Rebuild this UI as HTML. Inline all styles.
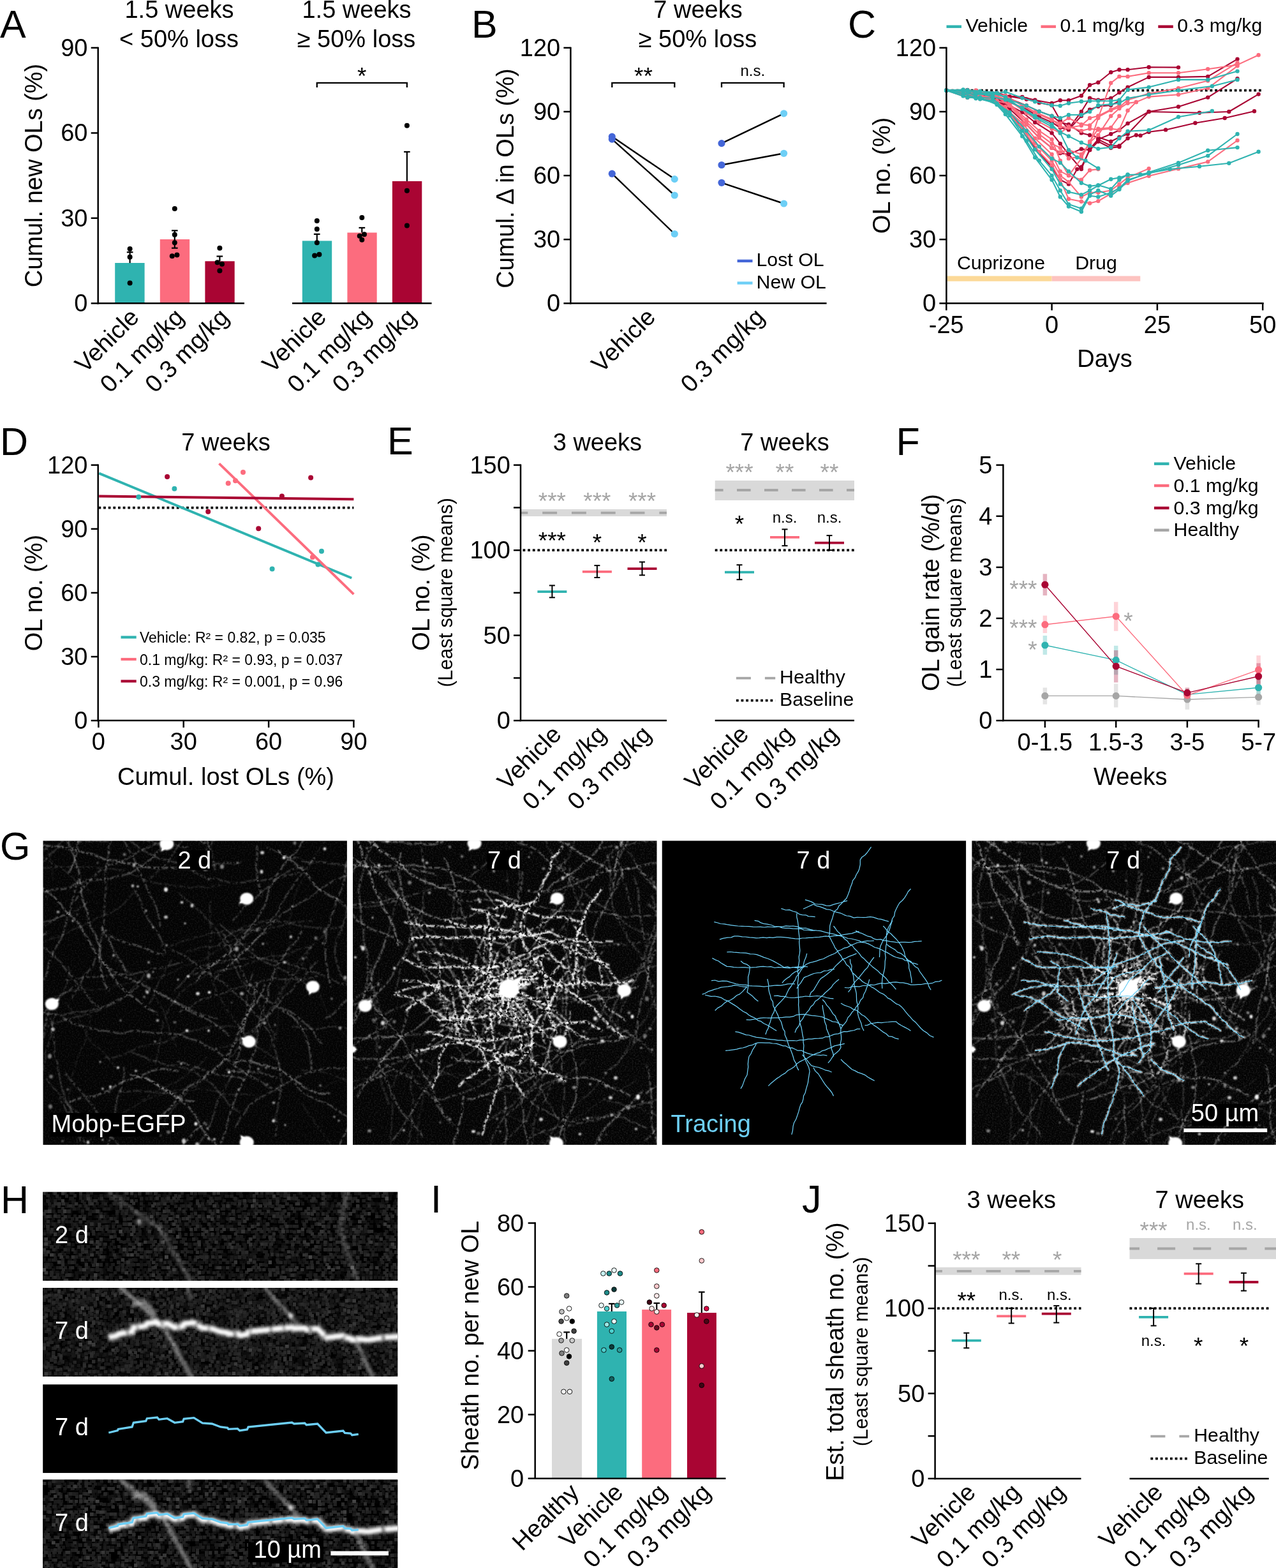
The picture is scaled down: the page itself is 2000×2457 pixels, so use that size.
<!DOCTYPE html>
<html><head><meta charset="utf-8"><title>Figure</title>
<style>
html,body{margin:0;padding:0;background:#fff;}
body{width:2000px;height:2457px;overflow:hidden;}
svg{display:block;font-family:"Liberation Sans",Arial,Helvetica,sans-serif;}
</style></head><body>
<svg width="2000" height="2457" viewBox="0 0 2000 2457">
<rect width="2000" height="2457" fill="#fff"/>
<text x="0.0" y="59.4" font-size="61" text-anchor="start" fill="#000" >A</text>
<rect x="180.2" y="412.0" width="46.4" height="63.3" fill="#2FB3B0" />
<rect x="250.8" y="375.0" width="46.4" height="100.3" fill="#FC6C7E" />
<rect x="321.4" y="409.3" width="46.3" height="66.0" fill="#A90533" />
<rect x="473.8" y="377.4" width="46.4" height="97.9" fill="#2FB3B0" />
<rect x="544.4" y="364.5" width="46.3" height="110.8" fill="#FC6C7E" />
<rect x="614.9" y="283.9" width="46.4" height="191.4" fill="#A90533" />
<line x1="153.7" y1="73.7" x2="153.7" y2="476.6" stroke="#000" stroke-width="2.5" />
<line x1="142.7" y1="74.9" x2="153.7" y2="74.9" stroke="#000" stroke-width="2.5" />
<text x="137.5" y="87.9" font-size="38" text-anchor="end" fill="#000" >90</text>
<line x1="142.7" y1="208.4" x2="153.7" y2="208.4" stroke="#000" stroke-width="2.5" />
<text x="137.5" y="221.4" font-size="38" text-anchor="end" fill="#000" >60</text>
<line x1="142.7" y1="341.8" x2="153.7" y2="341.8" stroke="#000" stroke-width="2.5" />
<text x="137.5" y="354.8" font-size="38" text-anchor="end" fill="#000" >30</text>
<line x1="142.7" y1="475.3" x2="153.7" y2="475.3" stroke="#000" stroke-width="2.5" />
<text x="137.5" y="488.3" font-size="38" text-anchor="end" fill="#000" >0</text>
<line x1="152.4" y1="475.3" x2="383.0" y2="475.3" stroke="#000" stroke-width="2.5" />
<line x1="458.0" y1="475.3" x2="676.6" y2="475.3" stroke="#000" stroke-width="2.5" />
<line x1="203.6" y1="395.2" x2="203.6" y2="412.1" stroke="#000" stroke-width="2.2" />
<line x1="198.8" y1="395.2" x2="208.5" y2="395.2" stroke="#000" stroke-width="2.2" />
<line x1="273.8" y1="361.3" x2="273.8" y2="388.7" stroke="#000" stroke-width="2.2" />
<line x1="269.0" y1="361.3" x2="278.6" y2="361.3" stroke="#000" stroke-width="2.2" />
<line x1="269.0" y1="388.7" x2="278.6" y2="388.7" stroke="#000" stroke-width="2.2" />
<line x1="344.4" y1="401.6" x2="344.4" y2="409.3" stroke="#000" stroke-width="2.2" />
<line x1="339.5" y1="401.6" x2="349.2" y2="401.6" stroke="#000" stroke-width="2.2" />
<line x1="496.8" y1="366.9" x2="496.8" y2="377.4" stroke="#000" stroke-width="2.2" />
<line x1="491.9" y1="366.9" x2="501.6" y2="366.9" stroke="#000" stroke-width="2.2" />
<line x1="567.3" y1="356.9" x2="567.3" y2="364.5" stroke="#000" stroke-width="2.2" />
<line x1="562.5" y1="356.9" x2="572.2" y2="356.9" stroke="#000" stroke-width="2.2" />
<line x1="637.9" y1="237.9" x2="637.9" y2="283.9" stroke="#000" stroke-width="2.2" />
<line x1="633.1" y1="237.9" x2="642.7" y2="237.9" stroke="#000" stroke-width="2.2" />
<circle cx="203.6" cy="389.9" r="4" fill="#000" />
<circle cx="203.6" cy="402.8" r="4" fill="#000" />
<circle cx="203.6" cy="443.5" r="4" fill="#000" />
<circle cx="273.8" cy="327.0" r="4" fill="#000" />
<circle cx="273.8" cy="367.7" r="4" fill="#000" />
<circle cx="273.8" cy="380.2" r="4" fill="#000" />
<circle cx="269.8" cy="401.2" r="4" fill="#000" />
<circle cx="277.4" cy="399.6" r="4" fill="#000" />
<circle cx="344.4" cy="388.7" r="4" fill="#000" />
<circle cx="340.7" cy="411.3" r="4" fill="#000" />
<circle cx="348.0" cy="413.7" r="4" fill="#000" />
<circle cx="344.4" cy="424.2" r="4" fill="#000" />
<circle cx="496.8" cy="346.0" r="4" fill="#000" />
<circle cx="496.8" cy="358.9" r="4" fill="#000" />
<circle cx="496.8" cy="380.2" r="4" fill="#000" />
<circle cx="493.1" cy="400.4" r="4" fill="#000" />
<circle cx="500.4" cy="398.8" r="4" fill="#000" />
<circle cx="567.3" cy="341.1" r="4" fill="#000" />
<circle cx="563.7" cy="369.8" r="4" fill="#000" />
<circle cx="571.0" cy="367.3" r="4" fill="#000" />
<circle cx="567.3" cy="375.8" r="4" fill="#000" />
<circle cx="637.9" cy="196.8" r="4" fill="#000" />
<circle cx="637.9" cy="298.8" r="4" fill="#000" />
<circle cx="637.9" cy="353.6" r="4" fill="#000" />
<polyline points="496.8,137.1 496.8,129.8 637.9,129.8 637.9,137.1" fill="none" stroke="#000" stroke-width="2.3" />
<text x="567.3" y="132.1" font-size="37" text-anchor="middle" fill="#000" >*</text>
<text x="281.0" y="27.6" font-size="38" text-anchor="middle" fill="#000" >1.5 weeks</text>
<text x="280.5" y="74.0" font-size="38" text-anchor="middle" fill="#000" >&lt; 50% loss</text>
<text x="559.0" y="27.6" font-size="38" text-anchor="middle" fill="#000" >1.5 weeks</text>
<text x="558.5" y="74.0" font-size="38" text-anchor="middle" fill="#000" >≥ 50% loss</text>
<text x="65.8" y="275.0" font-size="38" text-anchor="middle" fill="#000" transform="rotate(-90 65.8 275.0)" >Cumul. new OLs (%)</text>
<text x="219.9" y="499.3" font-size="38" text-anchor="end" fill="#000" transform="rotate(-45 219.9 499.3)" >Vehicle</text>
<text x="290.5" y="499.3" font-size="38" text-anchor="end" fill="#000" transform="rotate(-45 290.5 499.3)" >0.1 mg/kg</text>
<text x="361.0" y="499.3" font-size="38" text-anchor="end" fill="#000" transform="rotate(-45 361.0 499.3)" >0.3 mg/kg</text>
<text x="513.5" y="499.3" font-size="38" text-anchor="end" fill="#000" transform="rotate(-45 513.5 499.3)" >Vehicle</text>
<text x="584.0" y="499.3" font-size="38" text-anchor="end" fill="#000" transform="rotate(-45 584.0 499.3)" >0.1 mg/kg</text>
<text x="654.5" y="499.3" font-size="38" text-anchor="end" fill="#000" transform="rotate(-45 654.5 499.3)" >0.3 mg/kg</text>
<text x="739.0" y="59.4" font-size="61" text-anchor="start" fill="#000" >B</text>
<line x1="894.4" y1="73.7" x2="894.4" y2="476.6" stroke="#000" stroke-width="2.5" />
<line x1="883.4" y1="74.9" x2="894.4" y2="74.9" stroke="#000" stroke-width="2.5" />
<text x="878.2" y="87.9" font-size="38" text-anchor="end" fill="#000" >120</text>
<line x1="883.4" y1="175.0" x2="894.4" y2="175.0" stroke="#000" stroke-width="2.5" />
<text x="878.2" y="188.0" font-size="38" text-anchor="end" fill="#000" >90</text>
<line x1="883.4" y1="275.1" x2="894.4" y2="275.1" stroke="#000" stroke-width="2.5" />
<text x="878.2" y="288.1" font-size="38" text-anchor="end" fill="#000" >60</text>
<line x1="883.4" y1="375.2" x2="894.4" y2="375.2" stroke="#000" stroke-width="2.5" />
<text x="878.2" y="388.2" font-size="38" text-anchor="end" fill="#000" >30</text>
<line x1="883.4" y1="475.3" x2="894.4" y2="475.3" stroke="#000" stroke-width="2.5" />
<text x="878.2" y="488.3" font-size="38" text-anchor="end" fill="#000" >0</text>
<line x1="893.1" y1="475.3" x2="1295.6" y2="475.3" stroke="#000" stroke-width="2.5" />
<line x1="959.3" y1="214.1" x2="1057.3" y2="280.6" stroke="#000" stroke-width="2.4" />
<line x1="959.3" y1="218.1" x2="1057.3" y2="306.0" stroke="#000" stroke-width="2.4" />
<line x1="959.3" y1="272.2" x2="1057.3" y2="366.5" stroke="#000" stroke-width="2.4" />
<line x1="1131.0" y1="224.6" x2="1228.6" y2="177.8" stroke="#000" stroke-width="2.4" />
<line x1="1131.0" y1="258.5" x2="1228.6" y2="240.3" stroke="#000" stroke-width="2.4" />
<line x1="1131.0" y1="286.3" x2="1228.6" y2="319.0" stroke="#000" stroke-width="2.4" />
<circle cx="959.3" cy="214.1" r="5.6" fill="#4466D8" />
<circle cx="1057.3" cy="280.6" r="5.6" fill="#6DCFF6" />
<circle cx="959.3" cy="218.1" r="5.6" fill="#4466D8" />
<circle cx="1057.3" cy="306.0" r="5.6" fill="#6DCFF6" />
<circle cx="959.3" cy="272.2" r="5.6" fill="#4466D8" />
<circle cx="1057.3" cy="366.5" r="5.6" fill="#6DCFF6" />
<circle cx="1131.0" cy="224.6" r="5.6" fill="#4466D8" />
<circle cx="1228.6" cy="177.8" r="5.6" fill="#6DCFF6" />
<circle cx="1131.0" cy="258.5" r="5.6" fill="#4466D8" />
<circle cx="1228.6" cy="240.3" r="5.6" fill="#6DCFF6" />
<circle cx="1131.0" cy="286.3" r="5.6" fill="#4466D8" />
<circle cx="1228.6" cy="319.0" r="5.6" fill="#6DCFF6" />
<polyline points="959.3,137.1 959.3,129.8 1057.3,129.8 1057.3,137.1" fill="none" stroke="#000" stroke-width="2.3" />
<polyline points="1131.0,137.1 1131.0,129.8 1228.6,129.8 1228.6,137.1" fill="none" stroke="#000" stroke-width="2.3" />
<text x="1008.5" y="132.1" font-size="37" text-anchor="middle" fill="#000" >**</text>
<text x="1179.8" y="119.0" font-size="24" text-anchor="middle" fill="#000" >n.s.</text>
<text x="1094.0" y="27.6" font-size="38" text-anchor="middle" fill="#000" >7 weeks</text>
<text x="1093.5" y="74.0" font-size="38" text-anchor="middle" fill="#000" >≥ 50% loss</text>
<text x="805.2" y="279.5" font-size="38" text-anchor="middle" fill="#000" transform="rotate(-90 805.2 279.5)" >Cumul. Δ in OLs (%)</text>
<line x1="1155.6" y1="408.9" x2="1179.5" y2="408.9" stroke="#4466D8" stroke-width="4.4" />
<text x="1185.5" y="416.5" font-size="30.3" text-anchor="start" fill="#000" >Lost OL</text>
<line x1="1155.6" y1="443.5" x2="1179.5" y2="443.5" stroke="#6DCFF6" stroke-width="4.4" />
<text x="1185.5" y="451.5" font-size="30.3" text-anchor="start" fill="#000" >New OL</text>
<text x="1029.5" y="499.0" font-size="38" text-anchor="end" fill="#000" transform="rotate(-45 1029.5 499.0)" >Vehicle</text>
<text x="1200.5" y="499.0" font-size="38" text-anchor="end" fill="#000" transform="rotate(-45 1200.5 499.0)" >0.3 mg/kg</text>
<text x="1329.0" y="59.4" font-size="61" text-anchor="start" fill="#000" >C</text>
<rect x="1484.5" y="432.5" width="164.1" height="8.2" fill="#FCD998" />
<rect x="1648.6" y="432.5" width="138.7" height="8.2" fill="#FDC3C0" />
<text x="1569.0" y="422.2" font-size="30.3" text-anchor="middle" fill="#000" >Cuprizone</text>
<text x="1718.0" y="422.2" font-size="30.3" text-anchor="middle" fill="#000" >Drug</text>
<line x1="1483.4" y1="141.6" x2="1979.4" y2="141.6" stroke="#000" stroke-width="3.8" stroke-dasharray="3.8 3.85"/>
<polyline points="1483.3,141.6 1509.7,143.0 1529.6,147.5 1556.0,145.9 1575.9,150.2 1602.3,151.9 1622.2,156.7 1648.6,161.7 1661.8,157.3 1675.0,157.3 1694.9,150.0 1708.1,133.3 1721.3,129.3 1741.2,113.3 1754.4,109.3 1767.6,109.3 1800.7,105.3 1847.0,105.6" fill="none" stroke="#A90533" stroke-width="2.1" stroke-linejoin="round"/>
<g fill="#A90533"><circle cx="1483.3" cy="141.6" r="3.2"/><circle cx="1509.7" cy="143.0" r="3.2"/><circle cx="1529.6" cy="147.5" r="3.2"/><circle cx="1556.0" cy="145.9" r="3.2"/><circle cx="1575.9" cy="150.2" r="3.2"/><circle cx="1602.3" cy="151.9" r="3.2"/><circle cx="1622.2" cy="156.7" r="3.2"/><circle cx="1648.6" cy="161.7" r="3.2"/><circle cx="1661.8" cy="157.3" r="3.2"/><circle cx="1675.0" cy="157.3" r="3.2"/><circle cx="1694.9" cy="150.0" r="3.2"/><circle cx="1708.1" cy="133.3" r="3.2"/><circle cx="1721.3" cy="129.3" r="3.2"/><circle cx="1741.2" cy="113.3" r="3.2"/><circle cx="1754.4" cy="109.3" r="3.2"/><circle cx="1767.6" cy="109.3" r="3.2"/><circle cx="1800.7" cy="105.3" r="3.2"/><circle cx="1847.0" cy="105.6" r="3.2"/></g>
<polyline points="1483.3,141.6 1516.4,140.9 1536.2,146.9 1562.6,145.4 1582.5,151.2 1608.9,155.5 1628.8,160.9 1648.6,165.0 1661.8,188.3 1675.0,201.7 1694.9,175.0 1708.1,153.6 1721.3,156.6 1741.2,154.0 1754.4,145.0 1767.6,136.6 1800.7,120.9 1847.0,120.9 1893.2,119.9 1939.5,92.6" fill="none" stroke="#A90533" stroke-width="2.1" stroke-linejoin="round"/>
<g fill="#A90533"><circle cx="1483.3" cy="141.6" r="3.2"/><circle cx="1516.4" cy="140.9" r="3.2"/><circle cx="1536.2" cy="146.9" r="3.2"/><circle cx="1562.6" cy="145.4" r="3.2"/><circle cx="1582.5" cy="151.2" r="3.2"/><circle cx="1608.9" cy="155.5" r="3.2"/><circle cx="1628.8" cy="160.9" r="3.2"/><circle cx="1648.6" cy="165.0" r="3.2"/><circle cx="1661.8" cy="188.3" r="3.2"/><circle cx="1675.0" cy="201.7" r="3.2"/><circle cx="1694.9" cy="175.0" r="3.2"/><circle cx="1708.1" cy="153.6" r="3.2"/><circle cx="1721.3" cy="156.6" r="3.2"/><circle cx="1741.2" cy="154.0" r="3.2"/><circle cx="1754.4" cy="145.0" r="3.2"/><circle cx="1767.6" cy="136.6" r="3.2"/><circle cx="1800.7" cy="120.9" r="3.2"/><circle cx="1847.0" cy="120.9" r="3.2"/><circle cx="1893.2" cy="119.9" r="3.2"/><circle cx="1939.5" cy="92.6" r="3.2"/></g>
<polyline points="1483.3,141.6 1509.7,144.6 1529.6,150.1 1556.0,151.2 1575.9,161.6 1602.3,175.8 1622.2,191.7 1648.6,208.4 1661.8,225.1 1675.0,241.7 1694.9,265.1 1708.1,233.4 1721.3,218.4 1741.2,210.0 1754.4,204.0 1767.6,193.4 1800.7,175.0 1847.0,167.3 1893.2,152.6 1939.5,123.3" fill="none" stroke="#A90533" stroke-width="2.1" stroke-linejoin="round"/>
<g fill="#A90533"><circle cx="1483.3" cy="141.6" r="3.2"/><circle cx="1509.7" cy="144.6" r="3.2"/><circle cx="1529.6" cy="150.1" r="3.2"/><circle cx="1556.0" cy="151.2" r="3.2"/><circle cx="1575.9" cy="161.6" r="3.2"/><circle cx="1602.3" cy="175.8" r="3.2"/><circle cx="1622.2" cy="191.7" r="3.2"/><circle cx="1648.6" cy="208.4" r="3.2"/><circle cx="1661.8" cy="225.1" r="3.2"/><circle cx="1675.0" cy="241.7" r="3.2"/><circle cx="1694.9" cy="265.1" r="3.2"/><circle cx="1708.1" cy="233.4" r="3.2"/><circle cx="1721.3" cy="218.4" r="3.2"/><circle cx="1741.2" cy="210.0" r="3.2"/><circle cx="1754.4" cy="204.0" r="3.2"/><circle cx="1767.6" cy="193.4" r="3.2"/><circle cx="1800.7" cy="175.0" r="3.2"/><circle cx="1847.0" cy="167.3" r="3.2"/><circle cx="1893.2" cy="152.6" r="3.2"/><circle cx="1939.5" cy="123.3" r="3.2"/></g>
<polyline points="1483.3,141.6 1516.4,142.4 1536.2,146.6 1562.6,155.1 1582.5,170.4 1608.9,195.0 1628.8,215.9 1648.6,231.7 1661.8,240.1 1675.0,241.7 1694.9,233.4 1708.1,235.1 1721.3,218.4 1741.2,228.4 1754.4,228.4 1767.6,216.7 1780.8,211.7 1787.5,212.4 1800.7,206.7 1827.1,203.4 1873.4,192.7 1919.7,185.0 1966.0,174.3" fill="none" stroke="#A90533" stroke-width="2.1" stroke-linejoin="round"/>
<g fill="#A90533"><circle cx="1483.3" cy="141.6" r="3.2"/><circle cx="1516.4" cy="142.4" r="3.2"/><circle cx="1536.2" cy="146.6" r="3.2"/><circle cx="1562.6" cy="155.1" r="3.2"/><circle cx="1582.5" cy="170.4" r="3.2"/><circle cx="1608.9" cy="195.0" r="3.2"/><circle cx="1628.8" cy="215.9" r="3.2"/><circle cx="1648.6" cy="231.7" r="3.2"/><circle cx="1661.8" cy="240.1" r="3.2"/><circle cx="1675.0" cy="241.7" r="3.2"/><circle cx="1694.9" cy="233.4" r="3.2"/><circle cx="1708.1" cy="235.1" r="3.2"/><circle cx="1721.3" cy="218.4" r="3.2"/><circle cx="1741.2" cy="228.4" r="3.2"/><circle cx="1754.4" cy="228.4" r="3.2"/><circle cx="1767.6" cy="216.7" r="3.2"/><circle cx="1780.8" cy="211.7" r="3.2"/><circle cx="1787.5" cy="212.4" r="3.2"/><circle cx="1800.7" cy="206.7" r="3.2"/><circle cx="1827.1" cy="203.4" r="3.2"/><circle cx="1873.4" cy="192.7" r="3.2"/><circle cx="1919.7" cy="185.0" r="3.2"/><circle cx="1966.0" cy="174.3" r="3.2"/></g>
<polyline points="1483.3,141.6 1516.4,144.1 1536.2,146.5 1562.6,147.3 1582.5,154.6 1608.9,165.4 1628.8,174.6 1648.6,181.7 1661.8,191.7 1675.0,195.0 1694.9,208.4 1708.1,211.7 1721.3,215.0 1741.2,221.7 1754.4,215.0 1767.6,210.0 1800.7,175.0 1880.0,176.7 1926.3,175.0 1972.6,147.6" fill="none" stroke="#A90533" stroke-width="2.1" stroke-linejoin="round"/>
<g fill="#A90533"><circle cx="1483.3" cy="141.6" r="3.2"/><circle cx="1516.4" cy="144.1" r="3.2"/><circle cx="1536.2" cy="146.5" r="3.2"/><circle cx="1562.6" cy="147.3" r="3.2"/><circle cx="1582.5" cy="154.6" r="3.2"/><circle cx="1608.9" cy="165.4" r="3.2"/><circle cx="1628.8" cy="174.6" r="3.2"/><circle cx="1648.6" cy="181.7" r="3.2"/><circle cx="1661.8" cy="191.7" r="3.2"/><circle cx="1675.0" cy="195.0" r="3.2"/><circle cx="1694.9" cy="208.4" r="3.2"/><circle cx="1708.1" cy="211.7" r="3.2"/><circle cx="1721.3" cy="215.0" r="3.2"/><circle cx="1741.2" cy="221.7" r="3.2"/><circle cx="1754.4" cy="215.0" r="3.2"/><circle cx="1767.6" cy="210.0" r="3.2"/><circle cx="1800.7" cy="175.0" r="3.2"/><circle cx="1880.0" cy="176.7" r="3.2"/><circle cx="1926.3" cy="175.0" r="3.2"/><circle cx="1972.6" cy="147.6" r="3.2"/></g>
<polyline points="1483.3,141.6 1509.7,142.8 1529.6,146.7 1556.0,155.7 1575.9,165.8 1602.3,203.2 1622.2,231.8 1648.6,261.8 1661.8,281.8 1675.0,288.4 1688.3,265.1 1694.9,261.8 1708.1,235.1 1721.3,221.7 1741.2,231.7 1754.4,230.1" fill="none" stroke="#A90533" stroke-width="2.1" stroke-linejoin="round"/>
<g fill="#A90533"><circle cx="1483.3" cy="141.6" r="3.2"/><circle cx="1509.7" cy="142.8" r="3.2"/><circle cx="1529.6" cy="146.7" r="3.2"/><circle cx="1556.0" cy="155.7" r="3.2"/><circle cx="1575.9" cy="165.8" r="3.2"/><circle cx="1602.3" cy="203.2" r="3.2"/><circle cx="1622.2" cy="231.8" r="3.2"/><circle cx="1648.6" cy="261.8" r="3.2"/><circle cx="1661.8" cy="281.8" r="3.2"/><circle cx="1675.0" cy="288.4" r="3.2"/><circle cx="1688.3" cy="265.1" r="3.2"/><circle cx="1694.9" cy="261.8" r="3.2"/><circle cx="1708.1" cy="235.1" r="3.2"/><circle cx="1721.3" cy="221.7" r="3.2"/><circle cx="1741.2" cy="231.7" r="3.2"/><circle cx="1754.4" cy="230.1" r="3.2"/></g>
<polyline points="1483.3,141.6 1516.4,146.6 1536.2,149.5 1562.6,150.2 1582.5,160.3 1608.9,171.3 1628.8,182.9 1648.6,191.7 1661.8,200.0 1675.0,203.4 1694.9,181.7 1708.1,171.7 1721.3,166.7 1741.2,165.0 1754.4,158.3" fill="none" stroke="#A90533" stroke-width="2.1" stroke-linejoin="round"/>
<g fill="#A90533"><circle cx="1483.3" cy="141.6" r="3.2"/><circle cx="1516.4" cy="146.6" r="3.2"/><circle cx="1536.2" cy="149.5" r="3.2"/><circle cx="1562.6" cy="150.2" r="3.2"/><circle cx="1582.5" cy="160.3" r="3.2"/><circle cx="1608.9" cy="171.3" r="3.2"/><circle cx="1628.8" cy="182.9" r="3.2"/><circle cx="1648.6" cy="191.7" r="3.2"/><circle cx="1661.8" cy="200.0" r="3.2"/><circle cx="1675.0" cy="203.4" r="3.2"/><circle cx="1694.9" cy="181.7" r="3.2"/><circle cx="1708.1" cy="171.7" r="3.2"/><circle cx="1721.3" cy="166.7" r="3.2"/><circle cx="1741.2" cy="165.0" r="3.2"/><circle cx="1754.4" cy="158.3" r="3.2"/></g>
<polyline points="1483.3,141.6 1516.4,153.1 1536.2,151.0 1562.6,151.7 1582.5,165.8 1608.9,195.0 1628.8,215.9 1648.6,231.7 1661.8,238.4 1675.0,235.1 1694.9,241.7 1708.1,225.1 1721.3,185.0 1741.2,130.0 1754.4,119.9 1767.6,119.9 1800.7,114.3 1847.0,114.3 1893.2,108.3 1939.5,101.6 1972.6,86.2" fill="none" stroke="#FC6C7E" stroke-width="2.1" stroke-linejoin="round"/>
<g fill="#FC6C7E"><circle cx="1483.3" cy="141.6" r="3.2"/><circle cx="1516.4" cy="153.1" r="3.2"/><circle cx="1536.2" cy="151.0" r="3.2"/><circle cx="1562.6" cy="151.7" r="3.2"/><circle cx="1582.5" cy="165.8" r="3.2"/><circle cx="1608.9" cy="195.0" r="3.2"/><circle cx="1628.8" cy="215.9" r="3.2"/><circle cx="1648.6" cy="231.7" r="3.2"/><circle cx="1661.8" cy="238.4" r="3.2"/><circle cx="1675.0" cy="235.1" r="3.2"/><circle cx="1694.9" cy="241.7" r="3.2"/><circle cx="1708.1" cy="225.1" r="3.2"/><circle cx="1721.3" cy="185.0" r="3.2"/><circle cx="1741.2" cy="130.0" r="3.2"/><circle cx="1754.4" cy="119.9" r="3.2"/><circle cx="1767.6" cy="119.9" r="3.2"/><circle cx="1800.7" cy="114.3" r="3.2"/><circle cx="1847.0" cy="114.3" r="3.2"/><circle cx="1893.2" cy="108.3" r="3.2"/><circle cx="1939.5" cy="101.6" r="3.2"/><circle cx="1972.6" cy="86.2" r="3.2"/></g>
<polyline points="1483.3,141.6 1509.7,147.4 1529.6,144.5 1556.0,146.2 1575.9,149.8 1602.3,165.6 1622.2,176.7 1648.6,188.3 1661.8,193.4 1675.0,185.0 1694.9,195.0 1708.1,196.4 1721.3,183.3 1741.2,172.7 1754.4,168.3 1767.6,156.6 1800.7,146.6 1847.0,138.3 1893.2,126.6 1939.5,98.3" fill="none" stroke="#FC6C7E" stroke-width="2.1" stroke-linejoin="round"/>
<g fill="#FC6C7E"><circle cx="1483.3" cy="141.6" r="3.2"/><circle cx="1509.7" cy="147.4" r="3.2"/><circle cx="1529.6" cy="144.5" r="3.2"/><circle cx="1556.0" cy="146.2" r="3.2"/><circle cx="1575.9" cy="149.8" r="3.2"/><circle cx="1602.3" cy="165.6" r="3.2"/><circle cx="1622.2" cy="176.7" r="3.2"/><circle cx="1648.6" cy="188.3" r="3.2"/><circle cx="1661.8" cy="193.4" r="3.2"/><circle cx="1675.0" cy="185.0" r="3.2"/><circle cx="1694.9" cy="195.0" r="3.2"/><circle cx="1708.1" cy="196.4" r="3.2"/><circle cx="1721.3" cy="183.3" r="3.2"/><circle cx="1741.2" cy="172.7" r="3.2"/><circle cx="1754.4" cy="168.3" r="3.2"/><circle cx="1767.6" cy="156.6" r="3.2"/><circle cx="1800.7" cy="146.6" r="3.2"/><circle cx="1847.0" cy="138.3" r="3.2"/><circle cx="1893.2" cy="126.6" r="3.2"/><circle cx="1939.5" cy="98.3" r="3.2"/></g>
<polyline points="1483.3,141.6 1516.4,144.9 1536.2,151.3 1562.6,150.1 1582.5,158.2 1608.9,177.2 1628.8,191.1 1648.6,201.7 1661.8,208.4 1675.0,198.4 1694.9,205.0 1708.1,201.7 1721.3,203.4 1741.2,201.7 1754.4,203.4 1767.6,173.3 1780.8,160.0 1800.7,151.6 1847.0,148.3 1893.2,138.3 1939.5,103.3" fill="none" stroke="#FC6C7E" stroke-width="2.1" stroke-linejoin="round"/>
<g fill="#FC6C7E"><circle cx="1483.3" cy="141.6" r="3.2"/><circle cx="1516.4" cy="144.9" r="3.2"/><circle cx="1536.2" cy="151.3" r="3.2"/><circle cx="1562.6" cy="150.1" r="3.2"/><circle cx="1582.5" cy="158.2" r="3.2"/><circle cx="1608.9" cy="177.2" r="3.2"/><circle cx="1628.8" cy="191.1" r="3.2"/><circle cx="1648.6" cy="201.7" r="3.2"/><circle cx="1661.8" cy="208.4" r="3.2"/><circle cx="1675.0" cy="198.4" r="3.2"/><circle cx="1694.9" cy="205.0" r="3.2"/><circle cx="1708.1" cy="201.7" r="3.2"/><circle cx="1721.3" cy="203.4" r="3.2"/><circle cx="1741.2" cy="201.7" r="3.2"/><circle cx="1754.4" cy="203.4" r="3.2"/><circle cx="1767.6" cy="173.3" r="3.2"/><circle cx="1780.8" cy="160.0" r="3.2"/><circle cx="1800.7" cy="151.6" r="3.2"/><circle cx="1847.0" cy="148.3" r="3.2"/><circle cx="1893.2" cy="138.3" r="3.2"/><circle cx="1939.5" cy="103.3" r="3.2"/></g>
<polyline points="1483.3,141.6 1516.4,150.2 1536.2,155.1 1562.6,158.2 1582.5,178.4 1608.9,210.8 1628.8,237.9 1648.6,258.4 1661.8,281.8 1675.0,311.8 1694.9,315.8 1708.1,318.5 1721.3,315.1 1741.2,303.5 1754.4,293.5 1767.6,286.8 1800.7,275.8 1847.0,264.4 1893.2,253.4 1939.5,220.0" fill="none" stroke="#FC6C7E" stroke-width="2.1" stroke-linejoin="round"/>
<g fill="#FC6C7E"><circle cx="1483.3" cy="141.6" r="3.2"/><circle cx="1516.4" cy="150.2" r="3.2"/><circle cx="1536.2" cy="155.1" r="3.2"/><circle cx="1562.6" cy="158.2" r="3.2"/><circle cx="1582.5" cy="178.4" r="3.2"/><circle cx="1608.9" cy="210.8" r="3.2"/><circle cx="1628.8" cy="237.9" r="3.2"/><circle cx="1648.6" cy="258.4" r="3.2"/><circle cx="1661.8" cy="281.8" r="3.2"/><circle cx="1675.0" cy="311.8" r="3.2"/><circle cx="1694.9" cy="315.8" r="3.2"/><circle cx="1708.1" cy="318.5" r="3.2"/><circle cx="1721.3" cy="315.1" r="3.2"/><circle cx="1741.2" cy="303.5" r="3.2"/><circle cx="1754.4" cy="293.5" r="3.2"/><circle cx="1767.6" cy="286.8" r="3.2"/><circle cx="1800.7" cy="275.8" r="3.2"/><circle cx="1847.0" cy="264.4" r="3.2"/><circle cx="1893.2" cy="253.4" r="3.2"/><circle cx="1939.5" cy="220.0" r="3.2"/></g>
<polyline points="1483.3,141.6 1509.7,147.5 1529.6,147.9 1556.0,158.3 1575.9,167.3 1602.3,198.0 1622.2,224.3 1648.6,251.7 1661.8,275.1 1675.0,285.1 1694.9,308.5 1708.1,301.8 1721.3,301.8 1741.2,298.5 1754.4,288.4 1767.6,278.4 1800.7,264.1" fill="none" stroke="#FC6C7E" stroke-width="2.1" stroke-linejoin="round"/>
<g fill="#FC6C7E"><circle cx="1483.3" cy="141.6" r="3.2"/><circle cx="1509.7" cy="147.5" r="3.2"/><circle cx="1529.6" cy="147.9" r="3.2"/><circle cx="1556.0" cy="158.3" r="3.2"/><circle cx="1575.9" cy="167.3" r="3.2"/><circle cx="1602.3" cy="198.0" r="3.2"/><circle cx="1622.2" cy="224.3" r="3.2"/><circle cx="1648.6" cy="251.7" r="3.2"/><circle cx="1661.8" cy="275.1" r="3.2"/><circle cx="1675.0" cy="285.1" r="3.2"/><circle cx="1694.9" cy="308.5" r="3.2"/><circle cx="1708.1" cy="301.8" r="3.2"/><circle cx="1721.3" cy="301.8" r="3.2"/><circle cx="1741.2" cy="298.5" r="3.2"/><circle cx="1754.4" cy="288.4" r="3.2"/><circle cx="1767.6" cy="278.4" r="3.2"/><circle cx="1800.7" cy="264.1" r="3.2"/></g>
<polyline points="1483.3,141.6 1516.4,148.9 1536.2,149.3 1562.6,157.9 1582.5,162.8 1608.9,187.1 1628.8,204.9 1648.6,218.4 1661.8,251.7 1675.0,275.1 1694.9,281.8 1708.1,266.8 1721.3,265.1" fill="none" stroke="#FC6C7E" stroke-width="2.1" stroke-linejoin="round"/>
<g fill="#FC6C7E"><circle cx="1483.3" cy="141.6" r="3.2"/><circle cx="1516.4" cy="148.9" r="3.2"/><circle cx="1536.2" cy="149.3" r="3.2"/><circle cx="1562.6" cy="157.9" r="3.2"/><circle cx="1582.5" cy="162.8" r="3.2"/><circle cx="1608.9" cy="187.1" r="3.2"/><circle cx="1628.8" cy="204.9" r="3.2"/><circle cx="1648.6" cy="218.4" r="3.2"/><circle cx="1661.8" cy="251.7" r="3.2"/><circle cx="1675.0" cy="275.1" r="3.2"/><circle cx="1694.9" cy="281.8" r="3.2"/><circle cx="1708.1" cy="266.8" r="3.2"/><circle cx="1721.3" cy="265.1" r="3.2"/></g>
<polyline points="1483.3,141.6 1516.4,150.7 1536.2,151.4 1562.6,150.2 1582.5,164.0 1608.9,191.1 1628.8,210.4 1648.6,225.1 1661.8,231.7 1675.0,248.4 1694.9,245.1 1708.1,223.0 1721.3,211.7 1741.2,181.7 1754.4,170.0 1767.6,161.7 1780.8,160.0" fill="none" stroke="#FC6C7E" stroke-width="2.1" stroke-linejoin="round"/>
<g fill="#FC6C7E"><circle cx="1483.3" cy="141.6" r="3.2"/><circle cx="1516.4" cy="150.7" r="3.2"/><circle cx="1536.2" cy="151.4" r="3.2"/><circle cx="1562.6" cy="150.2" r="3.2"/><circle cx="1582.5" cy="164.0" r="3.2"/><circle cx="1608.9" cy="191.1" r="3.2"/><circle cx="1628.8" cy="210.4" r="3.2"/><circle cx="1648.6" cy="225.1" r="3.2"/><circle cx="1661.8" cy="231.7" r="3.2"/><circle cx="1675.0" cy="248.4" r="3.2"/><circle cx="1694.9" cy="245.1" r="3.2"/><circle cx="1708.1" cy="223.0" r="3.2"/><circle cx="1721.3" cy="211.7" r="3.2"/><circle cx="1741.2" cy="181.7" r="3.2"/><circle cx="1754.4" cy="170.0" r="3.2"/><circle cx="1767.6" cy="161.7" r="3.2"/><circle cx="1780.8" cy="160.0" r="3.2"/></g>
<polyline points="1483.3,141.6 1509.7,144.7 1529.6,141.4 1556.0,147.0 1575.9,149.8 1602.3,164.7 1622.2,175.4 1648.6,186.7 1661.8,198.4 1675.0,200.0 1694.9,196.7 1708.1,185.0 1721.3,181.7 1741.2,171.7 1754.4,165.0" fill="none" stroke="#FC6C7E" stroke-width="2.1" stroke-linejoin="round"/>
<g fill="#FC6C7E"><circle cx="1483.3" cy="141.6" r="3.2"/><circle cx="1509.7" cy="144.7" r="3.2"/><circle cx="1529.6" cy="141.4" r="3.2"/><circle cx="1556.0" cy="147.0" r="3.2"/><circle cx="1575.9" cy="149.8" r="3.2"/><circle cx="1602.3" cy="164.7" r="3.2"/><circle cx="1622.2" cy="175.4" r="3.2"/><circle cx="1648.6" cy="186.7" r="3.2"/><circle cx="1661.8" cy="198.4" r="3.2"/><circle cx="1675.0" cy="200.0" r="3.2"/><circle cx="1694.9" cy="196.7" r="3.2"/><circle cx="1708.1" cy="185.0" r="3.2"/><circle cx="1721.3" cy="181.7" r="3.2"/><circle cx="1741.2" cy="171.7" r="3.2"/><circle cx="1754.4" cy="165.0" r="3.2"/></g>
<polyline points="1483.3,141.6 1509.7,146.9 1529.6,145.2 1556.0,156.9 1575.9,170.1 1602.3,192.9 1622.2,216.7 1648.6,241.7 1661.8,268.4 1675.0,275.1 1694.9,248.4 1708.1,221.7 1721.3,201.7 1741.2,200.0 1754.4,181.7" fill="none" stroke="#FC6C7E" stroke-width="2.1" stroke-linejoin="round"/>
<g fill="#FC6C7E"><circle cx="1483.3" cy="141.6" r="3.2"/><circle cx="1509.7" cy="146.9" r="3.2"/><circle cx="1529.6" cy="145.2" r="3.2"/><circle cx="1556.0" cy="156.9" r="3.2"/><circle cx="1575.9" cy="170.1" r="3.2"/><circle cx="1602.3" cy="192.9" r="3.2"/><circle cx="1622.2" cy="216.7" r="3.2"/><circle cx="1648.6" cy="241.7" r="3.2"/><circle cx="1661.8" cy="268.4" r="3.2"/><circle cx="1675.0" cy="275.1" r="3.2"/><circle cx="1694.9" cy="248.4" r="3.2"/><circle cx="1708.1" cy="221.7" r="3.2"/><circle cx="1721.3" cy="201.7" r="3.2"/><circle cx="1741.2" cy="200.0" r="3.2"/><circle cx="1754.4" cy="181.7" r="3.2"/></g>
<polyline points="1483.3,141.6 1509.7,146.2 1529.6,147.7 1556.0,148.0 1575.9,143.7 1602.3,153.6 1622.2,159.2 1648.6,165.0 1661.8,165.7 1675.0,161.7 1694.9,159.0 1708.1,158.3 1721.3,158.3 1741.2,158.3 1754.4,156.6 1767.6,140.6 1800.7,136.6 1847.0,124.9 1893.2,124.9 1939.5,111.6" fill="none" stroke="#2FB3B0" stroke-width="2.1" stroke-linejoin="round"/>
<g fill="#2FB3B0"><circle cx="1483.3" cy="141.6" r="3.2"/><circle cx="1509.7" cy="146.2" r="3.2"/><circle cx="1529.6" cy="147.7" r="3.2"/><circle cx="1556.0" cy="148.0" r="3.2"/><circle cx="1575.9" cy="143.7" r="3.2"/><circle cx="1602.3" cy="153.6" r="3.2"/><circle cx="1622.2" cy="159.2" r="3.2"/><circle cx="1648.6" cy="165.0" r="3.2"/><circle cx="1661.8" cy="165.7" r="3.2"/><circle cx="1675.0" cy="161.7" r="3.2"/><circle cx="1694.9" cy="159.0" r="3.2"/><circle cx="1708.1" cy="158.3" r="3.2"/><circle cx="1721.3" cy="158.3" r="3.2"/><circle cx="1741.2" cy="158.3" r="3.2"/><circle cx="1754.4" cy="156.6" r="3.2"/><circle cx="1767.6" cy="140.6" r="3.2"/><circle cx="1800.7" cy="136.6" r="3.2"/><circle cx="1847.0" cy="124.9" r="3.2"/><circle cx="1893.2" cy="124.9" r="3.2"/><circle cx="1939.5" cy="111.6" r="3.2"/></g>
<polyline points="1483.3,141.6 1516.4,141.1 1536.2,142.9 1562.6,145.4 1582.5,156.8 1608.9,165.4 1628.8,174.6 1648.6,181.7 1661.8,185.0 1675.0,180.0 1694.9,180.0 1708.1,175.0 1721.3,165.0 1741.2,163.3 1754.4,161.7 1767.6,154.0 1800.7,148.3 1847.0,141.6 1899.9,135.0 1939.5,124.9" fill="none" stroke="#2FB3B0" stroke-width="2.1" stroke-linejoin="round"/>
<g fill="#2FB3B0"><circle cx="1483.3" cy="141.6" r="3.2"/><circle cx="1516.4" cy="141.1" r="3.2"/><circle cx="1536.2" cy="142.9" r="3.2"/><circle cx="1562.6" cy="145.4" r="3.2"/><circle cx="1582.5" cy="156.8" r="3.2"/><circle cx="1608.9" cy="165.4" r="3.2"/><circle cx="1628.8" cy="174.6" r="3.2"/><circle cx="1648.6" cy="181.7" r="3.2"/><circle cx="1661.8" cy="185.0" r="3.2"/><circle cx="1675.0" cy="180.0" r="3.2"/><circle cx="1694.9" cy="180.0" r="3.2"/><circle cx="1708.1" cy="175.0" r="3.2"/><circle cx="1721.3" cy="165.0" r="3.2"/><circle cx="1741.2" cy="163.3" r="3.2"/><circle cx="1754.4" cy="161.7" r="3.2"/><circle cx="1767.6" cy="154.0" r="3.2"/><circle cx="1800.7" cy="148.3" r="3.2"/><circle cx="1847.0" cy="141.6" r="3.2"/><circle cx="1899.9" cy="135.0" r="3.2"/><circle cx="1939.5" cy="124.9" r="3.2"/></g>
<polyline points="1483.3,141.6 1509.7,140.5 1529.6,145.7 1556.0,146.1 1575.9,152.2 1602.3,170.7 1622.2,184.2 1648.6,198.4 1661.8,206.7 1675.0,213.4 1694.9,223.4 1708.1,228.4 1721.3,233.1 1741.2,230.7 1754.4,216.7 1767.6,205.7 1800.7,204.0 1847.0,183.3 1899.9,174.0" fill="none" stroke="#2FB3B0" stroke-width="2.1" stroke-linejoin="round"/>
<g fill="#2FB3B0"><circle cx="1483.3" cy="141.6" r="3.2"/><circle cx="1509.7" cy="140.5" r="3.2"/><circle cx="1529.6" cy="145.7" r="3.2"/><circle cx="1556.0" cy="146.1" r="3.2"/><circle cx="1575.9" cy="152.2" r="3.2"/><circle cx="1602.3" cy="170.7" r="3.2"/><circle cx="1622.2" cy="184.2" r="3.2"/><circle cx="1648.6" cy="198.4" r="3.2"/><circle cx="1661.8" cy="206.7" r="3.2"/><circle cx="1675.0" cy="213.4" r="3.2"/><circle cx="1694.9" cy="223.4" r="3.2"/><circle cx="1708.1" cy="228.4" r="3.2"/><circle cx="1721.3" cy="233.1" r="3.2"/><circle cx="1741.2" cy="230.7" r="3.2"/><circle cx="1754.4" cy="216.7" r="3.2"/><circle cx="1767.6" cy="205.7" r="3.2"/><circle cx="1800.7" cy="204.0" r="3.2"/><circle cx="1847.0" cy="183.3" r="3.2"/><circle cx="1899.9" cy="174.0" r="3.2"/></g>
<polyline points="1483.3,141.6 1509.7,150.4 1529.6,154.2 1556.0,157.6 1575.9,179.0 1602.3,213.4 1622.2,246.8 1648.6,281.8 1661.8,308.5 1675.0,323.5 1694.9,331.8 1708.1,306.8 1721.3,308.5 1741.2,301.8 1754.4,295.1 1767.6,281.8 1800.7,271.8 1847.0,258.4 1893.2,244.1 1939.5,210.0" fill="none" stroke="#2FB3B0" stroke-width="2.1" stroke-linejoin="round"/>
<g fill="#2FB3B0"><circle cx="1483.3" cy="141.6" r="3.2"/><circle cx="1509.7" cy="150.4" r="3.2"/><circle cx="1529.6" cy="154.2" r="3.2"/><circle cx="1556.0" cy="157.6" r="3.2"/><circle cx="1575.9" cy="179.0" r="3.2"/><circle cx="1602.3" cy="213.4" r="3.2"/><circle cx="1622.2" cy="246.8" r="3.2"/><circle cx="1648.6" cy="281.8" r="3.2"/><circle cx="1661.8" cy="308.5" r="3.2"/><circle cx="1675.0" cy="323.5" r="3.2"/><circle cx="1694.9" cy="331.8" r="3.2"/><circle cx="1708.1" cy="306.8" r="3.2"/><circle cx="1721.3" cy="308.5" r="3.2"/><circle cx="1741.2" cy="301.8" r="3.2"/><circle cx="1754.4" cy="295.1" r="3.2"/><circle cx="1767.6" cy="281.8" r="3.2"/><circle cx="1800.7" cy="271.8" r="3.2"/><circle cx="1847.0" cy="258.4" r="3.2"/><circle cx="1893.2" cy="244.1" r="3.2"/><circle cx="1939.5" cy="210.0" r="3.2"/></g>
<polyline points="1483.3,141.6 1516.4,152.8 1536.2,152.6 1562.6,164.0 1582.5,180.9 1608.9,220.7 1628.8,251.6 1648.6,275.1 1661.8,298.5 1675.0,320.1 1694.9,326.8 1708.1,305.1 1721.3,298.5 1741.2,306.8 1754.4,296.8 1767.6,283.4 1800.7,270.1 1847.0,255.1 1893.2,235.7 1939.5,231.1" fill="none" stroke="#2FB3B0" stroke-width="2.1" stroke-linejoin="round"/>
<g fill="#2FB3B0"><circle cx="1483.3" cy="141.6" r="3.2"/><circle cx="1516.4" cy="152.8" r="3.2"/><circle cx="1536.2" cy="152.6" r="3.2"/><circle cx="1562.6" cy="164.0" r="3.2"/><circle cx="1582.5" cy="180.9" r="3.2"/><circle cx="1608.9" cy="220.7" r="3.2"/><circle cx="1628.8" cy="251.6" r="3.2"/><circle cx="1648.6" cy="275.1" r="3.2"/><circle cx="1661.8" cy="298.5" r="3.2"/><circle cx="1675.0" cy="320.1" r="3.2"/><circle cx="1694.9" cy="326.8" r="3.2"/><circle cx="1708.1" cy="305.1" r="3.2"/><circle cx="1721.3" cy="298.5" r="3.2"/><circle cx="1741.2" cy="306.8" r="3.2"/><circle cx="1754.4" cy="296.8" r="3.2"/><circle cx="1767.6" cy="283.4" r="3.2"/><circle cx="1800.7" cy="270.1" r="3.2"/><circle cx="1847.0" cy="255.1" r="3.2"/><circle cx="1893.2" cy="235.7" r="3.2"/><circle cx="1939.5" cy="231.1" r="3.2"/></g>
<polyline points="1483.3,141.6 1509.7,146.9 1529.6,152.7 1556.0,153.7 1575.9,173.7 1602.3,204.9 1622.2,234.3 1648.6,265.1 1661.8,288.4 1675.0,300.8 1694.9,305.1 1708.1,298.5 1721.3,290.8 1741.2,280.8 1754.4,278.4 1767.6,274.1 1787.5,273.4 1833.7,265.1 1880.0,260.8 1926.3,255.7 1972.6,237.7" fill="none" stroke="#2FB3B0" stroke-width="2.1" stroke-linejoin="round"/>
<g fill="#2FB3B0"><circle cx="1483.3" cy="141.6" r="3.2"/><circle cx="1509.7" cy="146.9" r="3.2"/><circle cx="1529.6" cy="152.7" r="3.2"/><circle cx="1556.0" cy="153.7" r="3.2"/><circle cx="1575.9" cy="173.7" r="3.2"/><circle cx="1602.3" cy="204.9" r="3.2"/><circle cx="1622.2" cy="234.3" r="3.2"/><circle cx="1648.6" cy="265.1" r="3.2"/><circle cx="1661.8" cy="288.4" r="3.2"/><circle cx="1675.0" cy="300.8" r="3.2"/><circle cx="1694.9" cy="305.1" r="3.2"/><circle cx="1708.1" cy="298.5" r="3.2"/><circle cx="1721.3" cy="290.8" r="3.2"/><circle cx="1741.2" cy="280.8" r="3.2"/><circle cx="1754.4" cy="278.4" r="3.2"/><circle cx="1767.6" cy="274.1" r="3.2"/><circle cx="1787.5" cy="273.4" r="3.2"/><circle cx="1833.7" cy="265.1" r="3.2"/><circle cx="1880.0" cy="260.8" r="3.2"/><circle cx="1926.3" cy="255.7" r="3.2"/><circle cx="1972.6" cy="237.7" r="3.2"/></g>
<polyline points="1483.3,141.6 1516.4,143.5 1536.2,155.2 1562.6,162.1 1582.5,176.0 1608.9,204.9 1628.8,229.6 1648.6,248.4 1661.8,255.1 1675.0,268.4 1694.9,286.8 1708.1,291.8 1721.3,290.1 1741.2,296.1 1754.4,281.8 1767.6,273.4" fill="none" stroke="#2FB3B0" stroke-width="2.1" stroke-linejoin="round"/>
<g fill="#2FB3B0"><circle cx="1483.3" cy="141.6" r="3.2"/><circle cx="1516.4" cy="143.5" r="3.2"/><circle cx="1536.2" cy="155.2" r="3.2"/><circle cx="1562.6" cy="162.1" r="3.2"/><circle cx="1582.5" cy="176.0" r="3.2"/><circle cx="1608.9" cy="204.9" r="3.2"/><circle cx="1628.8" cy="229.6" r="3.2"/><circle cx="1648.6" cy="248.4" r="3.2"/><circle cx="1661.8" cy="255.1" r="3.2"/><circle cx="1675.0" cy="268.4" r="3.2"/><circle cx="1694.9" cy="286.8" r="3.2"/><circle cx="1708.1" cy="291.8" r="3.2"/><circle cx="1721.3" cy="290.1" r="3.2"/><circle cx="1741.2" cy="296.1" r="3.2"/><circle cx="1754.4" cy="281.8" r="3.2"/><circle cx="1767.6" cy="273.4" r="3.2"/></g>
<polyline points="1483.3,141.6 1509.7,141.7 1529.6,145.1 1556.0,151.7 1575.9,156.2 1602.3,169.0 1622.2,181.7 1648.6,195.0 1661.8,208.4 1675.0,235.1 1688.3,246.7 1701.5,251.7 1721.3,263.8" fill="none" stroke="#2FB3B0" stroke-width="2.1" stroke-linejoin="round"/>
<g fill="#2FB3B0"><circle cx="1483.3" cy="141.6" r="3.2"/><circle cx="1509.7" cy="141.7" r="3.2"/><circle cx="1529.6" cy="145.1" r="3.2"/><circle cx="1556.0" cy="151.7" r="3.2"/><circle cx="1575.9" cy="156.2" r="3.2"/><circle cx="1602.3" cy="169.0" r="3.2"/><circle cx="1622.2" cy="181.7" r="3.2"/><circle cx="1648.6" cy="195.0" r="3.2"/><circle cx="1661.8" cy="208.4" r="3.2"/><circle cx="1675.0" cy="235.1" r="3.2"/><circle cx="1688.3" cy="246.7" r="3.2"/><circle cx="1701.5" cy="251.7" r="3.2"/><circle cx="1721.3" cy="263.8" r="3.2"/></g>
<line x1="1483.4" y1="73.7" x2="1483.4" y2="476.6" stroke="#000" stroke-width="2.5" />
<line x1="1472.4" y1="74.9" x2="1483.4" y2="74.9" stroke="#000" stroke-width="2.5" />
<text x="1467.2" y="87.9" font-size="38" text-anchor="end" fill="#000" >120</text>
<line x1="1472.4" y1="175.0" x2="1483.4" y2="175.0" stroke="#000" stroke-width="2.5" />
<text x="1467.2" y="188.0" font-size="38" text-anchor="end" fill="#000" >90</text>
<line x1="1472.4" y1="275.1" x2="1483.4" y2="275.1" stroke="#000" stroke-width="2.5" />
<text x="1467.2" y="288.1" font-size="38" text-anchor="end" fill="#000" >60</text>
<line x1="1472.4" y1="375.2" x2="1483.4" y2="375.2" stroke="#000" stroke-width="2.5" />
<text x="1467.2" y="388.2" font-size="38" text-anchor="end" fill="#000" >30</text>
<line x1="1472.4" y1="475.3" x2="1483.4" y2="475.3" stroke="#000" stroke-width="2.5" />
<text x="1467.2" y="488.3" font-size="38" text-anchor="end" fill="#000" >0</text>
<line x1="1482.2" y1="475.3" x2="1980.7" y2="475.3" stroke="#000" stroke-width="2.5" />
<line x1="1483.3" y1="475.3" x2="1483.3" y2="486.3" stroke="#000" stroke-width="2.5" />
<text x="1483.3" y="521.8" font-size="38" text-anchor="middle" fill="#000" >-25</text>
<line x1="1648.6" y1="475.3" x2="1648.6" y2="486.3" stroke="#000" stroke-width="2.5" />
<text x="1648.6" y="521.8" font-size="38" text-anchor="middle" fill="#000" >0</text>
<line x1="1813.9" y1="475.3" x2="1813.9" y2="486.3" stroke="#000" stroke-width="2.5" />
<text x="1813.9" y="521.8" font-size="38" text-anchor="middle" fill="#000" >25</text>
<line x1="1979.2" y1="475.3" x2="1979.2" y2="486.3" stroke="#000" stroke-width="2.5" />
<text x="1979.2" y="521.8" font-size="38" text-anchor="middle" fill="#000" >50</text>
<text x="1731.5" y="574.5" font-size="38" text-anchor="middle" fill="#000" >Days</text>
<text x="1394.9" y="275.0" font-size="38" text-anchor="middle" fill="#000" transform="rotate(-90 1394.9 275.0)" >OL no. (%)</text>
<line x1="1483.5" y1="41.7" x2="1507.0" y2="41.7" stroke="#2FB3B0" stroke-width="4.4" />
<text x="1513.5" y="49.6" font-size="30.3" text-anchor="start" fill="#000" >Vehicle</text>
<line x1="1631.5" y1="41.7" x2="1655.0" y2="41.7" stroke="#FC6C7E" stroke-width="4.4" />
<text x="1661.5" y="49.6" font-size="30.3" text-anchor="start" fill="#000" >0.1 mg/kg</text>
<line x1="1815.3" y1="41.7" x2="1838.8" y2="41.7" stroke="#A90533" stroke-width="4.4" />
<text x="1845.3" y="49.6" font-size="30.3" text-anchor="start" fill="#000" >0.3 mg/kg</text>
<text x="0.0" y="713.4" font-size="61" text-anchor="start" fill="#000" >D</text>
<line x1="154.4" y1="795.6" x2="554.4" y2="795.6" stroke="#000" stroke-width="3.8" stroke-dasharray="3.8 3.85"/>
<line x1="155.2" y1="741.6" x2="551.2" y2="905.7" stroke="#2FB3B0" stroke-width="3.9" />
<line x1="343.5" y1="726.3" x2="554.4" y2="931.1" stroke="#FC6C7E" stroke-width="3.9" />
<line x1="155.2" y1="777.5" x2="554.4" y2="782.3" stroke="#A90533" stroke-width="3.9" />
<circle cx="217.3" cy="778.7" r="4" fill="#2FB3B0" />
<circle cx="273.4" cy="765.8" r="4" fill="#2FB3B0" />
<circle cx="426.6" cy="891.6" r="4" fill="#2FB3B0" />
<circle cx="498.4" cy="884.4" r="4" fill="#2FB3B0" />
<circle cx="504.0" cy="863.8" r="4" fill="#2FB3B0" />
<circle cx="357.7" cy="757.3" r="4" fill="#FC6C7E" />
<circle cx="369.0" cy="753.3" r="4" fill="#FC6C7E" />
<circle cx="381.0" cy="740.0" r="4" fill="#FC6C7E" />
<circle cx="489.9" cy="873.1" r="4" fill="#FC6C7E" />
<circle cx="262.1" cy="746.9" r="4" fill="#A90533" />
<circle cx="326.2" cy="801.7" r="4" fill="#A90533" />
<circle cx="405.2" cy="828.3" r="4" fill="#A90533" />
<circle cx="441.9" cy="777.5" r="4" fill="#A90533" />
<circle cx="487.1" cy="748.5" r="4" fill="#A90533" />
<line x1="153.7" y1="727.5" x2="153.7" y2="1130.3" stroke="#000" stroke-width="2.5" />
<line x1="142.7" y1="728.7" x2="153.7" y2="728.7" stroke="#000" stroke-width="2.5" />
<text x="137.5" y="741.7" font-size="38" text-anchor="end" fill="#000" >120</text>
<line x1="142.7" y1="828.8" x2="153.7" y2="828.8" stroke="#000" stroke-width="2.5" />
<text x="137.5" y="841.8" font-size="38" text-anchor="end" fill="#000" >90</text>
<line x1="142.7" y1="928.9" x2="153.7" y2="928.9" stroke="#000" stroke-width="2.5" />
<text x="137.5" y="941.9" font-size="38" text-anchor="end" fill="#000" >60</text>
<line x1="142.7" y1="1029.0" x2="153.7" y2="1029.0" stroke="#000" stroke-width="2.5" />
<text x="137.5" y="1042.0" font-size="38" text-anchor="end" fill="#000" >30</text>
<line x1="142.7" y1="1129.1" x2="153.7" y2="1129.1" stroke="#000" stroke-width="2.5" />
<text x="137.5" y="1142.1" font-size="38" text-anchor="end" fill="#000" >0</text>
<line x1="152.4" y1="1129.1" x2="555.6" y2="1129.1" stroke="#000" stroke-width="2.5" />
<line x1="154.4" y1="1129.1" x2="154.4" y2="1140.1" stroke="#000" stroke-width="2.5" />
<text x="154.4" y="1175.1" font-size="38" text-anchor="middle" fill="#000" >0</text>
<line x1="287.7" y1="1129.1" x2="287.7" y2="1140.1" stroke="#000" stroke-width="2.5" />
<text x="287.7" y="1175.1" font-size="38" text-anchor="middle" fill="#000" >30</text>
<line x1="421.1" y1="1129.1" x2="421.1" y2="1140.1" stroke="#000" stroke-width="2.5" />
<text x="421.1" y="1175.1" font-size="38" text-anchor="middle" fill="#000" >60</text>
<line x1="554.4" y1="1129.1" x2="554.4" y2="1140.1" stroke="#000" stroke-width="2.5" />
<text x="554.4" y="1175.1" font-size="38" text-anchor="middle" fill="#000" >90</text>
<text x="354.0" y="705.5" font-size="38" text-anchor="middle" fill="#000" >7 weeks</text>
<text x="354.0" y="1229.5" font-size="38" text-anchor="middle" fill="#000" >Cumul. lost OLs (%)</text>
<text x="65.7" y="929.0" font-size="38" text-anchor="middle" fill="#000" transform="rotate(-90 65.7 929.0)" >OL no. (%)</text>
<line x1="189.5" y1="998.5" x2="213.7" y2="998.5" stroke="#2FB3B0" stroke-width="4.2" />
<text x="219.0" y="1007.3" font-size="23" text-anchor="start" fill="#000" >Vehicle: R² = 0.82, p = 0.035</text>
<line x1="189.5" y1="1033.0" x2="213.7" y2="1033.0" stroke="#FC6C7E" stroke-width="4.2" />
<text x="219.0" y="1041.8" font-size="23" text-anchor="start" fill="#000" >0.1 mg/kg: R² = 0.93, p = 0.037</text>
<line x1="189.5" y1="1067.4" x2="213.7" y2="1067.4" stroke="#A90533" stroke-width="4.2" />
<text x="219.0" y="1076.2" font-size="23" text-anchor="start" fill="#000" >0.3 mg/kg: R² = 0.001, p = 0.96</text>
<text x="607.0" y="711.5" font-size="61" text-anchor="start" fill="#000" >E</text>
<rect x="816.0" y="798.0" width="229.0" height="11.0" fill="#D9D9D9" />
<line x1="816.0" y1="803.6" x2="1045.0" y2="803.6" stroke="#A6A6A6" stroke-width="3.8" stroke-dasharray="22.9 22.9" stroke-dashoffset="11.6"/>
<rect x="1120.7" y="753.0" width="218.3" height="31.0" fill="#D9D9D9" />
<line x1="1120.7" y1="768.0" x2="1339.0" y2="768.0" stroke="#A6A6A6" stroke-width="3.8" stroke-dasharray="21.6 21.4" stroke-dashoffset="8.7"/>
<line x1="819.5" y1="862.2" x2="1045.0" y2="862.2" stroke="#000" stroke-width="3.8" stroke-dasharray="3.8 3.85"/>
<line x1="1120.7" y1="862.2" x2="1339.0" y2="862.2" stroke="#000" stroke-width="3.8" stroke-dasharray="3.8 3.85"/>
<line x1="842.4" y1="927.1" x2="888.4" y2="927.1" stroke="#2FB3B0" stroke-width="3.8" />
<line x1="865.4" y1="917.4" x2="865.4" y2="936.3" stroke="#000" stroke-width="2" />
<line x1="860.9" y1="917.4" x2="869.9" y2="917.4" stroke="#000" stroke-width="2" />
<line x1="860.9" y1="936.3" x2="869.9" y2="936.3" stroke="#000" stroke-width="2" />
<line x1="912.9" y1="895.8" x2="958.9" y2="895.8" stroke="#FC6C7E" stroke-width="3.8" />
<line x1="935.9" y1="886.1" x2="935.9" y2="905.0" stroke="#000" stroke-width="2" />
<line x1="931.4" y1="886.1" x2="940.4" y2="886.1" stroke="#000" stroke-width="2" />
<line x1="931.4" y1="905.0" x2="940.4" y2="905.0" stroke="#000" stroke-width="2" />
<line x1="983.5" y1="891.2" x2="1029.5" y2="891.2" stroke="#A90533" stroke-width="3.8" />
<line x1="1006.5" y1="880.6" x2="1006.5" y2="901.3" stroke="#000" stroke-width="2" />
<line x1="1002.0" y1="880.6" x2="1011.0" y2="880.6" stroke="#000" stroke-width="2" />
<line x1="1002.0" y1="901.3" x2="1011.0" y2="901.3" stroke="#000" stroke-width="2" />
<line x1="1136.0" y1="896.7" x2="1182.0" y2="896.7" stroke="#2FB3B0" stroke-width="3.8" />
<line x1="1159.0" y1="885.2" x2="1159.0" y2="908.2" stroke="#000" stroke-width="2" />
<line x1="1154.5" y1="885.2" x2="1163.5" y2="885.2" stroke="#000" stroke-width="2" />
<line x1="1154.5" y1="908.2" x2="1163.5" y2="908.2" stroke="#000" stroke-width="2" />
<line x1="1207.0" y1="841.8" x2="1253.0" y2="841.8" stroke="#FC6C7E" stroke-width="3.8" />
<line x1="1230.0" y1="829.4" x2="1230.0" y2="855.2" stroke="#000" stroke-width="2" />
<line x1="1225.5" y1="829.4" x2="1234.5" y2="829.4" stroke="#000" stroke-width="2" />
<line x1="1225.5" y1="855.2" x2="1234.5" y2="855.2" stroke="#000" stroke-width="2" />
<line x1="1277.0" y1="850.6" x2="1323.0" y2="850.6" stroke="#A90533" stroke-width="3.8" />
<line x1="1300.0" y1="839.1" x2="1300.0" y2="862.1" stroke="#000" stroke-width="2" />
<line x1="1295.5" y1="839.1" x2="1304.5" y2="839.1" stroke="#000" stroke-width="2" />
<line x1="1295.5" y1="862.1" x2="1304.5" y2="862.1" stroke="#000" stroke-width="2" />
<line x1="816.0" y1="727.5" x2="816.0" y2="1130.3" stroke="#000" stroke-width="2.5" />
<line x1="805.0" y1="728.7" x2="816.0" y2="728.7" stroke="#000" stroke-width="2.5" />
<text x="799.8" y="741.7" font-size="38" text-anchor="end" fill="#000" >150</text>
<line x1="805.0" y1="862.2" x2="816.0" y2="862.2" stroke="#000" stroke-width="2.5" />
<text x="799.8" y="875.2" font-size="38" text-anchor="end" fill="#000" >100</text>
<line x1="805.0" y1="995.6" x2="816.0" y2="995.6" stroke="#000" stroke-width="2.5" />
<text x="799.8" y="1008.6" font-size="38" text-anchor="end" fill="#000" >50</text>
<line x1="805.0" y1="1129.1" x2="816.0" y2="1129.1" stroke="#000" stroke-width="2.5" />
<text x="799.8" y="1142.1" font-size="38" text-anchor="end" fill="#000" >0</text>
<line x1="805.0" y1="795.4" x2="816.0" y2="795.4" stroke="#000" stroke-width="2.5" />
<line x1="805.0" y1="928.9" x2="816.0" y2="928.9" stroke="#000" stroke-width="2.5" />
<line x1="805.0" y1="1062.4" x2="816.0" y2="1062.4" stroke="#000" stroke-width="2.5" />
<line x1="814.8" y1="1129.1" x2="1045.0" y2="1129.1" stroke="#000" stroke-width="2.5" />
<line x1="1120.7" y1="1129.1" x2="1339.0" y2="1129.1" stroke="#000" stroke-width="2.5" />
<text x="865.4" y="798.2" font-size="37" text-anchor="middle" fill="#A6A6A6" >***</text>
<text x="935.9" y="798.2" font-size="37" text-anchor="middle" fill="#A6A6A6" >***</text>
<text x="1006.5" y="798.2" font-size="37" text-anchor="middle" fill="#A6A6A6" >***</text>
<text x="865.4" y="860.2" font-size="37" text-anchor="middle" fill="#000" >***</text>
<text x="935.9" y="862.7" font-size="37" text-anchor="middle" fill="#000" >*</text>
<text x="1006.5" y="862.7" font-size="37" text-anchor="middle" fill="#000" >*</text>
<text x="1159.0" y="752.7" font-size="37" text-anchor="middle" fill="#A6A6A6" >***</text>
<text x="1230.0" y="752.7" font-size="37" text-anchor="middle" fill="#A6A6A6" >**</text>
<text x="1300.0" y="752.7" font-size="37" text-anchor="middle" fill="#A6A6A6" >**</text>
<text x="1159.0" y="834.0" font-size="37" text-anchor="middle" fill="#000" >*</text>
<text x="1230.0" y="819.4" font-size="24" text-anchor="middle" fill="#000" >n.s.</text>
<text x="1300.0" y="819.4" font-size="24" text-anchor="middle" fill="#000" >n.s.</text>
<text x="936.4" y="705.5" font-size="38" text-anchor="middle" fill="#000" >3 weeks</text>
<text x="1230.0" y="705.5" font-size="38" text-anchor="middle" fill="#000" >7 weeks</text>
<text x="673.0" y="928.5" font-size="38" text-anchor="middle" fill="#000" transform="rotate(-90 673.0 928.5)" >OL no. (%)</text>
<text x="708.5" y="928.5" font-size="30.5" text-anchor="middle" fill="#000" transform="rotate(-90 708.5 928.5)" >(Least square means)</text>
<line x1="1153.9" y1="1062.6" x2="1215.2" y2="1062.6" stroke="#A6A6A6" stroke-width="3.8" stroke-dasharray="23 22"/>
<text x="1222.1" y="1070.8" font-size="30.3" text-anchor="start" fill="#000" >Healthy</text>
<line x1="1153.9" y1="1097.6" x2="1215.2" y2="1097.6" stroke="#000" stroke-width="3.8" stroke-dasharray="3.8 3.85"/>
<text x="1222.1" y="1105.8" font-size="30.3" text-anchor="start" fill="#000" >Baseline</text>
<text x="881.9" y="1153.1" font-size="38" text-anchor="end" fill="#000" transform="rotate(-45 881.9 1153.1)" >Vehicle</text>
<text x="952.4" y="1153.1" font-size="38" text-anchor="end" fill="#000" transform="rotate(-45 952.4 1153.1)" >0.1 mg/kg</text>
<text x="1023.0" y="1153.1" font-size="38" text-anchor="end" fill="#000" transform="rotate(-45 1023.0 1153.1)" >0.3 mg/kg</text>
<text x="1175.5" y="1153.1" font-size="38" text-anchor="end" fill="#000" transform="rotate(-45 1175.5 1153.1)" >Vehicle</text>
<text x="1246.5" y="1153.1" font-size="38" text-anchor="end" fill="#000" transform="rotate(-45 1246.5 1153.1)" >0.1 mg/kg</text>
<text x="1316.5" y="1153.1" font-size="38" text-anchor="end" fill="#000" transform="rotate(-45 1316.5 1153.1)" >0.3 mg/kg</text>
<text x="1404.5" y="713.4" font-size="61" text-anchor="start" fill="#000" >F</text>
<line x1="1637.9" y1="1077.5" x2="1637.9" y2="1103.7" stroke="#A6A6A6" stroke-width="6.5" stroke-opacity="0.3"/>
<line x1="1749.2" y1="1071.5" x2="1749.2" y2="1108.5" stroke="#A6A6A6" stroke-width="6.5" stroke-opacity="0.3"/>
<line x1="1860.9" y1="1081.5" x2="1860.9" y2="1111.8" stroke="#A6A6A6" stroke-width="6.5" stroke-opacity="0.3"/>
<line x1="1972.6" y1="1079.5" x2="1972.6" y2="1104.5" stroke="#A6A6A6" stroke-width="6.5" stroke-opacity="0.3"/>
<line x1="1637.9" y1="996.0" x2="1637.9" y2="1025.9" stroke="#2FB3B0" stroke-width="6.5" stroke-opacity="0.3"/>
<line x1="1749.2" y1="1011.8" x2="1749.2" y2="1057.3" stroke="#2FB3B0" stroke-width="6.5" stroke-opacity="0.3"/>
<line x1="1860.9" y1="1079.5" x2="1860.9" y2="1097.7" stroke="#2FB3B0" stroke-width="6.5" stroke-opacity="0.3"/>
<line x1="1972.6" y1="1063.4" x2="1972.6" y2="1091.6" stroke="#2FB3B0" stroke-width="6.5" stroke-opacity="0.3"/>
<line x1="1637.9" y1="964.6" x2="1637.9" y2="992.0" stroke="#FC6C7E" stroke-width="6.5" stroke-opacity="0.3"/>
<line x1="1749.2" y1="943.2" x2="1749.2" y2="988.8" stroke="#FC6C7E" stroke-width="6.5" stroke-opacity="0.3"/>
<line x1="1860.9" y1="1079.5" x2="1860.9" y2="1099.7" stroke="#FC6C7E" stroke-width="6.5" stroke-opacity="0.3"/>
<line x1="1972.6" y1="1027.1" x2="1972.6" y2="1071.5" stroke="#FC6C7E" stroke-width="6.5" stroke-opacity="0.3"/>
<line x1="1637.9" y1="899.3" x2="1637.9" y2="933.1" stroke="#A90533" stroke-width="6.5" stroke-opacity="0.3"/>
<line x1="1749.2" y1="1019.0" x2="1749.2" y2="1069.4" stroke="#A90533" stroke-width="6.5" stroke-opacity="0.3"/>
<line x1="1860.9" y1="1077.5" x2="1860.9" y2="1093.6" stroke="#A90533" stroke-width="6.5" stroke-opacity="0.3"/>
<line x1="1972.6" y1="1039.2" x2="1972.6" y2="1079.5" stroke="#A90533" stroke-width="6.5" stroke-opacity="0.3"/>
<polyline points="1637.9,1090.4 1749.2,1090.4 1860.9,1096.0 1972.6,1092.4" fill="none" stroke="#A6A6A6" stroke-width="1.4" />
<polyline points="1637.9,1011.0 1749.2,1034.4 1860.9,1088.4 1972.6,1077.5" fill="none" stroke="#2FB3B0" stroke-width="1.4" />
<polyline points="1637.9,978.7 1749.2,965.8 1860.9,1089.6 1972.6,1049.7" fill="none" stroke="#FC6C7E" stroke-width="1.4" />
<polyline points="1637.9,916.2 1749.2,1044.0 1860.9,1085.6 1972.6,1059.8" fill="none" stroke="#A90533" stroke-width="1.4" />
<circle cx="1637.9" cy="1090.4" r="5.6" fill="#A6A6A6" />
<circle cx="1749.2" cy="1090.4" r="5.6" fill="#A6A6A6" />
<circle cx="1860.9" cy="1096.0" r="5.6" fill="#A6A6A6" />
<circle cx="1972.6" cy="1092.4" r="5.6" fill="#A6A6A6" />
<circle cx="1637.9" cy="1011.0" r="5.6" fill="#2FB3B0" />
<circle cx="1749.2" cy="1034.4" r="5.6" fill="#2FB3B0" />
<circle cx="1860.9" cy="1088.4" r="5.6" fill="#2FB3B0" />
<circle cx="1972.6" cy="1077.5" r="5.6" fill="#2FB3B0" />
<circle cx="1637.9" cy="978.7" r="5.6" fill="#FC6C7E" />
<circle cx="1749.2" cy="965.8" r="5.6" fill="#FC6C7E" />
<circle cx="1860.9" cy="1089.6" r="5.6" fill="#FC6C7E" />
<circle cx="1972.6" cy="1049.7" r="5.6" fill="#FC6C7E" />
<circle cx="1637.9" cy="916.2" r="5.6" fill="#A90533" />
<circle cx="1749.2" cy="1044.0" r="5.6" fill="#A90533" />
<circle cx="1860.9" cy="1085.6" r="5.6" fill="#A90533" />
<circle cx="1972.6" cy="1059.8" r="5.6" fill="#A90533" />
<line x1="1572.4" y1="727.5" x2="1572.4" y2="1130.3" stroke="#000" stroke-width="2.5" />
<line x1="1561.4" y1="728.7" x2="1572.4" y2="728.7" stroke="#000" stroke-width="2.5" />
<text x="1555.4" y="741.7" font-size="38" text-anchor="end" fill="#000" >5</text>
<line x1="1561.4" y1="808.8" x2="1572.4" y2="808.8" stroke="#000" stroke-width="2.5" />
<text x="1555.4" y="821.8" font-size="38" text-anchor="end" fill="#000" >4</text>
<line x1="1561.4" y1="888.9" x2="1572.4" y2="888.9" stroke="#000" stroke-width="2.5" />
<text x="1555.4" y="901.9" font-size="38" text-anchor="end" fill="#000" >3</text>
<line x1="1561.4" y1="968.9" x2="1572.4" y2="968.9" stroke="#000" stroke-width="2.5" />
<text x="1555.4" y="981.9" font-size="38" text-anchor="end" fill="#000" >2</text>
<line x1="1561.4" y1="1049.0" x2="1572.4" y2="1049.0" stroke="#000" stroke-width="2.5" />
<text x="1555.4" y="1062.0" font-size="38" text-anchor="end" fill="#000" >1</text>
<line x1="1561.4" y1="1129.1" x2="1572.4" y2="1129.1" stroke="#000" stroke-width="2.5" />
<text x="1555.4" y="1142.1" font-size="38" text-anchor="end" fill="#000" >0</text>
<line x1="1571.2" y1="1129.1" x2="1973.8" y2="1129.1" stroke="#000" stroke-width="2.5" />
<line x1="1637.9" y1="1129.1" x2="1637.9" y2="1140.1" stroke="#000" stroke-width="2.5" />
<text x="1637.9" y="1176.1" font-size="38" text-anchor="middle" fill="#000" >0-1.5</text>
<line x1="1749.2" y1="1129.1" x2="1749.2" y2="1140.1" stroke="#000" stroke-width="2.5" />
<text x="1749.2" y="1176.1" font-size="38" text-anchor="middle" fill="#000" >1.5-3</text>
<line x1="1860.9" y1="1129.1" x2="1860.9" y2="1140.1" stroke="#000" stroke-width="2.5" />
<text x="1860.9" y="1176.1" font-size="38" text-anchor="middle" fill="#000" >3-5</text>
<line x1="1972.6" y1="1129.1" x2="1972.6" y2="1140.1" stroke="#000" stroke-width="2.5" />
<text x="1972.6" y="1176.1" font-size="38" text-anchor="middle" fill="#000" >5-7</text>
<text x="1771.8" y="1229.5" font-size="38" text-anchor="middle" fill="#000" >Weeks</text>
<text x="1471.8" y="928.5" font-size="38" text-anchor="middle" fill="#000" transform="rotate(-90 1471.8 928.5)" >OL gain rate (%/d)</text>
<text x="1507.0" y="928.5" font-size="30.5" text-anchor="middle" fill="#000" transform="rotate(-90 1507.0 928.5)" >(Least square means)</text>
<line x1="1809.0" y1="726.7" x2="1832.5" y2="726.7" stroke="#2FB3B0" stroke-width="4.4" />
<text x="1839.5" y="736.2" font-size="30.3" text-anchor="start" fill="#000" >Vehicle</text>
<line x1="1809.0" y1="761.0" x2="1832.5" y2="761.0" stroke="#FC6C7E" stroke-width="4.4" />
<text x="1839.5" y="770.5" font-size="30.3" text-anchor="start" fill="#000" >0.1 mg/kg</text>
<line x1="1809.0" y1="796.0" x2="1832.5" y2="796.0" stroke="#A90533" stroke-width="4.4" />
<text x="1839.5" y="805.5" font-size="30.3" text-anchor="start" fill="#000" >0.3 mg/kg</text>
<line x1="1809.0" y1="830.7" x2="1832.5" y2="830.7" stroke="#A6A6A6" stroke-width="4.4" />
<text x="1839.5" y="840.2" font-size="30.3" text-anchor="start" fill="#000" >Healthy</text>
<text x="1603.9" y="935.9" font-size="37" text-anchor="middle" fill="#A6A6A6" >***</text>
<text x="1603.9" y="997.4" font-size="37" text-anchor="middle" fill="#A6A6A6" >***</text>
<text x="1618.4" y="1030.5" font-size="37" text-anchor="middle" fill="#A6A6A6" >*</text>
<text x="1768.4" y="985.5" font-size="37" text-anchor="middle" fill="#A6A6A6" >*</text>
<text x="0.0" y="1347.0" font-size="61" text-anchor="start" fill="#000" >G</text>
<defs>
<clipPath id="gc0"><rect x="67.3" y="1317.3" width="476.6" height="476.6"/></clipPath>
<clipPath id="gc1"><rect x="552.9" y="1317.3" width="476.6" height="476.6"/></clipPath>
<clipPath id="gc2"><rect x="1037.5" y="1317.3" width="476.6" height="476.6"/></clipPath>
<clipPath id="gc3"><rect x="1523.2" y="1317.3" width="476.79999999999995" height="476.6"/></clipPath>
<filter id="nz" x="0" y="0" width="100%" height="100%" color-interpolation-filters="sRGB"><feTurbulence type="fractalNoise" baseFrequency="0.45" numOctaves="2" seed="3" result="t"/><feColorMatrix in="t" type="matrix" values="0 0 0 0 1  0 0 0 0 1  0 0 0 0 1  2.4 0 0 0 -1.0"/></filter>
<filter id="fil0" filterUnits="userSpaceOnUse" x="67.3" y="1317.3" width="476.6" height="476.6" color-interpolation-filters="sRGB"><feGaussianBlur in="SourceGraphic" stdDeviation="0.9" result="s"/><feTurbulence type="fractalNoise" baseFrequency="0.22" numOctaves="2" seed="5" result="n"/><feColorMatrix in="n" type="matrix" values="0 0 0 0 1  0 0 0 0 1  0 0 0 0 1  4.2 0 0 0 -1.35" result="m"/><feComposite in="s" in2="m" operator="in"/></filter>
<filter id="fil1" filterUnits="userSpaceOnUse" x="552.9" y="1317.3" width="476.6" height="476.6" color-interpolation-filters="sRGB"><feGaussianBlur in="SourceGraphic" stdDeviation="0.9" result="s"/><feTurbulence type="fractalNoise" baseFrequency="0.22" numOctaves="2" seed="6" result="n"/><feColorMatrix in="n" type="matrix" values="0 0 0 0 1  0 0 0 0 1  0 0 0 0 1  4.2 0 0 0 -1.35" result="m"/><feComposite in="s" in2="m" operator="in"/></filter>
<filter id="fil3" filterUnits="userSpaceOnUse" x="1523.2" y="1317.3" width="476.6" height="476.6" color-interpolation-filters="sRGB"><feGaussianBlur in="SourceGraphic" stdDeviation="0.9" result="s"/><feTurbulence type="fractalNoise" baseFrequency="0.22" numOctaves="2" seed="8" result="n"/><feColorMatrix in="n" type="matrix" values="0 0 0 0 1  0 0 0 0 1  0 0 0 0 1  4.2 0 0 0 -1.35" result="m"/><feComposite in="s" in2="m" operator="in"/></filter>
<filter id="b1" x="-5%" y="-5%" width="110%" height="110%"><feGaussianBlur stdDeviation="0.8"/></filter>
<filter id="b2" x="-40%" y="-40%" width="180%" height="180%"><feGaussianBlur stdDeviation="1.3"/></filter>
</defs>
<g clip-path="url(#gc0)">
<rect x="67.3" y="1317.3" width="478.6" height="476.6" fill="#030303" />
<rect x="67.3" y="1317.3" width="476.6" height="476.6" fill="#fff" filter="url(#nz)" opacity="0.08"/>
<g fill="none" stroke="#fff" stroke-linecap="round" stroke-linejoin="round" filter="url(#fil0)">
<path d="M281 1586l9 -5l9 -3l8 -7l9 -5l10 -2l8 -4l10 -2l9 -3l11 -4l9 -3l9 -2l11 -2l8 -4l10 -3l9 -2l10 -2l10 2l10 -1l10 0l11 2l9 -2l11 -3l9 -2" stroke-width="1.6" stroke-opacity="0.32" stroke-dasharray="9 2 4 2"/>
<path d="M107 1515l2 9l-3 10l-1 9l-6 10l-5 8l-4 10l-2 9l-1 10l-4 9l-1 11l-2 10l-2 10l-3 9l-4 10l1 9l-3 10l-1 9" stroke-width="2.3" stroke-opacity="0.17" stroke-dasharray="14 3 5 2"/>
<path d="M365 1442l7 -7l6 -8l6 -7l10 -6l7 -7l6 -6l9 -8l7 -5l8 -8l7 -5l8 -6l8 -5l11 -4l10 -1" stroke-width="2.0" stroke-opacity="0.29" stroke-dasharray="14 3 5 2"/>
<path d="M54 1335l8 4l9 6l8 6l7 5l11 5l8 6l7 6l7 8l9 6l7 5l9 7" stroke-width="1.7" stroke-opacity="0.16"/>
<path d="M349 1461l6 9l2 8l5 9l5 9l5 10l4 7l4 10l4 10l5 8l8 6l6 7l9 7l8 7l7 5l9 5l9 3l10 4l8 6l7 6l8 6l8 7l7 9l4 8l7 8" stroke-width="2.5" stroke-opacity="0.29"/>
<path d="M172 1499l9 6l5 8l8 6l10 5l7 6l8 8l8 7l7 5l6 8l6 8l4 8l6 9l4 11l2 8l3 10l3 8l5 10l3 11" stroke-width="1.5" stroke-opacity="0.14"/>
<path d="M81 1576l-9 3l-9 6l-9 2l-9 6l-7 4l-9 9l-6 7l-5 7l-7 9l-5 8l-5 8l-4 10l-4 9l-7 9l-5 6l-6 8l-8 6l-7 8l-6 8l-7 8l-8 7l-5 8l-8 7l-6 7l-6 8l-4 10l-5 8l-3 10l-6 9l-2 9l-4 9l-5 10l-5 8l-5 8l-5 8l-5 9l-8 7l-7 8l-9 5l-7 5" stroke-width="2.8" stroke-opacity="0.22" stroke-dasharray="14 3 5 2"/>
<path d="M406 1694l1 -10l2 -10l3 -10l4 -9l5 -9l5 -9l4 -8l3 -10l2 -11l0 -10l1 -9l1 -10l1 -9l0 -10l-1 -11l-3 -9l-1 -10l-1 -10l-2 -10l-2 -9l-3 -11" stroke-width="1.7" stroke-opacity="0.11" stroke-dasharray="9 2 4 2"/>
<path d="M75 1460l-9 6l-7 5l-10 5l-8 4l-11 4l-8 3l-10 3l-10 4l-8 3l-10 4l-9 4l-8 5l-9 5l-9 5l-9 5l-9 4l-8 5l-8 6l-7 8l-5 7l-6 9l-7 8l-3 10l-5 9l-5 8l-6 8l-5 8" stroke-width="2.7" stroke-opacity="0.33"/>
<path d="M268 1488l8 4l11 4l7 5l8 6l9 6l8 7l8 4l10 6l7 6l8 5l8 7l7 7l7 6l9 7l6 7l6 8l7 8l7 7l5 8l5 8l6 9l2 10l4 9l2 11l3 10l2 8l1 11l2 10l0 10l-1 9l-2 11l-2 8l-1 10l-3 10l2 10l-1 11l-1 9" stroke-width="2.3" stroke-opacity="0.24"/>
<path d="M209 1399l-7 8l-6 7l-7 7l-10 6l-8 5l-9 3l-10 3l-8 6l-9 3l-9 6l-9 2l-10 6l-8 3l-9 4l-10 3l-9 3l-8 6l-9 7l-7 7l-7 7l-8 7l-4 9l-7 8l-3 9l-6 8l-6 7l-6 10l-4 8" stroke-width="2.1" stroke-opacity="0.14" stroke-dasharray="9 2 4 2"/>
<path d="M415 1543l-3 10l-4 7l-5 10l-7 7l-6 9l-4 9l-3 9l-4 10l-1 9l-1 11l-2 9" stroke-width="2.1" stroke-opacity="0.40"/>
<path d="M224 1723l7 -5l10 -6l9 -5l8 -3l9 -5l10 -4l8 -5l8 -7l7 -7l9 -5l7 -6l8 -8" stroke-width="2.5" stroke-opacity="0.11"/>
<path d="M118 1544l-7 6l-10 6l-8 6l-6 6l-7 7l-7 7l-8 8l-7 7l-7 6l-8 7l-7 7l-9 5l-10 4l-7 5l-8 7l-6 7l-8 7l-8 6l-6 8" stroke-width="2.1" stroke-opacity="0.27"/>
<path d="M298 1811l5 -8l7 -8l6 -9l5 -7l5 -9l4 -10l3 -9l3 -9l3 -10l3 -10l5 -8l5 -8l5 -10l4 -7l6 -9l2 -11l2 -9l4 -10l3 -10l5 -8l8 -7l4 -8l7 -7l6 -10l9 -6l6 -5l6 -8l8 -8l5 -8l8 -7l7 -6l6 -9l8 -7l7 -7l5 -7l7 -8l7 -8" stroke-width="2.2" stroke-opacity="0.26"/>
<path d="M51 1600l-10 -1l-10 -2l-9 -1l-10 1l-11 -2l-10 0l-10 -2l-10 2l-8 0l-11 -1l-10 2l-11 1l-10 0l-9 -1l-9 -1l-10 1l-11 1l-10 0l-11 1l-9 2l-11 0l-8 1" stroke-width="2.6" stroke-opacity="0.33" stroke-dasharray="9 2 4 2"/>
<path d="M93 1721l6 9l4 8l6 9l7 7l5 8l4 9l3 10l4 8l7 10l3 8l4 9l3 10l2 9l1 10l2 11l2 9" stroke-width="2.7" stroke-opacity="0.22" stroke-dasharray="9 2 4 2"/>
<path d="M243 1323l-9 4l-9 4l-9 4l-9 6l-9 5l-8 4l-10 4l-10 1l-8 6l-9 6l-6 7l-7 6l-7 8l-6 8l-5 8l-4 9" stroke-width="2.2" stroke-opacity="0.31" stroke-dasharray="14 3 5 2"/>
<path d="M182 1672l-7 -7l-6 -8l-7 -8l-8 -7l-7 -5l-7 -8l-5 -9l-2 -8l-6 -11l-6 -8l-6 -7l-6 -8l-7 -7" stroke-width="1.5" stroke-opacity="0.17"/>
<path d="M516 1713l-10 1l-11 -2l-9 -4l-9 -4l-8 -7l-8 -5l-7 -6l-9 -5l-8 -6l-11 -2l-10 -4l-8 -1l-9 -3l-11 -3l-10 0l-10 2" stroke-width="3.0" stroke-opacity="0.38"/>
<path d="M171 1552l-5 -7l-5 -11l-2 -9l-1 -9l-1 -11l0 -10l0 -10l-4 -10l-3 -10l-5 -8l-5 -9l-2 -10l-1 -10l-4 -8l-3 -10l-3 -10l0 -9l-2 -10l0 -10l-3 -10l-4 -11l-1 -7l-5 -11l-4 -8l-3 -10l-3 -10" stroke-width="3.0" stroke-opacity="0.32"/>
<path d="M256 1765l3 -10l7 -9l5 -8l7 -8l5 -8l6 -6l7 -9l9 -4l8 -7l6 -6l7 -9l9 -6l6 -5l9 -7l8 -5l8 -6l6 -9l7 -7l6 -6l9 -6l7 -7l7 -7l5 -8l5 -9l4 -10l6 -8l6 -7l7 -9l3 -9l6 -9l7 -7l5 -7l7 -9l5 -8l5 -9l4 -9l2 -10" stroke-width="2.9" stroke-opacity="0.13"/>
<path d="M58 1387l9 5l8 6l8 6l8 8l5 6l7 10l7 6l7 6l7 8l5 9l5 9l5 7l5 10l4 7l6 9l7 8l6 7l6 10l5 8l5 7l7 8l7 7l8 6l9 6l7 5l9 8l8 4l9 6" stroke-width="2.7" stroke-opacity="0.38"/>
<path d="M99 1316l-7 7l-5 9l-9 7l-6 7l-8 7l-8 6l-5 7l-7 7l-6 9l-5 10l-5 7l-6 9l-6 7l-5 9l-6 8l-5 8l-8 8l-5 7l-7 8l-9 6l-8 4l-9 6l-9 5l-9 3l-8 5l-9 6l-9 3l-8 5l-9 7l-9 5l-10 3l-8 3l-9 5l-9 3l-10 3l-9 1l-11 3" stroke-width="3.0" stroke-opacity="0.17"/>
<path d="M304 1726l-11 -1l-8 -3l-9 -4l-9 -6l-9 -3l-9 -7l-6 -5l-9 -5l-11 -3l-10 -3l-9 -2" stroke-width="2.3" stroke-opacity="0.40"/>
<path d="M336 1535l6 -7l7 -7l10 -7l5 -6l8 -9l6 -6l9 -6l6 -7l7 -8l8 -6l9 -5" stroke-width="2.2" stroke-opacity="0.27"/>
<path d="M251 1452l-1 -10l-2 -10l-3 -10l-4 -9l-5 -9l-4 -9l-4 -9l-4 -9l-4 -9l-5 -9l-3 -9l-4 -9l-6 -9l-4 -8l-5 -9l-5 -8" stroke-width="1.9" stroke-opacity="0.35"/>
<path d="M124 1378l-4 9l-3 9l-2 10l-3 10l-2 10l-3 8l-3 10l-3 11l-2 9l-4 8l-6 10l-5 8l-3 8l-5 12l-1 8l-2 9l-5 10" stroke-width="2.2" stroke-opacity="0.34" stroke-dasharray="9 2 4 2"/>
<path d="M102 1681l5 7l7 8l7 8l7 7l6 8l6 8l6 6l6 10l6 8l4 9l3 10l5 8l8 7l6 7l6 10l6 6l7 8l9 5l8 7l7 7l8 6l8 3l8 6l9 4l10 3l11 4l8 5" stroke-width="2.6" stroke-opacity="0.26" stroke-dasharray="14 3 5 2"/>
<path d="M435 1660l-9 -4l-8 -6l-9 -6l-8 -5l-7 -8l-5 -7l-9 -7l-5 -9l-6 -7l-6 -9l-5 -6l-6 -10l-5 -9l-5 -7l-5 -11l-3 -9l-3 -10l-2 -9l-3 -9l0 -11l1 -9l2 -9l1 -10l2 -12l-2 -8l-1 -12l1 -8l-2 -11l3 -10" stroke-width="2.0" stroke-opacity="0.17"/>
<path d="M226 1305l2 -10l2 -10l3 -10l4 -8l2 -10l1 -11l2 -9l3 -9l3 -10l1 -11l-1 -8l-1 -10l2 -12l3 -9l3 -10l4 -8" stroke-width="1.4" stroke-opacity="0.35" stroke-dasharray="9 2 4 2"/>
<path d="M64 1790l-8 6l-7 6l-6 9l-5 9l-3 10l-5 9l-6 8l-7 6l-7 8l-5 9l-4 7l-4 9l-5 11" stroke-width="1.7" stroke-opacity="0.30"/>
<path d="M377 1351l-10 2l-11 -1l-9 1l-10 1l-10 3l-11 0l-8 -3l-11 1l-10 0l-9 -3l-11 -2l-8 -3l-10 -2l-9 -4l-9 -5l-8 -4l-9 -7l-8 -6l-7 -7l-9 -5l-6 -7l-7 -8l-5 -10l-6 -8l-8 -6l-7 -7l-8 -6l-8 -5l-10 -4l-8 -6l-8 -5l-7 -7l-7 -7l-9 -5l-8 -5l-10 -5l-8 -4l-9 -5" stroke-width="2.9" stroke-opacity="0.22"/>
<path d="M552 1380l-1 10l-1 10l-1 10l-2 9l-4 10l-1 9l-5 11l-1 8l-6 9l-3 11l-2 10l0 8l2 11l3 9l3 11l6 8l8 6" stroke-width="2.9" stroke-opacity="0.19"/>
<path d="M172 1466l9 5l9 3l10 5l9 1l10 3l10 3l9 5l9 3l9 2" stroke-width="2.6" stroke-opacity="0.32"/>
<path d="M186 1709l11 2l8 -1l10 -1l12 2l9 -1l9 2l10 1l11 0l10 0" stroke-width="1.7" stroke-opacity="0.29"/>
<path d="M487 1549l-8 -7l-6 -6l-9 -5l-8 -5l-10 -5l-9 -4l-9 -4l-9 -4l-10 -4l-7 -6l-8 -6l-7 -6l-8 -8l-7 -6l-7 -8l-8 -6l-8 -7l-7 -5" stroke-width="1.5" stroke-opacity="0.37" stroke-dasharray="14 3 5 2"/>
<path d="M74 1409l-4 -10l-5 -9l-4 -9l-5 -8l-5 -10l-4 -7l-3 -10l-5 -8l-2 -12l-5 -8" stroke-width="1.4" stroke-opacity="0.23"/>
<path d="M229 1689l9 6l8 4l8 5l9 5l9 7l7 5l9 7l7 6l7 8l6 8l4 9l5 10l6 8l5 8l9 6l6 8l7 7l6 7" stroke-width="2.8" stroke-opacity="0.36"/>
<path d="M295 1328l-10 -1l-9 -3l-11 1l-10 -2l-10 -1l-9 -4l-10 -1l-11 -3l-10 1l-10 -2l-10 0l-10 2l-8 3l-10 0l-11 0l-10 0l-9 1l-11 -2l-9 -1l-10 0l-10 -2l-9 -2l-11 -1l-9 -3l-11 0l-10 -1l-10 2l-10 0l-9 -1l-10 0" stroke-width="2.3" stroke-opacity="0.28"/>
<path d="M348 1387l-10 1l-10 2l-11 0l-9 0l-10 1l-10 -2l-9 0l-11 -2l-10 -2l-10 0l-9 -3l-10 -2l-8 -6l-10 -2l-9 -5l-9 -3l-9 -1l-12 -2l-8 1l-11 -2l-9 -1l-11 0l-11 0l-9 -1l-10 1l-10 0l-10 0l-9 1l-12 0l-8 0l-10 0l-10 -1l-11 2l-10 1l-8 3l-12 0l-9 2l-9 3" stroke-width="2.3" stroke-opacity="0.15" stroke-dasharray="9 2 4 2"/>
<path d="M259 1493l-3 -9l-2 -9l-5 -10l-6 -9l-5 -7l-6 -9l-5 -10l-4 -8l-2 -9l-5 -10l-5 -8" stroke-width="2.5" stroke-opacity="0.28" stroke-dasharray="14 3 5 2"/>
<path d="M511 1595l9 -4l7 -7l8 -9l6 -6l7 -7l9 -6l8 -6l7 -4l8 -7l8 -7l9 -6l8 -4l10 -3l8 -5l10 -5l8 -4l9 -3l9 -4l10 -4l10 -6l6 -5l10 -4l9 -4l9 -3l9 -5l9 -3l10 -4l10 -1l10 -3l11 -3l9 0l9 -3l10 -1l9 -4l11 -3l8 -4l9 -2l10 -4l11 -4l7 -3l9 -5" stroke-width="2.6" stroke-opacity="0.28" stroke-dasharray="9 2 4 2"/>
<path d="M383 1458l-9 5l-7 7l-7 7l-8 6l-8 5l-9 5l-8 5l-8 6l-10 2l-10 5l-9 2l-10 4l-8 7l-9 2l-10 4l-10 3l-9 1l-9 5l-11 -1l-10 2l-9 2l-11 2l-9 2l-9 4l-10 0l-11 2l-9 -2l-10 1l-10 1l-10 2l-9 5l-9 3l-10 4l-9 3l-10 1l-9 6l-9 3l-10 2l-9 4" stroke-width="2.1" stroke-opacity="0.10"/>
<path d="M457 1609l9 0l10 3l11 0l9 1l10 -2l10 -3l10 1l10 1l10 1l10 0l10 0l10 1l9 -4l11 -2l9 -2l10 -5l9 -3l9 0l9 -5l10 -4l9 -4l10 -5l7 -5" stroke-width="1.4" stroke-opacity="0.27"/>
<path d="M479 1494l3 9l4 9l2 9l4 10l3 9l4 11l3 8l4 10l3 9l4 9l5 8l7 10l6 6l7 7l6 7l7 8l10 6l8 3l9 6l8 5l8 7l7 8l5 8l7 6l7 9l5 8l6 6l6 9l5 10l5 8l6 6l8 8l9 5l9 5l8 4l10 3" stroke-width="1.4" stroke-opacity="0.13" stroke-dasharray="9 2 4 2"/>
<path d="M355 1676l9 2l11 2l9 -1l11 1l9 0l11 3l10 3l9 3" stroke-width="2.8" stroke-opacity="0.27" stroke-dasharray="14 3 5 2"/>
<path d="M293 1491l9 -2l10 -4l9 -2l11 1l9 -2l10 0l10 -1l10 -1l10 0l11 -1l9 0l11 0l10 0" stroke-width="1.8" stroke-opacity="0.17" stroke-dasharray="9 2 4 2"/>
<path d="M519 1546l-3 -10l-2 -8l-1 -11l-2 -9l-1 -11l0 -10l0 -9l1 -10l1 -11l4 -8l2 -10l4 -10l3 -8l2 -11l5 -10l4 -7l3 -11l2 -9l0 -11l2 -9l5 -10l6 -7l4 -9l3 -9l6 -10l3 -9l6 -7l6 -10l6 -8l8 -6" stroke-width="2.4" stroke-opacity="0.33" stroke-dasharray="14 3 5 2"/>
<path d="M377 1743l-8 -4l-8 -6l-6 -8l-7 -10l-6 -5l-7 -9l-8 -7l-8 -5l-8 -5l-8 -7l-10 -2l-9 -3l-10 -3l-10 1l-9 -3l-10 -5l-9 0l-10 -6l-9 -3l-9 -3" stroke-width="3.0" stroke-opacity="0.18" stroke-dasharray="9 2 4 2"/>
<path d="M472 1677l10 0l11 2l9 0l9 2l10 3l9 4l10 3l8 7l7 6l9 5l9 6" stroke-width="2.1" stroke-opacity="0.15" stroke-dasharray="14 3 5 2"/>
<path d="M112 1564l6 -9l5 -7l4 -9l5 -10l7 -8l7 -8l2 -8l5 -10l4 -10l1 -9l2 -10l0 -10l3 -10l1 -10l-1 -10l2 -10l-1 -11l2 -8l0 -11l-1 -10l0 -10l2 -10l2 -10l1 -10l0 -9l4 -9l3 -10l2 -10l-1 -10l1 -11l-2 -9l1 -10l1 -10l0 -11l-3 -10l3 -9l0 -10" stroke-width="2.4" stroke-opacity="0.26"/>
<path d="M399 1715l-9 0l-11 -1l-10 1l-10 0l-9 -1l-10 -4l-9 -1l-11 -2l-10 -1l-9 2l-11 -1l-9 1l-11 1l-10 2l-9 5l-8 2l-11 5l-8 3l-9 5l-8 5l-10 5l-7 4l-10 6l-6 6l-8 7l-7 7l-8 7l-8 7l-7 5l-10 4l-10 3l-7 6l-8 6l-9 7l-8 5l-10 3l-10 1l-9 2l-9 3" stroke-width="1.4" stroke-opacity="0.17"/>
<path d="M108 1367l5 -9l4 -8l2 -11l2 -10l1 -9l2 -9l4 -11l3 -8l5 -9l5 -9l6 -8l3 -8l4 -10l3 -9l4 -11l1 -9l2 -11l2 -9" stroke-width="2.8" stroke-opacity="0.33"/>
<path d="M452 1523l0 -10l-1 -10l2 -9l0 -11l1 -9l0 -12l0 -10l-1 -8l3 -11l1 -10l4 -10l1 -9l3 -10l5 -9l6 -9l4 -8l4 -9l5 -9l4 -8l5 -8l6 -10l7 -7l6 -9l6 -7l7 -7l8 -6l6 -10l4 -8" stroke-width="1.7" stroke-opacity="0.11" stroke-dasharray="9 2 4 2"/>
<path d="M102 1536l9 -2l11 0l9 -3l10 0l10 0l10 -1l10 -2l9 -1l10 -1l11 2l10 -2l10 -3l11 -1l7 -5l12 0l9 -2l9 -2l10 -4l8 -2" stroke-width="1.5" stroke-opacity="0.36"/>
<path d="M143 1587l-2 11l-1 9l-3 10l-2 9l-3 10l-5 9l-4 10l-3 8l-3 10l-3 10l-2 9l0 10l-3 10l-1 9l3 12l1 9l1 10l4 10l2 9l1 10l1 9l4 10l1 11l2 9l1 11l-1 9l-1 11l2 9l1 10l2 11l1 9l3 10l2 10l-1 9l-1 11l0 9l-1 10l2 9l-2 12l-2 10" stroke-width="1.9" stroke-opacity="0.12" stroke-dasharray="14 3 5 2"/>
<path d="M473 1728l5 8l5 9l6 7l6 10l7 8l5 7l6 9l5 7l3 10l2 11l1 9l3 10l3 9l6 9l6 8l4 10l6 7l4 9l2 10l4 9l4 8l4 11l5 10l3 9l1 9" stroke-width="2.0" stroke-opacity="0.12"/>
<path d="M254 1483l9 0l10 -2l10 -5l10 -3l10 -3l8 -2l11 -3l9 -2l10 -2l9 -2l11 -1l10 0l10 -1l10 0l10 1l9 -1l10 -2l10 -2l10 -2l10 -3l8 -3l11 0l9 -2l11 0" stroke-width="1.9" stroke-opacity="0.17"/>
<path d="M222 1539l-6 7l-9 8l-7 5l-10 5l-8 4l-9 5l-8 4l-10 3l-10 2l-10 3l-9 1l-10 0l-10 3l-11 2l-10 -2l-9 0l-9 -2l-11 -3l-10 -2l-10 -2l-8 -2l-11 -3l-9 -2l-10 -3l-8 -4l-9 -7l-9 -6l-8 -5l-7 -4l-9 -6l-10 -5" stroke-width="1.8" stroke-opacity="0.31" stroke-dasharray="9 2 4 2"/>
<path d="M410 1404l-2 -9l-3 -10l-2 -11l0 -8l-2 -11l2 -10l0 -10l0 -9" stroke-width="2.9" stroke-opacity="0.28"/>
<path d="M274 1553l6 -7l8 -8l6 -8l7 -6l7 -7l10 -3l9 -2l11 -4l10 0l9 -4l10 -1l9 0l10 -1l10 -2l11 1l9 2l10 1l10 3l9 0l10 4l10 3l9 3l9 4l10 2l9 3l9 5l9 3l10 6l9 2l10 2l9 5l8 3l11 3l10 2" stroke-width="2.6" stroke-opacity="0.22" stroke-dasharray="14 3 5 2"/>
<path d="M73 1690l5 8l6 7l8 8l6 7l6 9l6 6l9 6l8 6l10 3l7 6l10 4" stroke-width="1.6" stroke-opacity="0.29" stroke-dasharray="9 2 4 2"/>
<path d="M162 1509l7 6l9 6l8 5l10 5l9 3l9 5l8 4l9 3l9 5l9 6l8 4l9 5l8 5l10 5l8 6l9 5l9 4l9 3l9 5l9 6l8 6l8 6l6 7" stroke-width="1.9" stroke-opacity="0.38"/>
<path d="M79 1596l2 9l1 11l2 9l1 10l0 10l2 11l3 9l1 11l2 8l2 11l2 10l3 8l2 9l5 10l5 9l4 8l4 10l2 10l2 9l2 10" stroke-width="1.5" stroke-opacity="0.36"/>
<path d="M234 1573l5 -8l4 -8l2 -10l5 -10l6 -8l3 -10l7 -8l3 -9" stroke-width="1.7" stroke-opacity="0.20"/>
<path d="M52 1332l6 -8l5 -8l5 -8l5 -8l6 -8l8 -8l6 -8l5 -8l6 -9l5 -7l8 -7l6 -9l6 -10l2 -8l5 -10l3 -8l2 -10l1 -11l0 -9l0 -10l-2 -9l-2 -12l-2 -9l-1 -10l2 -10l1 -10l0 -10l2 -10" stroke-width="2.6" stroke-opacity="0.19"/>
<path d="M561 1666l2 -9l-2 -11l2 -9l0 -10l1 -11l5 -8l2 -9l5 -10l3 -9l4 -9l3 -11l2 -10l4 -9l0 -9l1 -11l1 -10l2 -10l3 -8l3 -11l0 -9" stroke-width="2.8" stroke-opacity="0.14"/>
<path d="M304 1527l10 -3l9 -3l8 -7l7 -7l9 -5l7 -6l10 -5l7 -7l6 -7l6 -9l8 -6l9 -6l10 -3l8 -6l7 -6l7 -7l5 -8l4 -10l5 -8l6 -10l5 -6l5 -8l6 -8l7 -9l6 -8l6 -8l6 -7" stroke-width="1.6" stroke-opacity="0.40" stroke-dasharray="14 3 5 2"/>
<path d="M404 1539l-3 10l-3 9l0 11l-5 9l-4 8l-6 9l-4 10l-4 9l-3 8l-2 9l-6 10l-4 9l-7 7l-6 9l-6 6l-7 7l-9 5l-8 6l-8 6l-11 5l-6 5l-7 9l-7 6l-6 8l-6 8l-8 7l-8 8l-6 5" stroke-width="3.0" stroke-opacity="0.33" stroke-dasharray="9 2 4 2"/>
<path d="M343 1310l-10 4l-10 1l-11 0l-8 -1l-11 1l-9 1l-12 -2l-8 0l-10 -3l-9 -4l-9 -4l-11 -3l-9 -4l-8 -7l-8 -5l-8 -6l-6 -9l-4 -8l-7 -8l-5 -9l-7 -7l-3 -10l-4 -8l-3 -11l-6 -7l-7 -8l-6 -6l-8 -8l-7 -8l-7 -6l-7 -7l-6 -7l-9 -7l-6 -6l-5 -10l-4 -8l-4 -10" stroke-width="1.7" stroke-opacity="0.29" stroke-dasharray="14 3 5 2"/>
<path d="M154 1577l-9 -6l-6 -8l-6 -8l-5 -8l-8 -7l-6 -9l-6 -6l-6 -7l-7 -10l-6 -6l-7 -7l-8 -7l-8 -5l-8 -7l-9 -3l-9 -5l-9 -4l-8 -7l-9 -4l-7 -6l-10 -6l-8 -4l-7 -8l-10 -5l-5 -7l-8 -6l-5 -8l-7 -9l-5 -8l-8 -8l-8 -6l-6 -6l-9 -7l-8 -7l-6 -8l-7 -7l-5 -9l-5 -7" stroke-width="2.2" stroke-opacity="0.29"/>
<path d="M397 1524l-4 10l-2 10l-2 9l-2 10l0 9l1 11l-3 9l-2 10l-1 11l-2 8" stroke-width="1.9" stroke-opacity="0.30" stroke-dasharray="14 3 5 2"/>
<path d="M81 1572l-3 8l-3 10l-3 10l-2 10l-1 9l-2 11l-3 9l-4 9l-4 9l-5 9l-6 8l-4 10l-4 7l-6 9l-8 8l-5 8l-7 8l-7 7l-8 7l-7 4l-10 6l-7 5l-9 6l-9 4l-8 6l-8 7l-8 5l-6 7l-7 8l-8 5l-7 9l-7 7l-7 7l-6 7l-8 7l-9 6l-9 4l-8 6l-9 5l-9 2" stroke-width="2.8" stroke-opacity="0.28" stroke-dasharray="14 3 5 2"/>
<path d="M194 1671l1 11l-2 10l-3 10l-1 8l-5 10l-2 10l-1 10l-3 9l0 11l-2 10l-1 8l-4 10l-4 10l-3 8l-3 11l-1 9l0 11l-2 9l1 10l0 10l3 11l1 9l3 10l-1 10l2 10l0 11l1 9l-3 10l1 10l-2 10l-1 9l-3 10l-3 10l-6 8" stroke-width="2.3" stroke-opacity="0.28"/>
<path d="M383 1692l-9 -4l-9 -1l-11 -1l-10 -1l-10 -4l-10 -2l-8 -4l-9 -3l-10 -3l-10 -4l-9 -2" stroke-width="2.0" stroke-opacity="0.32" stroke-dasharray="14 3 5 2"/>
<path d="M439 1709l-10 -3l-9 -3l-8 -6l-8 -4l-10 -6l-8 -5l-7 -5l-10 -7l-7 -5l-7 -6l-9 -7l-7 -6l-10 -4l-8 -4l-8 -6l-10 -3l-10 -3l-10 -4l-10 -2l-9 0l-10 -1l-10 0l-10 -1l-9 -1l-10 -2l-11 1l-9 3l-10 0l-11 -2l-9 -2l-11 0l-9 -3l-10 -2l-9 -3l-9 -2l-10 -5l-8 -5" stroke-width="2.7" stroke-opacity="0.29"/>
<path d="M109 1432l-9 2l-10 3l-9 7l-8 4l-10 5l-8 3l-9 4l-9 5l-8 5l-9 7l-8 5l-9 3l-10 6l-8 4l-10 4l-9 1l-10 3l-10 2l-10 1l-10 3l-9 3l-9 5l-9 4l-7 6l-8 8l-7 8l-3 9l-7 7l-4 9l-5 9l-6 8l-5 10l-4 8" stroke-width="2.5" stroke-opacity="0.19"/>
<path d="M487 1483l-10 2l-9 3l-10 4l-9 3l-9 3l-11 0l-11 2l-10 2l-9 4l-7 3l-11 4l-9 2l-10 3l-10 1l-9 2l-9 4l-11 3l-8 4l-9 7l-8 4l-8 7l-8 7l-5 7l-7 9l-5 8l-5 9l-4 9l-1 9l-2 9l-2 11l-2 11l-1 10l-3 9l-1 9" stroke-width="2.2" stroke-opacity="0.16"/>
<path d="M257 1321l-6 8l-7 9l-6 7l-8 6l-6 7l-9 4l-11 6l-8 3l-9 1l-11 4l-10 2l-8 0l-10 1l-12 0l-9 4l-9 2l-8 6l-10 2l-10 0l-10 2l-10 2l-11 0l-9 4l-9 2l-11 5" stroke-width="3.0" stroke-opacity="0.26"/>
<path d="M322 1321l-9 -2l-10 -5l-10 -2l-9 -3l-9 -1l-10 1l-12 0l-10 -3l-8 -3l-10 -4" stroke-width="3.0" stroke-opacity="0.31"/>
<path d="M198 1523l-4 -8l-5 -9l-6 -8l-5 -8l-4 -10l-4 -9l-6 -8l-4 -10" stroke-width="2.8" stroke-opacity="0.32"/>
<path d="M560 1527l3 9l6 10l2 9l4 9l6 8l3 10l4 9l4 9" stroke-width="2.8" stroke-opacity="0.33"/>
<path d="M308 1536l6 -7l8 -7l6 -7l10 -5l8 -7l7 -6l8 -6l6 -9l6 -7l7 -7l6 -8l7 -6l7 -10l5 -8l5 -9l5 -8l3 -10l2 -9l3 -10l6 -9l3 -8l7 -8l4 -8l8 -9l6 -7l7 -6l6 -9l5 -9l6 -7l7 -7l8 -8l6 -6l8 -8l7 -6l8 -5l8 -7l7 -7l7 -8" stroke-width="2.2" stroke-opacity="0.37"/>
<path d="M435 1333l9 6l7 6l8 5l8 7l7 6l7 6l6 9l6 9l8 7l8 5l9 5l10 4l7 6l8 7l6 7l9 4l10 5l8 5l10 4l9 2" stroke-width="2.8" stroke-opacity="0.37" stroke-dasharray="9 2 4 2"/>
<path d="M76 1330l-11 2l-8 2l-11 4l-9 2l-9 3l-11 1l-9 1l-9 1l-12 2l-9 3l-9 2l-11 2l-8 0l-12 1l-10 1l-9 3l-10 0l-9 1l-10 1l-10 1l-10 1l-10 0l-10 4l-9 4l-10 5l-7 2l-11 5l-8 3l-9 6" stroke-width="1.5" stroke-opacity="0.27" stroke-dasharray="9 2 4 2"/>
<path d="M269 1813l7 -7l8 -7l5 -8l7 -7l7 -9l7 -7l7 -6l8 -6" stroke-width="2.8" stroke-opacity="0.34" stroke-dasharray="9 2 4 2"/>
<path d="M377 1606l-11 2l-9 0l-10 1l-11 -2l-10 2l-9 3l-9 2l-11 2l-10 2l-8 5l-10 5l-8 4l-10 3l-11 2l-9 1l-9 2l-9 3l-9 5l-9 4l-9 3l-10 3l-11 -1" stroke-width="2.7" stroke-opacity="0.15" stroke-dasharray="9 2 4 2"/>
<path d="M344 1641l9 0l9 -4l9 -5l9 -7l7 -5l9 -7l7 -5l9 -8l6 -7l6 -7l6 -9l4 -9l3 -9l4 -9l5 -9l4 -8l5 -8l7 -10l5 -7l6 -9l7 -7l7 -7l6 -8l7 -6l9 -6" stroke-width="1.6" stroke-opacity="0.19" stroke-dasharray="14 3 5 2"/>
<path d="M433 1629l-3 -9l-6 -8l-3 -10l-5 -9l-5 -8l-5 -10l-5 -9l-6 -6l-7 -8l-4 -10l-7 -8l-4 -8l-4 -10l-6 -9l-2 -8l-5 -9l-2 -9l-8 -11l-3 -7l-6 -10l-6 -7l-7 -6l-6 -8l-9 -7l-6 -8l-9 -5l-7 -6l-6 -7" stroke-width="2.4" stroke-opacity="0.19" stroke-dasharray="14 3 5 2"/>
<path d="M369 1768l4 -9l4 -8l7 -8l5 -9l8 -7l8 -6l9 -4l9 -5l9 -5l7 -5l9 -4l9 -6l9 -4l10 -5l9 -2l10 -3l10 -3l10 -1l9 -1l10 2l10 -2l11 -2l8 0l10 -1l11 0l11 -2l8 -2l9 -5l11 -2l10 -4l8 -2" stroke-width="2.0" stroke-opacity="0.32"/>
<path d="M109 1727l10 -4l9 -3l9 -1l11 -1l9 -4l8 -3l9 -5l9 -6l9 -5l11 -3l7 -3l11 -3l9 -5l8 -3l10 -3l11 0l11 2l9 1" stroke-width="2.5" stroke-opacity="0.37"/>
<path d="M551 1538l-1 -9l-1 -10l1 -10l0 -11l0 -10l1 -10l2 -9l1 -11l2 -8l1 -11l2 -9l0 -11l1 -10l1 -10l2 -10l1 -10l2 -10l4 -9l1 -9l2 -11l1 -9l0 -10l1 -10l3 -9l0 -11l-1 -9l0 -11l0 -9l0 -11" stroke-width="2.9" stroke-opacity="0.21"/>
<path d="M488 1677l0 -10l-1 -9l-1 -10l-2 -11l-4 -9l-2 -10l-6 -8l-5 -8l-8 -8l-7 -6l-9 -4" stroke-width="2.6" stroke-opacity="0.33"/>
<path d="M235 1376l8 -6l7 -7l8 -7l6 -7l6 -9l5 -8l5 -9l6 -6l6 -9l6 -10l5 -8l3 -10l3 -8l2 -11l2 -9l1 -11l-1 -9l0 -10l-1 -10l0 -11l1 -9l2 -9l4 -11l2 -8l1 -10l2 -10l-1 -11" stroke-width="2.5" stroke-opacity="0.20" stroke-dasharray="9 2 4 2"/>
<path d="M462 1697l6 8l6 6l9 6l10 4l9 5l10 3l8 4l7 6l10 6l7 5l10 4l9 2l11 2l9 6l8 3l9 6l7 6" stroke-width="2.1" stroke-opacity="0.35"/>
<path d="M83 1379l-1 -11l1 -9l-3 -10l-3 -11l-4 -7l-7 -7l-6 -8l-6 -9l-4 -10l-4 -9l0 -10l-4 -8l0 -11l-4 -9l-4 -9l0 -11l-3 -9l-1 -10l-5 -10l-3 -9l-3 -8l-5 -10l-2 -10l0 -9l-1 -11l-1 -11l0 -9l-1 -9l-2 -11l-1 -9l0 -11l0 -10l-3 -9l0 -11l1 -9l-3 -10l-2 -9l-3 -11l-3 -9" stroke-width="1.6" stroke-opacity="0.10"/>
<path d="M340 1484l6 -7l7 -7l8 -6l10 -5l8 -5l9 -3l11 -2l8 -4l10 -2l11 1l10 0l10 0l8 3l11 3l10 1l9 2l11 1l9 0l10 2l10 -2l11 -2" stroke-width="2.3" stroke-opacity="0.19"/>
<path d="M340 1596l-10 -2l-10 -3l-8 -3l-9 -3l-10 -6l-8 -5l-9 -4l-9 -4l-9 -7l-8 -3l-11 -4l-10 -1" stroke-width="2.1" stroke-opacity="0.29"/>
<path d="M304 1365l4 -9l4 -8l7 -8l5 -9l6 -8l7 -8l7 -6l8 -7l9 -3l8 -7l8 -6l9 -4l9 -4l9 -5l9 -5l8 -3l10 -5l9 -5l9 -4l7 -4l10 -6l8 -4" stroke-width="2.9" stroke-opacity="0.24" stroke-dasharray="14 3 5 2"/>
<path d="M352 1521l6 -8l8 -7l7 -6l8 -7l7 -6l6 -8l9 -8l5 -6l7 -8l8 -7l7 -7l8 -7l7 -6l9 -5l9 -6l8 -5l8 -4l9 -5l8 -6l7 -7l9 -5l9 -6l9 -3l9 -5l8 -5l8 -6l9 -4l8 -5l10 -3l9 -3l10 -4l10 -4l8 -3l11 -5l9 -2l8 -5l10 -2l9 -5l10 -3" stroke-width="2.2" stroke-opacity="0.29"/>
<path d="M419 1328l9 5l8 2l10 5l10 4l9 0l9 5l10 2l11 0l10 0l8 1l12 2l9 1l10 2l9 2l11 0l9 2l10 0l11 0l10 -1l10 1l10 1l9 0l11 0l8 1l10 2l10 4l9 4l11 2l9 1l9 5l9 2l10 4l9 5l8 5l9 3" stroke-width="2.5" stroke-opacity="0.25"/>
<path d="M500 1710l7 -5l8 -6l10 -4l10 -3l10 -2l8 -5l9 -5l10 -4l7 -5l7 -8l8 -8l6 -7l5 -9l4 -8l4 -11l6 -7l8 -7l7 -7l4 -9" stroke-width="1.5" stroke-opacity="0.10" stroke-dasharray="9 2 4 2"/>
<path d="M475 1454l-4 9l-5 10l-6 7l-8 7l-5 8l-5 8l-7 8l-4 9l-4 9l-2 9l-5 10l1 11l-3 9l-4 9l-3 10l-3 10l-2 10l-1 9l-2 9l-1 11l-2 11l-5 8l-2 9l-2 11l-5 9l-4 9l-4 9l-5 8l-4 9l-3 10l-4 9l-2 10l-3 9l-2 10l-3 10l-4 9l-3 9l-1 11l-2 9" stroke-width="2.6" stroke-opacity="0.30"/>
<path d="M227 1525l-4 8l-7 8l-8 7l-5 7l-8 6l-7 7l-9 4l-11 5l-8 3l-9 5l-9 3l-11 3l-10 2l-8 3l-10 2l-11 3l-9 3l-8 4" stroke-width="2.6" stroke-opacity="0.17"/>
<path d="M337 1363l-1 -9l-3 -10l-2 -11l-5 -8l0 -11l-5 -10l-2 -9l-2 -10l-3 -8l-1 -11l-2 -9l-3 -10l-3 -10l-2 -10l-1 -10l-1 -9l-1 -11l1 -10l1 -10l2 -10l2 -8l5 -9l0 -11l3 -9l3 -11" stroke-width="2.3" stroke-opacity="0.32"/>
<path d="M68 1325l10 1l10 1l10 0l9 3l10 0l10 5l10 2l10 2l8 4l11 4l9 1l10 1l10 4l9 0l10 1l10 4l9 1l10 1l10 0l11 0l10 0l9 1" stroke-width="2.8" stroke-opacity="0.39" stroke-dasharray="9 2 4 2"/>
<path d="M136 1414l-7 6l-9 7l-9 3l-10 4l-9 3l-8 5l-11 2l-10 1l-9 4l-10 0l-10 2l-10 2l-9 2l-10 2l-9 5l-9 4l-10 3l-7 7l-9 5l-7 5l-10 6l-8 6l-8 4l-9 3l-10 5l-10 3l-8 5l-9 4l-9 5l-11 3l-7 5l-10 3l-9 4l-7 7l-8 7l-7 6l-10 5l-9 4l-9 5l-8 5" stroke-width="2.5" stroke-opacity="0.20"/>
<path d="M469 1367l-9 3l-10 2l-11 2l-8 2l-12 2l-9 2l-10 -1l-10 2l-10 2l-9 1l-10 -1l-9 -2l-10 -3l-10 -2l-10 -1l-10 -5l-8 -4l-8 -7" stroke-width="2.5" stroke-opacity="0.22" stroke-dasharray="9 2 4 2"/>
<path d="M556 1753l-5 8l-7 9l-4 8l-4 8l-5 10l-5 9l-2 10l-5 8l-4 8l-8 8l-6 6l-8 8l-9 5l-9 4" stroke-width="2.4" stroke-opacity="0.35" stroke-dasharray="14 3 5 2"/>
</g>
<g fill="#fff" filter="url(#b1)">
<ellipse cx="428" cy="1757" rx="1.6" ry="1.3" fill-opacity="0.92"/>
<ellipse cx="229" cy="1553" rx="1.3" ry="1.2" fill-opacity="0.65"/>
<ellipse cx="429" cy="1728" rx="2.4" ry="1.8" fill-opacity="0.69"/>
<ellipse cx="323" cy="1762" rx="2.0" ry="1.4" fill-opacity="0.44"/>
<ellipse cx="216" cy="1389" rx="2.0" ry="1.6" fill-opacity="0.81"/>
<ellipse cx="229" cy="1427" rx="1.3" ry="1.5" fill-opacity="0.88"/>
<ellipse cx="506" cy="1478" rx="1.3" ry="1.6" fill-opacity="0.59"/>
<ellipse cx="173" cy="1703" rx="2.0" ry="2.2" fill-opacity="0.90"/>
<ellipse cx="541" cy="1532" rx="2.4" ry="3.0" fill-opacity="0.57"/>
<ellipse cx="98" cy="1788" rx="2.0" ry="1.6" fill-opacity="0.39"/>
<ellipse cx="447" cy="1763" rx="1.3" ry="1.4" fill-opacity="0.83"/>
<ellipse cx="458" cy="1420" rx="1.3" ry="1.0" fill-opacity="0.92"/>
<ellipse cx="108" cy="1743" rx="1.6" ry="1.2" fill-opacity="0.37"/>
<ellipse cx="171" cy="1711" rx="1.6" ry="1.3" fill-opacity="0.46"/>
<ellipse cx="487" cy="1485" rx="1.3" ry="0.9" fill-opacity="0.63"/>
<ellipse cx="533" cy="1611" rx="2.0" ry="2.6" fill-opacity="0.58"/>
<ellipse cx="153" cy="1352" rx="1.3" ry="0.9" fill-opacity="0.62"/>
<ellipse cx="396" cy="1488" rx="1.6" ry="1.6" fill-opacity="0.38"/>
<ellipse cx="171" cy="1336" rx="1.3" ry="1.4" fill-opacity="0.45"/>
<ellipse cx="161" cy="1774" rx="1.3" ry="1.5" fill-opacity="0.72"/>
<ellipse cx="233" cy="1508" rx="2.0" ry="1.9" fill-opacity="0.57"/>
<ellipse cx="520" cy="1565" rx="1.6" ry="1.9" fill-opacity="0.46"/>
<ellipse cx="509" cy="1460" rx="2.4" ry="3.0" fill-opacity="0.40"/>
<ellipse cx="210" cy="1356" rx="2.4" ry="2.8" fill-opacity="0.60"/>
<ellipse cx="240" cy="1453" rx="1.3" ry="1.6" fill-opacity="0.79"/>
<ellipse cx="348" cy="1358" rx="3.0" ry="3.6" fill-opacity="0.52"/>
<ellipse cx="495" cy="1539" rx="1.3" ry="1.6" fill-opacity="0.42"/>
<ellipse cx="502" cy="1701" rx="1.6" ry="1.4" fill-opacity="0.68"/>
<ellipse cx="327" cy="1784" rx="2.0" ry="2.4" fill-opacity="0.40"/>
<ellipse cx="121" cy="1433" rx="1.3" ry="1.6" fill-opacity="0.37"/>
<ellipse cx="213" cy="1678" rx="2.0" ry="1.6" fill-opacity="0.86"/>
<ellipse cx="462" cy="1321" rx="2.4" ry="2.8" fill-opacity="0.44"/>
<ellipse cx="260" cy="1394" rx="3.0" ry="3.4" fill-opacity="0.91"/>
<ellipse cx="445" cy="1344" rx="2.4" ry="2.3" fill-opacity="0.99"/>
<ellipse cx="293" cy="1615" rx="2.4" ry="2.2" fill-opacity="0.91"/>
<ellipse cx="83" cy="1613" rx="3.0" ry="3.1" fill-opacity="0.64"/>
<ellipse cx="83" cy="1567" rx="3.0" ry="2.6" fill-opacity="0.37"/>
<ellipse cx="531" cy="1756" rx="1.6" ry="1.3" fill-opacity="0.75"/>
<ellipse cx="415" cy="1603" rx="2.4" ry="1.7" fill-opacity="0.65"/>
<ellipse cx="189" cy="1599" rx="1.6" ry="1.7" fill-opacity="0.52"/>
<ellipse cx="431" cy="1606" rx="1.3" ry="1.6" fill-opacity="0.64"/>
<ellipse cx="410" cy="1366" rx="2.4" ry="3.0" fill-opacity="0.82"/>
<ellipse cx="138" cy="1790" rx="2.0" ry="2.4" fill-opacity="0.85"/>
<ellipse cx="264" cy="1774" rx="3.0" ry="2.4" fill-opacity="0.40"/>
<ellipse cx="411" cy="1336" rx="3.0" ry="2.6" fill-opacity="0.82"/>
<ellipse cx="279" cy="1535" rx="1.3" ry="1.6" fill-opacity="0.87"/>
<ellipse cx="339" cy="1643" rx="1.3" ry="1.1" fill-opacity="0.63"/>
<ellipse cx="195" cy="1339" rx="2.4" ry="2.3" fill-opacity="0.44"/>
<ellipse cx="363" cy="1571" rx="1.3" ry="1.2" fill-opacity="0.41"/>
<ellipse cx="240" cy="1523" rx="1.3" ry="1.4" fill-opacity="0.61"/>
<ellipse cx="437" cy="1666" rx="1.3" ry="1.0" fill-opacity="0.64"/>
<ellipse cx="389" cy="1458" rx="1.3" ry="1.1" fill-opacity="0.51"/>
<ellipse cx="157" cy="1664" rx="1.3" ry="1.3" fill-opacity="0.91"/>
<ellipse cx="371" cy="1487" rx="3.0" ry="3.7" fill-opacity="0.59"/>
<ellipse cx="80" cy="1687" rx="3.0" ry="3.0" fill-opacity="0.42"/>
<ellipse cx="161" cy="1786" rx="1.3" ry="1.2" fill-opacity="0.85"/>
<ellipse cx="143" cy="1770" rx="1.3" ry="1.7" fill-opacity="0.35"/>
<ellipse cx="405" cy="1675" rx="1.6" ry="1.4" fill-opacity="0.76"/>
<ellipse cx="395" cy="1788" rx="1.6" ry="1.6" fill-opacity="0.71"/>
<ellipse cx="309" cy="1793" rx="3.0" ry="3.0" fill-opacity="0.68"/>
<ellipse cx="359" cy="1680" rx="2.0" ry="2.2" fill-opacity="0.98"/>
<ellipse cx="446" cy="1508" rx="2.4" ry="2.1" fill-opacity="0.79"/>
<ellipse cx="429" cy="1756" rx="2.4" ry="2.8" fill-opacity="0.67"/>
<ellipse cx="78" cy="1655" rx="3.0" ry="3.8" fill-opacity="0.51"/>
<ellipse cx="412" cy="1479" rx="1.6" ry="1.7" fill-opacity="0.70"/>
<ellipse cx="106" cy="1707" rx="2.0" ry="1.6" fill-opacity="0.44"/>
<ellipse cx="233" cy="1529" rx="3.0" ry="3.7" fill-opacity="0.64"/>
<ellipse cx="91" cy="1429" rx="2.4" ry="2.1" fill-opacity="0.64"/>
<ellipse cx="375" cy="1418" rx="1.3" ry="1.1" fill-opacity="0.39"/>
<ellipse cx="327" cy="1378" rx="1.3" ry="1.4" fill-opacity="0.49"/>
<ellipse cx="509" cy="1330" rx="2.4" ry="2.5" fill-opacity="0.85"/>
<ellipse cx="417" cy="1673" rx="1.6" ry="2.1" fill-opacity="0.52"/>
<ellipse cx="166" cy="1458" rx="1.3" ry="1.1" fill-opacity="0.74"/>
<ellipse cx="260" cy="1437" rx="3.0" ry="2.6" fill-opacity="0.73"/>
<ellipse cx="336" cy="1785" rx="2.0" ry="1.5" fill-opacity="0.92"/>
<ellipse cx="307" cy="1761" rx="2.4" ry="2.7" fill-opacity="0.96"/>
<ellipse cx="178" cy="1497" rx="1.6" ry="1.9" fill-opacity="0.77"/>
<ellipse cx="290" cy="1447" rx="1.6" ry="1.2" fill-opacity="0.88"/>
<ellipse cx="295" cy="1530" rx="2.4" ry="1.7" fill-opacity="0.93"/>
<ellipse cx="208" cy="1388" rx="2.4" ry="2.5" fill-opacity="0.67"/>
<ellipse cx="301" cy="1419" rx="2.4" ry="3.0" fill-opacity="0.77"/>
<ellipse cx="274" cy="1602" rx="2.4" ry="1.8" fill-opacity="0.43"/>
<ellipse cx="185" cy="1673" rx="2.0" ry="1.7" fill-opacity="0.99"/>
<ellipse cx="403" cy="1457" rx="2.4" ry="2.9" fill-opacity="0.35"/>
<ellipse cx="379" cy="1557" rx="3.0" ry="2.7" fill-opacity="0.59"/>
<ellipse cx="373" cy="1352" rx="1.3" ry="0.9" fill-opacity="0.90"/>
<ellipse cx="284" cy="1667" rx="1.3" ry="1.4" fill-opacity="0.98"/>
<ellipse cx="328" cy="1555" rx="2.4" ry="2.1" fill-opacity="0.98"/>
<ellipse cx="419" cy="1699" rx="1.3" ry="1.6" fill-opacity="0.53"/>
<ellipse cx="114" cy="1443" rx="1.3" ry="1.4" fill-opacity="0.97"/>
<ellipse cx="161" cy="1706" rx="1.6" ry="1.8" fill-opacity="0.88"/>
<ellipse cx="247" cy="1599" rx="2.4" ry="1.9" fill-opacity="0.66"/>
<ellipse cx="231" cy="1555" rx="2.4" ry="2.4" fill-opacity="0.71"/>
<ellipse cx="495" cy="1470" rx="2.4" ry="2.7" fill-opacity="0.43"/>
<ellipse cx="226" cy="1562" rx="2.0" ry="1.5" fill-opacity="0.50"/>
<ellipse cx="275" cy="1570" rx="1.6" ry="1.4" fill-opacity="0.61"/>
<ellipse cx="524" cy="1750" rx="1.6" ry="1.4" fill-opacity="0.68"/>
<ellipse cx="322" cy="1363" rx="3.0" ry="2.1" fill-opacity="0.42"/>
<ellipse cx="327" cy="1615" rx="1.6" ry="1.9" fill-opacity="0.98"/>
<ellipse cx="285" cy="1414" rx="2.4" ry="2.0" fill-opacity="0.81"/>
<ellipse cx="252" cy="1779" rx="1.3" ry="1.5" fill-opacity="0.37"/>
<ellipse cx="261" cy="1481" rx="1.6" ry="1.6" fill-opacity="0.69"/>
<ellipse cx="374" cy="1707" rx="1.6" ry="1.6" fill-opacity="0.61"/>
<ellipse cx="288" cy="1788" rx="3.0" ry="3.9" fill-opacity="0.77"/>
<ellipse cx="456" cy="1468" rx="2.0" ry="2.2" fill-opacity="0.79"/>
<ellipse cx="79" cy="1734" rx="3.0" ry="3.4" fill-opacity="0.44"/>
<ellipse cx="243" cy="1632" rx="1.6" ry="1.2" fill-opacity="0.72"/>
<ellipse cx="475" cy="1502" rx="2.0" ry="1.9" fill-opacity="0.51"/>
<ellipse cx="325" cy="1768" rx="1.6" ry="1.4" fill-opacity="0.64"/>
<ellipse cx="310" cy="1557" rx="3.0" ry="2.4" fill-opacity="0.87"/>
</g>
<g filter="url(#b2)" fill="#fff"><ellipse cx="261.3" cy="1322.3" rx="11.0" ry="10.0"/><path d="M255.5 1318.1L252.2 1334.8L267.1 1326.5Z"/></g>
<g fill="#fff"><ellipse cx="261.3" cy="1322.3" rx="8.5" ry="7.5"/><path d="M256.7 1318.9L253.6 1332.9L265.9 1325.7Z"/></g>
<g filter="url(#b2)" fill="#fff"><ellipse cx="386.7" cy="1408.3" rx="10.5" ry="9.5"/><path d="M383.2 1402.5L374.1 1415.9L390.2 1414.1Z"/></g>
<g fill="#fff"><ellipse cx="386.7" cy="1408.3" rx="8.0" ry="7.0"/><path d="M383.9 1403.7L376.0 1414.7L389.5 1412.9Z"/></g>
<g filter="url(#b2)" fill="#fff"><ellipse cx="490.3" cy="1546.3" rx="10.5" ry="9.5"/><path d="M484.2 1543.5L484.2 1559.6L496.4 1549.1Z"/></g>
<g fill="#fff"><ellipse cx="490.3" cy="1546.3" rx="8.0" ry="7.0"/><path d="M485.4 1544.1L485.1 1557.6L495.2 1548.5Z"/></g>
<g filter="url(#b2)" fill="#fff"><ellipse cx="81.3" cy="1573.3" rx="10.5" ry="9.5"/><path d="M85.1 1578.9L93.4 1565.0L77.5 1567.7Z"/></g>
<g fill="#fff"><ellipse cx="81.3" cy="1573.3" rx="8.0" ry="7.0"/><path d="M84.3 1577.8L91.6 1566.3L78.3 1568.8Z"/></g>
<g filter="url(#b2)" fill="#fff"><ellipse cx="390.3" cy="1632.3" rx="10.5" ry="9.5"/><path d="M393.3 1626.2L377.1 1625.8L387.3 1638.4Z"/></g>
<g fill="#fff"><ellipse cx="390.3" cy="1632.3" rx="8.0" ry="7.0"/><path d="M392.7 1627.5L379.1 1626.8L387.9 1637.1Z"/></g>
<g filter="url(#b2)" fill="#fff"><ellipse cx="386.7" cy="1790.3" rx="11.0" ry="10.0"/><path d="M392.1 1785.6L376.6 1778.6L381.3 1795.0Z"/></g>
<g fill="#fff"><ellipse cx="386.7" cy="1790.3" rx="8.5" ry="7.5"/><path d="M391.0 1786.6L378.1 1780.3L382.4 1794.0Z"/></g>
</g>
<g clip-path="url(#gc1)">
<rect x="552.9" y="1317.3" width="478.6" height="476.6" fill="#030303" />
<rect x="552.9" y="1317.3" width="476.6" height="476.6" fill="#fff" filter="url(#nz)" opacity="0.1"/>
<g fill="none" stroke="#fff" stroke-linecap="round" stroke-linejoin="round" filter="url(#fil1)">
<path d="M1011 1787l8 -6l6 -7l7 -8l5 -8l5 -9l4 -9l3 -9l4 -10l3 -10l2 -9" stroke-width="2.1" stroke-opacity="0.37"/>
<path d="M627 1390l-4 8l-1 11l-3 9l-2 11l-2 8l-3 11l-2 10l-2 8l-6 10l-1 10l-5 9l-4 9l-4 8l-4 10l0 11l-3 9l2 11l2 10l2 9l1 10l1 10l0 9l2 11l1 9l-1 11l-1 10l1 9l1 10l3 9l2 10l0 11l2 9l4 10l3 9l3 11" stroke-width="2.8" stroke-opacity="0.17" stroke-dasharray="9 2 4 2"/>
<path d="M728 1307l-10 2l-9 2l-9 5l-9 4l-11 3l-10 0l-8 0l-12 -1l-10 0l-9 -3l-11 0l-8 -1l-11 0l-9 -3l-11 -4l-7 -4l-9 -4l-9 -5l-10 -5l-9 -4l-10 0l-8 -5" stroke-width="2.9" stroke-opacity="0.37"/>
<path d="M808 1411l-9 -3l-10 -4l-8 -4l-12 -3l-9 -2l-9 1l-10 1l-12 0l-9 -1l-10 -1l-9 -3l-11 -1l-9 -5l-9 -2l-9 -4l-8 -4l-10 -5l-7 -7l-7 -7l-7 -6l-10 -7l-7 -5l-9 -6l-6 -5l-10 -7l-7 -5l-10 -5l-8 -4l-10 -3l-8 -4l-11 -2l-10 0l-10 -1" stroke-width="2.9" stroke-opacity="0.51"/>
<path d="M872 1365l7 -8l7 -7l6 -8l2 -10l4 -8l3 -11l2 -9l3 -10l4 -10l1 -8l0 -10l-3 -10l1 -10l-3 -10l-3 -9l-2 -11l-4 -9l-2 -9l-3 -10l-2 -10l-1 -10l0 -11l2 -9l0 -9" stroke-width="2.8" stroke-opacity="0.20"/>
<path d="M914 1537l0 -10l2 -9l1 -11l3 -10l3 -8l3 -10l3 -9l3 -11l2 -9l4 -9l5 -9l5 -9l4 -9l5 -9l4 -8l6 -8l3 -10l5 -9l4 -10" stroke-width="2.5" stroke-opacity="0.39"/>
<path d="M1021 1401l3 10l3 9l2 10l3 10l2 9l3 11l4 7l3 10l2 11l-2 10l1 10l-4 9l0 9" stroke-width="2.0" stroke-opacity="0.32"/>
<path d="M598 1304l-6 8l-6 8l-5 8l-5 10l-3 9l-1 11l-3 9l-3 10l-2 8l-2 10l1 10l1 10l2 11l-1 8l2 11l3 10l0 11l0 10l3 7l3 12l0 9l1 11l-1 8l0 11l-2 9l-1 10l-4 11l-5 9l-4 7l-2 11l-5 9l-2 9l-5 9l-2 10" stroke-width="2.9" stroke-opacity="0.30" stroke-dasharray="14 3 5 2"/>
<path d="M581 1562l2 10l5 8l8 9l7 5l5 8l6 8l8 9l7 7l5 7l3 9l6 9l5 10l5 8l7 8l4 8l7 8l5 8l4 11l2 9l6 8l4 8l3 10" stroke-width="2.0" stroke-opacity="0.45"/>
<path d="M570 1345l-6 7l-8 8l-5 9l-4 9l-4 9l-5 8l-4 10l-7 8l-4 8l-5 10l-5 6" stroke-width="1.7" stroke-opacity="0.48" stroke-dasharray="9 2 4 2"/>
<path d="M599 1547l-6 8l-8 7l-5 9l-8 5l-7 8l-9 4l-8 5l-9 3l-11 1l-11 3l-9 2l-9 2l-10 1l-10 3l-10 3l-10 2l-10 3l-7 4" stroke-width="2.6" stroke-opacity="0.14"/>
<path d="M1013 1669l4 9l1 11l1 10l1 9l1 10l0 10l1 11l-1 9l0 10l1 9l4 10l3 9l4 10l4 9l5 10l5 8l5 9l5 8l8 6l4 10l4 9l5 8l4 8l6 9l7 8l7 7l8 7" stroke-width="1.8" stroke-opacity="0.53" stroke-dasharray="14 3 5 2"/>
<path d="M1037 1644l6 -9l8 -6l8 -5l7 -6l7 -9l5 -8l5 -10l6 -7l7 -7l7 -9l7 -5l7 -6l9 -6l7 -6l9 -7l8 -5l9 -6l8 -5l8 -7l6 -7l9 -5" stroke-width="2.4" stroke-opacity="0.25"/>
<path d="M906 1378l-10 -4l-8 -4l-8 -6l-8 -7l-8 -4l-8 -7l-7 -7l-7 -6l-9 -6l-10 -3l-10 -3l-8 -6l-11 -2l-8 -4l-10 -3l-7 -6l-11 -4l-7 -4l-11 -3l-9 -2l-11 -1l-10 -3l-10 1l-10 2" stroke-width="1.9" stroke-opacity="0.48" stroke-dasharray="9 2 4 2"/>
<path d="M869 1618l-1 -10l0 -10l-3 -10l-2 -8l-3 -11l-5 -8l-7 -8l-5 -9l-5 -7l-7 -8l-8 -6l-7 -8l-8 -6l-8 -4l-10 -6l-8 -5l-10 -4l-10 -3" stroke-width="3.0" stroke-opacity="0.33"/>
<path d="M987 1717l-9 -5l-9 -5l-9 -2l-9 -5l-10 -5l-8 -4l-10 -2l-11 -1l-9 2l-10 -1l-10 -2l-10 -4l-9 -1l-10 0l-11 1l-9 0l-11 -2l-10 0l-10 -1" stroke-width="2.7" stroke-opacity="0.48" stroke-dasharray="9 2 4 2"/>
<path d="M998 1691l-9 7l-8 5l-9 5l-7 5l-10 4l-9 6l-7 5l-9 6l-7 5l-8 6l-9 5l-10 6l-7 8l-7 6l-8 5l-7 7l-8 5l-10 4l-8 6l-11 3l-9 2l-10 3l-8 4l-10 4l-10 0l-10 3l-9 1l-10 3l-11 0l-8 0l-11 0l-10 -3l-9 -2l-11 -1l-10 -3l-10 1l-9 2l-10 0l-10 -1" stroke-width="1.4" stroke-opacity="0.17"/>
<path d="M662 1567l6 7l5 9l7 8l7 7l8 8l7 4l9 5l9 4l10 4l11 1l9 2l10 1l10 1" stroke-width="2.8" stroke-opacity="0.48"/>
<path d="M561 1718l4 -9l6 -9l5 -6l7 -9l7 -9l5 -8l6 -7l7 -8l7 -8l6 -6l4 -10l4 -9l3 -9l3 -10l3 -9l2 -10l4 -9l5 -10" stroke-width="2.8" stroke-opacity="0.34" stroke-dasharray="9 2 4 2"/>
<path d="M740 1684l-4 -9l-4 -9l-6 -10l-3 -7l-8 -10l-3 -9l-5 -8l-3 -9l-3 -10l-3 -10l1 -9l1 -11l-2 -9l-1 -10l-1 -10l-2 -10" stroke-width="1.7" stroke-opacity="0.32" stroke-dasharray="14 3 5 2"/>
<path d="M1013 1713l8 -6l7 -5l10 -5l10 -2l9 -3l10 0l9 -1l11 0l10 -2l10 -1l10 -1l10 0l9 0" stroke-width="2.3" stroke-opacity="0.51" stroke-dasharray="14 3 5 2"/>
<path d="M832 1728l8 -7l7 -8l6 -7l8 -5l9 -7l9 -4l7 -5l9 -6l8 -6l8 -5l7 -8" stroke-width="2.0" stroke-opacity="0.20"/>
<path d="M539 1635l-8 5l-9 5l-7 6l-10 6l-7 6l-9 7l-5 8l-7 6l-7 9l-7 8l-8 4l-7 7l-8 8l-8 5l-8 6l-8 5l-10 3l-10 4l-9 1l-11 0l-10 -3l-8 -2l-10 -3l-9 -3l-10 -5l-9 -1l-11 -1l-8 -3l-9 -4" stroke-width="1.7" stroke-opacity="0.23"/>
<path d="M839 1671l-3 -9l-2 -10l-1 -10l-4 -10l-2 -10l-4 -8l-5 -10l-1 -9l-5 -9l-5 -8l-6 -10l-4 -7l-6 -10l-8 -7l-6 -7l-4 -10l-6 -7l-4 -10l-7 -7l-4 -10l-3 -9l-3 -10l-4 -7l-5 -10l-6 -8l-4 -10l-3 -9l-2 -10l-5 -10l-2 -10l-1 -8l-3 -10l-3 -10l-3 -9l-4 -10l-5 -8" stroke-width="2.0" stroke-opacity="0.49"/>
<path d="M628 1337l-2 10l-1 10l-1 9l3 10l1 10l2 10l2 10l4 8l5 10l5 9l5 7l4 9l6 8l8 7l5 9l7 8l4 9l6 6l6 11l6 8l4 9l5 8l6 9l6 7l6 7l6 9l4 9l5 8l7 8l5 9l4 9l4 8" stroke-width="2.9" stroke-opacity="0.40" stroke-dasharray="9 2 4 2"/>
<path d="M939 1330l10 -2l10 -2l9 0l11 -1l10 -2l10 -3l8 -1l10 -5l10 -3l8 -2l11 -1l10 -3l10 0l9 -3l10 -1l10 0l10 -1l10 -3l10 -3l11 -1l8 -1l10 0l10 -2l9 -6l11 -4l8 -3l10 -4l8 -3l10 -2l9 -1" stroke-width="1.6" stroke-opacity="0.42" stroke-dasharray="9 2 4 2"/>
<path d="M596 1335l-5 -9l-6 -9l-3 -9l-6 -8l-3 -10l-6 -7l-7 -8l-6 -8l-4 -10l-4 -8l-4 -10l-4 -9" stroke-width="2.7" stroke-opacity="0.39"/>
<path d="M651 1300l2 9l6 8l2 12l1 9l1 10l2 10l0 10l2 10l-1 10l-1 10l-2 9l0 11l-1 9l-1 10l-3 10l-6 9l-3 8l-3 10l-4 10l-4 10l-3 9l-5 8l-3 9l-2 11l-2 10l-3 9" stroke-width="1.7" stroke-opacity="0.28"/>
<path d="M837 1398l11 -2l8 1l10 -1l11 -2l10 -4l8 -3l10 -4l8 -3l11 -5l9 -2l9 -5l9 -3l10 -1l10 0l11 -3l9 0l9 -3l11 -3l9 -2l10 -1l10 -2l9 0l11 -3l9 0l9 -3l10 -3l10 -1l10 0l10 -2l10 -1l10 -2l9 -4l10 -6l8 -4l7 -7l6 -7l7 -8l5 -8l7 -8l6 -8" stroke-width="2.7" stroke-opacity="0.34" stroke-dasharray="9 2 4 2"/>
<path d="M1032 1590l-6 8l-5 9l-6 7l-7 8l-7 7l-7 6l-7 10l-6 5l-7 8l-6 9l-9 6l-7 7l-5 7l-6 8l-7 7l-6 7l-8 8l-8 5l-6 7l-8 7l-6 9l-8 8l-6 5l-8 7l-5 9l-4 9l-5 8l-7 8l-5 9" stroke-width="1.6" stroke-opacity="0.25" stroke-dasharray="14 3 5 2"/>
<path d="M797 1567l-7 5l-10 7l-9 3l-9 3l-10 -1l-11 1l-10 0l-9 -1l-10 3l-11 1" stroke-width="2.3" stroke-opacity="0.40"/>
<path d="M726 1571l2 -9l1 -11l0 -10l-2 -10l-1 -10l0 -10l-1 -10l0 -10l-4 -9l-4 -9l-2 -9l-2 -10l-3 -10l-1 -10l2 -9l0 -11l1 -10l1 -9" stroke-width="2.6" stroke-opacity="0.22" stroke-dasharray="9 2 4 2"/>
<path d="M1049 1686l1 -10l1 -9l2 -10l1 -9l2 -12l2 -8l4 -11l4 -10l3 -8l4 -9l6 -9l4 -8l6 -10l5 -9l4 -8l5 -8l5 -8l5 -10l3 -8l3 -11l5 -8l3 -10l3 -9l1 -11l1 -9" stroke-width="1.5" stroke-opacity="0.15"/>
<path d="M550 1423l-10 -2l-11 -1l-9 -1l-10 -3l-9 0l-11 1l-10 -1l-9 1l-11 -1l-10 0l-10 0l-10 -2l-10 0l-9 2l-10 2l-10 4l-9 4l-8 3l-9 4l-10 6l-7 8l-6 8l-7 8l-6 6l-6 10l-8 6l-6 6l-9 5l-10 3l-7 7l-6 8l-9 7l-7 7l-8 3l-9 7l-9 4l-10 4l-10 2l-8 5" stroke-width="1.5" stroke-opacity="0.38"/>
<path d="M616 1786l6 -8l7 -8l4 -7l5 -9l6 -9l5 -8l5 -10l5 -9l5 -7l6 -8l7 -10l5 -6l9 -6l6 -8l10 -4l9 -5l7 -5l8 -6l9 -6l8 -7l7 -7l6 -6l7 -9l5 -8l4 -8l7 -9" stroke-width="1.5" stroke-opacity="0.48" stroke-dasharray="14 3 5 2"/>
<path d="M607 1619l-2 -9l-2 -11l-4 -9l-5 -9l-2 -9l-3 -10l-3 -10l-4 -10l0 -8l-2 -11l1 -10" stroke-width="2.7" stroke-opacity="0.28"/>
<path d="M614 1596l-7 7l-7 8l-8 5l-10 4l-8 7l-9 3l-8 5l-8 6" stroke-width="1.6" stroke-opacity="0.44"/>
<path d="M883 1687l0 11l2 9l-1 11l0 9l-2 10l0 11l1 8l2 11l-1 10l2 10l0 9l1 11l-3 10l-1 10l-2 9l-4 9l-4 10" stroke-width="2.6" stroke-opacity="0.21" stroke-dasharray="14 3 5 2"/>
<path d="M849 1436l0 10l-3 9l1 11l-3 9l0 11l0 10l-3 9l2 10l-3 11l1 9l2 11l-1 10l-1 9l1 10l0 10l1 11l1 9l4 9l3 10l3 9l2 10l4 11l0 9l3 10l3 8" stroke-width="1.8" stroke-opacity="0.46"/>
<path d="M649 1633l-2 9l-3 11l-3 9l-5 8l-8 7l-6 7l-4 10l-2 9l-3 11l2 9l0 10l0 10l-1 11l0 10l-1 9l-1 10l1 10l2 10l2 10l2 10l5 10l3 8l3 9l5 9l2 10l6 9l4 9l4 9l6 7l5 9l7 8l5 9l6 9" stroke-width="2.1" stroke-opacity="0.16"/>
<path d="M884 1346l1 9l2 10l4 10l4 8l4 11l2 8l4 10l3 9l5 9l3 9l1 11l1 11l3 8l4 10l6 9l5 8l5 8l3 11l6 7l3 10l6 8" stroke-width="2.1" stroke-opacity="0.28"/>
<path d="M616 1674l-9 6l-8 5l-9 4l-8 4l-10 4l-10 4l-8 5l-9 5l-8 5l-7 7l-7 7l-7 8l-7 7l-6 8l-8 6l-8 6l-7 8l-5 7l-7 9l-6 7l-5 9l-6 8l-6 8l-8 7l-7 7l-8 6l-9 6l-7 5l-6 8" stroke-width="2.0" stroke-opacity="0.37" stroke-dasharray="9 2 4 2"/>
<path d="M780 1429l-4 -9l-5 -9l-7 -7l-5 -9l-8 -5l-8 -8l-9 -3l-9 -5l-9 -3l-9 -5l-10 -4l-10 -2l-8 0l-11 -1l-10 -1l-9 -3l-10 1l-10 0l-11 1l-10 0l-9 1l-11 0l-10 1l-10 -2l-9 -1l-11 -1" stroke-width="2.4" stroke-opacity="0.45" stroke-dasharray="9 2 4 2"/>
<path d="M1022 1373l2 10l4 9l2 10l1 9l-1 10l2 10l0 10l-1 11l-3 8l-2 11l-4 10l-2 8l-5 10l-4 10l-4 6l-6 9l-4 11l-6 7l-3 10l-3 9l-6 10l-4 9l-3 8l-3 9l-4 10l-2 9" stroke-width="1.6" stroke-opacity="0.31" stroke-dasharray="14 3 5 2"/>
<path d="M767 1349l-8 7l-6 5l-9 7l-7 6l-11 4l-8 5l-9 3l-11 1l-9 3l-9 2l-10 3l-10 3l-10 3l-9 3l-9 2l-9 2l-11 1l-10 3l-9 2l-12 0l-10 1l-8 2l-11 1l-10 -2l-10 -3l-9 -1l-10 -5l-8 -5l-10 -5" stroke-width="1.8" stroke-opacity="0.36" stroke-dasharray="14 3 5 2"/>
<path d="M879 1473l3 9l5 10l3 11l0 9l2 11l-2 8l2 10l-2 11l-2 9l0 10l-1 11l0 10l0 10l2 10l3 9l3 9l2 10l0 10l3 9l3 10l1 11l0 9l1 10l-2 10l0 10l-2 9l-5 10l-5 9l-4 8l-5 10l-3 8l-2 10l-1 9l-1 11l0 10l-1 11l0 10l0 8" stroke-width="1.8" stroke-opacity="0.49"/>
<path d="M581 1689l9 -5l6 -6l10 -7l9 -3l8 -4l11 -3l9 -5l10 -2l9 -3l8 -3" stroke-width="1.8" stroke-opacity="0.44"/>
<path d="M947 1723l9 3l10 1l11 4l10 3l10 0l8 3l10 6l9 2l9 6l7 4l8 7l6 7l6 9l4 10l4 9l7 8l6 9l5 7l3 10l6 9l6 9l5 6l5 10l9 6l6 4l10 7l8 4l9 5" stroke-width="2.3" stroke-opacity="0.21" stroke-dasharray="14 3 5 2"/>
<path d="M680 1502l11 1l8 3l10 4l9 1l10 5l11 1l8 5l11 1l9 3l10 2l9 3l10 2l11 1l9 3l9 2l10 3l9 3" stroke-width="1.9" stroke-opacity="0.15" stroke-dasharray="14 3 5 2"/>
<path d="M662 1781l-4 -8l-8 -8l-5 -9l-9 -6l-6 -7l-5 -8l-5 -9l-4 -11l-4 -8l-4 -9l-4 -9l-4 -9l-5 -9" stroke-width="2.4" stroke-opacity="0.33"/>
<path d="M853 1499l8 5l10 4l9 4l10 3l9 4l10 5l6 6l7 8l7 8l4 9l4 7l4 10l4 10l6 8l7 7l6 9l7 4l9 6l10 5l7 6l8 5l8 7l7 9l6 6" stroke-width="2.0" stroke-opacity="0.29"/>
<path d="M703 1583l7 8l6 6l5 8l4 9l6 9l7 9l7 5l8 8l8 6l9 4l9 5l8 4l7 6l8 6l8 7l8 6l6 8l7 8" stroke-width="2.2" stroke-opacity="0.24"/>
<path d="M993 1634l4 -10l1 -10l1 -8l1 -11l2 -9l1 -10l3 -11l3 -9l4 -10l2 -9l1 -9l0 -10l4 -11l3 -9l5 -9" stroke-width="2.5" stroke-opacity="0.35"/>
<path d="M585 1602l7 -7l9 -4l8 -5l9 -5l11 -3l8 -5l9 -5l8 -4l8 -6" stroke-width="2.1" stroke-opacity="0.30" stroke-dasharray="14 3 5 2"/>
<path d="M579 1345l6 8l8 7l6 6l7 8l7 8l6 9l3 8l7 8l3 10l6 8l2 10l3 10l1 9l1 11l3 9l1 10l4 10l4 9l2 9l5 9l4 9l6 10l5 8l4 9l5 8l9 6l6 8l7 6l6 9l7 7l6 8l7 8l6 7l6 7l6 9l7 7" stroke-width="1.7" stroke-opacity="0.48"/>
<path d="M819 1329l-3 9l-1 11l0 9l-1 10l1 10l-3 10l0 10l-1 11l-1 11l0 8l1 11l0 9l-2 10l0 10l-1 9l-2 12l0 9l-1 11l-1 9l-2 10l-1 11" stroke-width="2.0" stroke-opacity="0.28" stroke-dasharray="9 2 4 2"/>
<path d="M536 1422l10 1l11 -1l10 -1l9 0l9 -1l11 -2l10 -3l10 -2l8 -3" stroke-width="1.9" stroke-opacity="0.25"/>
<path d="M956 1365l-8 -6l-8 -5l-9 -4l-9 -6l-10 -5l-7 -5l-10 -6l-6 -5l-10 -4l-8 -6l-9 -5l-9 -4" stroke-width="2.9" stroke-opacity="0.46" stroke-dasharray="14 3 5 2"/>
<path d="M800 1672l2 10l6 8l4 10l2 9l3 10l1 10l2 10l1 10l-1 9l2 12l3 9l2 10l1 9l4 11l2 9l1 8l3 10l2 10l1 10l-2 11l0 9l0 10l-1 10l-3 11l2 9l0 9l0 12l2 9l-1 11l1 10l1 9l2 10l2 9l3 10l2 10l1 10l4 10" stroke-width="1.7" stroke-opacity="0.48" stroke-dasharray="9 2 4 2"/>
<path d="M811 1442l8 7l8 6l8 4l8 7l10 5l8 2l9 4l10 0l11 1l9 2l10 0l11 1l11 0l9 1l10 -1l9 -1l10 -2l11 3l10 -3l10 -1l9 -3l9 -3l9 -3l11 -4l9 -4l9 -5l9 -2l11 -1l9 -2" stroke-width="1.9" stroke-opacity="0.26" stroke-dasharray="14 3 5 2"/>
<path d="M796 1606l9 -6l8 -5l9 -3l10 -5l8 -6l8 -4l9 -7l7 -7l6 -8l6 -6l7 -9l8 -7l7 -6l8 -6l9 -3l8 -7l9 -5l6 -7l7 -8" stroke-width="2.0" stroke-opacity="0.34"/>
<path d="M826 1415l0 11l-2 8l-1 12l0 9l-1 10l0 9l0 11l0 10l2 9l-1 11l-1 10l-1 9l-1 11l-2 9l3 9l2 11l3 10l2 9" stroke-width="2.4" stroke-opacity="0.22"/>
<path d="M951 1339l3 9l2 11l1 9l0 11l-1 10l1 8l1 10l1 11l5 10l2 9l5 7l6 10l4 9l4 10l6 7l7 8l6 8l3 8l3 11l4 8l3 10l3 9l0 10l3 12l3 9l3 9l4 10l2 9l5 8l2 10l3 9l6 10l5 8l6 9l4 7l3 11l2 9l3 9l2 11" stroke-width="2.6" stroke-opacity="0.26"/>
<path d="M962 1361l4 -10l5 -8l4 -9l5 -9l5 -9l2 -9l3 -11l1 -9l1 -9l2 -12l0 -9l1 -9l-1 -11l0 -9l0 -11l-1 -9l2 -10l-2 -10l-3 -11l1 -10l-1 -9l1 -11l-4 -10l-1 -8l-2 -10l-2 -11l-3 -9l-4 -10l-2 -10l-5 -8l-6 -8l-9 -6l-7 -9l-5 -5l-9 -6l-7 -8l-10 -4l-9 -5l-7 -6l-8 -6" stroke-width="2.7" stroke-opacity="0.31"/>
<path d="M630 1480l-7 -7l-8 -5l-11 -4l-9 -4l-9 -2l-8 -4l-9 -7l-9 -4l-6 -8l-7 -8l-6 -7l-8 -6l-8 -7l-8 -6l-6 -7l-6 -8l-9 -8l-6 -6l-7 -8l-5 -8l-4 -10l-4 -8l-5 -9l-1 -10l-5 -10l-2 -9l0 -10l-1 -11l1 -10l-1 -9" stroke-width="2.7" stroke-opacity="0.35"/>
<path d="M755 1812l-10 -1l-9 -1l-10 -1l-11 0l-9 -2l-10 0l-10 1l-11 0l-9 0l-10 1l-11 3l-10 2l-9 0l-9 0l-11 2l-10 2l-10 0l-10 2l-9 3l-10 4l-7 5l-10 3l-9 3l-10 5l-9 4l-8 5l-10 3l-9 5" stroke-width="1.6" stroke-opacity="0.24"/>
<path d="M819 1367l0 10l-2 10l-1 9l-3 11l-1 9l-2 10l0 11l-3 8l-1 11l-1 10l-5 8l0 11l-3 10l1 8l-2 11l2 11l2 10l2 9l3 9l-1 11l0 10l-2 9l0 10l-4 11l2 9l-3 10l-1 9l-3 9l-1 11l-1 11l-1 8l-1 10l-2 12l-2 8" stroke-width="2.9" stroke-opacity="0.33" stroke-dasharray="9 2 4 2"/>
<path d="M1037 1679l3 10l2 10l-2 9l0 11l-1 10l2 9l-1 10l3 10l0 10l1 11l2 9l5 9l6 8l3 10l5 9l6 8l6 8l6 8l8 7l6 5l8 8l7 8l4 9l4 7l6 10l4 10l2 9l2 11l2 8l0 11l1 10l1 10l2 8l-2 11" stroke-width="2.7" stroke-opacity="0.50"/>
<path d="M1007 1710l-7 7l-7 8l-6 6l-9 6l-7 9l-6 6l-7 6l-9 9l-5 7l-6 9l-3 8l-4 9l-6 9l-5 9l-7 5l-7 9l-5 9l-5 8l-2 11l-3 10l-3 8l1 12l-3 9l-2 9l-3 10l-6 7l-7 8l-7 8l-8 4l-10 4l-7 7l-8 5l-7 7l-7 7l-7 8l-6 7l-8 8" stroke-width="2.6" stroke-opacity="0.40"/>
<path d="M749 1656l1 -10l2 -9l3 -11l2 -10l1 -9l3 -10l-1 -9l1 -12l0 -8l-1 -11l-1 -10l0 -10l-1 -10l0 -10l1 -10l2 -9l1 -9l2 -10l5 -10l5 -9l4 -9l5 -7l5 -10l4 -10l3 -9l1 -9l1 -10" stroke-width="1.9" stroke-opacity="0.42"/>
<path d="M967 1310l5 8l8 9l5 7l6 8l5 9l4 9l8 8l4 8l8 8l6 6l8 7l6 8l6 7l6 9l8 7l7 5l9 6l7 7l5 8l4 9l4 10l2 10l2 11l3 8l4 9l6 9l4 8l2 10l2 11l2 10l1 10l5 9l4 9" stroke-width="2.0" stroke-opacity="0.37"/>
<path d="M536 1542l-10 -6l-6 -5l-8 -8l-9 -6l-7 -6l-4 -9l-8 -6l-7 -8l-7 -6l-9 -6l-8 -5l-10 -5l-9 -3l-10 -3l-9 0l-10 -2l-11 -3l-7 -5l-10 -5l-6 -7l-8 -5l-7 -7l-9 -7l-8 -5l-9 -7l-6 -7l-9 -7l-6 -6l-8 -8l-8 -3l-10 -5l-7 -6" stroke-width="1.6" stroke-opacity="0.17"/>
<path d="M554 1305l5 8l4 10l4 10l1 8l5 11l4 8l4 10l2 10l2 9l5 9l4 9l4 9l4 9l6 8l4 9l5 10l2 9l2 9l3 11" stroke-width="2.7" stroke-opacity="0.53" stroke-dasharray="9 2 4 2"/>
<path d="M1023 1310l10 0l10 1l9 2l11 1l9 0l10 1l11 3l9 1l10 2l10 0l10 0l11 0l9 -3l10 -2l10 1l10 0l9 -1l10 -1" stroke-width="1.9" stroke-opacity="0.38"/>
<path d="M624 1625l-10 -1l-10 1l-10 -1l-10 2l-10 1l-8 0l-11 0l-9 3l-12 0l-8 1l-11 3l-9 1l-11 2l-10 -2l-9 2l-10 3l-9 5l-10 -1l-11 1l-10 0l-9 1l-10 1l-9 1l-10 2l-10 0l-11 1l-9 -1l-10 -1l-11 -2l-9 -1l-10 -1l-10 -2l-9 -3l-10 -3l-9 -5l-9 -5l-9 -1l-11 -2l-9 -2l-9 -3" stroke-width="2.5" stroke-opacity="0.36"/>
<path d="M774 1566l-8 6l-8 5l-9 7l-7 7l-8 6l-7 5l-8 6l-8 6l-7 7l-9 8l-8 5l-8 5l-9 5l-9 2l-9 5l-11 2l-9 4l-10 0l-9 2l-11 0l-9 1l-10 -1l-10 0l-10 1l-11 -4l-8 -2l-9 -5l-10 -3l-10 -2l-10 -4l-8 1l-11 1l-11 1l-10 3l-9 3l-9 3l-11 0l-9 1l-11 0l-9 -2l-10 -1" stroke-width="2.4" stroke-opacity="0.38"/>
<path d="M682 1656l-5 8l-1 10l-5 11l-2 8l-3 10l-1 10l-2 11l-2 9l-2 9l-3 10l0 10l-2 10l0 10l0 9l-3 11l-2 10l-2 9l-4 9l-3 10l-1 9l-3 11l-4 9l-2 10l-2 10l1 8l2 11l2 11l1 10" stroke-width="1.5" stroke-opacity="0.17" stroke-dasharray="14 3 5 2"/>
<path d="M1002 1367l10 4l7 5l8 7l9 7l7 7l4 8l7 8l5 8l7 8l4 9l7 8l4 9l4 8l3 10l4 10l0 9l1 11l2 9l-3 10l-3 10" stroke-width="2.0" stroke-opacity="0.33"/>
<path d="M786 1573l7 -8l5 -8l7 -8l7 -7l8 -7l7 -6l6 -9l6 -7l7 -8l6 -6l8 -8l5 -9l5 -9l4 -8l6 -8l5 -8l7 -9l5 -8l5 -9l4 -8l4 -9l5 -10l6 -9l6 -7l6 -8l4 -9l7 -7l7 -8l4 -7l6 -9l8 -6l7 -8l8 -7l6 -7l6 -8l6 -8l6 -9l6 -7l8 -8" stroke-width="1.6" stroke-opacity="0.46" stroke-dasharray="14 3 5 2"/>
<path d="M648 1495l6 7l7 8l6 8l8 7l8 6l9 5l9 5l8 3l10 4l9 4l9 5l9 2l9 5l10 2l10 2l10 2l10 -1l11 -1l10 2l9 -2l10 -3l9 -2l11 -1l9 1l10 2l11 -1l9 -1l9 3l10 1l10 0l11 -1l9 -2l11 0l10 -2l8 -4l11 -2l8 -6l8 -4" stroke-width="2.8" stroke-opacity="0.47"/>
<path d="M777 1805l5 -9l9 -6l6 -7l8 -7l6 -7l8 -7l6 -8l5 -9l2 -9l5 -9l4 -9l5 -10l3 -8l1 -11l3 -10l2 -10l3 -8l2 -10l2 -10l2 -9l2 -12l3 -8l3 -10l1 -9l-1 -10l1 -10l0 -10l3 -10l3 -10l4 -9l0 -9l1 -11l4 -9l0 -10l0 -10l1 -11l-2 -10l0 -9l4 -10l0 -11" stroke-width="2.0" stroke-opacity="0.23" stroke-dasharray="14 3 5 2"/>
<path d="M1013 1482l-3 -10l-2 -10l-2 -10l-1 -9l-1 -10l-2 -10l-1 -9l0 -10l-1 -10l-3 -10l-4 -10" stroke-width="2.5" stroke-opacity="0.27"/>
<path d="M822 1717l-10 -3l-10 -2l-9 0l-9 -4l-10 -3l-9 -4l-10 -5l-9 -3l-9 -5l-9 -2l-10 -3l-9 0l-11 -1l-10 4l-10 0l-10 1l-9 0l-11 -1l-9 -3l-11 0l-9 2l-10 0l-11 2l-9 2l-11 2l-9 0l-9 2l-11 2l-9 3l-10 1l-10 0l-10 -2l-10 -1l-10 -1l-9 1l-10 -2l-9 2l-12 -2" stroke-width="2.0" stroke-opacity="0.15" stroke-dasharray="9 2 4 2"/>
<path d="M576 1369l10 -2l10 -1l10 0l9 -2l10 -3l10 1l10 -1l9 3l11 2l10 2l9 3" stroke-width="2.4" stroke-opacity="0.36"/>
<path d="M848 1608l-11 1l-9 0l-9 0l-10 -1l-11 -1l-11 -2l-8 -2l-10 -5l-8 -5l-8 -6l-9 -6" stroke-width="2.3" stroke-opacity="0.48" stroke-dasharray="14 3 5 2"/>
<path d="M878 1541l1 9l2 10l1 10l0 10l0 10l-3 10l0 10l0 10l0 10l-1 10l1 9l1 10l1 10l-1 10l-2 9l-4 11" stroke-width="2.0" stroke-opacity="0.32" stroke-dasharray="14 3 5 2"/>
<path d="M1015 1543l0 -10l0 -10l1 -10l1 -9l1 -10l4 -9l4 -11l3 -9l4 -9l6 -9l4 -8l7 -7l8 -5" stroke-width="1.4" stroke-opacity="0.49"/>
<path d="M579 1628l11 0l9 0l10 -2l10 -3l11 0l8 -1l11 -1l10 0l9 0l10 -3l11 -3l9 -1l9 -4l8 -6l9 -5l8 -8l8 -5l8 -6l7 -7l8 -6l7 -7l8 -8l6 -4l8 -8l6 -7l7 -8l6 -8l5 -8l8 -8l6 -8l5 -7l5 -11l5 -9l4 -6" stroke-width="2.4" stroke-opacity="0.25" stroke-dasharray="9 2 4 2"/>
<path d="M798 1393l-2 -11l-1 -9l0 -10l0 -11l0 -8l-1 -11l-1 -10l1 -11l0 -9l0 -9l0 -11l-4 -10l-4 -8l-5 -9l-5 -8l-8 -7l-6 -7l-9 -7l-8 -6l-8 -5l-8 -5l-7 -8l-4 -9l-7 -8l-6 -8l-5 -9l-7 -6" stroke-width="1.6" stroke-opacity="0.14" stroke-dasharray="9 2 4 2"/>
<path d="M1005 1795l-8 5l-7 6l-9 8l-5 7l-8 6l-7 8l-6 7l-5 10l-5 8l-5 10l-5 6l-7 10l-3 9l-4 10l-4 8l-3 9l-3 9l-5 10l-3 9l-2 9l-1 12l-1 9l-2 10l-1 10l-1 10l0 9l-4 11l-3 9l-1 10l-2 10" stroke-width="2.8" stroke-opacity="0.18"/>
<path d="M1036 1436l-10 -2l-10 1l-10 1l-9 -1l-11 2l-10 0l-10 -4l-9 -1l-9 -2l-11 -1l-10 0l-10 -2l-10 0l-11 0l-9 0l-10 1l-9 -2l-10 -2l-10 -3l-10 -2l-10 -2l-9 -2l-11 -1l-10 0l-8 -2l-12 -1l-9 0l-10 -2l-9 1l-11 2l-9 0l-11 -2l-9 -4l-8 -6" stroke-width="1.6" stroke-opacity="0.50" stroke-dasharray="9 2 4 2"/>
<path d="M596 1664l6 -7l5 -9l7 -8l8 -6l7 -8l8 -6l9 -4l7 -6l8 -5l8 -7l7 -7l9 -7l9 -4l8 -4l7 -6l8 -7l8 -6l7 -7l7 -9" stroke-width="2.3" stroke-opacity="0.43"/>
<path d="M837 1686l-7 -7l-9 -7l-8 -6l-9 -3l-8 -4l-9 -7l-8 -5l-8 -5l-8 -7l-8 -6l-6 -8l-6 -8l-3 -10l-4 -9l-5 -9l-3 -9l-1 -11l-1 -9l-4 -10l-4 -9l-5 -10l-6 -8l-4 -7l-9 -7l-5 -8l-6 -7l-8 -6l-7 -8l-7 -8l-5 -7l-6 -10l-5 -7l-5 -10" stroke-width="2.4" stroke-opacity="0.25"/>
<path d="M694 1524l4 -10l3 -9l5 -9l3 -9l2 -9l2 -10l2 -11l0 -9l2 -10l1 -11l2 -9l1 -9l1 -11" stroke-width="2.0" stroke-opacity="0.20" stroke-dasharray="9 2 4 2"/>
<path d="M808 1474l-10 3l-7 6l-9 7l-8 5l-6 7l-8 7l-6 6l-10 6l-6 7l-9 7l-6 7l-6 8l-8 8l-7 5l-8 6l-10 6" stroke-width="1.5" stroke-opacity="0.47" stroke-dasharray="14 3 5 2"/>
<path d="M648 1559l10 3l9 2l12 1l9 1l10 4l9 2l9 2l10 3l9 2l9 5l10 2l9 6" stroke-width="2.7" stroke-opacity="0.18" stroke-dasharray="14 3 5 2"/>
<path d="M878 1689l-10 4l-10 3l-7 4l-9 4l-10 6l-7 6l-6 7l-6 8l-9 8l-7 5l-8 8l-5 8l-5 9l-5 8l-4 10l-1 8" stroke-width="1.6" stroke-opacity="0.37"/>
<path d="M1014 1768l-9 -4l-9 -4l-10 -4l-8 -5l-10 -1l-10 -1l-10 2l-11 0l-9 0l-10 3l-10 1l-9 3l-11 -3l-10 -3l-8 -3l-9 -5l-9 -5l-8 -4l-9 -5l-8 -9l-7 -6l-6 -7l-7 -8l-6 -8l-8 -7l-8 -5l-9 -5l-7 -4l-10 -4" stroke-width="1.6" stroke-opacity="0.41" stroke-dasharray="9 2 4 2"/>
<path d="M646 1678l-1 11l-1 9l0 11l4 10l-1 9l-1 10l-1 11l2 9l-3 11l-2 8l0 10l-5 9l-2 10l1 12l-2 8l-2 11l0 9l0 10l4 10l2 10l4 10" stroke-width="1.4" stroke-opacity="0.29"/>
<path d="M956 1602l4 -9l3 -9l5 -8l7 -8l6 -9l7 -7l4 -9l5 -8l4 -10l5 -8l6 -10l5 -6l7 -8l6 -7l5 -9l4 -9l6 -10" stroke-width="1.4" stroke-opacity="0.20"/>
<path d="M973 1314l10 0l11 1l9 2l9 2l10 0l10 1l10 4l8 4l11 4l8 3l9 6l7 5l8 7l10 5l8 3l8 6l10 6l7 5l8 6l10 7l6 5l8 7l6 9l5 7l4 10l4 10l3 8l2 11l-1 10l2 10l-1 10l0 9l2 10l-2 10l-1 10l-3 10" stroke-width="1.7" stroke-opacity="0.25"/>
<path d="M954 1677l8 -6l8 -7l5 -8l6 -9l4 -9l4 -9l4 -9l6 -8l7 -8l6 -8l5 -8l3 -9l4 -9l4 -9l5 -9" stroke-width="2.2" stroke-opacity="0.19"/>
<path d="M712 1764l-7 -6l-7 -7l-6 -9l-6 -8l-5 -9l-6 -7l-7 -8l-7 -5l-7 -8l-7 -6l-10 -5l-9 -5l-9 -4l-9 -6l-7 -5" stroke-width="2.4" stroke-opacity="0.31"/>
<path d="M952 1610l4 -10l3 -10l2 -9l3 -9l5 -9l5 -8l7 -7l5 -10l7 -7l5 -9l6 -8l5 -9l2 -10l2 -9l6 -10l1 -9l5 -10l2 -9l5 -8l6 -10l3 -8l6 -8l5 -10" stroke-width="2.6" stroke-opacity="0.26"/>
<path d="M1036 1720l-9 4l-9 3l-10 2l-10 3l-10 3l-9 2l-9 6l-10 3l-9 2l-8 4l-10 4l-10 0l-10 3l-11 2l-10 3l-8 1l-10 1l-11 4l-9 1l-10 5l-8 3l-9 5" stroke-width="2.6" stroke-opacity="0.24"/>
<path d="M852 1309l4 10l4 9l4 8l6 8l6 9l5 8l8 8l6 7l8 7l5 7l7 8l8 7l7 6l8 6l9 5l10 6l6 5l7 6l9 7l8 5l9 5l8 4l10 3l10 5l9 2l10 2l10 -1l11 -2l9 0" stroke-width="2.5" stroke-opacity="0.23"/>
<path d="M644 1651l9 6l10 4l7 3l9 6l9 6l9 3l8 5l11 4l9 4l7 6l9 6l7 6l7 7l9 5l8 6l7 7l7 6l9 5l8 5l11 5l8 2l9 6l9 5l8 4l10 4l10 5l7 5l8 7l9 4l6 7l10 6l8 5l9 6l8 3l10 4l10 5l8 4l9 3l9 2" stroke-width="1.5" stroke-opacity="0.17" stroke-dasharray="14 3 5 2"/>
<path d="M877 1756l-6 -8l-5 -9l-5 -9l-6 -8l-3 -10l-6 -7l-8 -6l-6 -9l-9 -6" stroke-width="1.9" stroke-opacity="0.32" stroke-dasharray="9 2 4 2"/>
<path d="M1039 1750l-1 9l-2 11l-3 8l-2 10l-3 11l-3 9l-3 9l-5 8l-5 10l-4 8l0 11l-1 10" stroke-width="2.9" stroke-opacity="0.33" stroke-dasharray="9 2 4 2"/>
<path d="M767 1755l7 -5l10 -7l8 -4l10 -6l6 -7l7 -7l7 -6l8 -6l8 -7l6 -8l8 -6l6 -8l8 -8l7 -6l7 -7l7 -8l6 -6l8 -7l7 -7l7 -7l7 -6l7 -9l6 -6l7 -9l3 -9l3 -10l5 -9l2 -10l2 -9" stroke-width="2.4" stroke-opacity="0.22"/>
<path d="M1045 1368l8 -2l11 -2l10 -1l11 1l9 -2l10 -1l11 -1l9 -3l9 -5l9 -3l10 -1l10 -3l9 -4l9 -4l8 -6l7 -7l7 -8l8 -7l7 -5l6 -9l6 -8l4 -9l4 -9" stroke-width="2.6" stroke-opacity="0.51"/>
<path d="M542 1299l6 -7l6 -8l9 -7l5 -7l9 -7l8 -6l8 -4l7 -7l7 -8l10 -3l8 -4l10 -6l9 -5" stroke-width="2.1" stroke-opacity="0.29" stroke-dasharray="14 3 5 2"/>
<path d="M533 1660l2 -11l3 -8l2 -10l3 -9l5 -10l7 -7l3 -9l5 -9l5 -9l0 -10l4 -10l4 -8l3 -9l4 -11l2 -9l4 -9l5 -9l3 -9l4 -10l3 -9l4 -10" stroke-width="1.9" stroke-opacity="0.38"/>
<path d="M984 1614l-10 5l-9 0l-10 6l-10 1l-10 1l-9 1l-10 3l-10 2l-9 4l-9 2l-10 3l-9 4l-10 2l-10 4l-9 2l-10 4l-8 5l-9 5l-9 3l-9 5l-10 2l-8 6l-8 6l-8 6l-8 4l-9 6l-10 3l-10 4l-9 3l-9 2l-10 4l-10 1l-9 2" stroke-width="2.2" stroke-opacity="0.34" stroke-dasharray="9 2 4 2"/>
<path d="M598 1535l-6 6l-8 7l-9 5l-9 5l-8 5l-6 7l-7 8l-7 7l-7 8l-7 7l-10 5l-7 8" stroke-width="1.8" stroke-opacity="0.47" stroke-dasharray="14 3 5 2"/>
<path d="M954 1303l-7 7l-3 9l-5 9l-6 8l-7 8l-8 6l-8 8l-7 6l-8 5l-9 5l-9 5l-9 4l-7 8l-6 7" stroke-width="2.9" stroke-opacity="0.39" stroke-dasharray="9 2 4 2"/>
<path d="M665 1422l-6 8l-5 9l-4 8l-3 10l-3 10l-3 10l-3 9l-3 10l-7 9l-5 7l-5 8l-3 9l-7 10l-5 6l-9 8l-8 7l-7 5l-9 3l-10 5l-10 2l-7 4l-11 2l-10 3l-10 1l-10 6l-7 3" stroke-width="2.0" stroke-opacity="0.42" stroke-dasharray="14 3 5 2"/>
<path d="M833 1803l1 -10l0 -11l1 -9l1 -11l3 -9l2 -8l4 -10l7 -8l5 -9l3 -9l5 -8l6 -10l7 -8l3 -8l3 -9" stroke-width="2.6" stroke-opacity="0.19"/>
<path d="M659 1475l5 8l6 9l5 8l7 8l8 6l5 8l7 8l8 7l6 9l4 8l5 9l6 8l4 8l3 11l4 8" stroke-width="1.5" stroke-opacity="0.28"/>
<path d="M705 1491l-6 -7l-7 -8l-7 -9l-5 -7l-9 -5l-6 -9l-7 -6l-7 -8l-8 -5l-10 -5l-7 -5l-9 -5l-10 -4l-8 -6l-9 -4" stroke-width="2.6" stroke-opacity="0.17"/>
<path d="M961 1390l1 -11l3 -9l-1 -10l2 -10l1 -10l3 -9l4 -10l3 -10l3 -9l1 -9l6 -9l3 -10l6 -9l4 -8l2 -10l3 -9l3 -10l2 -9l1 -11l3 -9l0 -10l3 -10l5 -9l5 -10l3 -9l5 -8l5 -8l7 -9" stroke-width="2.4" stroke-opacity="0.48" stroke-dasharray="14 3 5 2"/>
<path d="M856 1642l-10 -3l-9 -1l-11 -2l-9 -3l-10 -1l-9 -6l-9 -3l-9 -5l-8 -4l-9 -4l-10 -5l-9 -1l-10 -6l-9 -3l-9 -5l-9 0l-12 -2l-9 -2l-10 0l-10 0" stroke-width="2.8" stroke-opacity="0.34"/>
<path d="M791 1715l1 10l0 9l0 12l1 8l0 10l2 10l-2 11l-1 10" stroke-width="2.1" stroke-opacity="0.40" stroke-dasharray="9 2 4 2"/>
<path d="M843 1434l-9 -2l-11 -3l-8 -5l-9 -3l-12 -1l-8 0l-12 1l-9 2l-8 6l-10 2l-10 4l-8 3l-10 1l-10 1l-11 2l-10 -3l-9 -2l-10 -4l-9 -5l-9 -4l-9 -4l-8 -7l-8 -5l-5 -8l-6 -7l-7 -10l-6 -7l-7 -7l-9 -5l-9 -5l-9 -3l-7 -6l-9 -6l-7 -5l-11 -5l-10 -3l-8 -4l-10 -3l-8 -4l-10 -6" stroke-width="2.7" stroke-opacity="0.46"/>
<path d="M883 1573l10 -2l8 -3l11 -3l9 -3l9 -3l11 -4l8 -5l8 -5l7 -6l11 -3l8 -5l10 -4l9 -2l10 -5l8 -4l10 -3l7 -6l8 -7l6 -7l9 -7l5 -8l9 -6l8 -7l8 -5l7 -4l10 -6l9 -3l11 -5l8 -1l10 -4l10 -1l9 -2" stroke-width="1.5" stroke-opacity="0.43"/>
<path d="M1016 1417l8 6l9 6l8 5l8 4l10 3l10 1l10 2l11 0l9 0l11 -1l9 -1l10 -2l10 0l10 -5l9 -2l9 -2l12 0l9 -2l9 -2l10 -4l8 -3l10 -5l10 -3l8 -5" stroke-width="2.8" stroke-opacity="0.40"/>
<path d="M727 1717l-2 9l0 11l-1 9l-3 11l-3 9l-1 10l-5 9l-2 11l-2 10l-4 7l-6 9l-5 8l-6 9l-6 9l-6 6l-7 8l-6 8l-7 6l-7 8l-8 6l-7 7l-9 5l-8 4l-8 7l-9 7l-8 3l-10 6l-8 3l-10 3l-10 -1l-10 -2l-11 1l-10 1l-9 1l-11 1l-8 0l-10 3l-11 4l-7 6l-10 4" stroke-width="2.3" stroke-opacity="0.52" stroke-dasharray="14 3 5 2"/>
<path d="M733 1722l9 0l10 -4l11 -3l9 -3l10 -5l8 -4l11 -2l8 -2l10 -3l9 -5l7 -4l10 -7l7 -7l6 -6l9 -8l7 -6l8 -4l11 -3l10 -3l9 -5l10 -1l9 -2l11 -1l8 -2l10 0l10 -2l11 -4l8 -4" stroke-width="2.0" stroke-opacity="0.52"/>
<path d="M893 1360l0 10l-1 9l-3 11l-5 9l-5 7l-6 10l-3 9l-6 8l-5 7l-5 10l-6 9l-5 8l-4 9l-5 9l-2 8l-4 10l0 11l-1 11l-4 9l-1 9l0 10l-2 11l-1 10l-3 8l-2 10l-2 10l-5 9l-3 10l-1 9l-3 11l-4 9" stroke-width="1.8" stroke-opacity="0.33" stroke-dasharray="9 2 4 2"/>
<path d="M969 1351l5 9l2 10l1 10l4 8l2 10l3 11l2 9l2 11" stroke-width="1.7" stroke-opacity="0.42" stroke-dasharray="14 3 5 2"/>
<path d="M881 1327l-3 5l-3 4l-4 4l-5 3l-2 4l0 8l-2 7l-1 4l-3 5l-3 5l-3 4l-1 5l-3 6l-1 5l-2 5l-3 7l-3 3l-5 6l-4 2l-2 6l-5 3l-2 7l-1 5l-3 6l-1 5l0 6l0 4l-1 6l2 4l2 4l3 6l2 4l4 4l3 5l3 5l2 4l4 3l2 6l4 3l3 5l3 4l4 4l3 4l4 2l4 4l5 3l5 2l5 4l4 2l4 3l4 3l6 3l4 3l3 3l4 2l5 4l4 3l4 2l4 3l4 3l3 4l4 6l3 2l4 5l5 4l3 4l5 5l4 4l5 3l5 5l6 2" stroke-width="3.3" stroke-opacity="0.95"/>
<path d="M943 1393l-4 4l-2 4l-4 6l-3 4l-5 4l-2 4l-3 6l-2 4l-1 6l-3 5l-1 4l-3 6l-2 4l-3 6l0 5l-1 7l1 5l-1 6l0 5l-1 6l1 7l-1 5l0 6l-1 6l-1 6l-2 5l-1 6l0 7l0 7" stroke-width="3.5" stroke-opacity="0.95"/>
<path d="M635 1445l5 1l5 1l6 1l4 1l6 1l5 0l6 1l6 0l5 0l6 1l7 0l5 1l6 -1l6 1l5 -1l6 0l5 1l7 -1l6 0l5 -1l6 0l6 0l5 1l5 2l6 1l4 0l6 1l5 2l6 0l6 1l5 1l4 1l6 2l5 1l6 1l5 2l6 1l5 2l6 1l6 1l6 2l4 3l6 0l5 2l5 2l4 3l5 2l5 2l5 3l4 1l5 3l6 3l4 2l5 1l5 1l4 3l6 1l5 3l4 1l5 2" stroke-width="3.2" stroke-opacity="0.95"/>
<path d="M643 1472l6 -2l7 -1l5 0l5 -2l6 0l7 1l4 0l7 1l5 0l6 1l5 0l5 -1l6 1l4 -1l6 0l6 -1l6 0l5 1l7 0l5 1l6 1l5 0l6 -1l5 0l5 -1l5 0l6 -1l6 0l5 0l5 -1l6 1l7 -2l4 0l6 -1l6 -1l6 -1l6 0l5 -2l6 -1" stroke-width="3.5" stroke-opacity="0.95"/>
<path d="M698 1442l6 1l4 3l4 1l6 1l6 1l5 3l7 0l5 2l6 0l6 0l5 1l6 0l7 0l4 2l7 0l4 1l7 0" stroke-width="2.8" stroke-opacity="0.95"/>
<path d="M740 1424l7 2l6 0l6 2l5 1l4 4l5 1l5 0l5 2l4 0l6 1" stroke-width="3.3" stroke-opacity="0.95"/>
<path d="M777 1410l5 1l6 2l5 3l5 1l6 0l7 2l5 0l6 -2l5 -1l6 -2l6 -1l4 -2" stroke-width="2.9" stroke-opacity="0.95"/>
<path d="M774 1424l5 -2l5 -2l6 -3l6 3l5 1l5 2l5 2l6 1l5 2l5 1l6 2l5 2l4 2l6 1l6 2l5 -1l6 0l4 1l4 -1l7 0l4 0l8 3l4 0l7 3l5 1" stroke-width="3.3" stroke-opacity="0.95"/>
<path d="M655 1492l5 -1l5 1l4 0l6 1l5 0l5 0l6 2l5 0l5 1l6 2l6 2l6 2l5 2l4 2l6 3l6 4l4 3l6 -1l5 2l5 -1l5 -1l5 0l6 1" stroke-width="2.6" stroke-opacity="0.95"/>
<path d="M632 1501l4 3l6 2l3 3l5 2l5 3l5 1l6 1l6 0l6 0l6 0l5 0l5 0l7 0l6 -1l5 -1l6 1l5 0l7 2l5 -1l6 0l6 1l6 0l5 -1l7 1l5 -2l7 -1l5 1" stroke-width="3.2" stroke-opacity="0.95"/>
<path d="M676 1506l4 3l6 2l5 4l-1 6l-1 5l-1 5l0 6l0 6l0 5l-1 7l3 3l5 3l4 4l5 4" stroke-width="2.7" stroke-opacity="0.95"/>
<path d="M630 1537l6 -1l6 2l6 -1l7 0l4 2l5 1l5 2l5 1l6 0l5 0l4 2l5 0l7 0l5 0l7 1l5 -1l5 0l7 -1l4 0l5 0l7 -1l4 -1l6 -1l5 1" stroke-width="2.7" stroke-opacity="0.95"/>
<path d="M616 1558l5 -2l4 -2l6 -2l4 -2l5 -1l5 -2l6 0l5 -1l6 -1l4 -1l6 0l4 1l6 1l5 0" stroke-width="2.6" stroke-opacity="0.95"/>
<path d="M620 1559l6 1l4 1l6 0l4 1l6 1l5 4l5 1l6 4l4 3l4 2l5 4l6 4l4 2l4 4l5 2l4 2l5 4l5 1l4 4l6 2l5 3l5 4l5 2" stroke-width="2.8" stroke-opacity="0.95"/>
<path d="M636 1584l4 -4l6 -4l4 -3l5 -4l5 -2l5 -3l5 -4l5 -2l4 -4l3 -3l5 -5" stroke-width="3.1" stroke-opacity="0.95"/>
<path d="M764 1431l0 6l2 6l0 5l1 6l0 5l1 6l0 6l0 5l1 7l0 6l0 5l-1 5l0 7l-1 6l-1 5l0 6l1 5l0 6l-1 6l0 7l1 5l-1 5l1 7l0 5l0 6l0 5l1 6l0 7l1 5l1 7l1 5l1 6l1 5l1 6l0 6l1 5l0 5l0 7l1 6l2 6l3 5l2 5l1 7" stroke-width="3.0" stroke-opacity="0.95"/>
<path d="M784 1679l0 5l-1 6l-1 7l-2 5l-1 5l-2 6l-2 4l-1 5l-1 5l-3 4l-1 5l-2 6l-2 6l-2 6l-3 5l-1 6l-1 7l-2 6" stroke-width="2.7" stroke-opacity="0.95"/>
<path d="M718 1534l1 5l1 5l0 5l1 6l2 6l1 4l3 5l0 6l3 5l3 6l2 4l2 5l3 5l1 6l2 5l3 4l0 5l2 6l2 5l1 6l3 6l3 6l2 6l1 5l3 6l2 5l2 5" stroke-width="3.3" stroke-opacity="0.95"/>
<path d="M685 1598l6 0l5 -1l6 -1l4 -1l6 0l6 0l5 0l6 0l7 0l6 -1l5 0l7 0l5 -1l5 -3l5 0l7 -1l5 1l7 1l4 1l7 1l6 1l4 2l6 2l5 3l7 0l4 4l5 2" stroke-width="3.5" stroke-opacity="0.95"/>
<path d="M668 1617l5 0l6 2l6 3l4 0l6 2l6 1l6 1l5 1l6 1l7 1l4 0l6 1l5 0l7 1l5 0l7 0l5 0l5 -1l7 0l6 -2l6 0l4 -1l7 0l6 0l4 -3l5 1l5 -3l4 -1l6 -1l4 -2l5 -2l5 1l5 -2l6 0l5 -3l5 0" stroke-width="3.6" stroke-opacity="0.95"/>
<path d="M653 1646l4 0l7 -1l6 -1l5 -1l5 -1l5 -2l4 -1l5 -1l6 -3l4 -1l5 0l6 0l6 0l5 1l7 0l4 2l6 2l3 0l6 3l5 0l4 2l5 2l6 0l3 2l5 2l5 2l5 1l5 0l7 1l4 -1l6 1" stroke-width="3.5" stroke-opacity="0.95"/>
<path d="M701 1635l-3 5l-3 5l-3 6l-3 5l-1 5l0 6l0 5l-1 7l0 5l-4 6l-2 5l-2 6l-3 5" stroke-width="2.7" stroke-opacity="0.95"/>
<path d="M720 1702l3 -4l4 -4l5 -4l5 -2l4 -4l5 -2l4 -5l5 -2l5 -4l4 -4l5 -3l6 -3l5 -2l5 -4l5 -2l6 -3l4 -1l4 -2l5 -2l5 -2l5 -2l4 -2l6 -1l6 -2l4 -1" stroke-width="3.5" stroke-opacity="0.95"/>
<path d="M790 1673l3 5l5 4l4 6l3 5l3 5l3 4l5 6l3 4l3 5" stroke-width="2.6" stroke-opacity="0.95"/>
<path d="M773 1653l3 3l5 5l2 4l4 5l6 2l6 0l4 2l6 3l5 1l5 2" stroke-width="2.6" stroke-opacity="0.95"/>
<path d="M813 1666l4 -5l2 -3l4 -5l4 -3l4 -4l2 -5l0 -5l1 -7l0 -6l-1 -6l0 -5l-1 -5l-2 -5l-4 -5l-1 -5l-4 -3l-3 -6l-4 -5l-3 -3l-3 -5l-3 -4" stroke-width="3.5" stroke-opacity="0.95"/>
<path d="M833 1612l3 -4l4 -4l2 -4l2 -5l4 -4l3 -5l4 -4l3 -5l4 -4l2 -6l4 -4l1 -5l3 -5l1 -4l3 -6l1 -4l1 -4" stroke-width="3.1" stroke-opacity="0.95"/>
<path d="M848 1503l0 5l2 6l0 6l1 4l2 5l1 6l0 5l1 5l2 7l1 5l0 6l0 6l2 6l0 6l-1 5l2 6l1 5l3 6l2 6l2 6" stroke-width="3.5" stroke-opacity="0.95"/>
<path d="M839 1548l7 0l5 -2l6 0l5 0l6 -2l7 0l4 -1l6 0l6 -1l6 -1l6 0l5 -1l7 -1l5 0l6 1l5 0l7 1l5 2l6 0l6 0l5 -1l5 -1l7 0l5 -1l5 -2l5 0l5 -2" stroke-width="3.5" stroke-opacity="0.95"/>
<path d="M871 1607l4 -1l5 -2l5 -1l6 -1l6 1l5 -1l6 0l6 -1l6 0l4 3l4 3l5 3l6 2l4 3" stroke-width="3.4" stroke-opacity="0.95"/>
<path d="M833 1572l6 3l4 1l5 3l4 2l6 2l4 3l4 4l4 2l5 4l3 4l3 4l4 3l5 3l5 3l4 4l5 3l4 4l6 0l5 3l5 1" stroke-width="2.7" stroke-opacity="0.95"/>
<path d="M728 1560l6 0l5 1l5 0l7 2l4 0l6 0l6 0l6 -1l5 -1l7 1l6 -1l5 -1l5 1l6 1l5 2l5 0l5 1" stroke-width="3.1" stroke-opacity="0.95"/>
<path d="M761 1618l3 -6l4 -5l1 -5l4 -5l3 -5l3 -5l4 -4l3 -6l4 -3l3 -5l4 -3l4 -3l5 -4l2 -3l5 -4l5 -5l3 -4l4 -4l6 -4" stroke-width="2.8" stroke-opacity="0.95"/>
<path d="M741 1540l4 -4l3 -3l5 -3l4 -4l4 -3l6 -2l4 -4l4 -3l5 -3l4 -2l6 -2l5 -1l5 -2l6 -2l4 -2l6 -2l4 -2l5 -3l4 -3l4 -2l5 -2l6 -2l4 -2l7 -3l4 -2l5 0l5 -2l6 -1l4 1l6 -1" stroke-width="3.0" stroke-opacity="0.95"/>
<path d="M784 1560l3 -5l3 -3l4 -6l3 -5l2 -4l3 -4l4 -2l5 -4l4 -3l4 -3l3 -4l4 -4l3 -3l4 -4l3 -3l5 -2l5 -2l6 -2l6 -3" stroke-width="3.0" stroke-opacity="0.95"/>
<path d="M764 1549l3 -5l3 -4l3 -3l3 -5l5 -2l5 -3l5 -1l5 -2l6 0l5 -3l5 0l6 -2l5 0" stroke-width="3.4" stroke-opacity="0.95"/>
<path d="M822 1451l3 4l3 4l4 4l3 4l4 4l5 4l2 4l6 3l2 4l5 4l3 4l4 5l4 4l4 4l4 3l4 4l4 4l6 4l3 3l5 4l4 4l4 5l4 4l4 3l4 5" stroke-width="3.2" stroke-opacity="0.95"/>
<path d="M856 1458l5 3l5 1l5 3l4 2l6 1l4 3l5 1l6 0l4 2l5 0l6 1l5 1l7 1l4 -1l7 0l5 1l5 -1l5 -1l5 0l6 0" stroke-width="2.6" stroke-opacity="0.95"/>
<path d="M885 1500l-4 6l-3 5l-3 5l-4 4l-4 5l-2 3l-4 6l-5 3l-2 4l-4 5l-1 4l-4 5" stroke-width="2.9" stroke-opacity="0.95"/>
<path d="M905 1480l4 3l5 3l4 2l4 4l5 2l4 3l4 4l4 4l4 2l3 4l4 4l4 2l2 5l4 4l2 4l4 5l4 6l1 5l4 5" stroke-width="2.9" stroke-opacity="0.95"/>
<path d="M900 1451l3 3l4 6l4 3l4 3l5 5l5 6l3 6l3 5l2 4l1 5l1 4l3 6l2 5l0 5l2 7l1 5l1 6l0 5" stroke-width="2.7" stroke-opacity="0.95"/>
<path d="M894 1500l0 -6l0 -6l1 -5l2 -5l3 -5l2 -3l3 -5l3 -5l2 -6l2 -6l2 -6" stroke-width="2.9" stroke-opacity="0.95"/>
<path d="M805 1575l0 5l1 7l1 5l0 6l1 4l3 5l0 5l2 5l2 5l1 5l1 6l1 6l1 5l2 6l1 6" stroke-width="3.4" stroke-opacity="0.95"/>
<path d="M833 1660l5 4l4 4l4 3l5 5l5 2l4 2l6 2l5 2l5 4l5 3l5 3" stroke-width="3.3" stroke-opacity="0.95"/>
<path d="M780 1494l-1 6l-3 5l-1 7l-2 5l-3 4l-3 6l-3 3l-2 5l-3 5l-3 5l-4 5l-3 5l-2 5l-3 4l-4 5l-3 3l-4 4l-3 5l-1 5l-3 5l-2 4l-1 6l-2 5l-2 6l-2 3l-2 6" stroke-width="3.2" stroke-opacity="0.95"/>
<path d="M760 1581l8 1l8 1l9 1l7 -1l8 3l7 3l6 6l6 4l6 6l8 2" stroke-width="2.2" stroke-opacity="0.7"/>
<path d="M759 1450l1 8l0 8l-1 8l2 7l-2 9l-1 8l2 7" stroke-width="2.2" stroke-opacity="0.7"/>
<path d="M832 1635l0 9l-2 7l0 8l2 8l2 7l3 8l3 7" stroke-width="2.2" stroke-opacity="0.7"/>
<path d="M895 1511l-5 7l-3 7l-5 7l-2 7l-4 8l-4 6l-4 6l-3 8l-2 8l-2 7" stroke-width="2.2" stroke-opacity="0.7"/>
<path d="M907 1571l-1 -8l0 -8l0 -8l2 -8l-1 -8l-1 -8l0 -8l0 -8l-2 -8l0 -8l0 -9l2 -7" stroke-width="2.2" stroke-opacity="0.7"/>
<path d="M748 1533l-2 -7l1 -9l-2 -9l1 -7l1 -8l4 -7l3 -8l3 -6" stroke-width="2.2" stroke-opacity="0.7"/>
<path d="M763 1663l-8 0l-8 1l-7 0l-8 -2l-9 0l-8 -2l-7 -3" stroke-width="2.2" stroke-opacity="0.7"/>
<path d="M774 1476l8 2l8 1l7 4l6 6l6 7l4 5l2 8l6 6l5 6l8 4l8 1" stroke-width="2.2" stroke-opacity="0.7"/>
<path d="M790 1569l-1 -7l-1 -8l-1 -8l-1 -8l-2 -7l-2 -8l-4 -7l-4 -8l-3 -7l-1 -8l0 -8l1 -8l-1 -8" stroke-width="2.2" stroke-opacity="0.7"/>
<path d="M826 1511l-4 7l-4 7l0 8l-2 8l-3 8l-4 7l-3 7l-4 7l-3 7l-6 7l-5 5l-6 6" stroke-width="2.2" stroke-opacity="0.7"/>
<path d="M818 1536l-1 -8l-1 -7l-3 -9l-2 -7l-1 -7" stroke-width="2.2" stroke-opacity="0.7"/>
<path d="M766 1546l1 7l1 9l3 7l3 7l5 6l4 8l3 7l6 5" stroke-width="2.2" stroke-opacity="0.7"/>
<path d="M868 1568l5 -7l4 -6l6 -6l5 -5l7 -6l6 -4l4 -6l4 -8l4 -7" stroke-width="2.2" stroke-opacity="0.7"/>
<path d="M863 1596l5 7l3 7l2 8l-3 8l1 8" stroke-width="2.2" stroke-opacity="0.7"/>
<path d="M864 1621l-1 7l0 9l-3 7l-2 9l-2 7l-4 6l-3 9l-3 7" stroke-width="2.2" stroke-opacity="0.7"/>
<path d="M687 1541l2 8l0 7l2 10l3 5l2 8l5 7l4 7l3 8l5 6l4 6l3 8l1 8l2 8" stroke-width="2.2" stroke-opacity="0.7"/>
<path d="M713 1590l-7 6l-4 7l-4 6l-5 6l-6 5l-6 7l-4 6l-6 5" stroke-width="2.2" stroke-opacity="0.7"/>
<path d="M894 1585l-1 7l0 8l-2 8l-3 8l-2 8l-1 8" stroke-width="2.2" stroke-opacity="0.7"/>
<path d="M786 1566l6 5l7 5l6 6l7 3l6 6l6 5l7 4l6 4l7 5l6 6l6 5l3 7" stroke-width="2.2" stroke-opacity="0.7"/>
<path d="M724 1516l2 8l4 7l2 7l5 7l6 5l4 7l6 5l6 6l4 6" stroke-width="2.2" stroke-opacity="0.7"/>
<path d="M711 1569l1 9l2 6l2 8l1 9l-2 7l2 8" stroke-width="2.2" stroke-opacity="0.7"/>
<path d="M891 1602l-1 7l-4 7l-2 8l-4 8l-2 8l-4 7" stroke-width="2.2" stroke-opacity="0.7"/>
<path d="M818 1563l-2 8l-5 6l-2 7l-1 9l0 8l-3 7l-4 8l-3 7l-5 7l-5 6l-5 6l-3 7" stroke-width="2.2" stroke-opacity="0.7"/>
<path d="M707 1618l2 -7l2 -9l1 -7l1 -9l-1 -8l-2 -7l0 -8l-3 -7l-2 -8l-5 -7l-6 -6" stroke-width="2.2" stroke-opacity="0.7"/>
<path d="M813 1554l-3 -8l1 -8l-3 -8l-3 -7l-2 -7l-1 -9l0 -7l0 -8" stroke-width="2.2" stroke-opacity="0.7"/>
<path d="M761 1484l6 -6l6 -5l6 -3l8 -5l7 -4l6 -4l5 -7" stroke-width="2.2" stroke-opacity="0.7"/>
<path d="M780 1569l4 -7l6 -4l7 -6l7 -4l5 -5l7 -3l6 -6l4 -8l5 -6l4 -6l4 -7l5 -7" stroke-width="2.2" stroke-opacity="0.7"/>
<path d="M730 1556l7 2l8 1l8 1l8 -2l8 -2l8 0l7 -2l9 -3l7 -2l8 -1" stroke-width="2.2" stroke-opacity="0.7"/>
<path d="M789 1532l3 -7l2 -8l2 -8l0 -7l2 -9l-2 -7l-2 -9l-4 -6l-4 -7l-3 -7l-1 -9l-5 -6l-7 -5" stroke-width="2.2" stroke-opacity="0.7"/>
<path d="M802 1474l7 -3l7 -6l7 -2l7 -4l6 -5l9 -2l5 -5l8 -4l6 -6l6 -5l6 -4l4 -6l4 -8" stroke-width="2.2" stroke-opacity="0.7"/>
<path d="M798 1580l3 7l1 8l3 8l4 6l3 8l3 8l0 7l2 8l1 8" stroke-width="2.2" stroke-opacity="0.7"/>
<path d="M826 1563l7 3l7 3l9 4l7 3l6 3l7 5l7 4l5 5l6 6l4 8" stroke-width="2.2" stroke-opacity="0.7"/>
<path d="M850 1617l-5 -7l-3 -7l-5 -5l-5 -8l-4 -6l-7 -6l-6 -4l-7 -3l-7 -5l-4 -7l-5 -5l-7 -7l-5 -5" stroke-width="2.2" stroke-opacity="0.7"/>
<path d="M916 1530l3 7l7 7l4 7l6 4l4 7l5 6l4 8l6 6l6 4l7 4l6 4l6 5" stroke-width="2.2" stroke-opacity="0.7"/>
<path d="M784 1588l-7 0l-9 0l-7 3l-9 2l-7 3l-7 2l-9 0l-7 1l-9 2l-8 1l-6 4l-9 2" stroke-width="2.2" stroke-opacity="0.7"/>
<path d="M811 1565l-4 -7l-6 -7l-3 -6l-1 -9l-1 -8l-3 -7" stroke-width="2.2" stroke-opacity="0.7"/>
<path d="M871 1576l-7 4l-6 6l-4 7l-2 7l-2 8l0 9l1 7l1 8" stroke-width="2.2" stroke-opacity="0.7"/>
<path d="M754 1520l-7 4l-5 7l-3 8l-4 6l0 9l1 7l0 8l1 8l0 9l-2 8l-4 7l-1 7" stroke-width="2.2" stroke-opacity="0.7"/>
<path d="M843 1492l-6 4l-8 4l-7 3l-8 4l-5 3l-7 7l-6 3l-7 5" stroke-width="2.2" stroke-opacity="0.7"/>
<path d="M771 1525l8 -1l7 -1l9 -3l7 -4l8 -2l7 -2" stroke-width="2.2" stroke-opacity="0.7"/>
<path d="M798 1549l8 -2l7 -2l8 -1l8 -2l7 -3" stroke-width="3.4" stroke-opacity="1"/>
<path d="M798 1549l7 4l8 2l7 2l7 4l8 4l7 2l7 4l8 3l8 2" stroke-width="3.4" stroke-opacity="1"/>
<path d="M798 1549l4 7l5 6l7 5l6 5l5 7l3 7l4 7l3 7" stroke-width="3.4" stroke-opacity="1"/>
<path d="M798 1549l0 8l0 8l-1 8l-1 8l-2 8l-1 8" stroke-width="3.4" stroke-opacity="1"/>
<path d="M798 1549l-2 8l-3 7l-4 8l-3 7l-1 8l-2 8l0 8" stroke-width="3.4" stroke-opacity="1"/>
<path d="M798 1549l-5 7l-4 6l-5 7l-6 5l-6 6" stroke-width="3.4" stroke-opacity="1"/>
<path d="M798 1549l-7 4l-7 3l-8 2l-8 1l-8 2l-7 4l-7 4" stroke-width="3.4" stroke-opacity="1"/>
<path d="M798 1549l-8 0l-8 -1l-8 1l-8 -1l-8 2" stroke-width="3.4" stroke-opacity="1"/>
<path d="M798 1549l-6 -5l-6 -5l-7 -4l-7 -4l-7 -3l-7 -4l-7 -5l-7 -4l-7 -3" stroke-width="3.4" stroke-opacity="1"/>
<path d="M798 1549l-7 -4l-7 -4l-7 -4l-6 -5" stroke-width="3.4" stroke-opacity="1"/>
<path d="M798 1549l-2 -7l-1 -8l-1 -8l-2 -8l-3 -7" stroke-width="3.4" stroke-opacity="1"/>
<path d="M798 1549l2 -7l3 -8l4 -7" stroke-width="3.4" stroke-opacity="1"/>
<path d="M798 1549l6 -5l7 -4l7 -4l7 -2l8 -4l6 -4l7 -4" stroke-width="3.4" stroke-opacity="1"/>
<path d="M798 1549l8 -2l7 -3l7 -4l7 -3l8 -3l8 -1" stroke-width="3.4" stroke-opacity="1"/>
</g>
<g fill="#fff" filter="url(#b1)">
<ellipse cx="737" cy="1420" rx="1.3" ry="1.4" fill-opacity="0.35"/>
<ellipse cx="644" cy="1447" rx="1.6" ry="1.5" fill-opacity="0.98"/>
<ellipse cx="933" cy="1596" rx="3.0" ry="3.3" fill-opacity="0.87"/>
<ellipse cx="774" cy="1607" rx="1.6" ry="1.2" fill-opacity="0.59"/>
<ellipse cx="843" cy="1607" rx="1.3" ry="1.6" fill-opacity="0.40"/>
<ellipse cx="829" cy="1343" rx="1.3" ry="1.2" fill-opacity="0.83"/>
<ellipse cx="701" cy="1750" rx="1.3" ry="1.3" fill-opacity="0.45"/>
<ellipse cx="960" cy="1343" rx="1.3" ry="1.5" fill-opacity="0.58"/>
<ellipse cx="750" cy="1776" rx="3.0" ry="2.2" fill-opacity="0.40"/>
<ellipse cx="774" cy="1365" rx="2.0" ry="2.2" fill-opacity="0.53"/>
<ellipse cx="705" cy="1754" rx="2.0" ry="2.3" fill-opacity="0.55"/>
<ellipse cx="825" cy="1757" rx="1.3" ry="1.1" fill-opacity="0.70"/>
<ellipse cx="744" cy="1359" rx="2.0" ry="2.4" fill-opacity="0.50"/>
<ellipse cx="986" cy="1587" rx="2.4" ry="2.2" fill-opacity="0.54"/>
<ellipse cx="958" cy="1540" rx="1.3" ry="1.7" fill-opacity="0.93"/>
<ellipse cx="852" cy="1361" rx="2.4" ry="2.1" fill-opacity="0.51"/>
<ellipse cx="991" cy="1593" rx="2.4" ry="2.9" fill-opacity="0.97"/>
<ellipse cx="854" cy="1591" rx="1.3" ry="1.1" fill-opacity="0.62"/>
<ellipse cx="593" cy="1543" rx="1.6" ry="2.0" fill-opacity="0.58"/>
<ellipse cx="669" cy="1352" rx="2.4" ry="1.8" fill-opacity="0.76"/>
<ellipse cx="579" cy="1623" rx="1.3" ry="1.3" fill-opacity="0.78"/>
<ellipse cx="969" cy="1480" rx="1.6" ry="1.4" fill-opacity="0.80"/>
<ellipse cx="848" cy="1754" rx="3.0" ry="2.7" fill-opacity="0.81"/>
<ellipse cx="595" cy="1641" rx="2.4" ry="2.3" fill-opacity="0.36"/>
<ellipse cx="633" cy="1771" rx="1.6" ry="1.7" fill-opacity="0.91"/>
<ellipse cx="690" cy="1589" rx="3.0" ry="2.1" fill-opacity="0.79"/>
<ellipse cx="900" cy="1704" rx="3.0" ry="2.4" fill-opacity="0.53"/>
<ellipse cx="732" cy="1502" rx="1.6" ry="2.0" fill-opacity="0.53"/>
<ellipse cx="940" cy="1786" rx="1.6" ry="1.9" fill-opacity="0.60"/>
<ellipse cx="673" cy="1399" rx="2.4" ry="2.0" fill-opacity="0.62"/>
<ellipse cx="950" cy="1778" rx="1.3" ry="1.4" fill-opacity="0.36"/>
<ellipse cx="959" cy="1747" rx="2.4" ry="2.2" fill-opacity="0.61"/>
<ellipse cx="594" cy="1356" rx="2.0" ry="2.4" fill-opacity="0.94"/>
<ellipse cx="619" cy="1381" rx="1.6" ry="1.3" fill-opacity="0.57"/>
<ellipse cx="925" cy="1699" rx="1.6" ry="1.4" fill-opacity="0.93"/>
<ellipse cx="666" cy="1557" rx="3.0" ry="3.8" fill-opacity="0.80"/>
<ellipse cx="892" cy="1322" rx="1.3" ry="1.1" fill-opacity="0.81"/>
<ellipse cx="821" cy="1483" rx="2.0" ry="1.8" fill-opacity="0.96"/>
<ellipse cx="767" cy="1685" rx="1.3" ry="1.2" fill-opacity="0.66"/>
<ellipse cx="652" cy="1481" rx="2.0" ry="2.6" fill-opacity="0.77"/>
<ellipse cx="585" cy="1598" rx="2.4" ry="2.3" fill-opacity="0.37"/>
<ellipse cx="557" cy="1500" rx="2.0" ry="1.5" fill-opacity="0.98"/>
<ellipse cx="779" cy="1753" rx="1.6" ry="1.9" fill-opacity="0.52"/>
<ellipse cx="701" cy="1580" rx="2.4" ry="1.8" fill-opacity="0.95"/>
<ellipse cx="705" cy="1327" rx="2.0" ry="2.0" fill-opacity="0.52"/>
<ellipse cx="916" cy="1519" rx="2.0" ry="1.5" fill-opacity="0.94"/>
<ellipse cx="691" cy="1480" rx="2.4" ry="2.2" fill-opacity="0.46"/>
<ellipse cx="915" cy="1616" rx="1.6" ry="1.3" fill-opacity="0.84"/>
<ellipse cx="860" cy="1502" rx="1.6" ry="1.7" fill-opacity="0.95"/>
<ellipse cx="618" cy="1601" rx="2.4" ry="2.6" fill-opacity="0.41"/>
<ellipse cx="944" cy="1631" rx="3.0" ry="2.3" fill-opacity="0.88"/>
<ellipse cx="912" cy="1571" rx="1.3" ry="1.6" fill-opacity="0.56"/>
<ellipse cx="897" cy="1443" rx="1.6" ry="1.4" fill-opacity="0.95"/>
<ellipse cx="787" cy="1537" rx="2.4" ry="2.8" fill-opacity="0.73"/>
<ellipse cx="825" cy="1629" rx="1.3" ry="1.0" fill-opacity="0.86"/>
<ellipse cx="686" cy="1319" rx="1.6" ry="1.4" fill-opacity="0.60"/>
<ellipse cx="579" cy="1772" rx="3.0" ry="2.4" fill-opacity="0.49"/>
<ellipse cx="808" cy="1591" rx="2.0" ry="1.5" fill-opacity="0.43"/>
<ellipse cx="1022" cy="1645" rx="1.6" ry="1.4" fill-opacity="0.78"/>
<ellipse cx="566" cy="1483" rx="1.6" ry="1.7" fill-opacity="0.71"/>
<ellipse cx="574" cy="1673" rx="1.6" ry="1.3" fill-opacity="0.39"/>
<ellipse cx="982" cy="1542" rx="3.0" ry="3.2" fill-opacity="0.79"/>
<ellipse cx="928" cy="1501" rx="2.4" ry="2.3" fill-opacity="0.96"/>
<ellipse cx="600" cy="1603" rx="3.0" ry="3.6" fill-opacity="0.81"/>
<ellipse cx="607" cy="1318" rx="3.0" ry="2.7" fill-opacity="0.60"/>
<ellipse cx="823" cy="1547" rx="3.0" ry="3.5" fill-opacity="0.56"/>
<ellipse cx="801" cy="1705" rx="1.6" ry="1.6" fill-opacity="0.73"/>
<ellipse cx="985" cy="1736" rx="2.4" ry="2.7" fill-opacity="0.55"/>
<ellipse cx="690" cy="1759" rx="1.3" ry="1.4" fill-opacity="0.55"/>
<ellipse cx="1005" cy="1642" rx="1.6" ry="1.1" fill-opacity="0.98"/>
<ellipse cx="968" cy="1612" rx="2.4" ry="2.0" fill-opacity="0.80"/>
<ellipse cx="752" cy="1413" rx="2.0" ry="1.9" fill-opacity="0.86"/>
<ellipse cx="793" cy="1736" rx="1.6" ry="1.4" fill-opacity="0.40"/>
<ellipse cx="950" cy="1702" rx="2.4" ry="2.4" fill-opacity="0.48"/>
<ellipse cx="569" cy="1486" rx="3.0" ry="3.7" fill-opacity="0.84"/>
<ellipse cx="953" cy="1610" rx="2.4" ry="2.1" fill-opacity="0.42"/>
<ellipse cx="766" cy="1466" rx="2.0" ry="2.0" fill-opacity="0.46"/>
<ellipse cx="814" cy="1339" rx="2.0" ry="1.5" fill-opacity="0.93"/>
<ellipse cx="957" cy="1720" rx="3.0" ry="2.5" fill-opacity="0.82"/>
<ellipse cx="913" cy="1417" rx="2.4" ry="1.7" fill-opacity="0.39"/>
<ellipse cx="997" cy="1769" rx="2.4" ry="2.0" fill-opacity="0.69"/>
<ellipse cx="939" cy="1417" rx="1.3" ry="1.1" fill-opacity="0.62"/>
<ellipse cx="743" cy="1469" rx="3.0" ry="2.8" fill-opacity="0.39"/>
<ellipse cx="828" cy="1710" rx="1.3" ry="0.9" fill-opacity="0.72"/>
<ellipse cx="619" cy="1517" rx="1.3" ry="1.5" fill-opacity="0.91"/>
<ellipse cx="887" cy="1555" rx="2.4" ry="2.0" fill-opacity="0.82"/>
<ellipse cx="1007" cy="1726" rx="1.3" ry="1.3" fill-opacity="0.82"/>
<ellipse cx="869" cy="1409" rx="1.3" ry="1.3" fill-opacity="0.84"/>
<ellipse cx="819" cy="1602" rx="2.4" ry="1.8" fill-opacity="0.54"/>
<ellipse cx="795" cy="1380" rx="1.3" ry="1.1" fill-opacity="0.65"/>
<ellipse cx="866" cy="1457" rx="2.0" ry="2.5" fill-opacity="0.68"/>
<ellipse cx="584" cy="1438" rx="1.3" ry="1.4" fill-opacity="0.88"/>
<ellipse cx="1000" cy="1719" rx="3.0" ry="3.9" fill-opacity="0.97"/>
<ellipse cx="949" cy="1681" rx="1.6" ry="1.3" fill-opacity="0.74"/>
<ellipse cx="807" cy="1445" rx="1.6" ry="2.0" fill-opacity="0.92"/>
<ellipse cx="965" cy="1689" rx="3.0" ry="2.7" fill-opacity="0.81"/>
<ellipse cx="660" cy="1663" rx="2.0" ry="2.2" fill-opacity="0.55"/>
<ellipse cx="882" cy="1376" rx="2.4" ry="3.1" fill-opacity="0.70"/>
<ellipse cx="878" cy="1693" rx="3.0" ry="2.3" fill-opacity="0.55"/>
<ellipse cx="582" cy="1570" rx="1.6" ry="1.5" fill-opacity="0.92"/>
<ellipse cx="750" cy="1409" rx="2.0" ry="2.1" fill-opacity="0.74"/>
<ellipse cx="642" cy="1383" rx="3.0" ry="3.0" fill-opacity="0.47"/>
<ellipse cx="759" cy="1514" rx="1.3" ry="1.1" fill-opacity="0.55"/>
<ellipse cx="1023" cy="1545" rx="1.6" ry="1.7" fill-opacity="0.56"/>
<ellipse cx="985" cy="1361" rx="1.6" ry="1.6" fill-opacity="0.79"/>
<ellipse cx="789" cy="1688" rx="1.3" ry="1.5" fill-opacity="0.64"/>
<ellipse cx="818" cy="1318" rx="1.3" ry="1.3" fill-opacity="0.78"/>
<ellipse cx="1014" cy="1565" rx="3.0" ry="3.7" fill-opacity="0.42"/>
<ellipse cx="688" cy="1508" rx="3.0" ry="2.5" fill-opacity="0.44"/>
<ellipse cx="709" cy="1495" rx="1.3" ry="1.0" fill-opacity="0.82"/>
<ellipse cx="735" cy="1662" rx="1.3" ry="1.4" fill-opacity="0.43"/>
<ellipse cx="804" cy="1651" rx="3.0" ry="3.3" fill-opacity="0.78"/>
<ellipse cx="967" cy="1328" rx="2.4" ry="2.1" fill-opacity="0.46"/>
<ellipse cx="618" cy="1517" rx="2.0" ry="2.1" fill-opacity="0.87"/>
<ellipse cx="1019" cy="1612" rx="2.4" ry="1.9" fill-opacity="0.49"/>
<ellipse cx="575" cy="1329" rx="1.3" ry="1.2" fill-opacity="0.70"/>
<ellipse cx="833" cy="1336" rx="1.6" ry="1.8" fill-opacity="0.36"/>
<ellipse cx="921" cy="1752" rx="2.0" ry="1.6" fill-opacity="0.92"/>
<ellipse cx="1011" cy="1623" rx="3.0" ry="2.8" fill-opacity="0.43"/>
<ellipse cx="724" cy="1342" rx="2.0" ry="1.9" fill-opacity="0.55"/>
<ellipse cx="1026" cy="1390" rx="2.0" ry="2.1" fill-opacity="0.53"/>
<ellipse cx="909" cy="1777" rx="2.4" ry="1.9" fill-opacity="0.78"/>
<ellipse cx="663" cy="1348" rx="1.6" ry="1.9" fill-opacity="0.76"/>
<ellipse cx="784" cy="1773" rx="1.3" ry="1.1" fill-opacity="0.93"/>
<ellipse cx="742" cy="1773" rx="3.0" ry="2.2" fill-opacity="0.89"/>
<ellipse cx="972" cy="1626" rx="1.6" ry="1.4" fill-opacity="0.90"/>
<ellipse cx="1017" cy="1728" rx="1.3" ry="1.1" fill-opacity="0.81"/>
<ellipse cx="690" cy="1550" rx="1.6" ry="1.7" fill-opacity="0.52"/>
<ellipse cx="829" cy="1396" rx="1.6" ry="1.2" fill-opacity="0.81"/>
<ellipse cx="1010" cy="1626" rx="1.3" ry="1.4" fill-opacity="0.55"/>
</g>
<g filter="url(#b2)" fill="#fff"><ellipse cx="797.9" cy="1549.3" rx="15.5" ry="14.5"/><path d="M805.1 1557.0L820.1 1528.6L790.7 1541.6Z"/></g>
<g fill="#fff"><ellipse cx="797.9" cy="1549.3" rx="13.0" ry="12.0"/><path d="M803.6 1555.4L816.8 1531.7L792.2 1543.2Z"/></g>
<g filter="url(#b2)" fill="#fff"><ellipse cx="797.9" cy="1549.3" rx="14.5" ry="13.5"/><path d="M792.9 1540.9L778.7 1560.8L802.9 1557.7Z"/></g>
<g fill="#fff"><ellipse cx="797.9" cy="1549.3" rx="12.0" ry="11.0"/><path d="M793.9 1542.6L781.6 1559.1L801.9 1556.0Z"/></g>
<g filter="url(#b2)" fill="#fff"><ellipse cx="743.6" cy="1321.3" rx="11.0" ry="10.0"/><path d="M737.8 1317.1L734.5 1333.8L749.4 1325.5Z"/></g>
<g fill="#fff"><ellipse cx="743.6" cy="1321.3" rx="8.5" ry="7.5"/><path d="M739.0 1317.9L735.9 1331.9L748.2 1324.7Z"/></g>
<g filter="url(#b2)" fill="#fff"><ellipse cx="873.2" cy="1407.9" rx="10.5" ry="9.5"/><path d="M869.7 1402.1L860.6 1415.5L876.7 1413.7Z"/></g>
<g fill="#fff"><ellipse cx="873.2" cy="1407.9" rx="8.0" ry="7.0"/><path d="M870.4 1403.3L862.5 1414.3L876.0 1412.5Z"/></g>
<g filter="url(#b2)" fill="#fff"><ellipse cx="978.4" cy="1551.9" rx="11.0" ry="10.0"/><path d="M971.7 1549.6L973.4 1566.6L985.1 1554.2Z"/></g>
<g fill="#fff"><ellipse cx="978.4" cy="1551.9" rx="8.5" ry="7.5"/><path d="M973.0 1550.1L974.1 1564.4L983.8 1553.7Z"/></g>
<g filter="url(#b2)" fill="#fff"><ellipse cx="572.3" cy="1576.3" rx="10.5" ry="9.5"/><path d="M577.1 1581.0L582.5 1565.8L567.5 1571.6Z"/></g>
<g fill="#fff"><ellipse cx="572.3" cy="1576.3" rx="8.0" ry="7.0"/><path d="M576.2 1580.1L581.0 1567.4L568.4 1572.5Z"/></g>
<g filter="url(#b2)" fill="#fff"><ellipse cx="877.6" cy="1632.3" rx="11.0" ry="10.0"/><path d="M880.8 1625.9L863.7 1625.4L874.4 1638.7Z"/></g>
<g fill="#fff"><ellipse cx="877.6" cy="1632.3" rx="8.5" ry="7.5"/><path d="M880.1 1627.2L865.8 1626.5L875.1 1637.4Z"/></g>
<g filter="url(#b2)" fill="#fff"><ellipse cx="871.9" cy="1791.8" rx="11.0" ry="10.0"/><path d="M877.3 1787.1L861.8 1780.1L866.5 1796.5Z"/></g>
<g fill="#fff"><ellipse cx="871.9" cy="1791.8" rx="8.5" ry="7.5"/><path d="M876.2 1788.1L863.3 1781.8L867.6 1795.5Z"/></g>
<g filter="url(#b2)" fill="#fff"><ellipse cx="551.9" cy="1644.3" rx="6.5" ry="5.5"/><path d="M551.9 1648.0L560.0 1644.3L551.9 1640.5Z"/></g>
<g fill="#fff"><ellipse cx="551.9" cy="1644.3" rx="4.0" ry="3.0"/><path d="M551.9 1647.3L558.8 1644.3L551.9 1641.3Z"/></g>
</g>
<g clip-path="url(#gc2)">
<rect x="1037.5" y="1317.3" width="478.6" height="476.6" fill="#000" />
<g fill="none" stroke="#6DCFF6" stroke-width="1.25" stroke-linejoin="round">
<path d="M1365.5 1327.2l-3.2 4.4l-3.1 4.4l-3.6 4.0l-4.7 3.2l-2.6 4.1l0.0 7.5l-1.5 6.9l-1.6 4.0l-3.0 4.8l-2.2 5.2l-3.3 4.0l-1.4 5.1l-2.6 6.5l-1.2 4.4l-2.1 5.7l-2.7 6.4l-3.6 3.4l-4.8 5.4l-3.4 2.8l-2.3 5.2l-4.7 3.4l-2.1 6.6l-1.4 5.2l-2.4 6.3l-1.3 4.9l-0.1 6.1l-0.1 4.1l-1.2 5.7l2.4 3.9l2.2 4.4l3.0 5.5l2.1 4.7l3.2 3.9l2.9 4.9l3.5 4.3l2.0 4.3l3.5 3.6l2.6 5.1l4.3 3.2l3.0 5.5l2.2 3.9l4.0 3.7l3.7 3.9l3.5 2.0l4.6 4.6l4.4 2.5l4.8 2.4l5.4 3.7l3.6 1.8l4.9 3.6l3.8 2.9l5.4 2.4l4.6 3.5l2.8 3.1l4.2 1.7l5.0 4.0l3.6 2.9l4.5 1.7l4.1 3.3l3.1 3.4l3.0 4.0l4.6 5.5l2.5 2.4l4.0 4.8l5.2 4.4l3.3 3.8l4.7 5.4l4.1 3.7l5.2 3.2l4.6 4.3l6.1 2.6 M1427.5 1392.8l-4.2 4.5l-1.9 3.7l-3.6 5.9l-3.5 4.1l-4.3 3.8l-2.7 4.5l-2.8 5.7l-1.9 4.3l-0.9 5.8l-3.0 4.4l-1.3 5.0l-3.1 5.5l-2.2 4.3l-2.1 5.4l-0.5 5.1l-0.4 7.3l0.7 5.1l-1.2 5.5l-0.3 5.5l-1.0 5.6l0.9 6.9l-1.0 5.6l-0.1 5.2l-0.5 6.1l-1.3 5.9l-1.6 5.7l-0.9 5.4l-0.4 7.1l0.4 7.3 M1119.3 1444.7l5.7 1.3l4.3 1.5l5.8 0.3l4.0 0.9l6.1 0.9l5.3 0.7l6.2 0.7l6.1 0.3l5.2 0.2l6.0 0.1l6.2 0.7l5.1 0.2l6.7 -0.1l5.9 0.6l4.9 -0.6l5.8 0.1l5.1 0.3l7.2 -0.9l5.3 0.2l5.8 -1.2l5.9 0.5l5.2 -0.4l5.7 0.9l5.3 1.7l5.3 0.9l4.3 0.0l6.1 1.9l4.9 1.1l5.9 0.7l5.6 0.4l5.0 1.6l4.6 1.1l5.8 1.3l5.2 1.0l5.8 1.8l5.4 1.5l6.0 1.6l5.1 2.0l5.3 0.5l6.3 1.5l6.1 1.6l4.1 2.5l5.3 0.5l5.2 2.0l4.7 2.4l4.9 3.0l4.6 1.1l5.4 2.2l4.8 2.8l4.0 1.5l5.2 3.2l5.4 3.1l4.0 1.6l5.2 1.4l5.4 1.0l3.5 2.6l5.9 0.9l4.9 3.0l4.5 0.8l5.2 1.8 M1127.9 1472.1l5.3 -1.7l7.1 -1.2l5.7 -0.3l5.0 -2.0l5.9 0.0l6.5 0.9l4.7 0.2l6.8 0.8l4.5 0.4l6.1 0.6l4.6 -0.1l5.9 -0.8l5.9 0.7l3.9 -0.8l5.7 0.5l5.7 -1.0l6.3 0.0l4.8 0.3l7.1 0.8l5.0 0.8l5.9 0.7l5.5 0.3l5.8 -1.2l5.3 -0.2l5.0 -0.4l4.9 -0.1l5.7 -0.8l5.8 -0.1l4.9 -0.7l4.9 -0.9l6.6 0.8l6.5 -1.2l4.2 0.0l6.6 -1.0l5.6 -1.0l6.3 -1.0l5.4 -0.7l5.6 -2.1l5.9 -0.9 M1182.6 1442.4l5.7 0.9l4.1 2.6l4.6 1.4l5.8 0.8l6.1 1.4l5.0 2.0l6.9 0.3l5.1 2.1l5.7 0.5l5.8 -0.1l5.1 0.8l6.4 0.2l6.3 -0.2l4.7 2.0l6.8 0.3l4.4 0.7l6.6 0.1 M1224.4 1423.7l7.1 2.3l5.8 -0.3l5.8 2.3l5.4 1.4l4.5 3.2l4.5 1.1l5.5 0.1l4.2 2.1l4.8 0.2l5.7 0.5 M1261.9 1409.8l5.1 1.6l5.6 2.0l5.1 3.1l5.1 0.5l5.6 0.1l6.7 2.0l5.6 0.2l6.2 -2.2l4.7 -1.3l5.7 -1.3l6.1 -1.8l4.7 -1.4 M1259.0 1424.2l4.5 -2.0l5.4 -2.5l5.9 -2.7l5.3 2.6l5.4 1.3l4.7 1.7l5.3 2.2l5.7 0.7l5.3 2.5l4.8 1.4l6.2 1.4l5.2 2.5l4.2 1.7l5.3 0.7l6.0 2.4l5.3 -0.8l5.7 0.2l4.2 0.2l4.7 -0.4l6.0 -0.7l5.0 0.8l7.3 2.4l4.5 0.5l7.1 2.4l4.9 1.1 M1139.4 1491.9l5.7 -0.4l4.7 0.6l4.3 0.2l5.5 0.5l5.4 0.3l4.8 0.2l6.0 1.5l5.1 0.2l4.6 0.7l6.4 2.2l5.3 2.2l6.0 1.9l5.4 2.3l4.3 2.1l5.2 2.8l6.3 3.7l4.3 2.9l5.8 -0.9l4.7 1.6l5.6 -0.8l5.0 -0.6l4.7 0.1l5.9 0.6 M1116.4 1501.4l4.4 2.4l5.5 2.2l3.5 2.8l4.4 2.6l5.2 3.0l5.3 0.2l5.4 1.1l6.4 0.3l6.3 -0.1l5.4 -0.1l5.8 0.7l5.1 -0.7l6.1 -0.1l6.5 -1.0l4.8 -0.4l6.3 0.7l5.3 -0.4l6.1 1.9l5.6 -0.8l6.0 0.3l5.8 0.7l6.2 0.1l4.7 -1.1l6.7 0.9l5.7 -1.2l6.4 -1.0l4.9 0.6 M1161.0 1505.8l4.1 3.5l5.4 1.8l4.9 3.9l-0.6 6.5l-0.8 4.4l-1.4 5.1l0.0 6.4l0.2 5.8l-0.4 5.0l-1.3 6.5l3.9 2.8l4.6 3.6l4.0 4.2l4.8 3.8 M1115.0 1536.6l5.7 -0.6l5.7 1.9l6.3 -0.7l6.7 0.2l4.7 1.5l4.2 1.1l5.5 1.8l4.4 0.8l6.5 0.8l4.9 0.0l4.4 1.2l4.9 0.3l6.6 0.2l5.6 0.3l6.4 0.7l5.3 -0.6l5.1 -0.6l6.3 -0.8l4.1 -0.3l5.4 0.3l6.7 -1.3l4.1 -0.9l5.7 -0.4l5.8 0.3 M1100.6 1558.2l4.7 -1.7l4.6 -2.8l5.7 -1.9l4.0 -1.4l5.4 -1.4l5.0 -1.8l5.3 -0.7l5.8 -0.6l5.4 -0.8l4.5 -1.3l5.5 0.7l4.4 1.0l5.5 0.8l4.7 -0.2 M1104.9 1559.0l5.6 1.3l4.3 1.0l5.4 -0.3l4.6 0.9l6.0 1.5l4.6 3.2l5.1 1.7l5.9 3.8l4.6 2.8l3.7 2.3l4.8 3.8l5.9 4.2l4.2 1.9l4.4 3.6l4.5 2.4l4.4 1.9l5.1 4.1l4.9 1.3l4.2 3.3l5.0 2.3l5.4 3.3l5.5 3.5l4.2 2.4 M1120.7 1583.5l4.0 -3.9l6.1 -3.4l3.8 -3.6l4.8 -3.5l5.6 -2.1l4.6 -2.8l5.1 -4.4l4.9 -2.2l4.4 -4.0l2.5 -2.8l4.6 -4.7 M1248.9 1430.9l-0.1 5.9l1.5 6.3l0.6 4.5l0.9 6.3l-0.1 5.2l0.8 6.1l0.6 5.5l-0.4 5.8l0.5 6.2l0.6 6.4l-0.5 5.3l-1.1 4.9l0.5 6.4l-0.9 5.8l-1.1 5.2l-0.2 6.7l1.1 4.9l-0.4 5.9l-0.9 6.1l0.7 6.4l0.1 5.7l-0.1 4.3l0.5 6.8l0.3 5.6l-0.3 5.6l0.5 5.1l0.3 6.4l0.6 6.3l0.3 5.4l1.0 6.6l1.9 5.7l0.9 5.3l0.9 6.0l1.1 5.2l0.0 5.9l0.9 5.7l-0.4 4.9l-0.1 6.3l1.0 6.0l2.3 6.2l2.4 5.0l2.6 5.7l1.4 6.2 M1269.1 1678.6l-0.8 5.0l-1.1 6.8l-0.8 6.2l-1.6 5.6l-1.5 5.2l-1.2 5.1l-2.6 4.8l-0.4 4.4l-1.5 5.5l-2.7 4.0l-1.7 5.2l-1.4 5.5l-2.2 6.5l-1.9 5.3l-3.1 5.5l-1.5 5.5l-0.7 7.1l-1.6 6.1 M1202.8 1534.0l1.1 4.9l1.0 4.9l-0.3 5.3l1.1 5.6l1.9 5.9l0.9 4.7l2.9 4.5l0.4 5.8l2.5 5.0l2.9 5.9l2.2 4.4l1.7 5.3l3.2 4.8l1.6 5.6l1.3 5.3l2.9 4.5l0.1 5.0l2.7 6.1l1.6 5.0l1.6 5.2l2.9 6.6l2.3 5.9l1.8 5.3l1.4 5.4l3.6 6.2l1.2 5.3l2.5 4.7 M1169.7 1597.9l5.8 0.3l4.7 -0.9l6.7 -0.9l4.2 -1.0l5.6 -0.6l6.1 0.2l5.1 0.0l5.7 -0.1l6.9 -0.2l5.9 -0.4l5.2 -0.7l6.5 0.0l5.3 -0.9l4.8 -2.4l5.7 -0.7l6.5 -0.3l5.5 0.8l6.4 1.3l4.6 0.3l6.6 0.8l5.7 1.1l4.6 2.3l5.8 2.3l5.4 2.7l6.1 0.6l5.0 3.3l4.8 1.8 M1152.4 1616.6l5.1 0.8l5.8 1.9l6.0 2.4l4.8 0.3l5.7 1.8l5.7 1.5l6.3 0.8l4.9 0.7l6.1 1.4l6.4 0.6l4.3 0.4l6.1 1.0l5.5 -0.1l6.5 0.9l5.0 -0.3l7.4 -0.2l4.7 0.5l5.2 -1.4l6.5 0.0l6.3 -1.5l5.7 0.1l4.4 -0.8l6.6 -0.3l5.8 -0.4l4.8 -2.2l4.3 0.2l5.2 -2.4l4.2 -1.7l6.3 -0.7l4.0 -1.8l5.1 -1.8l4.8 0.4l5.1 -1.3l5.9 -0.9l4.6 -2.1l4.8 -0.1 M1137.1 1646.3l4.8 -0.4l6.3 -0.8l6.4 -0.9l5.0 -1.6l4.6 -0.6l5.5 -1.6l3.7 -1.7l5.3 -1.0l5.8 -2.8l3.9 -1.0l5.6 -0.1l5.9 0.3l6.1 0.0l4.9 0.9l6.3 0.4l4.0 1.2l6.3 2.3l3.6 -0.1l5.9 3.2l4.4 -0.1l4.6 2.1l4.3 2.2l6.1 -0.2l3.4 2.2l5.0 2.0l5.0 1.5l5.0 0.9l4.8 0.4l6.9 0.7l3.8 -0.7l6.1 1.1 M1185.5 1635.4l-2.6 4.8l-3.4 5.2l-2.5 5.9l-3.0 4.2l-1.0 5.9l-0.6 5.7l0.3 5.0l-1.0 6.8l-0.6 5.4l-3.4 5.9l-1.8 4.9l-2.1 6.0l-2.8 4.8 M1204.3 1701.6l3.5 -3.5l4.3 -3.6l4.8 -4.1l4.3 -2.7l4.7 -3.4l4.8 -2.7l4.1 -4.1l5.3 -2.8l5.0 -3.3l3.8 -4.4l4.8 -3.4l6.3 -3.1l4.4 -1.7l5.3 -3.5l5.1 -2.7l5.6 -2.2l4.1 -1.0l4.1 -2.8l5.4 -1.5l4.3 -2.1l5.3 -1.9l4.3 -2.2l5.5 -1.3l6.2 -1.2l4.2 -1.0 M1274.8 1672.8l3.2 5.6l4.5 4.1l3.7 5.7l3.0 4.8l3.3 5.1l3.2 4.2l4.6 5.2l3.5 4.5l2.7 5.4 M1257.5 1652.6l3.0 3.6l4.7 5.2l2.3 3.4l4.4 5.1l5.9 1.7l5.4 0.9l4.7 1.8l5.6 2.5l5.0 1.0l5.1 2.2 M1297.9 1665.6l4.1 -4.8l1.8 -3.0l3.4 -5.2l4.0 -3.1l4.2 -3.9l2.6 -4.5l-0.8 -5.5l1.4 -6.7l-0.1 -5.5l-0.8 -6.2l0.3 -4.9l-1.7 -5.0l-1.9 -5.1l-3.5 -5.5l-1.5 -4.5l-3.8 -3.6l-3.5 -5.8l-3.1 -4.4l-3.2 -3.3l-3.0 -5.1l-3.6 -3.8 M1318.0 1612.3l2.2 -4.3l3.9 -4.4l2.7 -3.5l2.1 -5.5l3.5 -3.8l2.9 -4.4l4.2 -4.5l3.0 -4.9l3.7 -3.8l2.6 -5.9l3.8 -3.9l1.2 -5.1l2.8 -5.0l1.3 -4.1l2.2 -5.7l1.4 -4.4l1.2 -4.5 M1332.4 1502.9l0.3 5.5l2.3 5.2l-0.5 6.0l1.6 4.6l1.5 4.6l0.6 5.8l0.7 5.4l0.3 5.3l2.0 6.4l1.1 5.1l0.2 6.6l0.2 5.1l1.8 6.9l0.4 5.2l-0.8 5.6l1.3 6.0l1.6 4.9l2.8 6.2l1.4 6.2l2.8 5.7 M1323.8 1547.5l6.5 0.5l4.9 -1.9l6.3 -0.4l5.3 0.4l5.8 -1.6l6.6 -0.1l4.8 -1.3l6.0 0.4l5.6 -1.7l5.7 -1.1l5.9 0.7l5.5 -1.1l6.7 -1.2l5.0 -0.2l6.3 0.9l4.6 0.0l7.2 1.6l4.9 1.7l5.8 0.1l5.9 -0.6l5.3 -0.1l5.7 -1.1l6.6 -0.3l5.3 -0.8l4.2 -2.0l5.8 -0.5l4.4 -1.8 M1355.5 1606.6l4.3 -0.2l5.1 -2.6l4.9 -0.6l5.8 -1.0l6.0 0.4l4.9 -0.6l5.7 -0.5l6.0 -0.7l6.2 0.0l3.8 3.3l4.8 2.9l5.0 2.6l5.1 2.7l4.4 2.9 M1318.0 1572.0l5.5 3.2l3.7 1.3l5.9 2.0l4.0 2.9l5.8 1.9l3.9 3.1l4.1 3.8l4.0 2.0l4.2 3.9l3.7 4.0l3.1 3.7l4.0 2.8l4.9 3.1l4.7 3.8l4.6 3.6l4.7 2.7l4.1 4.0l5.3 0.6l5.8 2.8l4.7 1.0 M1212.9 1560.5l6.1 -0.4l5.0 1.3l4.8 0.0l7.0 1.6l4.2 0.5l6.0 -0.1l6.0 -0.7l5.8 -0.8l5.1 -0.9l6.4 0.6l6.0 -0.6l5.3 -0.5l5.0 0.5l5.8 1.0l4.9 1.5l4.9 0.8l5.3 0.5 M1246.0 1618.1l2.1 -5.6l4.3 -5.4l1.5 -5.4l4.1 -5.1l2.4 -4.4l3.4 -4.8l4.1 -4.5l2.9 -5.4l4.0 -3.3l2.9 -5.1l4.3 -2.8l4.0 -3.7l4.4 -3.6l2.6 -3.0l4.9 -4.2l5.2 -4.8l2.6 -4.1l4.4 -4.3l5.0 -4.0 M1225.9 1540.3l3.2 -3.9l3.9 -3.1l4.6 -2.9l4.2 -4.5l4.2 -2.9l5.4 -2.1l4.2 -4.1l4.1 -2.5l4.6 -3.6l4.8 -2.1l5.1 -1.2l5.6 -1.6l5.1 -1.9l5.6 -1.4l4.5 -2.5l5.1 -2.5l4.4 -1.8l5.0 -2.2l3.8 -3.3l4.7 -1.7l4.9 -2.8l5.8 -1.4l4.3 -2.7l6.4 -2.6l4.5 -2.0l4.5 -0.4l5.7 -1.4l5.0 -0.9l4.9 0.2l5.9 -0.4 M1269.1 1560.5l2.1 -5.5l3.7 -2.9l3.4 -5.8l3.0 -5.0l2.2 -3.9l3.2 -4.2l3.6 -2.3l5.1 -3.6l4.0 -3.4l4.0 -3.1l3.1 -3.5l3.7 -4.2l3.4 -3.1l4.3 -4.0l3.0 -3.1l5.0 -1.6l5.0 -2.7l5.7 -1.9l5.9 -2.5 M1248.9 1549.0l3.0 -5.1l3.2 -3.8l2.1 -3.5l3.2 -4.9l5.6 -2.2l4.8 -2.1l4.8 -1.9l5.0 -1.0l5.7 -0.4l5.5 -2.8l5.2 -0.3l5.4 -1.8l5.5 -0.5 M1306.5 1451.0l3.1 4.0l3.0 4.4l3.8 3.3l3.2 4.1l4.2 4.4l4.6 3.5l2.3 3.9l5.4 3.4l2.8 4.0l4.4 4.3l3.5 3.9l3.3 4.7l4.5 3.7l4.2 4.4l3.4 2.9l4.8 4.5l3.9 3.2l5.3 4.0l3.5 3.6l4.6 3.6l4.6 4.4l3.3 4.5l4.4 3.9l3.7 3.8l4.1 5.0 M1341.1 1458.2l4.7 2.9l4.5 1.2l5.3 2.6l4.1 1.9l5.8 1.4l4.4 3.0l4.3 1.2l6.5 -0.5l3.5 1.7l5.8 0.5l5.4 1.2l5.3 0.6l6.6 1.1l4.7 -0.7l6.4 0.0l5.6 0.3l4.9 -0.3l4.6 -1.0l5.6 -0.1l5.6 -0.6 M1369.9 1500.0l-4.3 5.7l-3.2 4.9l-2.5 5.3l-4.4 4.3l-3.8 4.9l-2.5 3.0l-4.1 5.4l-4.0 3.9l-3.0 4.0l-3.4 4.5l-1.5 4.3l-3.7 4.5 M1390.0 1479.8l3.9 3.1l4.7 2.9l4.3 2.3l3.6 3.8l5.4 1.9l4.0 3.3l3.9 3.5l3.8 4.0l4.4 2.2l3.0 4.0l3.5 3.9l4.5 2.6l2.0 4.3l3.3 4.4l2.5 3.7l3.7 4.9l3.8 6.0l1.5 5.0l3.3 5.7 M1384.3 1451.0l3.2 3.4l4.3 5.6l4.2 2.7l3.6 3.8l4.8 4.7l5.2 6.2l3.5 5.3l2.6 5.4l1.7 3.8l0.8 4.8l1.8 4.6l3.1 5.4l1.5 4.8l0.0 5.4l2.3 6.8l0.7 5.5l1.2 5.5l0.1 5.6 M1378.5 1500.0l0.3 -5.6l0.3 -6.8l0.8 -4.9l2.1 -4.4l2.3 -5.0l2.7 -3.8l3.0 -4.1l3.0 -5.8l1.9 -5.3l1.8 -6.5l2.0 -5.4 M1289.2 1574.9l0.5 5.4l1.2 6.7l1.0 4.8l0.2 6.1l0.8 3.9l2.2 5.2l0.4 5.0l1.9 4.6l2.2 5.5l1.1 4.6l0.8 6.2l1.0 6.1l1.0 5.2l2.2 6.0l0.8 5.3 M1318.0 1659.8l4.3 4.7l4.6 3.6l3.3 3.1l5.1 4.5l5.0 2.2l4.4 2.5l5.4 1.7l5.4 2.2l5.1 3.7l4.7 2.6l5.4 2.9 M1264.7 1494.2l-1.6 6.1l-2.3 5.1l-1.5 6.3l-1.8 5.6l-2.6 3.9l-3.2 5.4l-3.4 3.8l-1.5 4.4l-3.7 5.5l-2.8 4.7l-3.8 5.0l-2.6 5.3l-2.3 5.2l-2.7 3.3l-4.5 5.1l-2.9 2.8l-4.2 4.5l-3.0 4.4l-1.1 5.0l-2.9 5.1l-1.4 4.4l-1.5 6.1l-2.1 4.7l-1.3 5.8l-2.1 3.4l-2.0 5.9"/>
</g>
</g>
<g clip-path="url(#gc3)">
<rect x="1523.2" y="1317.3" width="478.6" height="476.6" fill="#030303" />
<rect x="1523.2" y="1317.3" width="476.6" height="476.6" fill="#fff" filter="url(#nz)" opacity="0.1"/>
<g fill="none" stroke="#fff" stroke-linecap="round" stroke-linejoin="round" filter="url(#fil3)">
<path d="M1981 1787l8 -6l6 -7l7 -8l6 -8l5 -9l3 -9l3 -9l4 -10l4 -10l1 -9" stroke-width="2.1" stroke-opacity="0.37"/>
<path d="M1597 1390l-4 8l-1 11l-3 9l-2 11l-2 8l-2 11l-3 10l-2 8l-6 10l-1 10l-4 9l-5 9l-4 8l-4 10l0 11l-2 9l1 11l2 10l2 9l2 10l1 10l-1 9l2 11l1 9l-1 11l-1 10l1 9l2 10l2 9l2 10l0 11l3 9l4 10l2 9l3 11" stroke-width="2.8" stroke-opacity="0.17" stroke-dasharray="9 2 4 2"/>
<path d="M1698 1307l-10 2l-8 2l-9 5l-10 4l-10 3l-11 0l-8 0l-12 -1l-10 0l-9 -3l-10 0l-9 -1l-10 0l-10 -3l-11 -4l-7 -4l-9 -4l-9 -5l-9 -5l-10 -4l-10 0l-8 -5" stroke-width="2.9" stroke-opacity="0.37"/>
<path d="M1778 1411l-9 -3l-10 -4l-8 -4l-11 -3l-10 -2l-9 1l-10 1l-11 0l-9 -1l-11 -1l-8 -3l-11 -1l-9 -5l-10 -2l-9 -4l-8 -4l-10 -5l-7 -7l-7 -7l-7 -6l-9 -7l-8 -5l-8 -6l-7 -5l-9 -7l-8 -5l-10 -5l-7 -4l-11 -3l-8 -4l-11 -2l-10 0l-9 -1" stroke-width="2.9" stroke-opacity="0.51"/>
<path d="M1843 1365l6 -8l7 -7l6 -8l3 -10l3 -8l4 -11l1 -9l3 -10l4 -10l2 -8l-1 -10l-2 -10l0 -10l-3 -10l-3 -9l-2 -11l-3 -9l-3 -9l-2 -10l-3 -10l-1 -10l1 -11l2 -9l0 -9" stroke-width="2.8" stroke-opacity="0.20"/>
<path d="M1885 1537l0 -10l1 -9l2 -11l2 -10l4 -8l2 -10l3 -9l3 -11l2 -9l4 -9l6 -9l4 -9l4 -9l5 -9l4 -8l6 -8l3 -10l6 -9l3 -10" stroke-width="2.5" stroke-opacity="0.39"/>
<path d="M1992 1401l3 10l2 9l2 10l4 10l2 9l2 11l4 7l3 10l2 11l-2 10l1 10l-4 9l1 9" stroke-width="2.0" stroke-opacity="0.32"/>
<path d="M1568 1304l-6 8l-6 8l-5 8l-5 10l-2 9l-2 11l-3 9l-2 10l-3 8l-1 10l0 10l1 10l3 11l-2 8l2 11l3 10l0 11l0 10l4 7l3 12l-1 9l1 11l-1 8l1 11l-2 9l-2 10l-4 11l-5 9l-4 7l-2 11l-4 9l-3 9l-5 9l-1 10" stroke-width="2.9" stroke-opacity="0.30" stroke-dasharray="14 3 5 2"/>
<path d="M1551 1562l3 10l5 8l7 9l7 5l6 8l6 8l7 9l7 7l6 7l3 9l5 9l6 10l5 8l6 8l5 8l6 8l6 8l3 11l3 9l5 8l4 8l4 10" stroke-width="2.0" stroke-opacity="0.45"/>
<path d="M1540 1345l-6 7l-7 8l-5 9l-5 9l-4 9l-5 8l-4 10l-6 8l-4 8l-6 10l-5 6" stroke-width="1.7" stroke-opacity="0.48" stroke-dasharray="9 2 4 2"/>
<path d="M1569 1547l-5 8l-8 7l-6 9l-7 5l-8 8l-9 4l-8 5l-9 3l-11 1l-10 3l-10 2l-8 2l-11 1l-10 3l-10 3l-10 2l-9 3l-8 4" stroke-width="2.6" stroke-opacity="0.14"/>
<path d="M1983 1669l4 9l1 11l1 10l1 9l1 10l0 10l1 11l-1 9l0 10l1 9l4 10l3 9l4 10l5 9l5 10l4 8l6 9l4 8l8 6l5 10l3 9l5 8l4 8l7 9l6 8l8 7l7 7" stroke-width="1.8" stroke-opacity="0.53" stroke-dasharray="14 3 5 2"/>
<path d="M2007 1644l7 -9l7 -6l8 -5l7 -6l7 -9l6 -8l5 -10l6 -7l6 -7l7 -9l8 -5l6 -6l10 -6l6 -6l10 -7l7 -5l9 -6l8 -5l8 -7l7 -7l8 -5" stroke-width="2.4" stroke-opacity="0.25"/>
<path d="M1876 1378l-10 -4l-8 -4l-8 -6l-8 -7l-7 -4l-9 -7l-7 -7l-7 -6l-9 -6l-10 -3l-9 -3l-9 -6l-11 -2l-8 -4l-10 -3l-7 -6l-10 -4l-8 -4l-11 -3l-9 -2l-10 -1l-10 -3l-11 1l-9 2" stroke-width="1.9" stroke-opacity="0.48" stroke-dasharray="9 2 4 2"/>
<path d="M1839 1618l-1 -10l0 -10l-3 -10l-2 -8l-3 -11l-5 -8l-6 -8l-6 -9l-5 -7l-7 -8l-8 -6l-7 -8l-8 -6l-8 -4l-10 -6l-8 -5l-10 -4l-9 -3" stroke-width="3.0" stroke-opacity="0.33"/>
<path d="M1957 1717l-8 -5l-10 -5l-9 -2l-8 -5l-10 -5l-8 -4l-11 -2l-11 -1l-8 2l-10 -1l-10 -2l-11 -4l-9 -1l-10 0l-11 1l-8 0l-11 -2l-10 0l-10 -1" stroke-width="2.7" stroke-opacity="0.48" stroke-dasharray="9 2 4 2"/>
<path d="M1968 1691l-8 7l-9 5l-9 5l-7 5l-10 4l-9 6l-7 5l-9 6l-7 5l-8 6l-9 5l-9 6l-8 8l-7 6l-7 5l-7 7l-9 5l-10 4l-8 6l-11 3l-9 2l-10 3l-8 4l-9 4l-10 0l-11 3l-9 1l-10 3l-10 0l-9 0l-11 0l-10 -3l-9 -2l-10 -1l-11 -3l-10 1l-8 2l-11 0l-9 -1" stroke-width="1.4" stroke-opacity="0.17"/>
<path d="M1632 1567l7 7l5 9l6 8l7 7l8 8l8 4l8 5l9 4l10 4l11 1l10 2l10 1l10 1" stroke-width="2.8" stroke-opacity="0.48"/>
<path d="M1531 1718l4 -9l6 -9l6 -6l7 -9l6 -9l6 -8l5 -7l7 -8l8 -8l5 -6l4 -10l4 -9l3 -9l3 -10l3 -9l3 -10l4 -9l4 -10" stroke-width="2.8" stroke-opacity="0.34" stroke-dasharray="9 2 4 2"/>
<path d="M1710 1684l-4 -9l-4 -9l-5 -10l-4 -7l-7 -10l-4 -9l-5 -8l-3 -9l-3 -10l-3 -10l1 -9l1 -11l-2 -9l0 -10l-2 -10l-2 -10" stroke-width="1.7" stroke-opacity="0.32" stroke-dasharray="14 3 5 2"/>
<path d="M1983 1713l8 -6l7 -5l11 -5l9 -2l10 -3l9 0l10 -1l10 0l11 -2l10 -1l9 -1l10 0l9 0" stroke-width="2.3" stroke-opacity="0.51" stroke-dasharray="14 3 5 2"/>
<path d="M1803 1728l7 -7l7 -8l6 -7l9 -5l8 -7l10 -4l6 -5l9 -6l8 -6l8 -5l7 -8" stroke-width="2.0" stroke-opacity="0.20"/>
<path d="M1509 1635l-8 5l-9 5l-7 6l-10 6l-7 6l-9 7l-5 8l-7 6l-7 9l-6 8l-8 4l-8 7l-8 8l-8 5l-8 6l-8 5l-10 3l-10 4l-9 1l-11 0l-10 -3l-8 -2l-10 -3l-9 -3l-10 -5l-9 -1l-11 -1l-8 -3l-9 -4" stroke-width="1.7" stroke-opacity="0.23"/>
<path d="M1809 1671l-3 -9l-1 -10l-2 -10l-3 -10l-3 -10l-3 -8l-5 -10l-2 -9l-5 -9l-4 -8l-6 -10l-5 -7l-6 -10l-7 -7l-7 -7l-4 -10l-6 -7l-3 -10l-7 -7l-4 -10l-3 -9l-4 -10l-4 -7l-5 -10l-5 -8l-5 -10l-2 -9l-3 -10l-4 -10l-2 -10l-2 -8l-3 -10l-3 -10l-3 -9l-3 -10l-6 -8" stroke-width="2.0" stroke-opacity="0.49"/>
<path d="M1598 1337l-1 10l-2 10l0 9l2 10l1 10l2 10l3 10l3 8l5 10l5 9l6 7l3 9l6 8l8 7l6 9l6 8l5 9l6 6l6 11l5 8l4 9l5 8l6 9l7 7l5 7l6 9l4 9l5 8l8 8l4 9l4 9l4 8" stroke-width="2.9" stroke-opacity="0.40" stroke-dasharray="9 2 4 2"/>
<path d="M1910 1330l10 -2l9 -2l10 0l11 -1l9 -2l10 -3l8 -1l11 -5l9 -3l9 -2l10 -1l11 -3l9 0l9 -3l11 -1l10 0l10 -1l9 -3l10 -3l11 -1l8 -1l11 0l10 -2l8 -6l11 -4l8 -3l11 -4l7 -3l10 -2l10 -1" stroke-width="1.6" stroke-opacity="0.42" stroke-dasharray="9 2 4 2"/>
<path d="M1566 1335l-5 -9l-5 -9l-4 -9l-5 -8l-3 -10l-7 -7l-7 -8l-5 -8l-5 -10l-4 -8l-4 -10l-4 -9" stroke-width="2.7" stroke-opacity="0.39"/>
<path d="M1621 1300l3 9l5 8l2 12l1 9l1 10l2 10l0 10l2 10l-1 10l-1 10l-1 9l-1 11l-1 9l-1 10l-3 10l-6 9l-3 8l-2 10l-5 10l-3 10l-3 9l-6 8l-3 9l-1 11l-3 10l-3 9" stroke-width="1.7" stroke-opacity="0.28"/>
<path d="M1808 1398l10 -2l9 1l10 -1l10 -2l10 -4l8 -3l11 -4l8 -3l11 -5l9 -2l8 -5l9 -3l10 -1l11 0l10 -3l9 0l10 -3l10 -3l9 -2l10 -1l10 -2l9 0l11 -3l10 0l9 -3l10 -3l10 -1l10 0l10 -2l9 -1l11 -2l9 -4l9 -6l9 -4l7 -7l6 -7l7 -8l4 -8l7 -8l7 -8" stroke-width="2.7" stroke-opacity="0.34" stroke-dasharray="9 2 4 2"/>
<path d="M2003 1590l-7 8l-5 9l-6 7l-7 8l-7 7l-7 6l-6 10l-6 5l-8 8l-5 9l-9 6l-7 7l-5 7l-7 8l-6 7l-7 7l-8 8l-8 5l-6 7l-8 7l-6 9l-7 8l-7 5l-8 7l-5 9l-4 9l-4 8l-7 8l-6 9" stroke-width="1.6" stroke-opacity="0.25" stroke-dasharray="14 3 5 2"/>
<path d="M1767 1567l-7 5l-10 7l-9 3l-9 3l-10 -1l-11 1l-9 0l-10 -1l-10 3l-10 1" stroke-width="2.3" stroke-opacity="0.40"/>
<path d="M1696 1571l3 -9l0 -11l0 -10l-1 -10l-1 -10l-1 -10l-1 -10l0 -10l-3 -9l-4 -9l-3 -9l-1 -10l-4 -10l0 -10l1 -9l1 -11l0 -10l1 -9" stroke-width="2.6" stroke-opacity="0.22" stroke-dasharray="9 2 4 2"/>
<path d="M2020 1686l0 -10l1 -9l3 -10l1 -9l1 -12l2 -8l4 -11l4 -10l4 -8l4 -9l6 -9l3 -8l6 -10l5 -9l5 -8l4 -8l5 -8l5 -10l3 -8l3 -11l6 -8l2 -10l3 -9l1 -11l1 -9" stroke-width="1.5" stroke-opacity="0.15"/>
<path d="M1520 1423l-10 -2l-11 -1l-8 -1l-11 -3l-9 0l-11 1l-9 -1l-10 1l-11 -1l-10 0l-10 0l-10 -2l-9 0l-9 2l-11 2l-9 4l-10 4l-8 3l-9 4l-10 6l-6 8l-7 8l-7 8l-5 6l-6 10l-8 6l-7 6l-9 5l-9 3l-8 7l-6 8l-8 7l-8 7l-8 3l-9 7l-9 4l-10 4l-9 2l-9 5" stroke-width="1.5" stroke-opacity="0.38"/>
<path d="M1587 1786l5 -8l7 -8l4 -7l5 -9l6 -9l6 -8l4 -10l5 -9l6 -7l6 -8l7 -10l5 -6l8 -6l6 -8l10 -4l9 -5l7 -5l8 -6l9 -6l8 -7l7 -7l7 -6l6 -9l5 -8l4 -8l8 -9" stroke-width="1.5" stroke-opacity="0.48" stroke-dasharray="14 3 5 2"/>
<path d="M1578 1619l-3 -9l-2 -11l-3 -9l-5 -9l-3 -9l-3 -10l-2 -10l-4 -10l-1 -8l-2 -11l1 -10" stroke-width="2.7" stroke-opacity="0.28"/>
<path d="M1585 1596l-8 7l-7 8l-8 5l-9 4l-8 7l-10 3l-8 5l-7 6" stroke-width="1.6" stroke-opacity="0.44"/>
<path d="M1853 1687l0 11l2 9l-1 11l1 9l-3 10l0 11l2 8l1 11l0 10l1 10l0 9l1 11l-3 10l-1 10l-2 9l-4 9l-4 10" stroke-width="2.6" stroke-opacity="0.21" stroke-dasharray="14 3 5 2"/>
<path d="M1819 1436l0 10l-3 9l1 11l-2 9l0 11l-1 10l-2 9l1 10l-2 11l1 9l1 11l-1 10l0 9l0 10l0 10l1 11l1 9l4 9l3 10l3 9l2 10l4 11l1 9l2 10l3 8" stroke-width="1.8" stroke-opacity="0.46"/>
<path d="M1619 1633l-1 9l-3 11l-4 9l-4 8l-8 7l-6 7l-4 10l-2 9l-3 11l1 9l0 10l1 10l-2 11l1 10l-1 9l-1 10l0 10l2 10l2 10l3 10l4 10l3 8l4 9l4 9l2 10l6 9l4 9l5 9l6 7l4 9l7 8l5 9l6 9" stroke-width="2.1" stroke-opacity="0.16"/>
<path d="M1854 1346l2 9l1 10l4 10l4 8l5 11l1 8l5 10l2 9l5 9l4 9l1 11l0 11l3 8l4 10l7 9l4 8l5 8l3 11l7 7l2 10l6 8" stroke-width="2.1" stroke-opacity="0.28"/>
<path d="M1586 1674l-8 6l-9 5l-9 4l-8 4l-10 4l-10 4l-8 5l-9 5l-8 5l-7 7l-7 7l-7 8l-6 7l-6 8l-8 6l-8 6l-7 8l-6 7l-6 9l-7 7l-4 9l-7 8l-6 8l-8 7l-6 7l-8 6l-10 6l-6 5l-7 8" stroke-width="2.0" stroke-opacity="0.37" stroke-dasharray="9 2 4 2"/>
<path d="M1751 1429l-5 -9l-4 -9l-7 -7l-5 -9l-8 -5l-9 -8l-8 -3l-10 -5l-9 -3l-8 -5l-11 -4l-10 -2l-8 0l-11 -1l-10 -1l-9 -3l-10 1l-10 0l-10 1l-11 0l-8 1l-12 0l-9 1l-11 -2l-9 -1l-11 -1" stroke-width="2.4" stroke-opacity="0.45" stroke-dasharray="9 2 4 2"/>
<path d="M1992 1373l2 10l4 9l2 10l1 9l0 10l1 10l0 10l-1 11l-3 8l-2 11l-4 10l-2 8l-4 10l-5 10l-4 6l-6 9l-3 11l-6 7l-4 10l-3 9l-6 10l-3 9l-4 8l-3 9l-4 10l-2 9" stroke-width="1.6" stroke-opacity="0.31" stroke-dasharray="14 3 5 2"/>
<path d="M1737 1349l-8 7l-6 5l-9 7l-7 6l-10 4l-9 5l-9 3l-10 1l-10 3l-9 2l-10 3l-10 3l-9 3l-10 3l-9 2l-9 2l-11 1l-10 3l-9 2l-11 0l-10 1l-9 2l-10 1l-11 -2l-10 -3l-9 -1l-10 -5l-8 -5l-9 -5" stroke-width="1.8" stroke-opacity="0.36" stroke-dasharray="14 3 5 2"/>
<path d="M1850 1473l2 9l6 10l2 11l0 9l3 11l-2 8l1 10l-1 11l-2 9l-1 10l0 11l-1 10l1 10l1 10l3 9l4 9l2 10l0 10l2 9l3 10l2 11l-1 9l1 10l-1 10l-1 10l-2 9l-5 10l-5 9l-3 8l-6 10l-3 8l-1 10l-2 9l0 11l-1 10l0 11l0 10l-1 8" stroke-width="1.8" stroke-opacity="0.49"/>
<path d="M1552 1689l8 -5l7 -6l9 -7l9 -3l9 -4l10 -3l10 -5l9 -2l10 -3l8 -3" stroke-width="1.8" stroke-opacity="0.44"/>
<path d="M1918 1723l9 3l10 1l11 4l9 3l10 0l8 3l10 6l9 2l9 6l8 4l7 7l7 7l5 9l4 10l5 9l6 8l6 9l6 7l3 10l5 9l6 9l5 6l5 10l9 6l7 4l9 7l8 4l9 5" stroke-width="2.3" stroke-opacity="0.21" stroke-dasharray="14 3 5 2"/>
<path d="M1651 1502l10 1l9 3l9 4l10 1l9 5l11 1l8 5l11 1l9 3l10 2l9 3l10 2l11 1l9 3l9 2l11 3l8 3" stroke-width="1.9" stroke-opacity="0.15" stroke-dasharray="14 3 5 2"/>
<path d="M1632 1781l-4 -8l-7 -8l-6 -9l-8 -6l-7 -7l-5 -8l-4 -9l-4 -11l-5 -8l-4 -9l-4 -9l-4 -9l-5 -9" stroke-width="2.4" stroke-opacity="0.33"/>
<path d="M1824 1499l7 5l10 4l10 4l9 3l10 4l9 5l6 6l7 8l7 8l5 9l3 7l4 10l4 10l6 8l7 7l6 9l7 4l9 6l10 5l8 6l7 5l8 7l7 9l7 6" stroke-width="2.0" stroke-opacity="0.29"/>
<path d="M1673 1583l7 8l7 6l5 8l3 9l7 9l7 9l7 5l8 8l8 6l9 4l8 5l8 4l8 6l8 6l8 7l8 6l6 8l6 8" stroke-width="2.2" stroke-opacity="0.24"/>
<path d="M1963 1634l4 -10l2 -10l0 -8l1 -11l2 -9l1 -10l3 -11l3 -9l4 -10l2 -9l1 -9l1 -10l3 -11l3 -9l5 -9" stroke-width="2.5" stroke-opacity="0.35"/>
<path d="M1555 1602l7 -7l9 -4l9 -5l9 -5l10 -3l8 -5l9 -5l8 -4l8 -6" stroke-width="2.1" stroke-opacity="0.30" stroke-dasharray="14 3 5 2"/>
<path d="M1550 1345l5 8l8 7l7 6l6 8l7 8l6 9l3 8l7 8l3 10l6 8l3 10l2 10l2 9l1 11l3 9l0 10l4 10l4 9l2 9l5 9l4 9l6 10l5 8l4 9l6 8l8 6l6 8l8 6l5 9l7 7l6 8l7 8l6 7l7 7l6 9l6 7" stroke-width="1.7" stroke-opacity="0.48"/>
<path d="M1789 1329l-3 9l0 11l0 9l-1 10l0 10l-3 10l0 10l-1 11l0 11l0 8l0 11l0 9l-1 10l0 10l-2 9l-2 12l0 9l-1 11l-1 9l-1 10l-2 11" stroke-width="2.0" stroke-opacity="0.28" stroke-dasharray="9 2 4 2"/>
<path d="M1507 1422l9 1l11 -1l10 -1l10 0l9 -1l10 -2l10 -3l10 -2l9 -3" stroke-width="1.9" stroke-opacity="0.25"/>
<path d="M1927 1365l-9 -6l-7 -5l-10 -4l-9 -6l-9 -5l-7 -5l-10 -6l-7 -5l-10 -4l-8 -6l-9 -5l-9 -4" stroke-width="2.9" stroke-opacity="0.46" stroke-dasharray="14 3 5 2"/>
<path d="M1770 1672l2 10l6 8l4 10l2 9l4 10l0 10l2 10l2 10l-2 9l2 12l3 9l2 10l2 9l3 11l2 9l1 8l3 10l3 10l0 10l-2 11l1 9l0 10l-2 10l-2 11l1 9l0 9l1 12l1 9l-1 11l2 10l0 9l2 10l3 9l2 10l2 10l1 10l4 10" stroke-width="1.7" stroke-opacity="0.48" stroke-dasharray="9 2 4 2"/>
<path d="M1781 1442l8 7l8 6l8 4l9 7l9 5l8 2l10 4l9 0l11 1l10 2l10 0l10 1l11 0l9 1l11 -1l8 -1l10 -2l12 3l9 -3l10 -1l9 -3l9 -3l10 -3l10 -4l10 -4l9 -5l9 -2l10 -1l9 -2" stroke-width="1.9" stroke-opacity="0.26" stroke-dasharray="14 3 5 2"/>
<path d="M1766 1606l10 -6l7 -5l10 -3l9 -5l8 -6l8 -4l9 -7l7 -7l6 -8l6 -6l7 -9l8 -7l7 -6l8 -6l9 -3l8 -7l9 -5l6 -7l7 -8" stroke-width="2.0" stroke-opacity="0.34"/>
<path d="M1796 1415l0 11l-2 8l0 12l0 9l-1 10l0 9l-1 11l0 10l2 9l-1 11l0 10l-2 9l-1 11l-2 9l3 9l2 11l3 10l2 9" stroke-width="2.4" stroke-opacity="0.22"/>
<path d="M1922 1339l2 9l2 11l2 9l-1 11l-1 10l1 8l1 10l2 11l4 10l2 9l6 7l5 10l5 9l4 10l5 7l7 8l6 8l3 8l3 11l5 8l3 10l2 9l0 10l3 12l3 9l4 9l4 10l2 9l4 8l2 10l3 9l6 10l5 8l6 9l5 7l2 11l3 9l2 9l2 11" stroke-width="2.6" stroke-opacity="0.26"/>
<path d="M1932 1361l4 -10l5 -8l4 -9l5 -9l6 -9l2 -9l2 -11l1 -9l2 -9l1 -12l0 -9l2 -9l-1 -11l-1 -9l1 -11l-2 -9l2 -10l-2 -10l-2 -11l0 -10l-1 -9l1 -11l-4 -10l-1 -8l-1 -10l-2 -11l-4 -9l-4 -10l-2 -10l-5 -8l-6 -8l-9 -6l-6 -9l-6 -5l-9 -6l-7 -8l-10 -4l-9 -5l-7 -6l-8 -6" stroke-width="2.7" stroke-opacity="0.31"/>
<path d="M1600 1480l-7 -7l-8 -5l-11 -4l-9 -4l-8 -2l-9 -4l-9 -7l-8 -4l-7 -8l-7 -8l-6 -7l-8 -6l-8 -7l-7 -6l-7 -7l-6 -8l-8 -8l-6 -6l-7 -8l-6 -8l-4 -10l-3 -8l-5 -9l-2 -10l-5 -10l-1 -9l-1 -10l-1 -11l2 -10l-1 -9" stroke-width="2.7" stroke-opacity="0.35"/>
<path d="M1726 1812l-10 -1l-10 -1l-10 -1l-11 0l-9 -2l-10 0l-9 1l-12 0l-9 0l-9 1l-11 3l-10 2l-10 0l-9 0l-11 2l-9 2l-10 0l-11 2l-8 3l-11 4l-7 5l-10 3l-9 3l-10 5l-9 4l-8 5l-9 3l-10 5" stroke-width="1.6" stroke-opacity="0.24"/>
<path d="M1789 1367l0 10l-2 10l-1 9l-3 11l0 9l-2 10l-1 11l-3 8l0 11l-2 10l-4 8l-1 11l-3 10l1 8l-2 11l2 11l2 10l3 9l3 9l-1 11l-1 10l-1 9l-1 10l-3 11l1 9l-2 10l-2 9l-2 9l-2 11l-1 11l-1 8l0 10l-3 12l-2 8" stroke-width="2.9" stroke-opacity="0.33" stroke-dasharray="9 2 4 2"/>
<path d="M2008 1679l2 10l2 10l-2 9l0 11l-1 10l2 9l-1 10l3 10l0 10l1 11l2 9l5 9l6 8l3 10l5 9l6 8l6 8l7 8l7 7l6 5l8 8l7 8l4 9l5 7l5 10l4 10l3 9l2 11l2 8l-1 11l1 10l1 10l2 8l-2 11" stroke-width="2.7" stroke-opacity="0.50"/>
<path d="M1977 1710l-7 7l-7 8l-6 6l-9 6l-6 9l-6 6l-8 6l-9 9l-5 7l-6 9l-3 8l-4 9l-6 9l-5 9l-7 5l-6 9l-6 9l-4 8l-3 11l-3 10l-2 8l1 12l-3 9l-3 9l-3 10l-6 7l-7 8l-7 8l-8 4l-9 4l-8 7l-8 5l-7 7l-7 7l-7 8l-6 7l-8 8" stroke-width="2.6" stroke-opacity="0.40"/>
<path d="M1719 1656l1 -10l2 -9l3 -11l2 -10l2 -9l3 -10l-1 -9l0 -12l0 -8l-1 -11l-1 -10l1 -10l-1 -10l0 -10l0 -10l2 -9l2 -9l1 -10l5 -10l5 -9l4 -9l6 -7l5 -10l3 -10l3 -9l1 -9l1 -10" stroke-width="1.9" stroke-opacity="0.42"/>
<path d="M1937 1310l6 8l7 9l5 7l6 8l6 9l4 9l7 8l4 8l8 8l6 6l8 7l7 8l5 7l6 9l9 7l7 5l9 6l6 7l6 8l4 9l4 10l2 10l1 11l4 8l3 9l6 9l5 8l1 10l2 11l3 10l1 10l5 9l3 9" stroke-width="2.0" stroke-opacity="0.37"/>
<path d="M1506 1542l-9 -6l-7 -5l-7 -8l-10 -6l-6 -6l-5 -9l-8 -6l-7 -8l-7 -6l-8 -6l-9 -5l-10 -5l-9 -3l-9 -3l-10 0l-9 -2l-11 -3l-8 -5l-9 -5l-7 -7l-7 -5l-8 -7l-8 -7l-9 -5l-9 -7l-6 -7l-9 -7l-6 -6l-8 -8l-8 -3l-10 -5l-7 -6" stroke-width="1.6" stroke-opacity="0.17"/>
<path d="M1525 1305l4 8l4 10l4 10l1 8l5 11l5 8l3 10l3 10l1 9l5 9l4 9l4 9l4 9l6 8l4 9l5 10l3 9l1 9l4 11" stroke-width="2.7" stroke-opacity="0.53" stroke-dasharray="9 2 4 2"/>
<path d="M1994 1310l9 0l11 1l9 2l11 1l8 0l11 1l10 3l9 1l11 2l9 0l10 0l11 0l9 -3l10 -2l11 1l9 0l9 -1l11 -1" stroke-width="1.9" stroke-opacity="0.38"/>
<path d="M1595 1625l-11 -1l-10 1l-10 -1l-10 2l-10 1l-8 0l-11 0l-9 3l-11 0l-9 1l-10 3l-10 1l-10 2l-11 -2l-9 2l-9 3l-10 5l-9 -1l-12 1l-10 0l-9 1l-10 1l-9 1l-10 2l-10 0l-11 1l-9 -1l-10 -1l-11 -2l-8 -1l-11 -1l-10 -2l-9 -3l-10 -3l-8 -5l-9 -5l-10 -1l-11 -2l-9 -2l-9 -3" stroke-width="2.5" stroke-opacity="0.36"/>
<path d="M1745 1566l-9 6l-8 5l-8 7l-8 7l-8 6l-7 5l-7 6l-9 6l-7 7l-8 8l-8 5l-9 5l-8 5l-10 2l-8 5l-12 2l-9 4l-10 0l-9 2l-11 0l-9 1l-9 -1l-11 0l-10 1l-10 -4l-8 -2l-10 -5l-10 -3l-10 -2l-9 -4l-9 1l-11 1l-10 1l-10 3l-10 3l-9 3l-10 0l-10 1l-11 0l-8 -2l-10 -1" stroke-width="2.4" stroke-opacity="0.38"/>
<path d="M1652 1656l-5 8l-1 10l-5 11l-2 8l-2 10l-2 10l-2 11l-2 9l-1 9l-3 10l-1 10l-1 10l0 10l-1 9l-2 11l-2 10l-3 9l-3 9l-3 10l-2 9l-3 11l-3 9l-3 10l-1 10l1 8l1 11l3 11l1 10" stroke-width="1.5" stroke-opacity="0.17" stroke-dasharray="14 3 5 2"/>
<path d="M1972 1367l10 4l7 5l8 7l9 7l7 7l4 8l7 8l5 8l7 8l4 9l7 8l4 9l5 8l3 10l3 10l0 9l1 11l2 9l-3 10l-3 10" stroke-width="2.0" stroke-opacity="0.33"/>
<path d="M1757 1573l6 -8l6 -8l6 -8l8 -7l7 -7l7 -6l6 -9l6 -7l8 -8l5 -6l8 -8l6 -9l4 -9l4 -8l6 -8l5 -8l8 -9l4 -8l5 -9l4 -8l4 -9l5 -10l7 -9l5 -7l6 -8l4 -9l7 -7l7 -8l4 -7l6 -9l8 -6l7 -8l8 -7l6 -7l7 -8l5 -8l7 -9l6 -7l7 -8" stroke-width="1.6" stroke-opacity="0.46" stroke-dasharray="14 3 5 2"/>
<path d="M1618 1495l7 7l7 8l5 8l8 7l8 6l9 5l9 5l9 3l10 4l8 4l9 5l9 2l10 5l9 2l10 2l11 2l10 -1l10 -1l10 2l9 -2l11 -3l8 -2l11 -1l9 1l11 2l10 -1l9 -1l9 3l11 1l9 0l12 -1l8 -2l11 0l10 -2l8 -4l11 -2l9 -6l8 -4" stroke-width="2.8" stroke-opacity="0.47"/>
<path d="M1747 1805l6 -9l8 -6l6 -7l8 -7l6 -7l9 -7l5 -8l5 -9l3 -9l5 -9l3 -9l5 -10l3 -8l2 -11l2 -10l2 -10l3 -8l2 -10l3 -10l1 -9l2 -12l4 -8l2 -10l1 -9l-1 -10l1 -10l0 -10l4 -10l2 -10l4 -9l0 -9l2 -11l4 -9l0 -10l-1 -10l1 -11l-1 -10l0 -9l3 -10l0 -11" stroke-width="2.0" stroke-opacity="0.23" stroke-dasharray="14 3 5 2"/>
<path d="M1983 1482l-3 -10l-2 -10l-2 -10l-1 -9l-1 -10l-2 -10l-1 -9l1 -10l-2 -10l-3 -10l-4 -10" stroke-width="2.5" stroke-opacity="0.27"/>
<path d="M1792 1717l-9 -3l-11 -2l-8 0l-10 -4l-10 -3l-9 -4l-9 -5l-9 -3l-9 -5l-10 -2l-9 -3l-10 0l-11 -1l-9 4l-10 0l-11 1l-9 0l-11 -1l-8 -3l-11 0l-10 2l-9 0l-12 2l-9 2l-10 2l-9 0l-10 2l-10 2l-10 3l-10 1l-10 0l-10 -2l-10 -1l-10 -1l-8 1l-11 -2l-9 2l-11 -2" stroke-width="2.0" stroke-opacity="0.15" stroke-dasharray="9 2 4 2"/>
<path d="M1546 1369l11 -2l9 -1l10 0l9 -2l11 -3l9 1l10 -1l9 3l11 2l10 2l9 3" stroke-width="2.4" stroke-opacity="0.36"/>
<path d="M1818 1608l-11 1l-9 0l-9 0l-10 -1l-11 -1l-11 -2l-8 -2l-10 -5l-8 -5l-8 -6l-9 -6" stroke-width="2.3" stroke-opacity="0.48" stroke-dasharray="14 3 5 2"/>
<path d="M1848 1541l2 9l1 10l1 10l0 10l0 10l-2 10l0 10l-1 10l0 10l-1 10l1 9l1 10l2 10l-1 10l-3 9l-4 11" stroke-width="2.0" stroke-opacity="0.32" stroke-dasharray="14 3 5 2"/>
<path d="M1985 1543l0 -10l1 -10l1 -10l1 -9l1 -10l3 -9l4 -11l3 -9l4 -9l6 -9l5 -8l7 -7l7 -5" stroke-width="1.4" stroke-opacity="0.49"/>
<path d="M1550 1628l10 0l9 0l10 -2l10 -3l11 0l8 -1l11 -1l11 0l8 0l10 -3l11 -3l10 -1l8 -4l8 -6l10 -5l8 -8l7 -5l8 -6l7 -7l8 -6l7 -7l8 -8l6 -4l8 -8l6 -7l8 -8l5 -8l5 -8l8 -8l6 -8l5 -7l5 -11l6 -9l4 -6" stroke-width="2.4" stroke-opacity="0.25" stroke-dasharray="9 2 4 2"/>
<path d="M1768 1393l-2 -11l-1 -9l1 -10l-1 -11l0 -8l-1 -11l-1 -10l1 -11l0 -9l0 -9l0 -11l-4 -10l-4 -8l-5 -9l-5 -8l-8 -7l-6 -7l-8 -7l-9 -6l-8 -5l-7 -5l-8 -8l-4 -9l-6 -8l-6 -8l-5 -9l-8 -6" stroke-width="1.6" stroke-opacity="0.14" stroke-dasharray="9 2 4 2"/>
<path d="M1975 1795l-8 5l-7 6l-9 8l-5 7l-8 6l-7 8l-5 7l-6 10l-5 8l-4 10l-6 6l-6 10l-4 9l-4 10l-4 8l-2 9l-4 9l-5 10l-3 9l-2 9l-1 12l-1 9l-2 10l-1 10l0 10l-1 9l-4 11l-2 9l-2 10l-2 10" stroke-width="2.8" stroke-opacity="0.18"/>
<path d="M2007 1436l-10 -2l-11 1l-10 1l-9 -1l-11 2l-9 0l-11 -4l-8 -1l-10 -2l-11 -1l-10 0l-9 -2l-11 0l-10 0l-10 0l-10 1l-9 -2l-10 -2l-10 -3l-10 -2l-10 -2l-9 -2l-11 -1l-9 0l-9 -2l-11 -1l-9 0l-11 -2l-9 1l-11 2l-9 0l-11 -2l-9 -4l-8 -6" stroke-width="1.6" stroke-opacity="0.50" stroke-dasharray="9 2 4 2"/>
<path d="M1566 1664l6 -7l5 -9l7 -8l9 -6l6 -8l8 -6l9 -4l7 -6l8 -5l9 -7l7 -7l9 -7l8 -4l8 -4l8 -6l8 -7l7 -6l8 -7l6 -9" stroke-width="2.3" stroke-opacity="0.43"/>
<path d="M1807 1686l-6 -7l-10 -7l-7 -6l-10 -3l-8 -4l-9 -7l-8 -5l-8 -5l-8 -7l-8 -6l-6 -8l-6 -8l-3 -10l-4 -9l-5 -9l-2 -9l-1 -11l-2 -9l-4 -10l-3 -9l-5 -10l-6 -8l-5 -7l-9 -7l-5 -8l-6 -7l-7 -6l-7 -8l-8 -8l-5 -7l-5 -10l-6 -7l-5 -10" stroke-width="2.4" stroke-opacity="0.25"/>
<path d="M1664 1524l4 -10l3 -9l5 -9l3 -9l3 -9l1 -10l3 -11l-1 -9l2 -10l1 -11l2 -9l1 -9l1 -11" stroke-width="2.0" stroke-opacity="0.20" stroke-dasharray="9 2 4 2"/>
<path d="M1778 1474l-9 3l-8 6l-9 7l-8 5l-5 7l-8 7l-7 6l-9 6l-7 7l-9 7l-6 7l-6 8l-8 8l-7 5l-8 6l-9 6" stroke-width="1.5" stroke-opacity="0.47" stroke-dasharray="14 3 5 2"/>
<path d="M1619 1559l9 3l10 2l11 1l10 1l10 4l8 2l10 2l10 3l9 2l8 5l10 2l9 6" stroke-width="2.7" stroke-opacity="0.18" stroke-dasharray="14 3 5 2"/>
<path d="M1848 1689l-10 4l-9 3l-8 4l-9 4l-9 6l-8 6l-6 7l-6 8l-8 8l-7 5l-9 8l-5 8l-5 9l-5 8l-3 10l-2 8" stroke-width="1.6" stroke-opacity="0.37"/>
<path d="M1984 1768l-9 -4l-9 -4l-10 -4l-8 -5l-10 -1l-10 -1l-10 2l-11 0l-8 0l-11 3l-9 1l-10 3l-10 -3l-11 -3l-7 -3l-10 -5l-8 -5l-9 -4l-9 -5l-7 -9l-8 -6l-5 -7l-8 -8l-6 -8l-8 -7l-7 -5l-10 -5l-7 -4l-10 -4" stroke-width="1.6" stroke-opacity="0.41" stroke-dasharray="9 2 4 2"/>
<path d="M1617 1678l-1 11l-2 9l0 11l4 10l-1 9l-1 10l-1 11l2 9l-3 11l-2 8l0 10l-4 9l-2 10l0 12l-2 8l-2 11l0 9l0 10l4 10l2 10l4 10" stroke-width="1.4" stroke-opacity="0.29"/>
<path d="M1926 1602l4 -9l3 -9l6 -8l6 -8l6 -9l8 -7l3 -9l6 -8l3 -10l5 -8l6 -10l5 -6l7 -8l6 -7l5 -9l4 -9l6 -10" stroke-width="1.4" stroke-opacity="0.20"/>
<path d="M1943 1314l10 0l11 1l10 2l9 2l10 0l9 1l10 4l9 4l10 4l9 3l8 6l8 5l8 7l10 5l8 3l7 6l11 6l6 5l8 6l10 7l7 5l7 7l6 9l5 7l4 10l5 10l2 8l2 11l-1 10l2 10l-1 10l1 9l1 10l-1 10l-1 10l-4 10" stroke-width="1.7" stroke-opacity="0.25"/>
<path d="M1924 1677l9 -6l7 -7l5 -8l6 -9l5 -9l3 -9l4 -9l6 -8l7 -8l6 -8l6 -8l3 -9l4 -9l4 -9l5 -9" stroke-width="2.2" stroke-opacity="0.19"/>
<path d="M1683 1764l-8 -6l-7 -7l-5 -9l-7 -8l-5 -9l-6 -7l-6 -8l-7 -5l-7 -8l-8 -6l-10 -5l-9 -5l-9 -4l-8 -6l-8 -5" stroke-width="2.4" stroke-opacity="0.31"/>
<path d="M1923 1610l3 -10l3 -10l2 -9l3 -9l5 -9l6 -8l6 -7l5 -10l7 -7l5 -9l6 -8l5 -9l2 -10l2 -9l6 -10l1 -9l5 -10l2 -9l5 -8l6 -10l4 -8l5 -8l5 -10" stroke-width="2.6" stroke-opacity="0.26"/>
<path d="M2006 1720l-8 4l-10 3l-10 2l-9 3l-10 3l-10 2l-9 6l-10 3l-9 2l-8 4l-10 4l-9 0l-11 3l-11 2l-9 3l-9 1l-9 1l-11 4l-9 1l-10 5l-9 3l-8 5" stroke-width="2.6" stroke-opacity="0.24"/>
<path d="M1823 1309l3 10l4 9l5 8l5 8l6 9l5 8l9 8l5 7l8 7l5 7l7 8l8 7l7 6l9 6l8 5l10 6l6 5l7 6l10 7l7 5l9 5l8 4l10 3l11 5l9 2l9 2l10 -1l11 -2l9 0" stroke-width="2.5" stroke-opacity="0.23"/>
<path d="M1615 1651l8 6l10 4l8 3l9 6l8 6l9 3l9 5l10 4l9 4l7 6l9 6l7 6l8 7l8 5l8 6l7 7l7 6l9 5l8 5l11 5l8 2l9 6l9 5l9 4l9 4l10 5l8 5l8 7l8 4l6 7l10 6l9 5l8 6l8 3l10 4l10 5l8 4l9 3l9 2" stroke-width="1.5" stroke-opacity="0.17" stroke-dasharray="14 3 5 2"/>
<path d="M1847 1756l-5 -8l-6 -9l-5 -9l-6 -8l-3 -10l-6 -7l-8 -6l-6 -9l-9 -6" stroke-width="1.9" stroke-opacity="0.32" stroke-dasharray="9 2 4 2"/>
<path d="M2009 1750l-1 9l-2 11l-2 8l-3 10l-3 11l-3 9l-3 9l-5 8l-5 10l-3 8l-1 11l0 10" stroke-width="2.9" stroke-opacity="0.33" stroke-dasharray="9 2 4 2"/>
<path d="M1738 1755l7 -5l10 -7l7 -4l10 -6l7 -7l7 -7l6 -6l9 -6l7 -7l6 -8l8 -6l7 -8l7 -8l7 -6l7 -7l7 -8l6 -6l8 -7l7 -7l8 -7l6 -6l8 -9l6 -6l6 -9l3 -9l4 -10l5 -9l2 -10l1 -9" stroke-width="2.4" stroke-opacity="0.22"/>
<path d="M2015 1368l9 -2l10 -2l10 -1l11 1l9 -2l11 -1l10 -1l9 -3l9 -5l9 -3l10 -1l10 -3l10 -4l8 -4l8 -6l8 -7l6 -8l8 -7l7 -5l7 -9l5 -8l5 -9l3 -9" stroke-width="2.6" stroke-opacity="0.51"/>
<path d="M1512 1299l6 -7l7 -8l8 -7l5 -7l9 -7l9 -6l7 -4l7 -7l7 -8l11 -3l8 -4l9 -6l9 -5" stroke-width="2.1" stroke-opacity="0.29" stroke-dasharray="14 3 5 2"/>
<path d="M1504 1660l1 -11l3 -8l3 -10l2 -9l5 -10l7 -7l4 -9l5 -9l4 -9l0 -10l4 -10l4 -8l3 -9l4 -11l2 -9l5 -9l5 -9l2 -9l4 -10l3 -9l4 -10" stroke-width="1.9" stroke-opacity="0.38"/>
<path d="M1954 1614l-10 5l-8 0l-10 6l-10 1l-10 1l-10 1l-10 3l-9 2l-10 4l-9 2l-10 3l-9 4l-10 2l-10 4l-9 2l-9 4l-9 5l-9 5l-8 3l-9 5l-11 2l-7 6l-9 6l-8 6l-8 4l-9 6l-9 3l-11 4l-9 3l-9 2l-10 4l-10 1l-9 2" stroke-width="2.2" stroke-opacity="0.34" stroke-dasharray="9 2 4 2"/>
<path d="M1569 1535l-7 6l-8 7l-9 5l-9 5l-8 5l-6 7l-7 8l-7 7l-6 8l-8 7l-10 5l-7 8" stroke-width="1.8" stroke-opacity="0.47" stroke-dasharray="14 3 5 2"/>
<path d="M1924 1303l-6 7l-4 9l-4 9l-7 8l-7 8l-7 6l-9 8l-7 6l-7 5l-10 5l-9 5l-9 4l-6 8l-7 7" stroke-width="2.9" stroke-opacity="0.39" stroke-dasharray="9 2 4 2"/>
<path d="M1635 1422l-6 8l-5 9l-4 8l-3 10l-2 10l-4 10l-3 9l-2 10l-7 9l-6 7l-4 8l-4 9l-7 10l-5 6l-9 8l-7 7l-8 5l-9 3l-9 5l-10 2l-8 4l-11 2l-10 3l-10 1l-9 6l-7 3" stroke-width="2.0" stroke-opacity="0.42" stroke-dasharray="14 3 5 2"/>
<path d="M1803 1803l1 -10l0 -11l1 -9l1 -11l3 -9l3 -8l3 -10l7 -8l6 -9l2 -9l5 -8l6 -10l7 -8l3 -8l3 -9" stroke-width="2.6" stroke-opacity="0.19"/>
<path d="M1630 1475l4 8l6 9l5 8l7 8l8 6l6 8l6 8l8 7l6 9l4 8l5 9l6 8l4 8l3 11l4 8" stroke-width="1.5" stroke-opacity="0.28"/>
<path d="M1675 1491l-6 -7l-7 -8l-6 -9l-6 -7l-9 -5l-5 -9l-7 -6l-8 -8l-8 -5l-9 -5l-7 -5l-10 -5l-9 -4l-9 -6l-9 -4" stroke-width="2.6" stroke-opacity="0.17"/>
<path d="M1931 1390l1 -11l3 -9l-1 -10l2 -10l1 -10l3 -9l4 -10l3 -10l3 -9l2 -9l5 -9l3 -10l6 -9l4 -8l3 -10l3 -9l2 -10l2 -9l2 -11l2 -9l1 -10l2 -10l5 -9l5 -10l4 -9l5 -8l4 -8l7 -9" stroke-width="2.4" stroke-opacity="0.48" stroke-dasharray="14 3 5 2"/>
<path d="M1826 1642l-10 -3l-9 -1l-11 -2l-9 -3l-9 -1l-9 -6l-10 -3l-9 -5l-8 -4l-9 -4l-10 -5l-9 -1l-10 -6l-8 -3l-9 -5l-10 0l-11 -2l-9 -2l-11 0l-10 0" stroke-width="2.8" stroke-opacity="0.34"/>
<path d="M1761 1715l1 10l1 9l-1 12l1 8l1 10l1 10l-2 11l-1 10" stroke-width="2.1" stroke-opacity="0.40" stroke-dasharray="9 2 4 2"/>
<path d="M1814 1434l-10 -2l-10 -3l-8 -5l-10 -3l-11 -1l-9 0l-11 1l-9 2l-9 6l-9 2l-11 4l-8 3l-10 1l-10 1l-10 2l-10 -3l-10 -2l-10 -4l-9 -5l-9 -4l-9 -4l-8 -7l-7 -5l-5 -8l-6 -7l-8 -10l-6 -7l-6 -7l-9 -5l-10 -5l-9 -3l-7 -6l-8 -6l-8 -5l-11 -5l-9 -3l-9 -4l-10 -3l-7 -4l-10 -6" stroke-width="2.7" stroke-opacity="0.46"/>
<path d="M1853 1573l10 -2l9 -3l10 -3l9 -3l10 -3l10 -4l8 -5l8 -5l8 -6l10 -3l9 -5l9 -4l9 -2l10 -5l9 -4l10 -3l7 -6l8 -7l6 -7l9 -7l4 -8l9 -6l9 -7l7 -5l8 -4l9 -6l10 -3l10 -5l8 -1l10 -4l10 -1l9 -2" stroke-width="1.5" stroke-opacity="0.43"/>
<path d="M1987 1417l7 6l10 6l8 5l8 4l10 3l10 1l9 2l11 0l9 0l11 -1l9 -1l10 -2l10 0l10 -5l9 -2l10 -2l11 0l10 -2l8 -2l10 -4l9 -3l10 -5l9 -3l9 -5" stroke-width="2.8" stroke-opacity="0.40"/>
<path d="M1698 1717l-2 9l0 11l-1 9l-3 11l-4 9l-1 10l-4 9l-3 11l-2 10l-4 7l-6 9l-5 8l-6 9l-6 9l-6 6l-7 8l-6 8l-7 6l-7 8l-7 6l-7 7l-10 5l-8 4l-8 7l-9 7l-8 3l-9 6l-9 3l-10 3l-9 -1l-11 -2l-10 1l-10 1l-10 1l-10 1l-9 0l-10 3l-10 4l-8 6l-9 4" stroke-width="2.3" stroke-opacity="0.52" stroke-dasharray="14 3 5 2"/>
<path d="M1704 1722l9 0l9 -4l11 -3l9 -3l10 -5l8 -4l11 -2l9 -2l9 -3l9 -5l8 -4l9 -7l7 -7l7 -6l8 -8l8 -6l8 -4l10 -3l10 -3l9 -5l10 -1l9 -2l11 -1l8 -2l10 0l11 -2l10 -4l9 -4" stroke-width="2.0" stroke-opacity="0.52"/>
<path d="M1863 1360l0 10l-1 9l-2 11l-6 9l-5 7l-6 10l-2 9l-6 8l-6 7l-5 10l-6 9l-5 8l-4 9l-5 9l-1 8l-4 10l-1 11l-1 11l-3 9l-1 9l-1 10l-2 11l0 10l-3 8l-2 10l-3 10l-5 9l-2 10l-1 9l-3 11l-4 9" stroke-width="1.8" stroke-opacity="0.33" stroke-dasharray="9 2 4 2"/>
<path d="M1939 1351l5 9l3 10l0 10l4 8l3 10l2 11l2 9l3 11" stroke-width="1.7" stroke-opacity="0.42" stroke-dasharray="14 3 5 2"/>
<path d="M1851 1327l-3 5l-3 4l-4 4l-4 3l-3 4l0 8l-1 7l-2 4l-3 5l-2 5l-4 4l-1 5l-3 6l-1 5l-2 5l-3 7l-3 3l-5 6l-3 2l-3 6l-4 3l-3 7l-1 5l-2 6l-2 5l0 6l0 4l-1 6l2 4l3 4l3 6l2 4l3 4l3 5l3 5l2 4l4 3l2 6l5 3l3 5l2 4l4 4l4 4l3 2l5 4l4 3l5 2l5 4l4 2l5 3l4 3l5 3l5 3l2 3l5 2l5 4l3 3l5 2l4 3l3 3l3 4l4 6l3 2l4 5l5 4l4 4l4 5l4 4l6 3l4 5l6 2" stroke-width="3.3" stroke-opacity="0.95"/>
<path d="M1913 1393l-4 4l-2 4l-3 6l-4 4l-4 4l-3 4l-3 6l-2 4l-1 6l-3 5l-1 4l-3 6l-2 4l-2 6l-1 5l0 7l0 5l-1 6l0 5l-1 6l1 7l-1 5l0 6l-1 6l-1 6l-2 5l0 6l-1 7l1 7" stroke-width="3.5" stroke-opacity="0.95"/>
<path d="M1605 1445l6 1l4 1l6 1l4 1l6 1l5 0l6 1l6 0l6 0l6 1l6 0l5 1l7 -1l6 1l5 -1l5 0l5 1l8 -1l5 0l6 -1l6 0l5 0l5 1l6 2l5 1l4 0l6 1l5 2l6 0l6 1l5 1l5 1l5 2l5 1l6 1l6 2l6 1l5 2l5 1l6 1l7 2l4 3l5 0l5 2l5 2l5 3l4 2l6 2l4 3l4 1l6 3l5 3l4 2l5 1l6 1l3 3l6 1l5 3l5 1l5 2" stroke-width="3.2" stroke-opacity="0.95"/>
<path d="M1614 1472l5 -2l7 -1l6 0l5 -2l6 0l6 1l5 0l7 1l4 0l6 1l5 0l6 -1l6 1l3 -1l6 0l6 -1l6 0l5 1l7 0l5 1l6 1l5 0l6 -1l6 0l5 -1l5 0l5 -1l6 0l5 0l5 -1l6 1l7 -2l4 0l7 -1l5 -1l7 -1l5 0l6 -2l6 -1" stroke-width="3.5" stroke-opacity="0.95"/>
<path d="M1668 1442l6 1l4 3l5 1l6 1l6 1l5 3l7 0l5 2l5 0l6 0l5 1l7 0l6 0l5 2l6 0l5 1l6 0" stroke-width="2.8" stroke-opacity="0.95"/>
<path d="M1710 1424l7 2l6 0l6 2l5 1l5 4l4 1l6 0l4 2l5 0l5 1" stroke-width="3.3" stroke-opacity="0.95"/>
<path d="M1748 1410l5 1l5 2l5 3l5 1l6 0l7 2l5 0l7 -2l4 -1l6 -2l6 -1l5 -2" stroke-width="2.9" stroke-opacity="0.95"/>
<path d="M1745 1424l4 -2l6 -2l6 -3l5 3l5 1l5 2l5 2l6 1l5 2l5 1l6 2l5 2l5 2l5 1l6 2l5 -1l6 0l4 1l5 -1l6 0l5 0l7 3l5 0l7 3l5 1" stroke-width="3.3" stroke-opacity="0.95"/>
<path d="M1625 1492l6 -1l4 1l5 0l5 1l6 0l4 0l6 2l6 0l4 1l7 2l5 2l6 2l5 2l5 2l5 3l6 4l4 3l6 -1l5 2l5 -1l5 -1l5 0l6 1" stroke-width="2.6" stroke-opacity="0.95"/>
<path d="M1602 1501l4 3l6 2l3 3l5 2l5 3l5 1l6 1l6 0l7 0l5 0l6 0l5 0l6 0l6 -1l5 -1l7 1l5 0l6 2l6 -1l5 0l6 1l6 0l5 -1l7 1l6 -2l6 -1l5 1" stroke-width="3.2" stroke-opacity="0.95"/>
<path d="M1647 1506l4 3l5 2l5 4l0 6l-1 5l-2 5l0 6l1 6l-1 5l-1 7l4 3l4 3l4 4l5 4" stroke-width="2.7" stroke-opacity="0.95"/>
<path d="M1601 1537l5 -1l6 2l6 -1l7 0l5 2l4 1l6 2l4 1l6 0l5 0l5 2l5 0l6 0l6 0l6 1l6 -1l5 0l6 -1l4 0l5 0l7 -1l4 -1l6 -1l6 1" stroke-width="2.7" stroke-opacity="0.95"/>
<path d="M1586 1558l5 -2l5 -2l5 -2l4 -2l6 -1l5 -2l5 0l6 -1l5 -1l5 -1l5 0l5 1l5 1l5 0" stroke-width="2.6" stroke-opacity="0.95"/>
<path d="M1591 1559l5 1l5 1l5 0l5 1l6 1l4 4l5 1l6 4l5 3l3 2l5 4l6 4l4 2l5 4l4 2l5 2l5 4l5 1l4 4l5 2l5 3l6 4l4 2" stroke-width="2.8" stroke-opacity="0.95"/>
<path d="M1606 1584l4 -4l7 -4l3 -3l5 -4l6 -2l4 -3l5 -4l5 -2l5 -4l2 -3l5 -5" stroke-width="3.1" stroke-opacity="0.95"/>
<path d="M1735 1431l-1 6l2 6l1 5l0 6l0 5l1 6l1 6l-1 5l1 7l0 6l0 5l-1 5l0 7l-1 6l-1 5l0 6l1 5l0 6l-1 6l1 7l0 5l0 5l0 7l0 5l0 6l1 5l0 6l1 7l0 5l1 7l2 5l1 6l1 5l1 6l0 6l1 5l-1 5l0 7l1 6l2 6l3 5l2 5l2 7" stroke-width="3.0" stroke-opacity="0.95"/>
<path d="M1755 1679l-1 5l-1 6l-1 7l-2 5l-1 5l-1 6l-3 4l0 5l-2 5l-2 4l-2 5l-2 6l-2 6l-2 6l-3 5l-1 6l-1 7l-1 6" stroke-width="2.7" stroke-opacity="0.95"/>
<path d="M1689 1534l1 5l1 5l-1 5l1 6l2 6l1 4l3 5l1 6l2 5l3 6l2 4l2 5l3 5l2 6l1 5l3 4l0 5l3 6l1 5l2 6l3 6l2 6l2 6l1 5l4 6l1 5l2 5" stroke-width="3.3" stroke-opacity="0.95"/>
<path d="M1655 1598l6 0l5 -1l7 -1l4 -1l5 0l7 0l5 0l5 0l7 0l6 -1l5 0l7 0l5 -1l5 -3l6 0l6 -1l6 1l6 1l5 1l6 1l6 1l5 2l5 2l6 3l6 0l5 4l5 2" stroke-width="3.5" stroke-opacity="0.95"/>
<path d="M1638 1617l5 0l6 2l6 3l5 0l5 2l6 1l7 1l4 1l7 1l6 1l4 0l6 1l6 0l6 1l5 0l8 0l4 0l6 -1l6 0l6 -2l6 0l5 -1l6 0l6 0l5 -3l4 1l5 -3l4 -1l7 -1l4 -2l5 -2l5 1l5 -2l6 0l4 -3l5 0" stroke-width="3.6" stroke-opacity="0.95"/>
<path d="M1623 1646l5 0l6 -1l6 -1l5 -1l5 -1l5 -2l4 -1l5 -1l6 -3l4 -1l6 0l6 0l6 0l5 1l6 0l4 2l6 2l4 0l6 3l4 0l5 2l4 2l6 0l4 2l4 2l5 2l6 1l4 0l7 1l4 -1l6 1" stroke-width="3.5" stroke-opacity="0.95"/>
<path d="M1671 1635l-2 5l-4 5l-2 6l-3 5l-1 5l-1 6l0 5l-1 7l0 5l-4 6l-1 5l-3 6l-2 5" stroke-width="2.7" stroke-opacity="0.95"/>
<path d="M1690 1702l3 -4l5 -4l5 -4l4 -2l5 -4l4 -2l5 -5l5 -2l5 -4l4 -4l4 -3l7 -3l4 -2l5 -4l6 -2l5 -3l4 -1l4 -2l6 -2l4 -2l5 -2l5 -2l5 -1l6 -2l4 -1" stroke-width="3.5" stroke-opacity="0.95"/>
<path d="M1761 1673l3 5l4 4l4 6l3 5l3 5l3 4l5 6l3 4l3 5" stroke-width="2.6" stroke-opacity="0.95"/>
<path d="M1743 1653l3 3l5 5l2 4l5 5l5 2l6 0l5 2l5 3l5 1l5 2" stroke-width="2.6" stroke-opacity="0.95"/>
<path d="M1784 1666l4 -5l1 -3l4 -5l4 -3l4 -4l3 -5l-1 -5l1 -7l0 -6l-1 -6l1 -5l-2 -5l-2 -5l-3 -5l-2 -5l-4 -3l-3 -6l-3 -5l-3 -3l-3 -5l-4 -4" stroke-width="3.5" stroke-opacity="0.95"/>
<path d="M1804 1612l2 -4l4 -4l2 -4l3 -5l3 -4l3 -5l4 -4l3 -5l4 -4l2 -6l4 -4l2 -5l2 -5l2 -4l2 -6l1 -4l1 -4" stroke-width="3.1" stroke-opacity="0.95"/>
<path d="M1818 1503l0 5l3 6l-1 6l2 4l1 5l1 6l1 5l0 5l2 7l1 5l0 6l0 6l2 6l1 6l-1 5l1 6l2 5l3 6l1 6l3 6" stroke-width="3.5" stroke-opacity="0.95"/>
<path d="M1809 1548l7 0l5 -2l6 0l6 0l5 -2l7 0l5 -1l6 0l5 -1l6 -1l6 0l5 -1l7 -1l5 0l6 1l5 0l7 1l5 2l6 0l6 0l5 -1l6 -1l6 0l6 -1l4 -2l6 0l4 -2" stroke-width="3.5" stroke-opacity="0.95"/>
<path d="M1841 1607l4 -1l6 -2l5 -1l5 -1l6 1l5 -1l6 0l6 -1l6 0l4 3l5 3l5 3l5 2l4 3" stroke-width="3.4" stroke-opacity="0.95"/>
<path d="M1804 1572l5 3l4 1l6 3l4 2l6 2l4 3l4 4l4 2l4 4l4 4l3 4l4 3l4 3l5 3l5 4l5 3l4 4l5 0l6 3l4 1" stroke-width="2.7" stroke-opacity="0.95"/>
<path d="M1699 1560l6 0l5 1l4 0l8 2l4 0l6 0l6 0l5 -1l6 -1l6 1l6 -1l5 -1l5 1l6 1l5 2l5 0l5 1" stroke-width="3.1" stroke-opacity="0.95"/>
<path d="M1732 1618l2 -6l4 -5l2 -5l4 -5l2 -5l3 -5l5 -4l3 -6l3 -3l3 -5l5 -3l4 -3l4 -4l3 -3l5 -4l5 -5l2 -4l5 -4l5 -4" stroke-width="2.8" stroke-opacity="0.95"/>
<path d="M1712 1540l3 -4l4 -3l4 -3l4 -4l5 -3l5 -2l4 -4l4 -3l5 -3l5 -2l5 -2l5 -1l6 -2l5 -2l5 -2l5 -2l4 -2l5 -3l4 -3l5 -2l5 -2l5 -2l5 -2l6 -3l5 -2l4 0l6 -2l5 -1l5 1l6 -1" stroke-width="3.0" stroke-opacity="0.95"/>
<path d="M1755 1560l2 -5l4 -3l3 -6l3 -5l2 -4l3 -4l4 -2l5 -4l4 -3l4 -3l3 -4l4 -4l3 -3l5 -4l3 -3l5 -2l5 -2l5 -2l6 -3" stroke-width="3.0" stroke-opacity="0.95"/>
<path d="M1735 1549l3 -5l3 -4l2 -3l3 -5l6 -2l5 -3l4 -1l5 -2l6 0l5 -3l6 0l5 -2l6 0" stroke-width="3.4" stroke-opacity="0.95"/>
<path d="M1792 1451l3 4l3 4l4 4l3 4l4 4l5 4l2 4l6 3l3 4l4 4l4 4l3 5l4 4l5 4l3 3l5 4l4 4l5 4l3 3l5 4l5 4l3 5l4 4l4 3l4 5" stroke-width="3.2" stroke-opacity="0.95"/>
<path d="M1827 1458l4 3l5 1l5 3l4 2l6 1l5 3l4 1l6 0l4 2l6 0l5 1l5 1l7 1l5 -1l6 0l6 1l5 -1l4 -1l6 0l5 0" stroke-width="2.6" stroke-opacity="0.95"/>
<path d="M1856 1500l-5 6l-3 5l-2 5l-5 4l-4 5l-2 3l-4 6l-4 3l-3 4l-4 5l-1 4l-4 5" stroke-width="2.9" stroke-opacity="0.95"/>
<path d="M1876 1480l4 3l4 3l5 2l3 4l6 2l4 3l3 4l4 4l5 2l3 4l3 4l5 2l2 5l3 4l3 4l3 5l4 6l1 5l4 5" stroke-width="2.9" stroke-opacity="0.95"/>
<path d="M1870 1451l3 3l4 6l5 3l3 3l5 5l5 6l4 6l2 5l2 4l1 5l2 4l3 6l1 5l0 5l3 7l0 5l1 6l1 5" stroke-width="2.7" stroke-opacity="0.95"/>
<path d="M1864 1500l0 -6l1 -6l1 -5l2 -5l2 -5l3 -3l3 -5l3 -5l2 -6l1 -6l2 -6" stroke-width="2.9" stroke-opacity="0.95"/>
<path d="M1775 1575l0 5l2 7l1 5l0 6l1 4l2 5l0 5l2 5l2 5l1 5l1 6l1 6l1 5l2 6l1 6" stroke-width="3.4" stroke-opacity="0.95"/>
<path d="M1804 1660l4 4l5 4l3 3l5 5l5 2l4 2l6 2l5 2l5 4l5 3l5 3" stroke-width="3.3" stroke-opacity="0.95"/>
<path d="M1750 1494l-1 6l-3 5l-1 7l-2 5l-2 4l-4 6l-3 3l-2 5l-3 5l-3 5l-4 5l-2 5l-3 5l-2 4l-5 5l-3 3l-4 4l-3 5l-1 5l-3 5l-1 4l-2 6l-2 5l-1 6l-2 3l-2 6" stroke-width="3.2" stroke-opacity="0.95"/>
<path d="M1731 1581l8 1l8 1l8 1l7 -1l9 3l6 3l6 6l6 4l7 6l7 2" stroke-width="2.2" stroke-opacity="0.7"/>
<path d="M1730 1450l1 8l-1 8l-1 8l2 7l-2 9l0 8l1 7" stroke-width="2.2" stroke-opacity="0.7"/>
<path d="M1802 1635l0 9l-1 7l-1 8l2 8l2 7l3 8l4 7" stroke-width="2.2" stroke-opacity="0.7"/>
<path d="M1865 1511l-5 7l-3 7l-5 7l-2 7l-4 8l-4 6l-4 6l-3 8l-2 8l-2 7" stroke-width="2.2" stroke-opacity="0.7"/>
<path d="M1877 1571l-1 -8l0 -8l0 -8l2 -8l-1 -8l-1 -8l0 -8l0 -8l-1 -8l-1 -8l1 -9l1 -7" stroke-width="2.2" stroke-opacity="0.7"/>
<path d="M1718 1533l-1 -7l0 -9l-2 -9l1 -7l1 -8l5 -7l2 -8l3 -6" stroke-width="2.2" stroke-opacity="0.7"/>
<path d="M1734 1663l-9 0l-8 1l-6 0l-9 -2l-8 0l-9 -2l-7 -3" stroke-width="2.2" stroke-opacity="0.7"/>
<path d="M1745 1476l8 2l7 1l8 4l5 6l6 7l4 5l3 8l5 6l5 6l8 4l8 1" stroke-width="2.2" stroke-opacity="0.7"/>
<path d="M1761 1569l-2 -7l-1 -8l0 -8l-2 -8l-1 -7l-3 -8l-4 -7l-4 -8l-3 -7l-1 -8l0 -8l1 -8l0 -8" stroke-width="2.2" stroke-opacity="0.7"/>
<path d="M1796 1511l-3 7l-4 7l-1 8l-2 8l-3 8l-3 7l-4 7l-4 7l-3 7l-6 7l-4 5l-7 6" stroke-width="2.2" stroke-opacity="0.7"/>
<path d="M1788 1536l-1 -8l-1 -7l-3 -9l-2 -7l-1 -7" stroke-width="2.2" stroke-opacity="0.7"/>
<path d="M1737 1546l0 7l1 9l3 7l3 7l5 6l4 8l4 7l6 5" stroke-width="2.2" stroke-opacity="0.7"/>
<path d="M1838 1568l5 -7l5 -6l5 -6l5 -5l7 -6l7 -4l3 -6l4 -8l4 -7" stroke-width="2.2" stroke-opacity="0.7"/>
<path d="M1833 1596l5 7l3 7l2 8l-2 8l0 8" stroke-width="2.2" stroke-opacity="0.7"/>
<path d="M1834 1621l-1 7l1 9l-4 7l-1 9l-2 7l-4 6l-3 9l-4 7" stroke-width="2.2" stroke-opacity="0.7"/>
<path d="M1657 1541l2 8l0 7l2 10l3 5l2 8l5 7l4 7l4 8l5 6l4 6l2 8l1 8l2 8" stroke-width="2.2" stroke-opacity="0.7"/>
<path d="M1683 1590l-6 6l-5 7l-3 6l-6 6l-6 5l-5 7l-5 6l-6 5" stroke-width="2.2" stroke-opacity="0.7"/>
<path d="M1864 1585l0 7l0 8l-3 8l-3 8l-2 8l-1 8" stroke-width="2.2" stroke-opacity="0.7"/>
<path d="M1757 1566l5 5l8 5l5 6l8 3l5 6l7 5l6 4l6 4l7 5l6 6l6 5l3 7" stroke-width="2.2" stroke-opacity="0.7"/>
<path d="M1694 1516l2 8l4 7l2 7l5 7l7 5l4 7l5 5l6 6l5 6" stroke-width="2.2" stroke-opacity="0.7"/>
<path d="M1681 1569l2 9l2 6l2 8l0 9l-1 7l1 8" stroke-width="2.2" stroke-opacity="0.7"/>
<path d="M1861 1602l-1 7l-4 7l-2 8l-4 8l-1 8l-4 7" stroke-width="2.2" stroke-opacity="0.7"/>
<path d="M1788 1563l-2 8l-4 6l-3 7l-1 9l0 8l-3 7l-3 8l-4 7l-5 7l-5 6l-4 6l-4 7" stroke-width="2.2" stroke-opacity="0.7"/>
<path d="M1677 1618l2 -7l3 -9l0 -7l1 -9l-1 -8l-1 -7l-1 -8l-2 -7l-3 -8l-5 -7l-6 -6" stroke-width="2.2" stroke-opacity="0.7"/>
<path d="M1784 1554l-3 -8l0 -8l-2 -8l-4 -7l-1 -7l-1 -9l-1 -7l0 -8" stroke-width="2.2" stroke-opacity="0.7"/>
<path d="M1731 1484l6 -6l6 -5l7 -3l7 -5l7 -4l6 -4l5 -7" stroke-width="2.2" stroke-opacity="0.7"/>
<path d="M1750 1569l5 -7l5 -4l7 -6l7 -4l6 -5l6 -3l6 -6l5 -8l5 -6l3 -6l4 -7l5 -7" stroke-width="2.2" stroke-opacity="0.7"/>
<path d="M1700 1556l8 2l8 1l7 1l8 -2l9 -2l7 0l8 -2l8 -3l8 -2l8 -1" stroke-width="2.2" stroke-opacity="0.7"/>
<path d="M1759 1532l3 -7l2 -8l3 -8l-1 -7l2 -9l-1 -7l-3 -9l-4 -6l-4 -7l-3 -7l-1 -9l-5 -6l-7 -5" stroke-width="2.2" stroke-opacity="0.7"/>
<path d="M1773 1474l7 -3l6 -6l7 -2l7 -4l7 -5l8 -2l5 -5l8 -4l6 -6l6 -5l7 -4l4 -6l3 -8" stroke-width="2.2" stroke-opacity="0.7"/>
<path d="M1768 1580l4 7l0 8l3 8l5 6l3 8l2 8l0 7l2 8l1 8" stroke-width="2.2" stroke-opacity="0.7"/>
<path d="M1796 1563l7 3l8 3l8 4l7 3l6 3l7 5l8 4l5 5l6 6l4 8" stroke-width="2.2" stroke-opacity="0.7"/>
<path d="M1820 1617l-5 -7l-3 -7l-4 -5l-5 -8l-5 -6l-6 -6l-6 -4l-7 -3l-7 -5l-5 -7l-5 -5l-6 -7l-6 -5" stroke-width="2.2" stroke-opacity="0.7"/>
<path d="M1886 1530l3 7l7 7l4 7l6 4l4 7l5 6l4 8l6 6l7 4l6 4l7 4l6 5" stroke-width="2.2" stroke-opacity="0.7"/>
<path d="M1754 1588l-7 0l-9 0l-7 3l-9 2l-7 3l-7 2l-8 0l-8 1l-8 2l-8 1l-7 4l-9 2" stroke-width="2.2" stroke-opacity="0.7"/>
<path d="M1781 1565l-3 -7l-6 -7l-3 -6l-2 -9l-1 -8l-3 -7" stroke-width="2.2" stroke-opacity="0.7"/>
<path d="M1841 1576l-7 4l-6 6l-4 7l-2 7l-1 8l0 9l1 7l1 8" stroke-width="2.2" stroke-opacity="0.7"/>
<path d="M1724 1520l-7 4l-5 7l-3 8l-3 6l0 9l1 7l0 8l1 8l0 9l-3 8l-3 7l-2 7" stroke-width="2.2" stroke-opacity="0.7"/>
<path d="M1814 1492l-7 4l-8 4l-6 3l-8 4l-6 3l-6 7l-6 3l-7 5" stroke-width="2.2" stroke-opacity="0.7"/>
<path d="M1741 1525l8 -1l8 -1l8 -3l8 -4l7 -2l7 -2" stroke-width="2.2" stroke-opacity="0.7"/>
<path d="M1768 1549l8 -2l7 -2l8 -1l8 -2l8 -3" stroke-width="3.4" stroke-opacity="1"/>
<path d="M1768 1549l7 4l8 2l8 2l7 4l7 4l7 2l8 4l7 3l8 2" stroke-width="3.4" stroke-opacity="1"/>
<path d="M1768 1549l5 7l5 6l6 5l6 5l5 7l4 7l3 7l3 7" stroke-width="3.4" stroke-opacity="1"/>
<path d="M1768 1549l0 8l1 8l-2 8l0 8l-2 8l-2 8" stroke-width="3.4" stroke-opacity="1"/>
<path d="M1768 1549l-2 8l-3 7l-3 8l-3 7l-1 8l-2 8l0 8" stroke-width="3.4" stroke-opacity="1"/>
<path d="M1768 1549l-5 7l-4 6l-5 7l-6 5l-5 6" stroke-width="3.4" stroke-opacity="1"/>
<path d="M1768 1549l-7 4l-7 3l-8 2l-8 1l-8 2l-7 4l-7 4" stroke-width="3.4" stroke-opacity="1"/>
<path d="M1768 1549l-8 0l-8 -1l-8 1l-8 -1l-8 2" stroke-width="3.4" stroke-opacity="1"/>
<path d="M1768 1549l-6 -5l-6 -5l-7 -4l-7 -4l-7 -3l-7 -4l-7 -5l-7 -4l-7 -3" stroke-width="3.4" stroke-opacity="1"/>
<path d="M1768 1549l-6 -4l-7 -4l-7 -4l-7 -5" stroke-width="3.4" stroke-opacity="1"/>
<path d="M1768 1549l-2 -7l-1 -8l-1 -8l-2 -8l-3 -7" stroke-width="3.4" stroke-opacity="1"/>
<path d="M1768 1549l3 -7l2 -8l4 -7" stroke-width="3.4" stroke-opacity="1"/>
<path d="M1768 1549l6 -5l7 -4l7 -4l8 -2l7 -4l7 -4l7 -4" stroke-width="3.4" stroke-opacity="1"/>
<path d="M1768 1549l8 -2l7 -3l7 -4l7 -3l8 -3l8 -1" stroke-width="3.4" stroke-opacity="1"/>
</g>
<g fill="#fff" filter="url(#b1)">
<ellipse cx="1707" cy="1420" rx="1.3" ry="1.4" fill-opacity="0.35"/>
<ellipse cx="1614" cy="1447" rx="1.6" ry="1.5" fill-opacity="0.98"/>
<ellipse cx="1903" cy="1596" rx="3.0" ry="3.3" fill-opacity="0.87"/>
<ellipse cx="1744" cy="1607" rx="1.6" ry="1.2" fill-opacity="0.59"/>
<ellipse cx="1813" cy="1607" rx="1.3" ry="1.6" fill-opacity="0.40"/>
<ellipse cx="1800" cy="1343" rx="1.3" ry="1.2" fill-opacity="0.83"/>
<ellipse cx="1671" cy="1750" rx="1.3" ry="1.3" fill-opacity="0.45"/>
<ellipse cx="1931" cy="1343" rx="1.3" ry="1.5" fill-opacity="0.58"/>
<ellipse cx="1721" cy="1776" rx="3.0" ry="2.2" fill-opacity="0.40"/>
<ellipse cx="1745" cy="1365" rx="2.0" ry="2.2" fill-opacity="0.53"/>
<ellipse cx="1675" cy="1754" rx="2.0" ry="2.3" fill-opacity="0.55"/>
<ellipse cx="1795" cy="1757" rx="1.3" ry="1.1" fill-opacity="0.70"/>
<ellipse cx="1715" cy="1359" rx="2.0" ry="2.4" fill-opacity="0.50"/>
<ellipse cx="1956" cy="1587" rx="2.4" ry="2.2" fill-opacity="0.54"/>
<ellipse cx="1928" cy="1540" rx="1.3" ry="1.7" fill-opacity="0.93"/>
<ellipse cx="1823" cy="1361" rx="2.4" ry="2.1" fill-opacity="0.51"/>
<ellipse cx="1961" cy="1593" rx="2.4" ry="2.9" fill-opacity="0.97"/>
<ellipse cx="1824" cy="1591" rx="1.3" ry="1.1" fill-opacity="0.62"/>
<ellipse cx="1563" cy="1543" rx="1.6" ry="2.0" fill-opacity="0.58"/>
<ellipse cx="1640" cy="1352" rx="2.4" ry="1.8" fill-opacity="0.76"/>
<ellipse cx="1549" cy="1623" rx="1.3" ry="1.3" fill-opacity="0.78"/>
<ellipse cx="1940" cy="1480" rx="1.6" ry="1.4" fill-opacity="0.80"/>
<ellipse cx="1819" cy="1754" rx="3.0" ry="2.7" fill-opacity="0.81"/>
<ellipse cx="1566" cy="1641" rx="2.4" ry="2.3" fill-opacity="0.36"/>
<ellipse cx="1603" cy="1771" rx="1.6" ry="1.7" fill-opacity="0.91"/>
<ellipse cx="1660" cy="1589" rx="3.0" ry="2.1" fill-opacity="0.79"/>
<ellipse cx="1870" cy="1704" rx="3.0" ry="2.4" fill-opacity="0.53"/>
<ellipse cx="1703" cy="1502" rx="1.6" ry="2.0" fill-opacity="0.53"/>
<ellipse cx="1910" cy="1786" rx="1.6" ry="1.9" fill-opacity="0.60"/>
<ellipse cx="1643" cy="1399" rx="2.4" ry="2.0" fill-opacity="0.62"/>
<ellipse cx="1920" cy="1778" rx="1.3" ry="1.4" fill-opacity="0.36"/>
<ellipse cx="1929" cy="1747" rx="2.4" ry="2.2" fill-opacity="0.61"/>
<ellipse cx="1564" cy="1356" rx="2.0" ry="2.4" fill-opacity="0.94"/>
<ellipse cx="1590" cy="1381" rx="1.6" ry="1.3" fill-opacity="0.57"/>
<ellipse cx="1895" cy="1699" rx="1.6" ry="1.4" fill-opacity="0.93"/>
<ellipse cx="1636" cy="1557" rx="3.0" ry="3.8" fill-opacity="0.80"/>
<ellipse cx="1862" cy="1322" rx="1.3" ry="1.1" fill-opacity="0.81"/>
<ellipse cx="1791" cy="1483" rx="2.0" ry="1.8" fill-opacity="0.96"/>
<ellipse cx="1737" cy="1685" rx="1.3" ry="1.2" fill-opacity="0.66"/>
<ellipse cx="1622" cy="1481" rx="2.0" ry="2.6" fill-opacity="0.77"/>
<ellipse cx="1555" cy="1598" rx="2.4" ry="2.3" fill-opacity="0.37"/>
<ellipse cx="1527" cy="1500" rx="2.0" ry="1.5" fill-opacity="0.98"/>
<ellipse cx="1749" cy="1753" rx="1.6" ry="1.9" fill-opacity="0.52"/>
<ellipse cx="1672" cy="1580" rx="2.4" ry="1.8" fill-opacity="0.95"/>
<ellipse cx="1676" cy="1327" rx="2.0" ry="2.0" fill-opacity="0.52"/>
<ellipse cx="1886" cy="1519" rx="2.0" ry="1.5" fill-opacity="0.94"/>
<ellipse cx="1661" cy="1480" rx="2.4" ry="2.2" fill-opacity="0.46"/>
<ellipse cx="1886" cy="1616" rx="1.6" ry="1.3" fill-opacity="0.84"/>
<ellipse cx="1830" cy="1502" rx="1.6" ry="1.7" fill-opacity="0.95"/>
<ellipse cx="1588" cy="1601" rx="2.4" ry="2.6" fill-opacity="0.41"/>
<ellipse cx="1915" cy="1631" rx="3.0" ry="2.3" fill-opacity="0.88"/>
<ellipse cx="1882" cy="1571" rx="1.3" ry="1.6" fill-opacity="0.56"/>
<ellipse cx="1867" cy="1443" rx="1.6" ry="1.4" fill-opacity="0.95"/>
<ellipse cx="1758" cy="1537" rx="2.4" ry="2.8" fill-opacity="0.73"/>
<ellipse cx="1795" cy="1629" rx="1.3" ry="1.0" fill-opacity="0.86"/>
<ellipse cx="1657" cy="1319" rx="1.6" ry="1.4" fill-opacity="0.60"/>
<ellipse cx="1549" cy="1772" rx="3.0" ry="2.4" fill-opacity="0.49"/>
<ellipse cx="1778" cy="1591" rx="2.0" ry="1.5" fill-opacity="0.43"/>
<ellipse cx="1992" cy="1645" rx="1.6" ry="1.4" fill-opacity="0.78"/>
<ellipse cx="1536" cy="1483" rx="1.6" ry="1.7" fill-opacity="0.71"/>
<ellipse cx="1544" cy="1673" rx="1.6" ry="1.3" fill-opacity="0.39"/>
<ellipse cx="1953" cy="1542" rx="3.0" ry="3.2" fill-opacity="0.79"/>
<ellipse cx="1898" cy="1501" rx="2.4" ry="2.3" fill-opacity="0.96"/>
<ellipse cx="1571" cy="1603" rx="3.0" ry="3.6" fill-opacity="0.81"/>
<ellipse cx="1577" cy="1318" rx="3.0" ry="2.7" fill-opacity="0.60"/>
<ellipse cx="1793" cy="1547" rx="3.0" ry="3.5" fill-opacity="0.56"/>
<ellipse cx="1771" cy="1705" rx="1.6" ry="1.6" fill-opacity="0.73"/>
<ellipse cx="1955" cy="1736" rx="2.4" ry="2.7" fill-opacity="0.55"/>
<ellipse cx="1661" cy="1759" rx="1.3" ry="1.4" fill-opacity="0.55"/>
<ellipse cx="1975" cy="1642" rx="1.6" ry="1.1" fill-opacity="0.98"/>
<ellipse cx="1938" cy="1612" rx="2.4" ry="2.0" fill-opacity="0.80"/>
<ellipse cx="1722" cy="1413" rx="2.0" ry="1.9" fill-opacity="0.86"/>
<ellipse cx="1764" cy="1736" rx="1.6" ry="1.4" fill-opacity="0.40"/>
<ellipse cx="1920" cy="1702" rx="2.4" ry="2.4" fill-opacity="0.48"/>
<ellipse cx="1539" cy="1486" rx="3.0" ry="3.7" fill-opacity="0.84"/>
<ellipse cx="1923" cy="1610" rx="2.4" ry="2.1" fill-opacity="0.42"/>
<ellipse cx="1736" cy="1466" rx="2.0" ry="2.0" fill-opacity="0.46"/>
<ellipse cx="1784" cy="1339" rx="2.0" ry="1.5" fill-opacity="0.93"/>
<ellipse cx="1927" cy="1720" rx="3.0" ry="2.5" fill-opacity="0.82"/>
<ellipse cx="1884" cy="1417" rx="2.4" ry="1.7" fill-opacity="0.39"/>
<ellipse cx="1968" cy="1769" rx="2.4" ry="2.0" fill-opacity="0.69"/>
<ellipse cx="1910" cy="1417" rx="1.3" ry="1.1" fill-opacity="0.62"/>
<ellipse cx="1713" cy="1469" rx="3.0" ry="2.8" fill-opacity="0.39"/>
<ellipse cx="1798" cy="1710" rx="1.3" ry="0.9" fill-opacity="0.72"/>
<ellipse cx="1589" cy="1517" rx="1.3" ry="1.5" fill-opacity="0.91"/>
<ellipse cx="1857" cy="1555" rx="2.4" ry="2.0" fill-opacity="0.82"/>
<ellipse cx="1978" cy="1726" rx="1.3" ry="1.3" fill-opacity="0.82"/>
<ellipse cx="1839" cy="1409" rx="1.3" ry="1.3" fill-opacity="0.84"/>
<ellipse cx="1789" cy="1602" rx="2.4" ry="1.8" fill-opacity="0.54"/>
<ellipse cx="1765" cy="1380" rx="1.3" ry="1.1" fill-opacity="0.65"/>
<ellipse cx="1836" cy="1457" rx="2.0" ry="2.5" fill-opacity="0.68"/>
<ellipse cx="1554" cy="1438" rx="1.3" ry="1.4" fill-opacity="0.88"/>
<ellipse cx="1970" cy="1719" rx="3.0" ry="3.9" fill-opacity="0.97"/>
<ellipse cx="1920" cy="1681" rx="1.6" ry="1.3" fill-opacity="0.74"/>
<ellipse cx="1777" cy="1445" rx="1.6" ry="2.0" fill-opacity="0.92"/>
<ellipse cx="1936" cy="1689" rx="3.0" ry="2.7" fill-opacity="0.81"/>
<ellipse cx="1630" cy="1663" rx="2.0" ry="2.2" fill-opacity="0.55"/>
<ellipse cx="1852" cy="1376" rx="2.4" ry="3.1" fill-opacity="0.70"/>
<ellipse cx="1848" cy="1693" rx="3.0" ry="2.3" fill-opacity="0.55"/>
<ellipse cx="1553" cy="1570" rx="1.6" ry="1.5" fill-opacity="0.92"/>
<ellipse cx="1720" cy="1409" rx="2.0" ry="2.1" fill-opacity="0.74"/>
<ellipse cx="1613" cy="1383" rx="3.0" ry="3.0" fill-opacity="0.47"/>
<ellipse cx="1729" cy="1514" rx="1.3" ry="1.1" fill-opacity="0.55"/>
<ellipse cx="1993" cy="1545" rx="1.6" ry="1.7" fill-opacity="0.56"/>
<ellipse cx="1955" cy="1361" rx="1.6" ry="1.6" fill-opacity="0.79"/>
<ellipse cx="1760" cy="1688" rx="1.3" ry="1.5" fill-opacity="0.64"/>
<ellipse cx="1788" cy="1318" rx="1.3" ry="1.3" fill-opacity="0.78"/>
<ellipse cx="1984" cy="1565" rx="3.0" ry="3.7" fill-opacity="0.42"/>
<ellipse cx="1658" cy="1508" rx="3.0" ry="2.5" fill-opacity="0.44"/>
<ellipse cx="1679" cy="1495" rx="1.3" ry="1.0" fill-opacity="0.82"/>
<ellipse cx="1706" cy="1662" rx="1.3" ry="1.4" fill-opacity="0.43"/>
<ellipse cx="1775" cy="1651" rx="3.0" ry="3.3" fill-opacity="0.78"/>
<ellipse cx="1937" cy="1328" rx="2.4" ry="2.1" fill-opacity="0.46"/>
<ellipse cx="1588" cy="1517" rx="2.0" ry="2.1" fill-opacity="0.87"/>
<ellipse cx="1989" cy="1612" rx="2.4" ry="1.9" fill-opacity="0.49"/>
<ellipse cx="1545" cy="1329" rx="1.3" ry="1.2" fill-opacity="0.70"/>
<ellipse cx="1803" cy="1336" rx="1.6" ry="1.8" fill-opacity="0.36"/>
<ellipse cx="1891" cy="1752" rx="2.0" ry="1.6" fill-opacity="0.92"/>
<ellipse cx="1981" cy="1623" rx="3.0" ry="2.8" fill-opacity="0.43"/>
<ellipse cx="1695" cy="1342" rx="2.0" ry="1.9" fill-opacity="0.55"/>
<ellipse cx="1997" cy="1390" rx="2.0" ry="2.1" fill-opacity="0.53"/>
<ellipse cx="1880" cy="1777" rx="2.4" ry="1.9" fill-opacity="0.78"/>
<ellipse cx="1633" cy="1348" rx="1.6" ry="1.9" fill-opacity="0.76"/>
<ellipse cx="1754" cy="1773" rx="1.3" ry="1.1" fill-opacity="0.93"/>
<ellipse cx="1712" cy="1773" rx="3.0" ry="2.2" fill-opacity="0.89"/>
<ellipse cx="1943" cy="1626" rx="1.6" ry="1.4" fill-opacity="0.90"/>
<ellipse cx="1987" cy="1728" rx="1.3" ry="1.1" fill-opacity="0.81"/>
<ellipse cx="1660" cy="1550" rx="1.6" ry="1.7" fill-opacity="0.52"/>
<ellipse cx="1799" cy="1396" rx="1.6" ry="1.2" fill-opacity="0.81"/>
<ellipse cx="1980" cy="1626" rx="1.3" ry="1.4" fill-opacity="0.55"/>
</g>
<g filter="url(#b2)" fill="#fff"><ellipse cx="1768.2" cy="1549.3" rx="15.5" ry="14.5"/><path d="M1775.4 1557.0L1790.4 1528.6L1761.0 1541.6Z"/></g>
<g fill="#fff"><ellipse cx="1768.2" cy="1549.3" rx="13.0" ry="12.0"/><path d="M1773.9 1555.4L1787.1 1531.7L1762.5 1543.2Z"/></g>
<g filter="url(#b2)" fill="#fff"><ellipse cx="1768.2" cy="1549.3" rx="14.5" ry="13.5"/><path d="M1763.2 1540.9L1749.0 1560.8L1773.2 1557.7Z"/></g>
<g fill="#fff"><ellipse cx="1768.2" cy="1549.3" rx="12.0" ry="11.0"/><path d="M1764.2 1542.6L1751.9 1559.1L1772.2 1556.0Z"/></g>
<g filter="url(#b2)" fill="#fff"><ellipse cx="1713.9" cy="1321.3" rx="11.0" ry="10.0"/><path d="M1708.1 1317.1L1704.8 1333.8L1719.7 1325.5Z"/></g>
<g fill="#fff"><ellipse cx="1713.9" cy="1321.3" rx="8.5" ry="7.5"/><path d="M1709.3 1317.9L1706.2 1331.9L1718.5 1324.7Z"/></g>
<g filter="url(#b2)" fill="#fff"><ellipse cx="1843.5" cy="1407.9" rx="10.5" ry="9.5"/><path d="M1840.0 1402.1L1830.9 1415.5L1847.0 1413.7Z"/></g>
<g fill="#fff"><ellipse cx="1843.5" cy="1407.9" rx="8.0" ry="7.0"/><path d="M1840.7 1403.3L1832.8 1414.3L1846.3 1412.5Z"/></g>
<g filter="url(#b2)" fill="#fff"><ellipse cx="1948.7" cy="1551.9" rx="11.0" ry="10.0"/><path d="M1942.0 1549.6L1943.7 1566.6L1955.4 1554.2Z"/></g>
<g fill="#fff"><ellipse cx="1948.7" cy="1551.9" rx="8.5" ry="7.5"/><path d="M1943.3 1550.1L1944.4 1564.4L1954.1 1553.7Z"/></g>
<g filter="url(#b2)" fill="#fff"><ellipse cx="1542.6" cy="1576.3" rx="10.5" ry="9.5"/><path d="M1547.4 1581.0L1552.8 1565.8L1537.8 1571.6Z"/></g>
<g fill="#fff"><ellipse cx="1542.6" cy="1576.3" rx="8.0" ry="7.0"/><path d="M1546.5 1580.1L1551.3 1567.4L1538.7 1572.5Z"/></g>
<g filter="url(#b2)" fill="#fff"><ellipse cx="1847.9" cy="1632.3" rx="11.0" ry="10.0"/><path d="M1851.1 1625.9L1834.0 1625.4L1844.7 1638.7Z"/></g>
<g fill="#fff"><ellipse cx="1847.9" cy="1632.3" rx="8.5" ry="7.5"/><path d="M1850.4 1627.2L1836.1 1626.5L1845.4 1637.4Z"/></g>
<g filter="url(#b2)" fill="#fff"><ellipse cx="1842.2" cy="1791.8" rx="11.0" ry="10.0"/><path d="M1847.6 1787.1L1832.1 1780.1L1836.8 1796.5Z"/></g>
<g fill="#fff"><ellipse cx="1842.2" cy="1791.8" rx="8.5" ry="7.5"/><path d="M1846.5 1788.1L1833.6 1781.8L1837.9 1795.5Z"/></g>
<g filter="url(#b2)" fill="#fff"><ellipse cx="1522.2" cy="1644.3" rx="6.5" ry="5.5"/><path d="M1522.2 1648.0L1530.4 1644.3L1522.2 1640.5Z"/></g>
<g fill="#fff"><ellipse cx="1522.2" cy="1644.3" rx="4.0" ry="3.0"/><path d="M1522.2 1647.3L1529.1 1644.3L1522.2 1641.3Z"/></g>
<g fill="none" stroke="#6DCFF6" stroke-width="1.25" stroke-linejoin="round">
<path d="M1851.2 1327.2l-3.2 4.4l-3.1 4.4l-3.6 4.0l-4.7 3.2l-2.6 4.1l0.0 7.5l-1.5 6.9l-1.6 4.0l-3.0 4.8l-2.2 5.2l-3.3 4.0l-1.4 5.1l-2.6 6.5l-1.2 4.4l-2.1 5.7l-2.7 6.4l-3.6 3.4l-4.8 5.4l-3.4 2.8l-2.3 5.2l-4.7 3.4l-2.1 6.6l-1.4 5.2l-2.4 6.3l-1.3 4.9l-0.1 6.1l-0.1 4.1l-1.2 5.7l2.4 3.9l2.2 4.4l3.0 5.5l2.1 4.7l3.2 3.9l2.9 4.9l3.5 4.3l2.0 4.3l3.5 3.6l2.6 5.1l4.3 3.2l3.0 5.5l2.2 3.9l4.0 3.7l3.7 3.9l3.5 2.0l4.6 4.6l4.4 2.5l4.8 2.4l5.4 3.7l3.6 1.8l4.9 3.6l3.8 2.9l5.4 2.4l4.6 3.5l2.8 3.1l4.2 1.7l5.0 4.0l3.6 2.9l4.5 1.7l4.1 3.3l3.1 3.4l3.0 4.0l4.6 5.5l2.5 2.4l4.0 4.8l5.2 4.4l3.3 3.8l4.7 5.4l4.1 3.7l5.2 3.2l4.6 4.3l6.1 2.6 M1913.2 1392.8l-4.2 4.5l-1.9 3.7l-3.6 5.9l-3.5 4.1l-4.3 3.8l-2.7 4.5l-2.8 5.7l-1.9 4.3l-0.9 5.8l-3.0 4.4l-1.3 5.0l-3.1 5.5l-2.2 4.3l-2.1 5.4l-0.5 5.1l-0.4 7.3l0.7 5.1l-1.2 5.5l-0.3 5.5l-1.0 5.6l0.9 6.9l-1.0 5.6l-0.1 5.2l-0.5 6.1l-1.3 5.9l-1.6 5.7l-0.9 5.4l-0.4 7.1l0.4 7.3 M1605.0 1444.7l5.7 1.3l4.3 1.5l5.8 0.3l4.0 0.9l6.1 0.9l5.3 0.7l6.2 0.7l6.1 0.3l5.2 0.2l6.0 0.1l6.2 0.7l5.1 0.2l6.7 -0.1l5.9 0.6l4.9 -0.6l5.8 0.1l5.1 0.3l7.2 -0.9l5.3 0.2l5.8 -1.2l5.9 0.5l5.2 -0.4l5.7 0.9l5.3 1.7l5.3 0.9l4.3 0.0l6.1 1.9l4.9 1.1l5.9 0.7l5.6 0.4l5.0 1.6l4.6 1.1l5.8 1.3l5.2 1.0l5.8 1.8l5.4 1.5l6.0 1.6l5.1 2.0l5.3 0.5l6.3 1.5l6.1 1.6l4.1 2.5l5.3 0.5l5.2 2.0l4.7 2.4l4.9 3.0l4.6 1.1l5.4 2.2l4.8 2.8l4.0 1.5l5.2 3.2l5.4 3.1l4.0 1.6l5.2 1.4l5.4 1.0l3.5 2.6l5.9 0.9l4.9 3.0l4.5 0.8l5.2 1.8 M1613.6 1472.1l5.3 -1.7l7.1 -1.2l5.7 -0.3l5.0 -2.0l5.9 0.0l6.5 0.9l4.7 0.2l6.8 0.8l4.5 0.4l6.1 0.6l4.6 -0.1l5.9 -0.8l5.9 0.7l3.9 -0.8l5.7 0.5l5.7 -1.0l6.3 0.0l4.8 0.3l7.1 0.8l5.0 0.8l5.9 0.7l5.5 0.3l5.8 -1.2l5.3 -0.2l5.0 -0.4l4.9 -0.1l5.7 -0.8l5.8 -0.1l4.9 -0.7l4.9 -0.9l6.6 0.8l6.5 -1.2l4.2 0.0l6.6 -1.0l5.6 -1.0l6.3 -1.0l5.4 -0.7l5.6 -2.1l5.9 -0.9 M1668.3 1442.4l5.7 0.9l4.1 2.6l4.6 1.4l5.8 0.8l6.1 1.4l5.0 2.0l6.9 0.3l5.1 2.1l5.7 0.5l5.8 -0.1l5.1 0.8l6.4 0.2l6.3 -0.2l4.7 2.0l6.8 0.3l4.4 0.7l6.6 0.1 M1710.1 1423.7l7.1 2.3l5.8 -0.3l5.8 2.3l5.4 1.4l4.5 3.2l4.5 1.1l5.5 0.1l4.2 2.1l4.8 0.2l5.7 0.5 M1747.6 1409.8l5.1 1.6l5.6 2.0l5.1 3.1l5.1 0.5l5.6 0.1l6.7 2.0l5.6 0.2l6.2 -2.2l4.7 -1.3l5.7 -1.3l6.1 -1.8l4.7 -1.4 M1744.7 1424.2l4.5 -2.0l5.4 -2.5l5.9 -2.7l5.3 2.6l5.4 1.3l4.7 1.7l5.3 2.2l5.7 0.7l5.3 2.5l4.8 1.4l6.2 1.4l5.2 2.5l4.2 1.7l5.3 0.7l6.0 2.4l5.3 -0.8l5.7 0.2l4.2 0.2l4.7 -0.4l6.0 -0.7l5.0 0.8l7.3 2.4l4.5 0.5l7.1 2.4l4.9 1.1 M1625.1 1491.9l5.7 -0.4l4.7 0.6l4.3 0.2l5.5 0.5l5.4 0.3l4.8 0.2l6.0 1.5l5.1 0.2l4.6 0.7l6.4 2.2l5.3 2.2l6.0 1.9l5.4 2.3l4.3 2.1l5.2 2.8l6.3 3.7l4.3 2.9l5.8 -0.9l4.7 1.6l5.6 -0.8l5.0 -0.6l4.7 0.1l5.9 0.6 M1602.1 1501.4l4.4 2.4l5.5 2.2l3.5 2.8l4.4 2.6l5.2 3.0l5.3 0.2l5.4 1.1l6.4 0.3l6.3 -0.1l5.4 -0.1l5.8 0.7l5.1 -0.7l6.1 -0.1l6.5 -1.0l4.8 -0.4l6.3 0.7l5.3 -0.4l6.1 1.9l5.6 -0.8l6.0 0.3l5.8 0.7l6.2 0.1l4.7 -1.1l6.7 0.9l5.7 -1.2l6.4 -1.0l4.9 0.6 M1646.7 1505.8l4.1 3.5l5.4 1.8l4.9 3.9l-0.6 6.5l-0.8 4.4l-1.4 5.1l0.0 6.4l0.2 5.8l-0.4 5.0l-1.3 6.5l3.9 2.8l4.6 3.6l4.0 4.2l4.8 3.8 M1600.7 1536.6l5.7 -0.6l5.7 1.9l6.3 -0.7l6.7 0.2l4.7 1.5l4.2 1.1l5.5 1.8l4.4 0.8l6.5 0.8l4.9 0.0l4.4 1.2l4.9 0.3l6.6 0.2l5.6 0.3l6.4 0.7l5.3 -0.6l5.1 -0.6l6.3 -0.8l4.1 -0.3l5.4 0.3l6.7 -1.3l4.1 -0.9l5.7 -0.4l5.8 0.3 M1586.3 1558.2l4.7 -1.7l4.6 -2.8l5.7 -1.9l4.0 -1.4l5.4 -1.4l5.0 -1.8l5.3 -0.7l5.8 -0.6l5.4 -0.8l4.5 -1.3l5.5 0.7l4.4 1.0l5.5 0.8l4.7 -0.2 M1590.6 1559.0l5.6 1.3l4.3 1.0l5.4 -0.3l4.6 0.9l6.0 1.5l4.6 3.2l5.1 1.7l5.9 3.8l4.6 2.8l3.7 2.3l4.8 3.8l5.9 4.2l4.2 1.9l4.4 3.6l4.5 2.4l4.4 1.9l5.1 4.1l4.9 1.3l4.2 3.3l5.0 2.3l5.4 3.3l5.5 3.5l4.2 2.4 M1606.4 1583.5l4.0 -3.9l6.1 -3.4l3.8 -3.6l4.8 -3.5l5.6 -2.1l4.6 -2.8l5.1 -4.4l4.9 -2.2l4.4 -4.0l2.5 -2.8l4.6 -4.7 M1734.6 1430.9l-0.1 5.9l1.5 6.3l0.6 4.5l0.9 6.3l-0.1 5.2l0.8 6.1l0.6 5.5l-0.4 5.8l0.5 6.2l0.6 6.4l-0.5 5.3l-1.1 4.9l0.5 6.4l-0.9 5.8l-1.1 5.2l-0.2 6.7l1.1 4.9l-0.4 5.9l-0.9 6.1l0.7 6.4l0.1 5.7l-0.1 4.3l0.5 6.8l0.3 5.6l-0.3 5.6l0.5 5.1l0.3 6.4l0.6 6.3l0.3 5.4l1.0 6.6l1.9 5.7l0.9 5.3l0.9 6.0l1.1 5.2l0.0 5.9l0.9 5.7l-0.4 4.9l-0.1 6.3l1.0 6.0l2.3 6.2l2.4 5.0l2.6 5.7l1.4 6.2 M1754.8 1678.6l-0.8 5.0l-1.1 6.8l-0.8 6.2l-1.6 5.6l-1.5 5.2l-1.2 5.1l-2.6 4.8l-0.4 4.4l-1.5 5.5l-2.7 4.0l-1.7 5.2l-1.4 5.5l-2.2 6.5l-1.9 5.3l-3.1 5.5l-1.5 5.5l-0.7 7.1l-1.6 6.1 M1688.5 1534.0l1.1 4.9l1.0 4.9l-0.3 5.3l1.1 5.6l1.9 5.9l0.9 4.7l2.9 4.5l0.4 5.8l2.5 5.0l2.9 5.9l2.2 4.4l1.7 5.3l3.2 4.8l1.6 5.6l1.3 5.3l2.9 4.5l0.1 5.0l2.7 6.1l1.6 5.0l1.6 5.2l2.9 6.6l2.3 5.9l1.8 5.3l1.4 5.4l3.6 6.2l1.2 5.3l2.5 4.7 M1655.4 1597.9l5.8 0.3l4.7 -0.9l6.7 -0.9l4.2 -1.0l5.6 -0.6l6.1 0.2l5.1 0.0l5.7 -0.1l6.9 -0.2l5.9 -0.4l5.2 -0.7l6.5 0.0l5.3 -0.9l4.8 -2.4l5.7 -0.7l6.5 -0.3l5.5 0.8l6.4 1.3l4.6 0.3l6.6 0.8l5.7 1.1l4.6 2.3l5.8 2.3l5.4 2.7l6.1 0.6l5.0 3.3l4.8 1.8 M1638.1 1616.6l5.1 0.8l5.8 1.9l6.0 2.4l4.8 0.3l5.7 1.8l5.7 1.5l6.3 0.8l4.9 0.7l6.1 1.4l6.4 0.6l4.3 0.4l6.1 1.0l5.5 -0.1l6.5 0.9l5.0 -0.3l7.4 -0.2l4.7 0.5l5.2 -1.4l6.5 0.0l6.3 -1.5l5.7 0.1l4.4 -0.8l6.6 -0.3l5.8 -0.4l4.8 -2.2l4.3 0.2l5.2 -2.4l4.2 -1.7l6.3 -0.7l4.0 -1.8l5.1 -1.8l4.8 0.4l5.1 -1.3l5.9 -0.9l4.6 -2.1l4.8 -0.1 M1622.8 1646.3l4.8 -0.4l6.3 -0.8l6.4 -0.9l5.0 -1.6l4.6 -0.6l5.5 -1.6l3.7 -1.7l5.3 -1.0l5.8 -2.8l3.9 -1.0l5.6 -0.1l5.9 0.3l6.1 0.0l4.9 0.9l6.3 0.4l4.0 1.2l6.3 2.3l3.6 -0.1l5.9 3.2l4.4 -0.1l4.6 2.1l4.3 2.2l6.1 -0.2l3.4 2.2l5.0 2.0l5.0 1.5l5.0 0.9l4.8 0.4l6.9 0.7l3.8 -0.7l6.1 1.1 M1671.2 1635.4l-2.6 4.8l-3.4 5.2l-2.5 5.9l-3.0 4.2l-1.0 5.9l-0.6 5.7l0.3 5.0l-1.0 6.8l-0.6 5.4l-3.4 5.9l-1.8 4.9l-2.1 6.0l-2.8 4.8 M1690.0 1701.6l3.5 -3.5l4.3 -3.6l4.8 -4.1l4.3 -2.7l4.7 -3.4l4.8 -2.7l4.1 -4.1l5.3 -2.8l5.0 -3.3l3.8 -4.4l4.8 -3.4l6.3 -3.1l4.4 -1.7l5.3 -3.5l5.1 -2.7l5.6 -2.2l4.1 -1.0l4.1 -2.8l5.4 -1.5l4.3 -2.1l5.3 -1.9l4.3 -2.2l5.5 -1.3l6.2 -1.2l4.2 -1.0 M1760.5 1672.8l3.2 5.6l4.5 4.1l3.7 5.7l3.0 4.8l3.3 5.1l3.2 4.2l4.6 5.2l3.5 4.5l2.7 5.4 M1743.2 1652.6l3.0 3.6l4.7 5.2l2.3 3.4l4.4 5.1l5.9 1.7l5.4 0.9l4.7 1.8l5.6 2.5l5.0 1.0l5.1 2.2 M1783.6 1665.6l4.1 -4.8l1.8 -3.0l3.4 -5.2l4.0 -3.1l4.2 -3.9l2.6 -4.5l-0.8 -5.5l1.4 -6.7l-0.1 -5.5l-0.8 -6.2l0.3 -4.9l-1.7 -5.0l-1.9 -5.1l-3.5 -5.5l-1.5 -4.5l-3.8 -3.6l-3.5 -5.8l-3.1 -4.4l-3.2 -3.3l-3.0 -5.1l-3.6 -3.8 M1803.7 1612.3l2.2 -4.3l3.9 -4.4l2.7 -3.5l2.1 -5.5l3.5 -3.8l2.9 -4.4l4.2 -4.5l3.0 -4.9l3.7 -3.8l2.6 -5.9l3.8 -3.9l1.2 -5.1l2.8 -5.0l1.3 -4.1l2.2 -5.7l1.4 -4.4l1.2 -4.5 M1818.1 1502.9l0.3 5.5l2.3 5.2l-0.5 6.0l1.6 4.6l1.5 4.6l0.6 5.8l0.7 5.4l0.3 5.3l2.0 6.4l1.1 5.1l0.2 6.6l0.2 5.1l1.8 6.9l0.4 5.2l-0.8 5.6l1.3 6.0l1.6 4.9l2.8 6.2l1.4 6.2l2.8 5.7 M1809.5 1547.5l6.5 0.5l4.9 -1.9l6.3 -0.4l5.3 0.4l5.8 -1.6l6.6 -0.1l4.8 -1.3l6.0 0.4l5.6 -1.7l5.7 -1.1l5.9 0.7l5.5 -1.1l6.7 -1.2l5.0 -0.2l6.3 0.9l4.6 0.0l7.2 1.6l4.9 1.7l5.8 0.1l5.9 -0.6l5.3 -0.1l5.7 -1.1l6.6 -0.3l5.3 -0.8l4.2 -2.0l5.8 -0.5l4.4 -1.8 M1841.2 1606.6l4.3 -0.2l5.1 -2.6l4.9 -0.6l5.8 -1.0l6.0 0.4l4.9 -0.6l5.7 -0.5l6.0 -0.7l6.2 0.0l3.8 3.3l4.8 2.9l5.0 2.6l5.1 2.7l4.4 2.9 M1803.7 1572.0l5.5 3.2l3.7 1.3l5.9 2.0l4.0 2.9l5.8 1.9l3.9 3.1l4.1 3.8l4.0 2.0l4.2 3.9l3.7 4.0l3.1 3.7l4.0 2.8l4.9 3.1l4.7 3.8l4.6 3.6l4.7 2.7l4.1 4.0l5.3 0.6l5.8 2.8l4.7 1.0 M1698.6 1560.5l6.1 -0.4l5.0 1.3l4.8 0.0l7.0 1.6l4.2 0.5l6.0 -0.1l6.0 -0.7l5.8 -0.8l5.1 -0.9l6.4 0.6l6.0 -0.6l5.3 -0.5l5.0 0.5l5.8 1.0l4.9 1.5l4.9 0.8l5.3 0.5 M1731.7 1618.1l2.1 -5.6l4.3 -5.4l1.5 -5.4l4.1 -5.1l2.4 -4.4l3.4 -4.8l4.1 -4.5l2.9 -5.4l4.0 -3.3l2.9 -5.1l4.3 -2.8l4.0 -3.7l4.4 -3.6l2.6 -3.0l4.9 -4.2l5.2 -4.8l2.6 -4.1l4.4 -4.3l5.0 -4.0 M1711.6 1540.3l3.2 -3.9l3.9 -3.1l4.6 -2.9l4.2 -4.5l4.2 -2.9l5.4 -2.1l4.2 -4.1l4.1 -2.5l4.6 -3.6l4.8 -2.1l5.1 -1.2l5.6 -1.6l5.1 -1.9l5.6 -1.4l4.5 -2.5l5.1 -2.5l4.4 -1.8l5.0 -2.2l3.8 -3.3l4.7 -1.7l4.9 -2.8l5.8 -1.4l4.3 -2.7l6.4 -2.6l4.5 -2.0l4.5 -0.4l5.7 -1.4l5.0 -0.9l4.9 0.2l5.9 -0.4 M1754.8 1560.5l2.1 -5.5l3.7 -2.9l3.4 -5.8l3.0 -5.0l2.2 -3.9l3.2 -4.2l3.6 -2.3l5.1 -3.6l4.0 -3.4l4.0 -3.1l3.1 -3.5l3.7 -4.2l3.4 -3.1l4.3 -4.0l3.0 -3.1l5.0 -1.6l5.0 -2.7l5.7 -1.9l5.9 -2.5 M1734.6 1549.0l3.0 -5.1l3.2 -3.8l2.1 -3.5l3.2 -4.9l5.6 -2.2l4.8 -2.1l4.8 -1.9l5.0 -1.0l5.7 -0.4l5.5 -2.8l5.2 -0.3l5.4 -1.8l5.5 -0.5 M1792.2 1451.0l3.1 4.0l3.0 4.4l3.8 3.3l3.2 4.1l4.2 4.4l4.6 3.5l2.3 3.9l5.4 3.4l2.8 4.0l4.4 4.3l3.5 3.9l3.3 4.7l4.5 3.7l4.2 4.4l3.4 2.9l4.8 4.5l3.9 3.2l5.3 4.0l3.5 3.6l4.6 3.6l4.6 4.4l3.3 4.5l4.4 3.9l3.7 3.8l4.1 5.0 M1826.8 1458.2l4.7 2.9l4.5 1.2l5.3 2.6l4.1 1.9l5.8 1.4l4.4 3.0l4.3 1.2l6.5 -0.5l3.5 1.7l5.8 0.5l5.4 1.2l5.3 0.6l6.6 1.1l4.7 -0.7l6.4 0.0l5.6 0.3l4.9 -0.3l4.6 -1.0l5.6 -0.1l5.6 -0.6 M1855.6 1500.0l-4.3 5.7l-3.2 4.9l-2.5 5.3l-4.4 4.3l-3.8 4.9l-2.5 3.0l-4.1 5.4l-4.0 3.9l-3.0 4.0l-3.4 4.5l-1.5 4.3l-3.7 4.5 M1875.7 1479.8l3.9 3.1l4.7 2.9l4.3 2.3l3.6 3.8l5.4 1.9l4.0 3.3l3.9 3.5l3.8 4.0l4.4 2.2l3.0 4.0l3.5 3.9l4.5 2.6l2.0 4.3l3.3 4.4l2.5 3.7l3.7 4.9l3.8 6.0l1.5 5.0l3.3 5.7 M1870.0 1451.0l3.2 3.4l4.3 5.6l4.2 2.7l3.6 3.8l4.8 4.7l5.2 6.2l3.5 5.3l2.6 5.4l1.7 3.8l0.8 4.8l1.8 4.6l3.1 5.4l1.5 4.8l0.0 5.4l2.3 6.8l0.7 5.5l1.2 5.5l0.1 5.6 M1864.2 1500.0l0.3 -5.6l0.3 -6.8l0.8 -4.9l2.1 -4.4l2.3 -5.0l2.7 -3.8l3.0 -4.1l3.0 -5.8l1.9 -5.3l1.8 -6.5l2.0 -5.4 M1774.9 1574.9l0.5 5.4l1.2 6.7l1.0 4.8l0.2 6.1l0.8 3.9l2.2 5.2l0.4 5.0l1.9 4.6l2.2 5.5l1.1 4.6l0.8 6.2l1.0 6.1l1.0 5.2l2.2 6.0l0.8 5.3 M1803.7 1659.8l4.3 4.7l4.6 3.6l3.3 3.1l5.1 4.5l5.0 2.2l4.4 2.5l5.4 1.7l5.4 2.2l5.1 3.7l4.7 2.6l5.4 2.9 M1750.4 1494.2l-1.6 6.1l-2.3 5.1l-1.5 6.3l-1.8 5.6l-2.6 3.9l-3.2 5.4l-3.4 3.8l-1.5 4.4l-3.7 5.5l-2.8 4.7l-3.8 5.0l-2.6 5.3l-2.3 5.2l-2.7 3.3l-4.5 5.1l-2.9 2.8l-4.2 4.5l-3.0 4.4l-1.1 5.0l-2.9 5.1l-1.4 4.4l-1.5 6.1l-2.1 4.7l-1.3 5.8l-2.1 3.4l-2.0 5.9"/>
</g>
</g>
<rect x="277.8" y="1332.3" width="54.0" height="31.0" fill="#000" />
<text x="304.8" y="1360.5" font-size="38" text-anchor="middle" fill="#fff" >2 d</text>
<rect x="763.4" y="1332.3" width="54.0" height="31.0" fill="#000" />
<text x="790.4" y="1360.5" font-size="38" text-anchor="middle" fill="#fff" >7 d</text>
<text x="1275.0" y="1360.5" font-size="38" text-anchor="middle" fill="#fff" >7 d</text>
<rect x="1733.7" y="1332.3" width="54.0" height="31.0" fill="#000" />
<text x="1760.7" y="1360.5" font-size="38" text-anchor="middle" fill="#fff" >7 d</text>
<rect x="79.0" y="1744.0" width="170.0" height="37.0" fill="#000" />
<text x="80.5" y="1773.7" font-size="38" text-anchor="start" fill="#fff" >Mobp-EGFP</text>
<text x="1051.5" y="1773.7" font-size="38" text-anchor="start" fill="#6DCFF6" >Tracing</text>
<rect x="1868.0" y="1730.0" width="104.0" height="34.0" fill="#000" />
<text x="1920.0" y="1757.3" font-size="38" text-anchor="middle" fill="#fff" >50 µm</text>
<rect x="1855.4" y="1768.3" width="130.8" height="5.8" fill="#fff" />
<text x="1.0" y="1900.6" font-size="61" text-anchor="start" fill="#000" >H</text>
<defs>
<clipPath id="hc0"><rect x="67.1" y="1867.7" width="556.2" height="139.0"/></clipPath>
<filter id="nzh0" filterUnits="userSpaceOnUse" x="67.1" y="1867.7" width="556.2" height="139.0" color-interpolation-filters="sRGB"><feTurbulence type="fractalNoise" baseFrequency="0.35" numOctaves="1" seed="8" result="t"/><feColorMatrix in="t" type="matrix" values="1.0 0 0 0 -0.56  1.0 0 0 0 -0.56  1.0 0 0 0 -0.56  0 0 0 0 1" result="n"/><feFlood x="68.69999999999999" y="1869.3" width="1.3" height="1.3" flood-color="#000"/><feComposite width="4.4" height="4.4" x="67.1" y="1867.7"/><feTile result="a"/><feComposite in="n" in2="a" operator="in"/><feMorphology operator="dilate" radius="2.2"/></filter>
<clipPath id="hc1"><rect x="67.1" y="2018.1" width="556.2" height="139.0"/></clipPath>
<filter id="nzh1" filterUnits="userSpaceOnUse" x="67.1" y="2018.1" width="556.2" height="139.0" color-interpolation-filters="sRGB"><feTurbulence type="fractalNoise" baseFrequency="0.35" numOctaves="1" seed="9" result="t"/><feColorMatrix in="t" type="matrix" values="1.0 0 0 0 -0.56  1.0 0 0 0 -0.56  1.0 0 0 0 -0.56  0 0 0 0 1" result="n"/><feFlood x="68.69999999999999" y="2019.6999999999998" width="1.3" height="1.3" flood-color="#000"/><feComposite width="4.4" height="4.4" x="67.1" y="2018.1"/><feTile result="a"/><feComposite in="n" in2="a" operator="in"/><feMorphology operator="dilate" radius="2.2"/></filter>
<clipPath id="hc2"><rect x="67.1" y="2169.2" width="556.2" height="139.0"/></clipPath>
<clipPath id="hc3"><rect x="67.1" y="2318.6" width="556.2" height="139.0"/></clipPath>
<filter id="nzh3" filterUnits="userSpaceOnUse" x="67.1" y="2318.6" width="556.2" height="139.0" color-interpolation-filters="sRGB"><feTurbulence type="fractalNoise" baseFrequency="0.35" numOctaves="1" seed="11" result="t"/><feColorMatrix in="t" type="matrix" values="1.0 0 0 0 -0.56  1.0 0 0 0 -0.56  1.0 0 0 0 -0.56  0 0 0 0 1" result="n"/><feFlood x="68.69999999999999" y="2320.2" width="1.3" height="1.3" flood-color="#000"/><feComposite width="4.4" height="4.4" x="67.1" y="2318.6"/><feTile result="a"/><feComposite in="n" in2="a" operator="in"/><feMorphology operator="dilate" radius="2.2"/></filter>
<filter id="bh" x="-5%" y="-20%" width="110%" height="140%"><feGaussianBlur stdDeviation="1.9"/></filter>
</defs>
<g clip-path="url(#hc0)">
<rect x="67.1" y="1867.7" width="556.2" height="139.0" fill="#000" />
<rect x="67.1" y="1867.7" width="556.2" height="139.0" fill="#fff" filter="url(#nzh0)"/>
<g fill="none" stroke="#fff" stroke-linecap="round" filter="url(#bh)">
<path d="M213.7 1900.0l36.3 24.2l32.3 56.4l18.1 28.2" stroke-width="7" stroke-opacity="0.22"/>
<path d="M544.4 1865.7l-12.1 58.5l28.2 84.6" stroke-width="7" stroke-opacity="0.20"/>
<path d="M169.4 1867.7l20.1 16.1l24.2 16.2" stroke-width="7" stroke-opacity="0.12"/>
<circle cx="217.7" cy="1914.1" r="4.5" fill="#fff" fill-opacity="0.5" stroke="none"/>
</g>
</g>
<text x="86.0" y="1947.7" font-size="38" text-anchor="start" fill="#fff" >2 d</text>
<g clip-path="url(#hc1)">
<rect x="67.1" y="2018.1" width="556.2" height="139.0" fill="#000" />
<rect x="67.1" y="2018.1" width="556.2" height="139.0" fill="#fff" filter="url(#nzh1)"/>
<g fill="none" stroke="#fff" stroke-linecap="round" filter="url(#bh)">
<path d="M189.5 2018.1l36.3 31.5l32.3 32.2l24.2 44.4l18.1 32.2" stroke-width="7" stroke-opacity="0.40"/>
<path d="M415.3 2018.1l20.2 23.4l20.1 20.1l12.1 16.2" stroke-width="7" stroke-opacity="0.32"/>
<path d="M556.5 2097.9l16.1 36.3l12.1 24.2" stroke-width="7" stroke-opacity="0.35"/>
<path d="M294.4 2018.1l4.0 15.3" stroke-width="7" stroke-opacity="0.25"/>
<path d="M209.7 2045.5l16.1 -6.0l16.1 18.1" stroke-width="7" stroke-opacity="0.40"/>
<circle cx="455.6" cy="2061.6" r="4" fill="#fff" fill-opacity="0.8" stroke="none"/>
<path d="M170.3 2095.9l14.0 -3.3l1.0 -2.3l21.7 -3.4l2.3 -6.7l19.4 -2.6l1.7 -4.0l16.0 -1.7l2.7 3.3l13.0 -1.6l11.7 6.6l12.7 -1.6l1.7 -4.4l15.7 -1.6l13.4 8.3l15.0 1.0l13.4 5.0l11.0 1.4l1.3 2.0l14.4 -0.7l3.3 3.0l11.7 -1.7l1.7 -4.0l68.5 -7.0l3.3 2.0l16.7 -1.0l2.7 2.7l17.4 -1.7l13.4 14.0l26.7 -3.0l2.7 3.4l9.0 0.6l2.3 2.7l10.0 -1.3l14.4 1.3l21.7 -3.3l30.1 -2.4" stroke-width="13" stroke-opacity="0.35" stroke-linejoin="round" stroke-linecap="butt"/>
<path d="M170.3 2095.9l14.0 -3.3l1.0 -2.3l21.7 -3.4l2.3 -6.7l19.4 -2.6l1.7 -4.0l16.0 -1.7l2.7 3.3l13.0 -1.6l11.7 6.6l12.7 -1.6l1.7 -4.4l15.7 -1.6l13.4 8.3l15.0 1.0l13.4 5.0l11.0 1.4l1.3 2.0l14.4 -0.7l3.3 3.0l11.7 -1.7l1.7 -4.0l68.5 -7.0l3.3 2.0l16.7 -1.0l2.7 2.7l17.4 -1.7l13.4 14.0l26.7 -3.0l2.7 3.4l9.0 0.6l2.3 2.7l10.0 -1.3l14.4 1.3l21.7 -3.3l30.1 -2.4" stroke-width="7.5" stroke-opacity="1" stroke-linejoin="round" stroke-linecap="butt" stroke-dasharray="30 3 18 2 40 4 25 2"/>
</g>
</g>
<text x="86.0" y="2098.1" font-size="38" text-anchor="start" fill="#fff" >7 d</text>
<g clip-path="url(#hc2)">
<rect x="67.1" y="2169.2" width="556.2" height="139.0" fill="#000" />
<path d="M170.3 2245.0l14.0 -3.3l1.0 -2.3l21.7 -3.4l2.3 -6.7l19.4 -2.6l1.7 -4.0l16.0 -1.7l2.7 3.3l13.0 -1.6l11.7 6.6l12.7 -1.6l1.7 -4.4l15.7 -1.6l13.4 8.3l15.0 1.0l13.4 5.0l11.0 1.4l1.3 2.0l14.4 -0.7l3.3 3.0l11.7 -1.7l1.7 -4.0l68.5 -7.0l3.3 2.0l16.7 -1.0l2.7 2.7l17.4 -1.7l13.4 14.0l26.7 -3.0l2.7 3.4l9.0 0.6l2.3 2.7l10.0 -1.3" fill="none" stroke="#6DCFF6" stroke-width="3.3"/>
</g>
<text x="86.0" y="2249.2" font-size="38" text-anchor="start" fill="#fff" >7 d</text>
<g clip-path="url(#hc3)">
<rect x="67.1" y="2318.6" width="556.2" height="139.0" fill="#000" />
<rect x="67.1" y="2318.6" width="556.2" height="139.0" fill="#fff" filter="url(#nzh3)"/>
<g fill="none" stroke="#fff" stroke-linecap="round" filter="url(#bh)">
<path d="M189.5 2318.6l36.3 31.5l32.3 32.2l24.2 44.4l18.1 32.2" stroke-width="7" stroke-opacity="0.40"/>
<path d="M415.3 2318.6l20.2 23.4l20.1 20.1l12.1 16.2" stroke-width="7" stroke-opacity="0.32"/>
<path d="M556.5 2398.4l16.1 36.3l12.1 24.2" stroke-width="7" stroke-opacity="0.35"/>
<path d="M294.4 2318.6l4.0 15.3" stroke-width="7" stroke-opacity="0.25"/>
<path d="M209.7 2346.0l16.1 -6.0l16.1 18.1" stroke-width="7" stroke-opacity="0.40"/>
<circle cx="455.6" cy="2362.1" r="4" fill="#fff" fill-opacity="0.8" stroke="none"/>
<path d="M170.3 2396.4l14.0 -3.3l1.0 -2.3l21.7 -3.4l2.3 -6.7l19.4 -2.6l1.7 -4.0l16.0 -1.7l2.7 3.3l13.0 -1.6l11.7 6.6l12.7 -1.6l1.7 -4.4l15.7 -1.6l13.4 8.3l15.0 1.0l13.4 5.0l11.0 1.4l1.3 2.0l14.4 -0.7l3.3 3.0l11.7 -1.7l1.7 -4.0l68.5 -7.0l3.3 2.0l16.7 -1.0l2.7 2.7l17.4 -1.7l13.4 14.0l26.7 -3.0l2.7 3.4l9.0 0.6l2.3 2.7l10.0 -1.3l14.4 1.3l21.7 -3.3l30.1 -2.4" stroke-width="13" stroke-opacity="0.35" stroke-linejoin="round" stroke-linecap="butt"/>
<path d="M170.3 2396.4l14.0 -3.3l1.0 -2.3l21.7 -3.4l2.3 -6.7l19.4 -2.6l1.7 -4.0l16.0 -1.7l2.7 3.3l13.0 -1.6l11.7 6.6l12.7 -1.6l1.7 -4.4l15.7 -1.6l13.4 8.3l15.0 1.0l13.4 5.0l11.0 1.4l1.3 2.0l14.4 -0.7l3.3 3.0l11.7 -1.7l1.7 -4.0l68.5 -7.0l3.3 2.0l16.7 -1.0l2.7 2.7l17.4 -1.7l13.4 14.0l26.7 -3.0l2.7 3.4l9.0 0.6l2.3 2.7l10.0 -1.3l14.4 1.3l21.7 -3.3l30.1 -2.4" stroke-width="7.5" stroke-opacity="1" stroke-linejoin="round" stroke-linecap="butt" stroke-dasharray="30 3 18 2 40 4 25 2"/>
</g>
<path d="M170.3 2394.4l14.0 -3.3l1.0 -2.3l21.7 -3.4l2.3 -6.7l19.4 -2.6l1.7 -4.0l16.0 -1.7l2.7 3.3l13.0 -1.6l11.7 6.6l12.7 -1.6l1.7 -4.4l15.7 -1.6l13.4 8.3l15.0 1.0l13.4 5.0l11.0 1.4l1.3 2.0l14.4 -0.7l3.3 3.0l11.7 -1.7l1.7 -4.0l68.5 -7.0l3.3 2.0l16.7 -1.0l2.7 2.7l17.4 -1.7l13.4 14.0l26.7 -3.0l2.7 3.4l9.0 0.6l2.3 2.7l10.0 -1.3" fill="none" stroke="#6DCFF6" stroke-width="3.3"/>
</g>
<text x="86.0" y="2398.6" font-size="38" text-anchor="start" fill="#fff" >7 d</text>
<rect x="389.0" y="2417.0" width="118.0" height="31.0" fill="#000" />
<text x="397.5" y="2440.7" font-size="38" text-anchor="start" fill="#fff" >10 µm</text>
<rect x="518.4" y="2430.6" width="90.6" height="6.7" fill="#fff" />
<text x="675.0" y="1899.7" font-size="61" text-anchor="start" fill="#000" >I</text>
<rect x="865.0" y="2097.9" width="47.0" height="218.8" fill="#D9D9D9" />
<rect x="935.9" y="2055.0" width="46.1" height="261.7" fill="#2FB3B0" />
<rect x="1006.2" y="2052.1" width="45.9" height="264.6" fill="#FC6C7E" />
<rect x="1077.0" y="2057.1" width="45.9" height="259.6" fill="#A90533" />
<line x1="838.7" y1="1915.2" x2="838.7" y2="2317.9" stroke="#000" stroke-width="2.5" />
<line x1="827.7" y1="1916.5" x2="838.7" y2="1916.5" stroke="#000" stroke-width="2.5" />
<text x="821.2" y="1929.5" font-size="38" text-anchor="end" fill="#000" >80</text>
<line x1="827.7" y1="2016.5" x2="838.7" y2="2016.5" stroke="#000" stroke-width="2.5" />
<text x="821.2" y="2029.5" font-size="38" text-anchor="end" fill="#000" >60</text>
<line x1="827.7" y1="2116.6" x2="838.7" y2="2116.6" stroke="#000" stroke-width="2.5" />
<text x="821.2" y="2129.6" font-size="38" text-anchor="end" fill="#000" >40</text>
<line x1="827.7" y1="2216.6" x2="838.7" y2="2216.6" stroke="#000" stroke-width="2.5" />
<text x="821.2" y="2229.6" font-size="38" text-anchor="end" fill="#000" >20</text>
<line x1="827.7" y1="2316.7" x2="838.7" y2="2316.7" stroke="#000" stroke-width="2.5" />
<text x="821.2" y="2329.7" font-size="38" text-anchor="end" fill="#000" >0</text>
<line x1="837.5" y1="2316.7" x2="1137.5" y2="2316.7" stroke="#000" stroke-width="2.5" />
<line x1="888.2" y1="2087.5" x2="888.2" y2="2097.9" stroke="#000" stroke-width="2.2" />
<line x1="883.4" y1="2087.5" x2="893.0" y2="2087.5" stroke="#000" stroke-width="2.2" />
<line x1="958.8" y1="2042.9" x2="958.8" y2="2055.0" stroke="#000" stroke-width="2.2" />
<line x1="954.0" y1="2042.9" x2="963.5" y2="2042.9" stroke="#000" stroke-width="2.2" />
<line x1="1029.3" y1="2042.0" x2="1029.3" y2="2052.1" stroke="#000" stroke-width="2.2" />
<line x1="1024.5" y1="2042.0" x2="1034.1" y2="2042.0" stroke="#000" stroke-width="2.2" />
<line x1="1099.8" y1="2024.6" x2="1099.8" y2="2057.1" stroke="#000" stroke-width="2.2" />
<line x1="1095.0" y1="2024.6" x2="1104.6" y2="2024.6" stroke="#000" stroke-width="2.2" />
<circle cx="888.2" cy="2030.5" r="3.8" fill="#7F7F7F" stroke="#000" stroke-width="0.9"/>
<circle cx="892.1" cy="2050.5" r="3.8" fill="#fff" stroke="#000" stroke-width="0.9"/>
<circle cx="880.5" cy="2055.4" r="3.8" fill="#BFBFBF" stroke="#000" stroke-width="0.9"/>
<circle cx="888.2" cy="2065.5" r="3.8" fill="#fff" stroke="#000" stroke-width="0.9"/>
<circle cx="879.6" cy="2070.5" r="3.8" fill="#4D4D4D" stroke="#000" stroke-width="0.9"/>
<circle cx="896.8" cy="2070.5" r="3.8" fill="#000" stroke="#000" stroke-width="0.9"/>
<circle cx="899.6" cy="2085.7" r="3.8" fill="#404040" stroke="#000" stroke-width="0.9"/>
<circle cx="876.6" cy="2090.5" r="3.8" fill="#fff" stroke="#000" stroke-width="0.9"/>
<circle cx="879.6" cy="2100.5" r="3.8" fill="#A6A6A6" stroke="#000" stroke-width="0.9"/>
<circle cx="896.8" cy="2100.5" r="3.8" fill="#CCCCCC" stroke="#000" stroke-width="0.9"/>
<circle cx="888.2" cy="2115.5" r="3.8" fill="#fff" stroke="#000" stroke-width="0.9"/>
<circle cx="880.5" cy="2120.5" r="3.8" fill="#7F7F7F" stroke="#000" stroke-width="0.9"/>
<circle cx="892.0" cy="2125.5" r="3.8" fill="#000" stroke="#000" stroke-width="0.9"/>
<circle cx="888.2" cy="2135.7" r="3.8" fill="#404040" stroke="#000" stroke-width="0.9"/>
<circle cx="883.4" cy="2180.7" r="3.8" fill="#F2F2F2" stroke="#000" stroke-width="0.9"/>
<circle cx="893.0" cy="2180.7" r="3.8" fill="#F2F2F2" stroke="#000" stroke-width="0.9"/>
<circle cx="962.5" cy="1990.5" r="3.8" fill="#E8FAFA" stroke="#000" stroke-width="0.9"/>
<circle cx="945.4" cy="1995.5" r="3.8" fill="#C9F3F3" stroke="#000" stroke-width="0.9"/>
<circle cx="954.8" cy="1995.5" r="3.8" fill="#1F8C8A" stroke="#000" stroke-width="0.9"/>
<circle cx="972.0" cy="1995.5" r="3.8" fill="#1F8C8A" stroke="#000" stroke-width="0.9"/>
<circle cx="962.5" cy="2020.5" r="3.8" fill="#0B3B3A" stroke="#000" stroke-width="0.9"/>
<circle cx="951.1" cy="2025.5" r="3.8" fill="#1F8C8A" stroke="#000" stroke-width="0.9"/>
<circle cx="974.1" cy="2040.5" r="3.8" fill="#E8FAFA" stroke="#000" stroke-width="0.9"/>
<circle cx="942.5" cy="2045.5" r="3.8" fill="#E8FAFA" stroke="#000" stroke-width="0.9"/>
<circle cx="967.1" cy="2045.5" r="3.8" fill="#2A9D9A" stroke="#000" stroke-width="0.9"/>
<circle cx="951.1" cy="2050.5" r="3.8" fill="#4DD0CE" stroke="#000" stroke-width="0.9"/>
<circle cx="962.5" cy="2070.5" r="3.8" fill="#E8FAFA" stroke="#000" stroke-width="0.9"/>
<circle cx="951.1" cy="2075.5" r="3.8" fill="#9BE8E6" stroke="#000" stroke-width="0.9"/>
<circle cx="958.8" cy="2085.7" r="3.8" fill="#4DD0CE" stroke="#000" stroke-width="0.9"/>
<circle cx="958.8" cy="2110.5" r="3.8" fill="#0B3B3A" stroke="#000" stroke-width="0.9"/>
<circle cx="946.4" cy="2115.5" r="3.8" fill="#4DD0CE" stroke="#000" stroke-width="0.9"/>
<circle cx="971.1" cy="2115.5" r="3.8" fill="#2A9D9A" stroke="#000" stroke-width="0.9"/>
<circle cx="958.8" cy="2160.7" r="3.8" fill="#14605E" stroke="#000" stroke-width="0.9"/>
<circle cx="1029.3" cy="1990.5" r="3.8" fill="#FC6C7E" stroke="#000" stroke-width="0.9"/>
<circle cx="1029.3" cy="2015.5" r="3.8" fill="#FFC9CC" stroke="#000" stroke-width="0.9"/>
<circle cx="1029.3" cy="2030.5" r="3.8" fill="#FFE8E8" stroke="#000" stroke-width="0.9"/>
<circle cx="1017.9" cy="2040.5" r="3.8" fill="#3D0614" stroke="#000" stroke-width="0.9"/>
<circle cx="1040.7" cy="2045.5" r="3.8" fill="#A90533" stroke="#000" stroke-width="0.9"/>
<circle cx="1021.6" cy="2050.5" r="3.8" fill="#FFE8E8" stroke="#000" stroke-width="0.9"/>
<circle cx="1029.3" cy="2055.5" r="3.8" fill="#FFE8E8" stroke="#000" stroke-width="0.9"/>
<circle cx="1020.5" cy="2075.5" r="3.8" fill="#A90533" stroke="#000" stroke-width="0.9"/>
<circle cx="1037.9" cy="2075.5" r="3.8" fill="#A90533" stroke="#000" stroke-width="0.9"/>
<circle cx="1029.3" cy="2080.5" r="3.8" fill="#6B0A22" stroke="#000" stroke-width="0.9"/>
<circle cx="1029.3" cy="2115.5" r="3.8" fill="#A90533" stroke="#000" stroke-width="0.9"/>
<circle cx="1099.8" cy="1930.4" r="3.8" fill="#FC6C7E" stroke="#000" stroke-width="0.9"/>
<circle cx="1099.8" cy="1975.5" r="3.8" fill="#FFC9CC" stroke="#000" stroke-width="0.9"/>
<circle cx="1107.3" cy="2050.5" r="3.8" fill="#D90845" stroke="#000" stroke-width="0.9"/>
<circle cx="1092.1" cy="2060.5" r="3.8" fill="#FFE8E8" stroke="#000" stroke-width="0.9"/>
<circle cx="1107.3" cy="2070.5" r="3.8" fill="#4A0515" stroke="#000" stroke-width="0.9"/>
<circle cx="1099.8" cy="2140.5" r="3.8" fill="#FFC9CC" stroke="#000" stroke-width="0.9"/>
<circle cx="1099.8" cy="2170.7" r="3.8" fill="#3D0614" stroke="#000" stroke-width="0.9"/>
<text x="750.0" y="2108.3" font-size="38" text-anchor="middle" fill="#000" transform="rotate(-90 750.0 2108.3)" >Sheath no. per new OL</text>
<text x="909.7" y="2340.7" font-size="38" text-anchor="end" fill="#000" transform="rotate(-45 909.7 2340.7)" >Healthy</text>
<text x="978.8" y="2340.7" font-size="38" text-anchor="end" fill="#000" transform="rotate(-45 978.8 2340.7)" >Vehicle</text>
<text x="1047.8" y="2340.7" font-size="38" text-anchor="end" fill="#000" transform="rotate(-45 1047.8 2340.7)" >0.1 mg/kg</text>
<text x="1116.3" y="2340.7" font-size="38" text-anchor="end" fill="#000" transform="rotate(-45 1116.3 2340.7)" >0.3 mg/kg</text>
<text x="1257.0" y="1899.5" font-size="61" text-anchor="start" fill="#000" >J</text>
<rect x="1465.6" y="1985.8" width="228.9" height="11.9" fill="#D9D9D9" />
<line x1="1465.6" y1="1991.9" x2="1694.5" y2="1991.9" stroke="#A6A6A6" stroke-width="3.8" stroke-dasharray="22.9 22.9" stroke-dashoffset="11.6"/>
<rect x="1770.5" y="1940.0" width="229.5" height="32.9" fill="#D9D9D9" />
<line x1="1770.5" y1="1956.5" x2="2000.0" y2="1956.5" stroke="#A6A6A6" stroke-width="3.8" stroke-dasharray="28 28.1" stroke-dashoffset="12.5"/>
<line x1="1469.1" y1="2050.2" x2="1694.5" y2="2050.2" stroke="#000" stroke-width="3.8" stroke-dasharray="3.8 3.85"/>
<line x1="1770.5" y1="2050.2" x2="1988.8" y2="2050.2" stroke="#000" stroke-width="3.8" stroke-dasharray="3.8 3.85"/>
<line x1="1491.8" y1="2100.6" x2="1537.8" y2="2100.6" stroke="#2FB3B0" stroke-width="3.8" />
<line x1="1514.8" y1="2088.7" x2="1514.8" y2="2112.3" stroke="#000" stroke-width="2" />
<line x1="1510.3" y1="2088.7" x2="1519.3" y2="2088.7" stroke="#000" stroke-width="2" />
<line x1="1510.3" y1="2112.3" x2="1519.3" y2="2112.3" stroke="#000" stroke-width="2" />
<line x1="1562.2" y1="2062.3" x2="1608.2" y2="2062.3" stroke="#FC6C7E" stroke-width="3.8" />
<line x1="1585.2" y1="2050.0" x2="1585.2" y2="2073.5" stroke="#000" stroke-width="2" />
<line x1="1580.7" y1="2050.0" x2="1589.7" y2="2050.0" stroke="#000" stroke-width="2" />
<line x1="1580.7" y1="2073.5" x2="1589.7" y2="2073.5" stroke="#000" stroke-width="2" />
<line x1="1632.8" y1="2058.7" x2="1678.8" y2="2058.7" stroke="#A90533" stroke-width="3.8" />
<line x1="1655.8" y1="2046.1" x2="1655.8" y2="2072.6" stroke="#000" stroke-width="2" />
<line x1="1651.3" y1="2046.1" x2="1660.3" y2="2046.1" stroke="#000" stroke-width="2" />
<line x1="1651.3" y1="2072.6" x2="1660.3" y2="2072.6" stroke="#000" stroke-width="2" />
<line x1="1785.1" y1="2063.9" x2="1831.1" y2="2063.9" stroke="#2FB3B0" stroke-width="3.8" />
<line x1="1808.1" y1="2050.0" x2="1808.1" y2="2077.4" stroke="#000" stroke-width="2" />
<line x1="1803.6" y1="2050.0" x2="1812.6" y2="2050.0" stroke="#000" stroke-width="2" />
<line x1="1803.6" y1="2077.4" x2="1812.6" y2="2077.4" stroke="#000" stroke-width="2" />
<line x1="1855.7" y1="1995.8" x2="1901.7" y2="1995.8" stroke="#FC6C7E" stroke-width="3.8" />
<line x1="1878.7" y1="1980.3" x2="1878.7" y2="2011.6" stroke="#000" stroke-width="2" />
<line x1="1874.2" y1="1980.3" x2="1883.2" y2="1980.3" stroke="#000" stroke-width="2" />
<line x1="1874.2" y1="2011.6" x2="1883.2" y2="2011.6" stroke="#000" stroke-width="2" />
<line x1="1926.4" y1="2009.0" x2="1972.4" y2="2009.0" stroke="#A90533" stroke-width="3.8" />
<line x1="1949.4" y1="1994.8" x2="1949.4" y2="2022.6" stroke="#000" stroke-width="2" />
<line x1="1944.9" y1="1994.8" x2="1953.9" y2="1994.8" stroke="#000" stroke-width="2" />
<line x1="1944.9" y1="2022.6" x2="1953.9" y2="2022.6" stroke="#000" stroke-width="2" />
<line x1="1465.6" y1="1915.5" x2="1465.6" y2="2318.2" stroke="#000" stroke-width="2.5" />
<line x1="1454.6" y1="1916.8" x2="1465.6" y2="1916.8" stroke="#000" stroke-width="2.5" />
<text x="1449.4" y="1929.8" font-size="38" text-anchor="end" fill="#000" >150</text>
<line x1="1454.6" y1="2050.2" x2="1465.6" y2="2050.2" stroke="#000" stroke-width="2.5" />
<text x="1449.4" y="2063.2" font-size="38" text-anchor="end" fill="#000" >100</text>
<line x1="1454.6" y1="2183.5" x2="1465.6" y2="2183.5" stroke="#000" stroke-width="2.5" />
<text x="1449.4" y="2196.5" font-size="38" text-anchor="end" fill="#000" >50</text>
<line x1="1454.6" y1="2316.9" x2="1465.6" y2="2316.9" stroke="#000" stroke-width="2.5" />
<text x="1449.4" y="2329.9" font-size="38" text-anchor="end" fill="#000" >0</text>
<line x1="1454.6" y1="1983.5" x2="1465.6" y2="1983.5" stroke="#000" stroke-width="2.5" />
<line x1="1454.6" y1="2116.8" x2="1465.6" y2="2116.8" stroke="#000" stroke-width="2.5" />
<line x1="1454.6" y1="2250.2" x2="1465.6" y2="2250.2" stroke="#000" stroke-width="2.5" />
<line x1="1464.3" y1="2316.9" x2="1694.5" y2="2316.9" stroke="#000" stroke-width="2.5" />
<line x1="1770.5" y1="2316.9" x2="1988.8" y2="2316.9" stroke="#000" stroke-width="2.5" />
<text x="1514.8" y="1986.9" font-size="37" text-anchor="middle" fill="#A6A6A6" >***</text>
<text x="1584.8" y="1986.9" font-size="37" text-anchor="middle" fill="#A6A6A6" >**</text>
<text x="1657.1" y="1986.9" font-size="37" text-anchor="middle" fill="#A6A6A6" >*</text>
<text x="1514.8" y="2050.8" font-size="37" text-anchor="middle" fill="#000" >**</text>
<text x="1584.8" y="2037.1" font-size="24" text-anchor="middle" fill="#000" >n.s.</text>
<text x="1660.3" y="2037.1" font-size="24" text-anchor="middle" fill="#000" >n.s.</text>
<text x="1808.1" y="1941.1" font-size="37" text-anchor="middle" fill="#A6A6A6" >***</text>
<text x="1878.4" y="1926.8" font-size="24" text-anchor="middle" fill="#A6A6A6" >n.s.</text>
<text x="1951.3" y="1926.8" font-size="24" text-anchor="middle" fill="#A6A6A6" >n.s.</text>
<text x="1808.1" y="2109.0" font-size="24" text-anchor="middle" fill="#000" >n.s.</text>
<text x="1878.1" y="2122.4" font-size="37" text-anchor="middle" fill="#000" >*</text>
<text x="1950.0" y="2122.4" font-size="37" text-anchor="middle" fill="#000" >*</text>
<text x="1585.2" y="1893.0" font-size="38" text-anchor="middle" fill="#000" >3 weeks</text>
<text x="1880.3" y="1893.0" font-size="38" text-anchor="middle" fill="#000" >7 weeks</text>
<text x="1322.0" y="2118.0" font-size="38" text-anchor="middle" fill="#000" transform="rotate(-90 1322.0 2118.0)" >Est. total sheath no. (%)</text>
<text x="1359.5" y="2118.0" font-size="30.5" text-anchor="middle" fill="#000" transform="rotate(-90 1359.5 2118.0)" >(Least square means)</text>
<line x1="1803.4" y1="2250.7" x2="1863.9" y2="2250.7" stroke="#A6A6A6" stroke-width="3.8" stroke-dasharray="23 22"/>
<text x="1871.2" y="2258.9" font-size="30.3" text-anchor="start" fill="#000" >Healthy</text>
<line x1="1803.4" y1="2285.7" x2="1863.9" y2="2285.7" stroke="#000" stroke-width="3.8" stroke-dasharray="3.8 3.85"/>
<text x="1871.2" y="2293.9" font-size="30.3" text-anchor="start" fill="#000" >Baseline</text>
<text x="1531.3" y="2340.9" font-size="38" text-anchor="end" fill="#000" transform="rotate(-45 1531.3 2340.9)" >Vehicle</text>
<text x="1601.7" y="2340.9" font-size="38" text-anchor="end" fill="#000" transform="rotate(-45 1601.7 2340.9)" >0.1 mg/kg</text>
<text x="1672.3" y="2340.9" font-size="38" text-anchor="end" fill="#000" transform="rotate(-45 1672.3 2340.9)" >0.3 mg/kg</text>
<text x="1824.6" y="2340.9" font-size="38" text-anchor="end" fill="#000" transform="rotate(-45 1824.6 2340.9)" >Vehicle</text>
<text x="1895.2" y="2340.9" font-size="38" text-anchor="end" fill="#000" transform="rotate(-45 1895.2 2340.9)" >0.1 mg/kg</text>
<text x="1965.9" y="2340.9" font-size="38" text-anchor="end" fill="#000" transform="rotate(-45 1965.9 2340.9)" >0.3 mg/kg</text>
</svg>
</body></html>
